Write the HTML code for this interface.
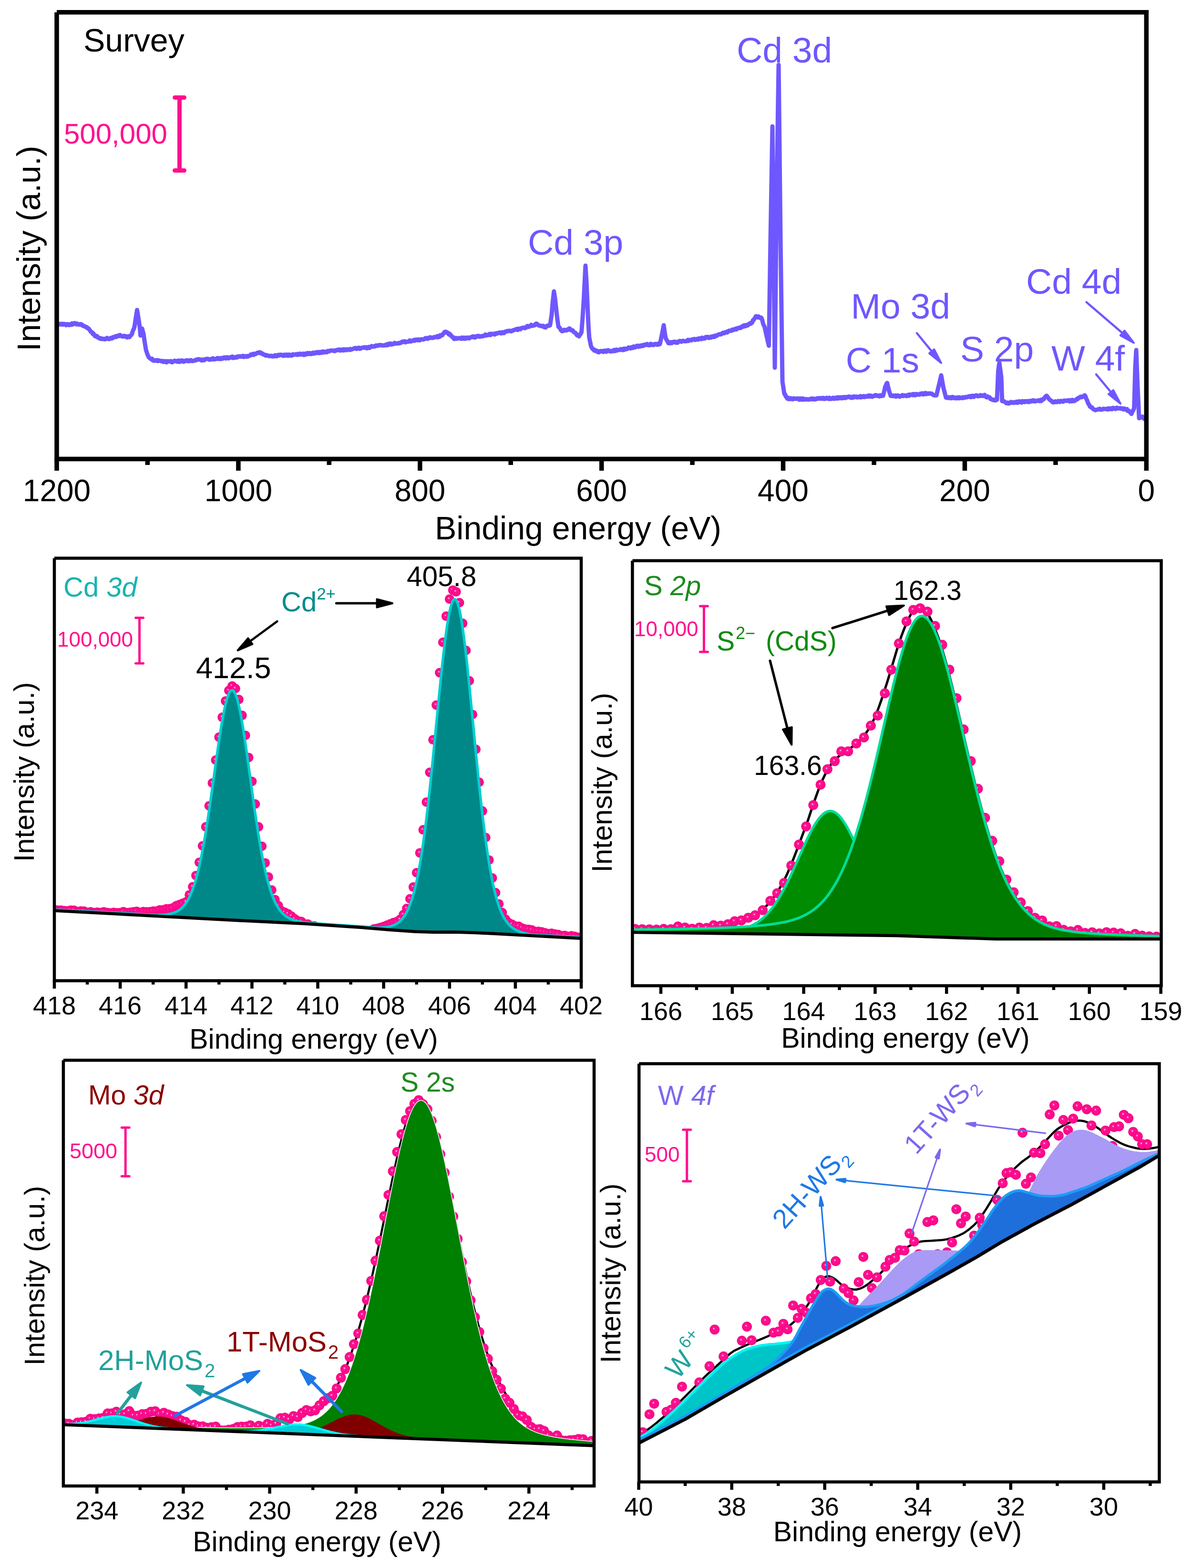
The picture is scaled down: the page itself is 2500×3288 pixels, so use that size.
<!DOCTYPE html>
<html lang="en"><head><meta charset="utf-8"><title>XPS spectra</title>
<style>
html,body{margin:0;padding:0;background:#fff;}
body{width:2500px;height:3288px;overflow:hidden;}
svg{display:block;font-family:'Liberation Sans', Arial, sans-serif;}
</style></head>
<body>
<svg width="2500" height="3288" viewBox="0 0 2500 3288">
<rect x="0" y="0" width="2500" height="3288" fill="#fff"/>
<defs>
<radialGradient id="ball" cx="0.5" cy="0.5" r="0.5" fx="0.40" fy="0.39">
<stop offset="0" stop-color="#fff0f8"/>
<stop offset="0.07" stop-color="#ffc6e3"/>
<stop offset="0.17" stop-color="#ff3aa2"/>
<stop offset="0.28" stop-color="#ff1090"/>
<stop offset="0.85" stop-color="#fb0889"/>
<stop offset="1" stop-color="#ee0580"/>
</radialGradient>
<circle id="b10" r="10" fill="url(#ball)"/>
<circle id="b10_5" r="10.5" fill="url(#ball)"/>
</defs>
<path d="M119.6 679.4 L119.6 680 L121.1 679 L122.6 680.6 L124.1 678.9 L125.6 680.4 L127.1 679.9 L128.6 679 L130.1 680.5 L131.6 679.1 L133.1 680.4 L134.6 679.4 L136.1 679.5 L137.6 680.6 L139.1 682 L140 681 L140.6 679.7 L142.1 679.8 L143.6 680.9 L145.1 681.7 L146.6 680.3 L148.1 679.5 L149.6 681.2 L151.1 678 L152.6 680.4 L154.1 678.3 L155.6 677.7 L157 678.6 L157.1 677.4 L158.6 678.3 L160.1 680.2 L161.6 678.4 L163.1 680 L164.6 680.4 L166.1 679.9 L167.6 680.7 L169.1 679.4 L170 681 L170.6 679.9 L172.1 681 L173.6 683.2 L175.1 683.1 L176.6 683.5 L178.1 685 L179.6 685.3 L181.1 685.5 L182.6 687.8 L184 687.5 L184.1 688.2 L185.6 688.4 L187.1 691 L188.6 692.5 L190.1 695.2 L191.6 696.3 L192 696 L193.1 696.6 L194.6 700.5 L196.1 699.4 L197.6 702 L199.1 704.8 L200 705 L200.6 704.1 L202.1 705.8 L203.6 705 L205.1 707.6 L206.6 708.5 L208.1 708.5 L209.6 710.1 L211.1 708.9 L212.6 710.8 L214 710.7 L214.1 711 L215.6 710.8 L217.1 710.3 L218.6 711.4 L220.1 711.6 L221.6 710 L223.1 710.5 L224.6 708.5 L226.1 710.4 L227.6 710.1 L229.1 711.1 L230.6 710.4 L232.1 708.6 L233.6 708.8 L235.1 709.6 L235.7 709 L236.6 707.1 L238.1 708 L239.6 706.5 L241.1 705.7 L242.6 705 L244.1 706.7 L245.6 704.1 L247.1 703.9 L248.6 703.8 L250 703.6 L250.1 704.8 L251.6 702.4 L253.1 703.8 L254.6 704.3 L256.1 705.5 L257.6 705.5 L259.1 705.8 L260.6 704.1 L262 705 L262.1 704.8 L263.6 704.9 L265.1 706.9 L266.6 707.4 L268.1 705.2 L269.6 705.6 L271.1 706.1 L271.4 707 L272.6 704.6 L274.1 703.6 L275.6 702 L277 700 L277.1 699 L278.6 693.8 L280.1 690.9 L281.6 686.8 L282 685.7 L283.1 678.1 L284.6 667.8 L285 665 L286.1 658.4 L287.5 650 L287.6 650.6 L289.1 659.6 L290 665 L290.6 669.1 L292.1 679.5 L293 685.7 L293.6 692.4 L294.6 703.6 L295.1 701.5 L296.6 695 L298 689 L298.1 689.4 L299.6 694.9 L301 700 L301.1 700.7 L302.6 711.1 L303.6 718 L304.1 721.1 L305.6 730.5 L306 733 L307.1 736.7 L308.6 741.2 L309 743 L310.1 745 L311.6 748.6 L313.1 750.2 L314 751 L314.6 751.4 L316.1 752.5 L317.6 753.5 L319.1 752.3 L320.6 755.8 L321.4 755 L322.1 756 L323.6 756.6 L325.1 756.6 L326.6 755.6 L328.1 755.9 L329.6 755.2 L331.1 757.2 L332.6 755.7 L334.1 756 L335.6 756.7 L337.1 756.8 L338.6 757.7 L340.1 757 L341.6 757.1 L343 759 L343.1 757.9 L344.6 757.6 L346.1 758.4 L347.6 757.3 L349.1 759.9 L350.6 759 L352.1 757.4 L353.6 757.7 L355.1 757.9 L356.6 757.9 L358.1 757.1 L359.6 759.3 L361.1 759.7 L362.6 758 L364.1 758 L365.6 756.6 L367.1 756.6 L368.6 757.3 L370.1 757 L371.6 758.7 L373.1 756.5 L374.6 756 L376.1 758.9 L377.6 757.5 L379.1 756.2 L380.6 757.4 L382.1 755.7 L383.6 757.2 L385.1 758.6 L385.7 757 L386.6 758.1 L388.1 757.5 L389.6 756 L391.1 756.2 L392.6 755.4 L394.1 757.3 L395.6 756.4 L397.1 757.1 L398.6 755.5 L400.1 755.1 L401.6 756.8 L403.1 757.3 L404.6 756.8 L406.1 756.5 L407.6 756.4 L409.1 756.1 L410.6 754.3 L412.1 755.1 L413.6 754.5 L415.1 753.3 L416.6 753.2 L418.1 753.9 L419.6 753.8 L421.1 755 L422.6 755.8 L424.1 754 L425.6 755.5 L427.1 755.5 L428.6 755.3 L430.1 753.3 L431.6 752.8 L433.1 752.7 L434.6 752.5 L436.1 752.4 L437.6 753.6 L439.1 754.4 L440.6 754.1 L442.1 752.8 L443.6 753.3 L445.1 753.6 L446.6 751.2 L448.1 753 L449.6 753.7 L451.1 753.1 L452.6 752.9 L454.1 751.9 L455.6 750.9 L457 751.8 L457.1 752.7 L458.6 751.1 L460.1 752.5 L461.6 752.9 L463.1 751 L464.6 750.8 L466.1 752.5 L467.6 751.6 L469.1 749.7 L470.6 749.5 L472.1 749.4 L473.6 751.7 L475.1 751.3 L476.6 749 L478.1 751.1 L479.6 751.4 L481.1 750.3 L482.6 749.2 L484.1 749.7 L485.6 748.2 L487.1 747.7 L488.6 750.7 L490.1 749.5 L491.6 749 L493.1 750.2 L494.6 748.4 L496.1 749.7 L497.6 749.4 L499.1 747.3 L500.6 747.3 L502.1 747.4 L503.6 747.1 L505.1 748 L506.6 746.9 L508.1 747.3 L509.6 746.2 L511.1 748.6 L512.6 746.7 L514.1 746.9 L515.6 747.2 L517.1 748.1 L518.6 746.4 L520.1 747.8 L521.4 746.4 L521.6 746.3 L523.1 746 L524.6 745.5 L526.1 743.5 L527.6 744.4 L529.1 743.1 L530.6 742.1 L532.1 744.2 L533 743 L533.6 741.7 L535.1 742.1 L536.6 742.3 L538.1 741.1 L539.6 739.8 L541.1 739.8 L542.6 739.3 L543 739 L544.1 740.3 L545.6 738.8 L547.1 740.8 L548.6 740.4 L550.1 741.1 L551.6 743.3 L553 743 L553.1 743.1 L554.6 743.7 L556.1 744.8 L557.6 745.7 L559.1 744.7 L560.6 745.7 L562.1 745.8 L563.6 746.3 L564 746.4 L565.1 747 L566.6 746.1 L568.1 746.3 L569.6 746.1 L571.1 747.5 L572.6 746.6 L574.1 747.1 L575.6 747.3 L577.1 745 L578.6 745.9 L580.1 747.1 L581.6 746.7 L583.1 744.3 L584.6 744.2 L586.1 745.2 L587.6 743.9 L589.1 744.4 L590.6 743.8 L592.1 745.6 L593.6 745.9 L595.1 746.2 L596.6 743.7 L598.1 745.5 L599.6 745.2 L601.1 743.5 L602.6 745.8 L604.1 746 L605.6 743.5 L607.1 745.8 L608.6 744 L610.1 744.2 L611.6 745.7 L613.1 745.1 L614.6 742.9 L616.1 743.7 L617.6 743.9 L619.1 743.3 L620.6 742.7 L622.1 743.1 L623.6 744.3 L625.1 742 L626.6 743.6 L628.1 743.2 L629.6 741.7 L631.1 742.7 L632.6 743.5 L634.1 743.1 L635.6 741.6 L635.7 743 L637.1 744.4 L638.6 743.6 L640.1 744 L641.6 741.1 L643.1 741.4 L644.6 740.5 L646.1 742.7 L647.6 740.9 L649.1 740.3 L650.6 741.1 L652.1 742.5 L653.6 742 L655.1 740 L656.6 739.5 L658.1 741.8 L659.6 740.5 L661.1 740.8 L662.6 738.6 L664.1 738.4 L665.6 740.2 L667.1 739.2 L668.6 737.9 L670.1 740.5 L671.6 739.4 L673.1 739.7 L674.6 737.3 L676.1 739.6 L677.6 736.9 L679.1 739.2 L680.6 737.8 L682.1 737.2 L683.6 737.7 L685.1 738.8 L686.6 736.5 L688.1 735.9 L689.6 737 L691.1 735.9 L692.6 735.3 L694.1 735.3 L695.6 734.8 L697.1 735.1 L698.6 735.3 L700 735.7 L700.1 735.1 L701.6 736.4 L703.1 734.7 L704.6 735.2 L706.1 734.1 L707.6 734.5 L709.1 733.2 L710.6 733.8 L712.1 732.9 L713.6 735.1 L715.1 734.4 L716.6 733 L718.1 733.8 L719.6 735.1 L721.1 732.3 L722.6 734.5 L724.1 733.1 L725.6 733.1 L727.1 734.1 L728.6 732.5 L730.1 732.7 L731.6 733.1 L733.1 733.9 L734.6 731.7 L736.1 733.2 L737.6 732.6 L739.1 732.2 L740.6 731.3 L742.1 731 L743.6 729.9 L745.1 730 L746.6 729.7 L748.1 731.7 L749.6 730 L751.1 729.5 L752.6 729.1 L754.1 731.4 L755.6 731.3 L757.1 730.5 L758.6 729.1 L760.1 728.9 L761.6 728.9 L763.1 729.3 L764.6 728.1 L766.1 728.9 L767.6 728.2 L769.1 730.3 L770.6 730.2 L771 728.6 L772.1 728.6 L773.6 727.4 L775.1 729.5 L776.6 727.2 L778.1 727.1 L779.6 725.7 L781.1 726.7 L782.6 726.8 L784.1 726.7 L785.6 725.5 L787.1 726.2 L788.6 724.4 L790.1 725 L791.6 724.2 L793.1 725 L794.6 723.6 L796.1 723.3 L797.6 724 L799.1 723.6 L800.6 724.5 L802.1 724.1 L803.6 724.6 L805.1 724 L806.6 724 L808.1 724.3 L809.6 722.5 L811.1 722.1 L812.6 724 L814.1 721.1 L815.6 722.7 L817.1 722.2 L818.6 720.1 L820.1 722.4 L821.6 722.3 L823.1 721.3 L824.6 721.4 L826.1 721.4 L827.6 719 L829.1 720 L830.6 719.8 L832.1 720.6 L833.6 720.3 L835.1 720.1 L836.6 719.1 L838.1 719.9 L839.6 719 L841.1 718.8 L842.6 717.1 L843 717.9 L844.1 716.2 L845.6 716.3 L847.1 716.8 L848.6 715.8 L850.1 717.9 L851.6 716.8 L853.1 716.8 L854.6 716.5 L856.1 716.5 L857.6 715.6 L859.1 713.8 L860.6 716.2 L862.1 715.8 L863.6 714.7 L865.1 714.6 L866.6 714.8 L868.1 712.7 L869.6 714.6 L871.1 712.8 L872.6 712 L874.1 712.4 L875.6 713.6 L877.1 711.7 L878.6 713.2 L880.1 713.7 L881.6 712 L883.1 711.4 L884.6 711.4 L886.1 711.9 L887.6 711.9 L889.1 711.2 L890.6 711 L892.1 709 L893.6 709 L895.1 709.1 L896.6 710.4 L898.1 708.8 L899.6 709.4 L901.1 707.4 L902.6 707.3 L904.1 707.8 L905.6 708.8 L907.1 708.7 L908.6 708.4 L910.1 706.9 L911.6 707.4 L913.1 707 L914 707 L914.6 706.7 L916.1 705.2 L917.6 707.3 L919.1 704.6 L920.6 706.7 L922.1 706.2 L923.6 702.8 L925 704 L925.1 703.8 L926.6 703.5 L928.1 702.6 L929.6 699.6 L931.1 697.6 L932.6 696.1 L934 695.7 L934.1 697.2 L935.6 695.7 L937.1 697.7 L938.6 697.2 L940.1 699.3 L941.6 701.5 L943.1 699.8 L944.6 702.8 L944.6 701.8 L946.1 703.3 L947.6 706 L949.1 706.9 L950.6 706.9 L952.1 710.5 L953.6 710.7 L953.6 710.7 L955.1 709 L956.6 708.8 L958.1 710.3 L959.6 710 L961.1 709.4 L962.6 708.8 L964.1 709.3 L965.6 709.1 L967.1 710.6 L968.6 707.8 L970.1 710.1 L971.6 710.2 L973.1 707.8 L974.6 710.2 L976.1 709.4 L977.6 709.9 L979.1 707.8 L980.6 707.9 L982.1 707.9 L983.6 709.7 L985.1 708.2 L985.7 707.9 L986.6 707.3 L988.1 707.3 L989.6 706.6 L991.1 705.6 L992.6 705.6 L994.1 707.7 L995.6 705.7 L997.1 707.6 L998.6 705.1 L1000.1 704.9 L1001.6 705.5 L1003.1 704.2 L1004.6 704.6 L1006.1 706.2 L1007.6 705.8 L1009.1 705.3 L1010.6 704.5 L1012.1 705.2 L1013.6 705 L1015.1 703.6 L1016.6 703.9 L1018.1 701.5 L1019.6 703.5 L1021.1 702.3 L1022.6 703.1 L1024.1 702.5 L1025.6 701.1 L1027.1 700.1 L1028.6 702.7 L1030.1 699.9 L1031.6 700.8 L1033.1 700.2 L1034.6 699.8 L1036.1 701 L1037.6 701.5 L1039.1 699 L1040.6 700 L1042.1 698.6 L1043.6 699.2 L1045.1 698.5 L1046.6 697.5 L1048.1 697.3 L1049.6 697.2 L1051.1 699.2 L1052.6 697.7 L1054.1 696.5 L1055.6 698.5 L1057 697 L1057.1 698.6 L1058.6 696.5 L1060.1 695.2 L1061.6 695 L1063.1 694.3 L1064.6 694.8 L1066.1 693.7 L1067.6 693.8 L1069.1 693.5 L1070.6 694.2 L1072.1 694.9 L1073.6 694.1 L1075.1 692.7 L1076.6 692.4 L1078.1 692.4 L1079.6 691.6 L1081.1 691.1 L1082.6 689.9 L1084.1 690.3 L1085.6 692.1 L1087.1 689.1 L1088.6 690 L1090.1 690.1 L1091.6 690.5 L1093 689 L1093.1 688.1 L1094.6 687.8 L1096.1 687.3 L1097.6 687.3 L1099.1 687 L1100.6 688.2 L1102.1 687.4 L1103.6 687.1 L1105.1 683.9 L1106.6 683.5 L1108.1 685.2 L1109.6 685.4 L1111.1 683.6 L1112.6 683.5 L1114.1 681.2 L1115.6 682 L1117.1 683.3 L1118.6 682.5 L1120.1 682.2 L1121.6 682.1 L1123.1 679.4 L1124.6 678.5 L1125 679.6 L1126.1 678.9 L1127.6 680.6 L1129.1 681.6 L1130.6 682.9 L1132.1 682.7 L1133.6 683 L1135.1 683.9 L1136.6 683.4 L1138.1 684.2 L1139.6 683.1 L1141.1 686 L1142.6 684.7 L1143 685.7 L1144.1 686.7 L1145.6 685.3 L1147.1 683.6 L1148.6 682.6 L1150.1 682.4 L1151.6 683.1 L1153.1 682.2 L1153.6 682 L1154.6 675.5 L1156.1 665.8 L1157 660 L1157.6 652.7 L1159 635.7 L1159.1 634.8 L1160.6 621.6 L1161.8 611 L1162.1 612.9 L1163.6 622.5 L1164 625 L1165.1 634.9 L1166 643 L1166.6 648.4 L1168.1 661.9 L1169 670 L1169.6 673.9 L1171.1 684.4 L1171.4 685.7 L1172.6 685.9 L1174.1 687.7 L1175.6 691 L1177.1 693 L1178.6 694.2 L1178.6 694.6 L1180.1 693.2 L1181.6 693.9 L1183.1 691.5 L1184.6 692 L1186.1 692 L1187.6 693.1 L1189.1 691.6 L1190.6 691.9 L1192.1 690 L1193.6 688.8 L1194.6 689.3 L1195.1 688.9 L1196.6 692.3 L1198.1 692.5 L1199.6 692.4 L1201.1 692.6 L1202.6 695.2 L1204.1 696.9 L1205 697 L1205.6 697.3 L1207.1 698.1 L1208.6 700.8 L1210.1 703 L1211.6 702.1 L1213.1 702.8 L1214.3 705.4 L1214.6 704.4 L1216.1 702.1 L1217.6 700.4 L1219.1 697.2 L1219.6 696.4 L1220.6 683.3 L1222 665 L1222.1 663.4 L1223.6 639.7 L1224.3 628.6 L1225.1 612.7 L1226.6 582.9 L1227.9 557 L1228.1 560.1 L1229.6 583.7 L1230 590 L1231.1 615.1 L1232 635.7 L1232.6 649 L1234 680 L1234.1 681.6 L1235.6 705.4 L1235.7 707 L1237.1 714.2 L1238.6 721 L1239 724 L1240.1 727.2 L1241.6 730 L1243 732 L1243.1 732.1 L1244.6 731.9 L1246.1 735.1 L1247.6 733.8 L1249.1 736.2 L1250.6 735.1 L1252.1 735.8 L1253.6 738.3 L1253.6 737.5 L1255.1 736.7 L1256.6 738.7 L1258.1 737.1 L1259.6 736 L1261.1 736 L1262.6 736.6 L1264.1 737.2 L1265.6 738 L1267.1 735.4 L1268.6 736 L1270.1 735.3 L1271.6 737.7 L1273.1 734.9 L1274.6 734.5 L1276.1 734.4 L1277.6 735.3 L1279.1 736.9 L1280.6 736.7 L1282.1 736.1 L1283.6 736.8 L1285.1 736.5 L1286.6 734.5 L1288.1 733.9 L1289.6 736.2 L1291.1 735.5 L1292.6 733.1 L1294.1 735 L1295.6 733.9 L1297.1 733.8 L1298.6 733.6 L1300 734 L1300.1 732.9 L1301.6 732.1 L1303.1 732.7 L1304.6 732.6 L1306.1 734.2 L1307.6 731.2 L1309.1 733.6 L1310.6 730.9 L1312.1 731.1 L1313.6 732.2 L1315.1 731.9 L1316.6 730.4 L1318.1 728.8 L1319.6 729.9 L1321.1 729.3 L1322.6 730.7 L1324.1 728.1 L1325.6 728.3 L1327.1 729.7 L1328.6 726.6 L1330.1 727.5 L1331.6 728.5 L1333.1 728.1 L1334.6 725.4 L1336.1 725.1 L1337.6 724.9 L1339.1 727.3 L1340.6 724.9 L1342.1 726.2 L1343.6 726.3 L1345.1 724.2 L1346.6 723.7 L1348.1 725.6 L1349.6 724.2 L1351.1 722.8 L1352.6 723.9 L1353.6 723 L1354.1 722.4 L1355.6 722.2 L1357.1 721.2 L1358.6 723.6 L1360.1 724 L1361.6 723 L1363.1 723.9 L1364.6 720.9 L1366.1 721.5 L1367.6 722.2 L1369.1 723.6 L1370.6 723.6 L1372.1 721.7 L1373.6 721.2 L1375.1 721.6 L1376.6 721.8 L1378.1 723.1 L1379.6 720.6 L1381.1 722.5 L1382.6 722.2 L1384 721.4 L1384.1 720.9 L1385.6 714 L1387.1 707 L1388.6 700 L1388.6 700 L1390.1 692.1 L1391.6 684.1 L1392 682 L1393.1 689.4 L1394.6 699.6 L1395.7 707 L1396.1 708.9 L1397.6 711.8 L1399.1 714.4 L1400.6 716.6 L1401.8 719.6 L1402.1 719 L1403.6 718.9 L1405.1 720.1 L1406.6 717.6 L1408.1 717.8 L1409.6 719.3 L1411.1 717.5 L1412.6 716.7 L1414.1 716.4 L1415.6 717.9 L1417.1 717 L1418.6 718.9 L1420.1 718.3 L1421.6 718.5 L1423.1 716 L1424.6 715.2 L1426.1 715 L1427.6 716.1 L1429.1 716.6 L1430.6 715.5 L1432.1 714.6 L1433.6 715 L1435.1 715.5 L1436.6 715.4 L1438.1 715.5 L1439.6 715.6 L1441.1 714.8 L1442.6 712.8 L1443 714 L1444.1 714.9 L1445.6 712.9 L1447.1 713.6 L1448.6 712.7 L1450.1 713.6 L1451.6 711.7 L1453.1 711.6 L1454.6 711.4 L1456.1 710.8 L1457.6 712.9 L1459.1 711.7 L1460.6 710.7 L1462.1 710.7 L1463.6 712.3 L1465.1 710.5 L1466.6 709.4 L1468.1 711 L1469.6 710.3 L1471.1 711.1 L1472.6 708.1 L1474.1 709 L1475.6 709.9 L1477.1 709.7 L1478.6 709.7 L1480.1 706.7 L1481.6 707.2 L1483.1 706.4 L1484.6 706.4 L1486.1 708.7 L1487.6 707.2 L1489.1 708.1 L1490.6 706.1 L1492.1 707.4 L1493.6 705.8 L1495.1 705 L1496.6 706.4 L1498.1 706.7 L1499.6 703.8 L1500 705 L1501.1 704.9 L1502.6 704.5 L1504.1 702.7 L1505.6 702.6 L1507.1 701.4 L1508.6 701 L1510.1 700.7 L1511.6 701.3 L1513.1 700.9 L1514.6 698.9 L1516.1 697.8 L1517.6 698.3 L1519.1 698.9 L1520.6 696.8 L1522.1 696.7 L1523.6 695.8 L1525.1 697.2 L1526.6 695.8 L1528.1 693.8 L1529.6 693.4 L1531.1 693.8 L1532.6 693.8 L1534.1 693.5 L1535.6 691.2 L1537.1 690.9 L1538.6 692.1 L1540.1 690.7 L1541.6 689.7 L1543.1 689.3 L1544.6 690.8 L1546.1 688.3 L1547.6 688.6 L1549.1 687.4 L1550 687.5 L1550.6 687 L1552.1 687.9 L1553.6 687.8 L1555.1 685.2 L1556.6 684.2 L1558.1 685.3 L1559.6 683.1 L1561.1 682 L1562.6 684.3 L1564.1 682.2 L1565.6 683 L1567.1 681.1 L1568.6 682.1 L1570.1 680.2 L1571.6 678.7 L1573.1 677.7 L1574.6 678.9 L1575 678.6 L1576.1 677.5 L1577.6 676.3 L1579.1 671.5 L1580.6 671.1 L1582.1 668.2 L1583.6 666.6 L1585.1 663.3 L1585.7 663.6 L1586.6 663.1 L1588.1 664.2 L1589.6 665.8 L1591.1 663.6 L1592.6 665.1 L1594.1 666.5 L1595.6 667.3 L1596.4 666 L1597.1 666.9 L1598.6 670.8 L1600.1 677.5 L1601.6 681.7 L1603.1 684.3 L1603.6 685.7 L1604.6 690.2 L1606.1 696.9 L1607.6 703.7 L1609 710 L1609.1 710.4 L1610.6 716.9 L1612.1 723.3 L1612.5 725 L1613.6 654.3 L1615.1 557.9 L1616 500 L1616.6 464.8 L1618.1 376.6 L1619.6 288.5 L1620 265 L1621.1 368.4 L1622.5 500 L1622.6 510.8 L1624.1 673.4 L1625 771 L1625.6 715.4 L1627.1 576.2 L1628.6 437.1 L1629 400 L1630.1 327.4 L1631.6 228.4 L1633 136 L1633.1 145.1 L1634.6 281.6 L1636.1 418.1 L1637 500 L1637.6 545 L1639.1 657.5 L1640.6 770 L1641 800 L1642.1 807.1 L1643.6 816.9 L1645 826 L1645.1 826.1 L1646.6 826.8 L1648.1 831.7 L1649.6 832 L1651.1 835.7 L1652 835.7 L1652.6 836.1 L1654.1 836.8 L1655.6 834.8 L1657.1 836.8 L1658.6 835.1 L1660.1 835.7 L1661.6 837.2 L1663.1 837.2 L1664.6 835.2 L1666.1 835.4 L1667.6 836.1 L1669.1 836.5 L1670.6 836.1 L1672.1 835.4 L1673.6 835.8 L1675.1 837.4 L1676.6 838.1 L1678.1 835.4 L1679.6 837.1 L1681.1 837.8 L1682.6 835.6 L1684.1 838.2 L1685.6 836 L1687.1 837.6 L1688.6 837.5 L1690.1 837.8 L1691.6 836.8 L1693 837.5 L1693.1 837.2 L1694.6 837.7 L1696.1 837.1 L1697.6 837.8 L1699.1 837 L1700.6 836.9 L1702.1 835.5 L1703.6 837.4 L1705.1 836.9 L1706.6 836 L1708.1 837.6 L1709.6 837.6 L1711.1 836.5 L1712.6 835.5 L1714.1 836.4 L1715.6 835.1 L1717.1 835.1 L1718.6 836 L1720.1 834.9 L1721.6 835.9 L1723.1 836 L1724.6 834.5 L1726.1 836.3 L1727.6 834.5 L1729.1 836.5 L1730.6 836.5 L1732.1 835.6 L1733.6 834.1 L1735.1 835.4 L1736.6 835 L1738.1 836.7 L1739.6 834 L1741.1 836.3 L1742.6 836.6 L1744.1 835.7 L1745.6 835.9 L1747.1 833.9 L1748.6 836.3 L1750.1 834.7 L1751.6 836.1 L1753.1 835.9 L1754.6 833.4 L1756.1 835.3 L1757.6 835.7 L1759.1 832.9 L1760.6 833.7 L1762.1 834.9 L1763.6 832.9 L1764 834 L1765.1 835.2 L1766.6 833.1 L1768.1 834.8 L1769.6 832.5 L1771.1 833.6 L1772.6 834.9 L1774.1 832.5 L1775.6 832.6 L1777.1 833.3 L1778.6 832.6 L1780.1 831.6 L1781.6 832 L1783.1 831.9 L1784.6 834.3 L1786.1 833.3 L1787.6 834 L1789.1 831.5 L1790.6 833.4 L1792.1 831.2 L1793.6 832.5 L1795.1 832.7 L1796.6 831.7 L1798.1 833.3 L1799.6 832.2 L1801.1 832.2 L1802.6 833.1 L1804.1 830.5 L1805.6 833.3 L1807.1 832 L1808.6 831.2 L1810.1 832.4 L1811.6 830.6 L1813.1 832.8 L1814.6 831.4 L1816.1 830.7 L1817.6 831.9 L1819.1 830.8 L1820.6 829.8 L1822.1 831.6 L1823.6 829.2 L1825.1 831.6 L1826.6 829.7 L1828.1 830.9 L1829.6 831.9 L1831.1 830.5 L1832.6 830.7 L1834.1 829.5 L1835.6 828.4 L1836 830 L1837.1 828.5 L1838.6 828.9 L1840.1 830.4 L1841.6 829.8 L1843.1 830 L1844.6 831.3 L1846.1 828.8 L1847.6 829.1 L1849.1 830.5 L1850.6 828.5 L1852 830 L1852.1 829.6 L1853.6 823.8 L1855.1 818 L1856.6 810.7 L1857 810.7 L1858.1 807.9 L1859.6 804 L1860.7 803 L1861.1 804.7 L1862.6 811 L1864.1 817.2 L1865 821 L1865.6 822.8 L1867.1 826.8 L1868 830 L1868.6 829.1 L1870.1 830.4 L1871.6 830.4 L1873.1 829.3 L1874.6 830.7 L1876.1 830.2 L1877.6 829.2 L1879.1 831.8 L1880.6 829.7 L1882.1 829.4 L1883.6 829.3 L1885.1 831.1 L1885.7 830.7 L1886.6 831.8 L1888.1 831.4 L1889.6 830 L1891.1 829.4 L1892.6 828.5 L1894.1 830.4 L1895.6 830 L1897.1 829.1 L1898.6 829.9 L1900.1 829.2 L1901.6 830.6 L1903.1 829.8 L1904.6 828.1 L1906.1 830.1 L1907.6 827.2 L1909.1 828.6 L1910.6 828 L1912.1 827.4 L1913.6 826.6 L1915.1 828.8 L1916.6 826.2 L1918.1 827.8 L1919.6 828.9 L1921.1 826.2 L1922.6 826.3 L1924.1 827.4 L1925.6 827 L1927.1 827.2 L1928.6 827.6 L1930.1 825.5 L1931.6 825.8 L1933.1 825.6 L1934.6 824.6 L1936.1 827.2 L1937.6 826.7 L1939.1 826.3 L1940.6 823.9 L1942.1 826.5 L1943.6 826 L1945.1 825 L1946 825 L1946.6 825.9 L1948.1 825.3 L1949.6 824.9 L1951.1 824.9 L1952.6 825.6 L1954.1 825.3 L1955.6 826.6 L1957.1 828.3 L1958.6 828.4 L1960.1 829.2 L1961.6 829.1 L1963.1 828.1 L1964 829 L1964.6 826.5 L1966.1 820.3 L1967.6 814 L1969.1 807.8 L1969.6 805.7 L1970.6 801.5 L1972.1 795.1 L1973.6 788.7 L1974 787 L1975.1 793.2 L1976.6 801.7 L1978.1 810.2 L1978.6 813 L1979.6 816.8 L1981.1 822.5 L1982.6 828.3 L1984 833.6 L1984.1 833.8 L1985.6 833.4 L1987.1 834.6 L1988.6 833.7 L1990.1 832.9 L1991.6 834.2 L1993.1 835.2 L1994.6 832.9 L1996.1 835 L1997.6 832.3 L1999.1 833.1 L2000.6 833 L2002.1 834.7 L2003.6 835.3 L2005.1 834.7 L2006.6 833.4 L2008.1 835.2 L2009.6 833.4 L2010.7 834 L2011.1 833.1 L2012.6 835.1 L2014.1 834.1 L2015.6 834.2 L2017.1 833.9 L2018.6 834.8 L2020.1 833 L2021.6 834.1 L2023.1 833.5 L2024.6 833.8 L2026.1 832.4 L2027.6 833.1 L2029.1 832.5 L2030.6 831.5 L2032.1 831.1 L2033.6 832.2 L2035.1 830.4 L2036.6 832.9 L2038.1 830.3 L2039.6 829.8 L2041.1 829.9 L2042.6 832.4 L2044.1 830.4 L2045.6 829.6 L2047.1 829.1 L2048.6 829 L2050.1 830.9 L2051.6 830.6 L2053.1 830.7 L2054.6 830.6 L2056.1 828.4 L2057.6 829.9 L2059.1 829 L2060.6 830.3 L2062.1 830.2 L2063.6 830.3 L2064 829 L2065.1 828.1 L2066.6 831.4 L2068.1 832.3 L2069.6 833.2 L2071.1 831.2 L2072.6 832.3 L2074.1 832.7 L2075.6 833.2 L2077.1 836.5 L2078.6 837.1 L2080.1 837.3 L2081.6 838.6 L2083.1 838.8 L2084.6 838.4 L2085.7 839.6 L2086.1 838.2 L2087.6 837.7 L2089.1 839.4 L2090.6 838.1 L2091 838 L2092.1 812.2 L2093.6 777 L2093.6 777 L2095.1 766.1 L2096 761 L2096.6 765.5 L2098.1 776.7 L2099.6 788 L2100 791 L2101.1 821.6 L2101.8 841 L2102.6 840.8 L2104.1 841.8 L2105.6 841.2 L2107.1 842.6 L2108.6 843.4 L2110.1 845.4 L2110.7 845 L2111.6 844.5 L2113.1 844.3 L2114.6 846.2 L2116.1 844.6 L2117.6 845.6 L2119.1 844.8 L2120.6 842.8 L2122.1 843.9 L2123.6 843.9 L2125.1 844.8 L2126.6 843.4 L2128.1 844.4 L2129.6 843.8 L2131.1 842.6 L2132.6 844.6 L2134.1 842 L2135.6 844.2 L2137.1 842 L2138.6 841.4 L2140.1 841.9 L2141.6 843.6 L2143.1 844.2 L2144.6 841 L2146.1 842.4 L2147.6 842.3 L2149.1 843.2 L2150.6 841.1 L2152.1 842 L2153.6 841.4 L2155.1 842.9 L2156.6 840.9 L2158.1 843 L2159.6 840.8 L2161.1 840.5 L2162.6 841.9 L2164.1 841.1 L2165.6 839.8 L2167.1 841.4 L2168.6 839.5 L2170.1 841.6 L2171.6 841.2 L2173.1 841.4 L2174.6 840.8 L2176.1 839.8 L2177.6 839.9 L2179.1 839.7 L2180.6 841.2 L2182.1 838.5 L2183.6 841 L2185.1 838.1 L2185.7 839.6 L2186.6 837.7 L2188.1 836.3 L2189.6 836.7 L2191.1 833.8 L2192.6 831.8 L2194.1 831.8 L2194.6 830 L2195.6 830.2 L2197.1 832.5 L2198.6 834.3 L2200.1 836.6 L2201.6 838.1 L2203.1 839.4 L2204.6 840 L2206.1 841.5 L2207 843 L2207.6 841.9 L2209.1 843.9 L2210.6 843.3 L2212.1 843.4 L2213.6 841.5 L2215.1 842.2 L2216.6 843.2 L2218.1 842.4 L2219.6 840.9 L2221.1 841.8 L2222.6 843.1 L2224.1 840.9 L2225.6 840.7 L2227.1 840.9 L2228.6 842.1 L2230.1 842.4 L2231.6 840.1 L2233.1 840 L2234.6 840.2 L2236.1 840.3 L2237.6 840.8 L2239.1 839.6 L2240.6 840 L2242.1 839.4 L2243.6 841.9 L2245.1 841 L2246.6 838.8 L2248.1 841.5 L2249.6 838.6 L2251.1 839.4 L2252.6 841.2 L2253.6 839.6 L2254.1 840.3 L2255.6 839.4 L2257.1 837.7 L2258.6 836.2 L2260.1 836.8 L2261.6 834.4 L2263.1 834 L2264.6 833.8 L2266.1 831.9 L2267.6 832.3 L2269.1 832.9 L2270.6 831.8 L2272.1 830.4 L2273.6 830.1 L2275 829 L2275.1 829.1 L2276.6 831.3 L2278.1 836 L2279.6 838.6 L2281.1 842.9 L2282.6 846.6 L2284.1 848.3 L2285.6 852 L2285.7 852 L2287.1 853.7 L2288.6 853.6 L2290.1 854 L2291.6 856.6 L2293.1 858.1 L2294.6 858.7 L2296.1 859.4 L2296.4 859 L2297.6 860.1 L2299.1 859.4 L2300.6 859.2 L2302.1 858.5 L2303.6 858 L2305.1 858.9 L2306.6 857.1 L2308.1 858 L2309.6 859.1 L2311.1 858.8 L2312.6 858.4 L2314.1 857.1 L2315.6 857.6 L2317.1 857.6 L2318.6 858 L2320.1 857.3 L2321.6 858 L2323.1 858.7 L2324.6 856.2 L2326.1 857.7 L2327.6 858 L2329.1 856.6 L2330.6 856.9 L2332.1 858.3 L2333.6 855.2 L2335.1 856.8 L2336.6 855.4 L2338.1 857.3 L2339.6 857.8 L2341.1 856.3 L2342.6 854.9 L2344.1 856.3 L2345.6 856.1 L2347.1 856.6 L2348.6 855.8 L2350 855.7 L2350.1 856.2 L2351.6 857.1 L2353.1 856.5 L2354.6 856.5 L2356.1 858.6 L2357.6 856.6 L2359.1 858.4 L2360.6 857.9 L2362.1 859.4 L2363.6 857.7 L2364 859 L2365.1 861.7 L2366.6 861.1 L2368.1 861.7 L2369.6 863.9 L2371.1 865.8 L2372.6 866 L2373 868 L2374.1 865.3 L2375.6 862 L2377.1 859.6 L2378.6 855.7 L2378.6 855.7 L2380.1 802.1 L2381 770 L2381.6 759.2 L2383 734 L2383.1 736.7 L2384.6 776.5 L2385.7 805.7 L2386.1 814.3 L2387.6 846.8 L2389 877 L2389.1 876.5 L2390.6 875.5 L2392.1 874.6 L2393.6 875.5 L2395.1 875.4 L2396 873.6 L2396.6 874.3 L2398.1 874.8 L2399.6 878.2 L2401.1 878.4 L2402.6 879.4 L2403 880.7" stroke="#6E57FF" stroke-width="9" fill="none" stroke-linejoin="round" stroke-linecap="round"/>
<path d="M119 967.1 L119 25.7 M119 25.7 L2409.1 25.7 M2404.3 25.7 L2404.3 967.1 M114.2 962.4 L2409.1 962.4" stroke="#000" stroke-width="9.5" fill="none" stroke-linecap="butt"/>
<path d="M119 962.4 L119 987M499.9 962.4 L499.9 987M880.8 962.4 L880.8 987M1261.7 962.4 L1261.7 987M1642.5 962.4 L1642.5 987M2023.4 962.4 L2023.4 987M2404.3 962.4 L2404.3 987" stroke="#000" stroke-width="9.5" fill="none"/>
<path d="M309.4 962.4 L309.4 975M690.3 962.4 L690.3 975M1071.2 962.4 L1071.2 975M1452.1 962.4 L1452.1 975M1833 962.4 L1833 975M2213.9 962.4 L2213.9 975" stroke="#000" stroke-width="9.5" fill="none"/>
<text x="119" y="1051" font-size="64" fill="#000" text-anchor="middle">1200</text>
<text x="499.9" y="1051" font-size="64" fill="#000" text-anchor="middle">1000</text>
<text x="880.8" y="1051" font-size="64" fill="#000" text-anchor="middle">800</text>
<text x="1261.7" y="1051" font-size="64" fill="#000" text-anchor="middle">600</text>
<text x="1642.5" y="1051" font-size="64" fill="#000" text-anchor="middle">400</text>
<text x="2023.4" y="1051" font-size="64" fill="#000" text-anchor="middle">200</text>
<text x="2404.3" y="1051" font-size="64" fill="#000" text-anchor="middle">0</text>
<text x="1212.5" y="1131" font-size="68" fill="#000" text-anchor="middle">Binding energy (eV)</text>
<text x="84" y="521" font-size="68" fill="#000" text-anchor="middle" transform="rotate(-90 84 521)">Intensity (a.u.)</text>
<text x="175" y="108" font-size="68" fill="#000" text-anchor="start">Survey</text>
<path d="M376.5 204.5 L376.5 357.5 M366.5 204.5 L386.5 204.5 M366.5 357.5 L386.5 357.5" stroke="#FF0F8E" stroke-width="9" fill="none" stroke-linecap="round"/>
<text x="134" y="301" font-size="60" fill="#FF0F8E" text-anchor="start">500,000</text>
<text x="1107" y="534" font-size="75" fill="#6E57FF" text-anchor="start">Cd 3p</text>
<text x="1545" y="131.4" font-size="75" fill="#6E57FF" text-anchor="start">Cd 3d</text>
<text x="1993" y="668" font-size="75" fill="#6E57FF" text-anchor="end">Mo 3d</text>
<text x="1928" y="780.7" font-size="75" fill="#6E57FF" text-anchor="end">C 1s</text>
<text x="2014" y="757.5" font-size="75" fill="#6E57FF" text-anchor="start">S 2p</text>
<text x="2205" y="777" font-size="75" fill="#6E57FF" text-anchor="start">W 4f</text>
<text x="2152" y="615.7" font-size="75" fill="#6E57FF" text-anchor="start">Cd 4d</text>
<line x1="1923" y1="698.6" x2="1957.6" y2="741" stroke="#6E57FF" stroke-width="4.5" stroke-linecap="round"/><path d="M1974 761.2 L1948.9 740.9 L1959.2 732.5Z" fill="#6E57FF" stroke="#6E57FF" stroke-width="4" stroke-linejoin="round"/>
<line x1="2278.6" y1="633.6" x2="2358.3" y2="702" stroke="#6E57FF" stroke-width="4.5" stroke-linecap="round"/><path d="M2378.1 718.9 L2349.8 703.4 L2358.4 693.3Z" fill="#6E57FF" stroke="#6E57FF" stroke-width="4" stroke-linejoin="round"/>
<line x1="2299" y1="785" x2="2333.6" y2="826.6" stroke="#6E57FF" stroke-width="4.5" stroke-linecap="round"/><path d="M2350.2 846.6 L2324.9 826.5 L2335.1 818.1Z" fill="#6E57FF" stroke="#6E57FF" stroke-width="4" stroke-linejoin="round"/>
<clipPath id="c2"><path d="M114 1170.4 L114 1906.5 L114 1906.5 L487 1926.5 L640 1934 L760 1942 L820 1947 L870 1950.5 L910 1951.8 L954 1951.5 L1000 1953 L1050 1955.5 L1219 1964.7 L1219 1170.4Z"/></clipPath>
<g clip-path="url(#c2)"><use href="#b10" x="114" y="1907.2"/><use href="#b10" x="120.9" y="1908.5"/><use href="#b10" x="127.8" y="1908.4"/><use href="#b10" x="134.7" y="1909.4"/><use href="#b10" x="141.6" y="1909.9"/><use href="#b10" x="148.5" y="1908.5"/><use href="#b10" x="155.4" y="1908.8"/><use href="#b10" x="162.3" y="1911.6"/><use href="#b10" x="169.3" y="1910.2"/><use href="#b10" x="176.2" y="1910.5"/><use href="#b10" x="183.1" y="1913.2"/><use href="#b10" x="190" y="1912"/><use href="#b10" x="196.9" y="1913.5"/><use href="#b10" x="203.8" y="1912.7"/><use href="#b10" x="210.7" y="1913.4"/><use href="#b10" x="217.6" y="1912"/><use href="#b10" x="224.5" y="1913.6"/><use href="#b10" x="231.4" y="1914.3"/><use href="#b10" x="238.3" y="1913.3"/><use href="#b10" x="245.2" y="1913.9"/><use href="#b10" x="252.1" y="1913.7"/><use href="#b10" x="259" y="1911.8"/><use href="#b10" x="265.9" y="1913.8"/><use href="#b10" x="272.8" y="1913.1"/><use href="#b10" x="279.8" y="1912.1"/><use href="#b10" x="286.7" y="1911"/><use href="#b10" x="293.6" y="1913.2"/><use href="#b10" x="300.5" y="1911.6"/><use href="#b10" x="307.4" y="1911.9"/><use href="#b10" x="314.3" y="1911.8"/><use href="#b10" x="321.2" y="1910.6"/><use href="#b10" x="328.1" y="1910.4"/><use href="#b10" x="335" y="1907.9"/><use href="#b10" x="341.9" y="1908"/><use href="#b10" x="348.8" y="1905.7"/><use href="#b10" x="355.7" y="1905.6"/><use href="#b10" x="362.6" y="1903.7"/><use href="#b10" x="369.5" y="1899.2"/><use href="#b10" x="376.4" y="1896.8"/><use href="#b10" x="383.3" y="1894.1"/><use href="#b10" x="390.3" y="1891.1"/><use href="#b10" x="397.2" y="1876.4"/><use href="#b10" x="404.1" y="1859.5"/><use href="#b10" x="411" y="1835.9"/><use href="#b10" x="417.9" y="1808.2"/><use href="#b10" x="424.8" y="1773.7"/><use href="#b10" x="431.7" y="1733.8"/><use href="#b10" x="438.6" y="1689.8"/><use href="#b10" x="445.5" y="1641.9"/><use href="#b10" x="452.4" y="1593.8"/><use href="#b10" x="459.3" y="1545.8"/><use href="#b10" x="466.2" y="1504.1"/><use href="#b10" x="473.1" y="1469.9"/><use href="#b10" x="480" y="1447.9"/><use href="#b10" x="486.9" y="1438.6"/><use href="#b10" x="493.8" y="1443.7"/><use href="#b10" x="500.8" y="1466.7"/><use href="#b10" x="507.7" y="1500.1"/><use href="#b10" x="514.6" y="1541.9"/><use href="#b10" x="521.5" y="1588.4"/><use href="#b10" x="528.4" y="1638.5"/><use href="#b10" x="535.3" y="1686"/><use href="#b10" x="542.2" y="1733.8"/><use href="#b10" x="549.1" y="1774.5"/><use href="#b10" x="556" y="1809.4"/><use href="#b10" x="562.9" y="1839"/><use href="#b10" x="569.8" y="1866.3"/><use href="#b10" x="576.7" y="1886.4"/><use href="#b10" x="583.6" y="1898.9"/><use href="#b10" x="590.5" y="1910"/><use href="#b10" x="597.4" y="1913.1"/><use href="#b10" x="604.3" y="1916.3"/><use href="#b10" x="611.3" y="1921.2"/><use href="#b10" x="618.2" y="1926.8"/><use href="#b10" x="625.1" y="1931.1"/><use href="#b10" x="632" y="1932.3"/><use href="#b10" x="638.9" y="1937.5"/><use href="#b10" x="645.8" y="1937.8"/><use href="#b10" x="652.7" y="1941.5"/><use href="#b10" x="659.6" y="1941.8"/><use href="#b10" x="666.5" y="1944.8"/><use href="#b10" x="673.4" y="1946.2"/><use href="#b10" x="680.3" y="1945.7"/><use href="#b10" x="687.2" y="1948.1"/><use href="#b10" x="694.1" y="1946.8"/><use href="#b10" x="701" y="1946.8"/><use href="#b10" x="707.9" y="1949"/><use href="#b10" x="714.8" y="1947.8"/><use href="#b10" x="721.8" y="1948.8"/><use href="#b10" x="728.7" y="1949.9"/><use href="#b10" x="735.6" y="1950.8"/><use href="#b10" x="742.5" y="1949.7"/><use href="#b10" x="749.4" y="1949.6"/><use href="#b10" x="756.3" y="1952.2"/><use href="#b10" x="763.2" y="1950.6"/><use href="#b10" x="770.1" y="1952.5"/><use href="#b10" x="777" y="1951"/><use href="#b10" x="783.9" y="1948"/><use href="#b10" x="790.8" y="1946.7"/><use href="#b10" x="797.7" y="1944.7"/><use href="#b10" x="804.6" y="1942.8"/><use href="#b10" x="811.5" y="1940.1"/><use href="#b10" x="818.4" y="1937.3"/><use href="#b10" x="825.3" y="1934.5"/><use href="#b10" x="832.3" y="1932.6"/><use href="#b10" x="839.2" y="1927.9"/><use href="#b10" x="846.1" y="1917.8"/><use href="#b10" x="853" y="1904.9"/><use href="#b10" x="859.9" y="1884.7"/><use href="#b10" x="866.8" y="1860.1"/><use href="#b10" x="873.7" y="1830"/><use href="#b10" x="880.6" y="1788.4"/><use href="#b10" x="887.5" y="1740.1"/><use href="#b10" x="894.4" y="1681.9"/><use href="#b10" x="901.3" y="1619.5"/><use href="#b10" x="908.2" y="1551.3"/><use href="#b10" x="915.1" y="1478.5"/><use href="#b10" x="922" y="1410.5"/><use href="#b10" x="928.9" y="1346.8"/><use href="#b10" x="935.8" y="1292.1"/><use href="#b10" x="942.8" y="1256.3"/><use href="#b10" x="949.7" y="1237.4"/><use href="#b10" x="956.6" y="1240.9"/><use href="#b10" x="963.5" y="1263.8"/><use href="#b10" x="970.4" y="1307.1"/><use href="#b10" x="977.3" y="1363.7"/><use href="#b10" x="984.2" y="1427.5"/><use href="#b10" x="991.1" y="1498.3"/><use href="#b10" x="998" y="1571.3"/><use href="#b10" x="1004.9" y="1640.3"/><use href="#b10" x="1011.8" y="1700.6"/><use href="#b10" x="1018.7" y="1756.3"/><use href="#b10" x="1025.6" y="1803.4"/><use href="#b10" x="1032.5" y="1841.1"/><use href="#b10" x="1039.4" y="1871.8"/><use href="#b10" x="1046.3" y="1895.4"/><use href="#b10" x="1053.3" y="1913.6"/><use href="#b10" x="1060.2" y="1927.5"/><use href="#b10" x="1067.1" y="1935.1"/><use href="#b10" x="1074" y="1938.3"/><use href="#b10" x="1080.9" y="1942.1"/><use href="#b10" x="1087.8" y="1942.2"/><use href="#b10" x="1094.7" y="1945.9"/><use href="#b10" x="1101.6" y="1948.3"/><use href="#b10" x="1108.5" y="1948.7"/><use href="#b10" x="1115.4" y="1950.1"/><use href="#b10" x="1122.3" y="1953.3"/><use href="#b10" x="1129.2" y="1952.9"/><use href="#b10" x="1136.1" y="1954"/><use href="#b10" x="1143" y="1955.9"/><use href="#b10" x="1149.9" y="1957.8"/><use href="#b10" x="1156.8" y="1957"/><use href="#b10" x="1163.8" y="1958.6"/><use href="#b10" x="1170.7" y="1959.6"/><use href="#b10" x="1177.6" y="1961.9"/><use href="#b10" x="1184.5" y="1961.6"/><use href="#b10" x="1191.4" y="1963.6"/><use href="#b10" x="1198.3" y="1962.3"/><use href="#b10" x="1205.2" y="1963.5"/><use href="#b10" x="1212.1" y="1965.2"/><use href="#b10" x="1219" y="1966.5"/></g>
<path d="M114 1909.5 L116 1909.6 L118 1909.7 L120 1909.8 L122 1909.9 L124 1910 L126 1910.1 L128 1910.3 L130 1910.4 L132 1910.5 L134 1910.6 L136 1910.7 L138 1910.8 L140 1910.9 L142 1911 L144 1911.1 L146 1911.2 L148 1911.3 L150 1911.4 L152 1911.5 L154 1911.6 L156 1911.8 L158 1911.9 L160 1912 L162 1912.1 L164 1912.2 L166 1912.3 L168 1912.4 L170 1912.5 L172 1912.6 L174 1912.7 L176 1912.8 L178 1912.9 L180 1913 L182 1913.1 L184 1913.3 L186 1913.4 L188 1913.5 L190 1913.6 L192 1913.7 L194 1913.8 L196 1913.9 L198 1914 L200 1914.1 L202 1914.2 L204 1914.3 L206 1914.4 L208 1914.5 L210 1914.6 L212 1914.8 L214 1914.9 L216 1915 L218 1915.1 L220 1915.2 L222 1915.3 L224 1915.4 L226 1915.5 L228 1915.6 L230 1915.7 L232 1915.8 L234 1915.9 L236 1916 L238 1916.1 L240 1916.3 L242 1916.4 L244 1916.5 L246 1916.6 L248 1916.7 L250 1916.8 L252 1916.9 L254 1917 L256 1917.1 L258 1917.2 L260 1917.3 L262 1917.4 L264 1917.5 L266 1917.7 L268 1917.8 L270 1917.9 L272 1918 L274 1918.1 L276 1918.2 L278 1918.3 L280 1918.4 L282 1918.5 L284 1918.6 L286 1918.7 L288 1918.8 L290 1918.9 L292 1919 L294 1919.2 L296 1919.3 L298 1919.4 L300 1919.5 L302 1919.6 L304 1919.7 L306 1919.8 L308 1919.9 L310 1920 L312 1920.1 L314 1920.2 L316 1920.3 L318 1920.4 L320 1920.5 L322 1920.7 L324 1920.8 L326 1920.9 L328 1920.9 L330 1920.9 L332 1920.8 L334 1920.7 L336 1920.6 L338 1920.5 L340 1920.4 L342 1920.2 L344 1920.1 L346 1919.9 L348 1919.7 L350 1919.4 L352 1919.1 L354 1918.8 L356 1918.4 L358 1918 L360 1917.5 L362 1916.9 L364 1916.3 L366 1915.6 L368 1914.8 L370 1913.9 L372 1912.9 L374 1911.7 L376 1910.4 L378 1908.9 L380 1907.3 L382 1905.5 L384 1903.5 L386 1901.2 L388 1898.7 L390 1896 L392 1892.9 L394 1889.6 L396 1885.9 L398 1881.9 L400 1877.5 L402 1872.7 L404 1867.5 L406 1861.9 L408 1855.9 L410 1849.3 L412 1842.3 L414 1834.8 L416 1826.8 L418 1818.2 L420 1809.2 L422 1799.6 L424 1789.5 L426 1778.9 L428 1767.8 L430 1756.2 L432 1744.2 L434 1731.7 L436 1718.8 L438 1705.6 L440 1692 L442 1678.1 L444 1664 L446 1649.8 L448 1635.4 L450 1621 L452 1606.6 L454 1592.4 L456 1578.3 L458 1564.6 L460 1551.2 L462 1538.2 L464 1525.8 L466 1514 L468 1503 L470 1492.7 L472 1483.4 L474 1475.1 L476 1467.8 L478 1461.7 L480 1456.7 L482 1453 L484 1450.6 L486 1449.6 L488 1449.8 L490 1451.3 L492 1454.2 L494 1458.4 L496 1463.7 L498 1470.3 L500 1478 L502 1486.8 L504 1496.5 L506 1507.1 L508 1518.5 L510 1530.6 L512 1543.3 L514 1556.6 L516 1570.3 L518 1584.3 L520 1598.6 L522 1613.1 L524 1627.7 L526 1642.3 L528 1656.9 L530 1671.3 L532 1685.5 L534 1699.6 L536 1713.3 L538 1726.7 L540 1739.7 L542 1752.3 L544 1764.5 L546 1776.1 L548 1787.4 L550 1798.1 L552 1808.2 L554 1817.9 L556 1827.1 L558 1835.7 L560 1843.8 L562 1851.5 L564 1858.6 L566 1865.2 L568 1871.4 L570 1877.2 L572 1882.5 L574 1887.4 L576 1891.9 L578 1896.1 L580 1899.9 L582 1903.3 L584 1906.5 L586 1909.4 L588 1912.1 L590 1914.5 L592 1916.7 L594 1918.7 L596 1920.5 L598 1922.1 L600 1923.6 L602 1924.9 L604 1926.1 L606 1927.2 L608 1928.2 L610 1929.1 L612 1929.9 L614 1930.7 L616 1931.3 L618 1932 L620 1932.5 L622 1933.1 L624 1933.5 L626 1934 L628 1934.4 L630 1934.8 L632 1935.2 L634 1935.5 L636 1935.9 L638 1936.2 L640 1936.5 L642 1936.8 L644 1937.1 L646 1937.4 L648 1937.5 L650 1937.7 L652 1937.8 L654 1937.9 L656 1938.1 L658 1938.2 L660 1938.3 L662 1938.5 L664 1938.6 L666 1938.7 L668 1938.9 L670 1939 L672 1939.1 L674 1939.3 L676 1939.4 L678 1939.5 L680 1939.7 L682 1939.8 L684 1939.9 L686 1940.1 L688 1940.2 L690 1940.3 L692 1940.5 L694 1940.6 L696 1940.7 L698 1940.9 L700 1941 L702 1941.1 L704 1941.3 L706 1941.4 L708 1941.5 L710 1941.7 L712 1941.8 L714 1941.9 L716 1942.1 L718 1942.2 L720 1942.3 L722 1942.5 L724 1942.6 L726 1942.7 L728 1942.9 L730 1943 L732 1943.1 L734 1943.3 L736 1943.4 L738 1943.5 L740 1943.7 L742 1943.8 L744 1943.9 L746 1944.1 L748 1944.2 L750 1944.3 L752 1944.5 L754 1944.6 L756 1944.7 L758 1944.9 L760 1945 L762 1945.2 L764 1945.3 L766 1945.5 L768 1945.7 L770 1945.8 L772 1946 L774 1946.2 L776 1946.3 L778 1946.5 L780 1946.7 L782 1946.8 L784 1947 L786 1947.2 L788 1947.3 L790 1947.5 L792 1947.7 L794 1947.8 L796 1948 L798 1948.2 L800 1948.3 L802 1948.5 L804 1948.7 L806 1948.8 L808 1949 L810 1949.2 L812 1949.3 L814 1949.5 L816 1949.7 L818 1949.8 L820 1950 L822 1950.1 L824 1950.3 L826 1950.4 L828 1950.6 L830 1950.7 L832 1950.8 L834 1951 L836 1951.1 L838 1951.3 L840 1951.4 L842 1951.5 L844 1951.7 L846 1951.8 L848 1952 L850 1952.1 L852 1952.2 L854 1952.4 L856 1952.5 L858 1952.7 L860 1952.8 L862 1952.9 L864 1953.1 L866 1953.2 L868 1953.4 L870 1953.5 L872 1953.6 L874 1953.6 L876 1953.7 L878 1953.8 L880 1953.8 L882 1953.9 L884 1954 L886 1954 L888 1954.1 L890 1954.2 L892 1954.2 L894 1954.3 L896 1954.3 L898 1954.4 L900 1954.5 L902 1954.5 L904 1954.6 L906 1954.7 L908 1954.7 L910 1954.8 L912 1954.8 L914 1954.8 L916 1954.8 L918 1954.7 L920 1954.7 L922 1954.7 L924 1954.7 L926 1954.7 L928 1954.7 L930 1954.7 L932 1954.7 L934 1954.6 L936 1954.6 L938 1954.6 L940 1954.6 L942 1954.6 L944 1954.6 L946 1954.6 L948 1954.5 L950 1954.5 L952 1954.5 L954 1954.5 L956 1954.6 L958 1954.6 L960 1954.7 L962 1954.8 L964 1954.8 L966 1954.9 L968 1955 L970 1955 L972 1955.1 L974 1955.2 L976 1955.2 L978 1955.3 L980 1955.3 L982 1955.4 L984 1955.5 L986 1955.5 L988 1955.6 L990 1955.7 L992 1955.7 L994 1955.8 L996 1955.9 L998 1955.9 L1000 1956 L1002 1956.1 L1004 1956.2 L1006 1956.3 L1008 1956.4 L1010 1956.5 L1012 1956.6 L1014 1956.7 L1016 1956.8 L1018 1956.9 L1020 1957 L1022 1957.1 L1024 1957.2 L1026 1957.3 L1028 1957.4 L1030 1957.5 L1032 1957.6 L1034 1957.7 L1036 1957.8 L1038 1957.9 L1040 1958 L1042 1958.1 L1044 1958.2 L1046 1958.3 L1048 1958.4 L1050 1958.5 L1052 1958.6 L1054 1958.7 L1056 1958.8 L1058 1958.9 L1060 1959 L1062 1959.2 L1064 1959.3 L1066 1959.4 L1068 1959.5 L1070 1959.6 L1072 1959.7 L1074 1959.8 L1076 1959.9 L1078 1960 L1080 1960.1 L1082 1960.2 L1084 1960.4 L1086 1960.5 L1088 1960.6 L1090 1960.7 L1092 1960.8 L1094 1960.9 L1096 1961 L1098 1961.1 L1100 1961.2 L1102 1961.3 L1104 1961.4 L1106 1961.5 L1108 1961.7 L1110 1961.8 L1112 1961.9 L1114 1962 L1116 1962.1 L1118 1962.2 L1120 1962.3 L1122 1962.4 L1124 1962.5 L1126 1962.6 L1128 1962.7 L1130 1962.9 L1132 1963 L1134 1963.1 L1136 1963.2 L1138 1963.3 L1140 1963.4 L1142 1963.5 L1144 1963.6 L1146 1963.7 L1148 1963.8 L1150 1963.9 L1152 1964.1 L1154 1964.2 L1156 1964.3 L1158 1964.4 L1160 1964.5 L1162 1964.6 L1164 1964.7 L1166 1964.8 L1168 1964.9 L1170 1965 L1172 1965.1 L1174 1965.3 L1176 1965.4 L1178 1965.5 L1180 1965.6 L1182 1965.7 L1184 1965.8 L1186 1965.9 L1188 1966 L1190 1966.1 L1192 1966.2 L1194 1966.3 L1196 1966.4 L1198 1966.6 L1200 1966.7 L1202 1966.8 L1204 1966.9 L1206 1967 L1208 1967.1 L1210 1967.2 L1212 1967.3 L1214 1967.4 L1216 1967.5 L1218 1967.6 L1219 1967.7 L1219 1967.7 L1218 1967.6 L1216 1967.5 L1214 1967.4 L1212 1967.3 L1210 1967.2 L1208 1967.1 L1206 1967 L1204 1966.9 L1202 1966.8 L1200 1966.7 L1198 1966.6 L1196 1966.4 L1194 1966.3 L1192 1966.2 L1190 1966.1 L1188 1966 L1186 1965.9 L1184 1965.8 L1182 1965.7 L1180 1965.6 L1178 1965.5 L1176 1965.4 L1174 1965.3 L1172 1965.1 L1170 1965 L1168 1964.9 L1166 1964.8 L1164 1964.7 L1162 1964.6 L1160 1964.5 L1158 1964.4 L1156 1964.3 L1154 1964.2 L1152 1964.1 L1150 1963.9 L1148 1963.8 L1146 1963.7 L1144 1963.6 L1142 1963.5 L1140 1963.4 L1138 1963.3 L1136 1963.2 L1134 1963.1 L1132 1963 L1130 1962.9 L1128 1962.7 L1126 1962.6 L1124 1962.5 L1122 1962.4 L1120 1962.3 L1118 1962.2 L1116 1962.1 L1114 1962 L1112 1961.9 L1110 1961.8 L1108 1961.7 L1106 1961.5 L1104 1961.4 L1102 1961.3 L1100 1961.2 L1098 1961.1 L1096 1961 L1094 1960.9 L1092 1960.8 L1090 1960.7 L1088 1960.6 L1086 1960.5 L1084 1960.4 L1082 1960.2 L1080 1960.1 L1078 1960 L1076 1959.9 L1074 1959.8 L1072 1959.7 L1070 1959.6 L1068 1959.5 L1066 1959.4 L1064 1959.3 L1062 1959.2 L1060 1959 L1058 1958.9 L1056 1958.8 L1054 1958.7 L1052 1958.6 L1050 1958.5 L1048 1958.4 L1046 1958.3 L1044 1958.2 L1042 1958.1 L1040 1958 L1038 1957.9 L1036 1957.8 L1034 1957.7 L1032 1957.6 L1030 1957.5 L1028 1957.4 L1026 1957.3 L1024 1957.2 L1022 1957.1 L1020 1957 L1018 1956.9 L1016 1956.8 L1014 1956.7 L1012 1956.6 L1010 1956.5 L1008 1956.4 L1006 1956.3 L1004 1956.2 L1002 1956.1 L1000 1956 L998 1955.9 L996 1955.9 L994 1955.8 L992 1955.7 L990 1955.7 L988 1955.6 L986 1955.5 L984 1955.5 L982 1955.4 L980 1955.3 L978 1955.3 L976 1955.2 L974 1955.2 L972 1955.1 L970 1955 L968 1955 L966 1954.9 L964 1954.8 L962 1954.8 L960 1954.7 L958 1954.6 L956 1954.6 L954 1954.5 L952 1954.5 L950 1954.5 L948 1954.5 L946 1954.6 L944 1954.6 L942 1954.6 L940 1954.6 L938 1954.6 L936 1954.6 L934 1954.6 L932 1954.7 L930 1954.7 L928 1954.7 L926 1954.7 L924 1954.7 L922 1954.7 L920 1954.7 L918 1954.7 L916 1954.8 L914 1954.8 L912 1954.8 L910 1954.8 L908 1954.7 L906 1954.7 L904 1954.6 L902 1954.5 L900 1954.5 L898 1954.4 L896 1954.3 L894 1954.3 L892 1954.2 L890 1954.2 L888 1954.1 L886 1954 L884 1954 L882 1953.9 L880 1953.8 L878 1953.8 L876 1953.7 L874 1953.6 L872 1953.6 L870 1953.5 L868 1953.4 L866 1953.2 L864 1953.1 L862 1952.9 L860 1952.8 L858 1952.7 L856 1952.5 L854 1952.4 L852 1952.2 L850 1952.1 L848 1952 L846 1951.8 L844 1951.7 L842 1951.5 L840 1951.4 L838 1951.3 L836 1951.1 L834 1951 L832 1950.8 L830 1950.7 L828 1950.6 L826 1950.4 L824 1950.3 L822 1950.1 L820 1950 L818 1949.8 L816 1949.7 L814 1949.5 L812 1949.3 L810 1949.2 L808 1949 L806 1948.8 L804 1948.7 L802 1948.5 L800 1948.3 L798 1948.2 L796 1948 L794 1947.8 L792 1947.7 L790 1947.5 L788 1947.3 L786 1947.2 L784 1947 L782 1946.8 L780 1946.7 L778 1946.5 L776 1946.3 L774 1946.2 L772 1946 L770 1945.8 L768 1945.7 L766 1945.5 L764 1945.3 L762 1945.2 L760 1945 L758 1944.9 L756 1944.7 L754 1944.6 L752 1944.5 L750 1944.3 L748 1944.2 L746 1944.1 L744 1943.9 L742 1943.8 L740 1943.7 L738 1943.5 L736 1943.4 L734 1943.3 L732 1943.1 L730 1943 L728 1942.9 L726 1942.7 L724 1942.6 L722 1942.5 L720 1942.3 L718 1942.2 L716 1942.1 L714 1941.9 L712 1941.8 L710 1941.7 L708 1941.5 L706 1941.4 L704 1941.3 L702 1941.1 L700 1941 L698 1940.9 L696 1940.7 L694 1940.6 L692 1940.5 L690 1940.3 L688 1940.2 L686 1940.1 L684 1939.9 L682 1939.8 L680 1939.7 L678 1939.5 L676 1939.4 L674 1939.3 L672 1939.1 L670 1939 L668 1938.9 L666 1938.7 L664 1938.6 L662 1938.5 L660 1938.3 L658 1938.2 L656 1938.1 L654 1937.9 L652 1937.8 L650 1937.7 L648 1937.5 L646 1937.4 L644 1937.3 L642 1937.1 L640 1937 L638 1936.9 L636 1936.8 L634 1936.7 L632 1936.6 L630 1936.5 L628 1936.4 L626 1936.3 L624 1936.2 L622 1936.1 L620 1936 L618 1935.9 L616 1935.8 L614 1935.7 L612 1935.6 L610 1935.5 L608 1935.4 L606 1935.3 L604 1935.2 L602 1935.1 L600 1935 L598 1934.9 L596 1934.8 L594 1934.7 L592 1934.6 L590 1934.5 L588 1934.5 L586 1934.4 L584 1934.3 L582 1934.2 L580 1934.1 L578 1934 L576 1933.9 L574 1933.8 L572 1933.7 L570 1933.6 L568 1933.5 L566 1933.4 L564 1933.3 L562 1933.2 L560 1933.1 L558 1933 L556 1932.9 L554 1932.8 L552 1932.7 L550 1932.6 L548 1932.5 L546 1932.4 L544 1932.3 L542 1932.2 L540 1932.1 L538 1932 L536 1931.9 L534 1931.8 L532 1931.7 L530 1931.6 L528 1931.5 L526 1931.4 L524 1931.3 L522 1931.2 L520 1931.1 L518 1931 L516 1930.9 L514 1930.8 L512 1930.7 L510 1930.6 L508 1930.5 L506 1930.4 L504 1930.3 L502 1930.2 L500 1930.1 L498 1930 L496 1929.9 L494 1929.8 L492 1929.7 L490 1929.6 L488 1929.5 L486 1929.4 L484 1929.3 L482 1929.2 L480 1929.1 L478 1929 L476 1928.9 L474 1928.8 L472 1928.7 L470 1928.6 L468 1928.5 L466 1928.4 L464 1928.3 L462 1928.2 L460 1928.1 L458 1927.9 L456 1927.8 L454 1927.7 L452 1927.6 L450 1927.5 L448 1927.4 L446 1927.3 L444 1927.2 L442 1927.1 L440 1927 L438 1926.9 L436 1926.8 L434 1926.7 L432 1926.6 L430 1926.4 L428 1926.3 L426 1926.2 L424 1926.1 L422 1926 L420 1925.9 L418 1925.8 L416 1925.7 L414 1925.6 L412 1925.5 L410 1925.4 L408 1925.3 L406 1925.2 L404 1925 L402 1924.9 L400 1924.8 L398 1924.7 L396 1924.6 L394 1924.5 L392 1924.4 L390 1924.3 L388 1924.2 L386 1924.1 L384 1924 L382 1923.9 L380 1923.8 L378 1923.7 L376 1923.5 L374 1923.4 L372 1923.3 L370 1923.2 L368 1923.1 L366 1923 L364 1922.9 L362 1922.8 L360 1922.7 L358 1922.6 L356 1922.5 L354 1922.4 L352 1922.3 L350 1922.2 L348 1922 L346 1921.9 L344 1921.8 L342 1921.7 L340 1921.6 L338 1921.5 L336 1921.4 L334 1921.3 L332 1921.2 L330 1921.1 L328 1921 L326 1920.9 L324 1920.8 L322 1920.7 L320 1920.5 L318 1920.4 L316 1920.3 L314 1920.2 L312 1920.1 L310 1920 L308 1919.9 L306 1919.8 L304 1919.7 L302 1919.6 L300 1919.5 L298 1919.4 L296 1919.3 L294 1919.2 L292 1919 L290 1918.9 L288 1918.8 L286 1918.7 L284 1918.6 L282 1918.5 L280 1918.4 L278 1918.3 L276 1918.2 L274 1918.1 L272 1918 L270 1917.9 L268 1917.8 L266 1917.7 L264 1917.5 L262 1917.4 L260 1917.3 L258 1917.2 L256 1917.1 L254 1917 L252 1916.9 L250 1916.8 L248 1916.7 L246 1916.6 L244 1916.5 L242 1916.4 L240 1916.3 L238 1916.1 L236 1916 L234 1915.9 L232 1915.8 L230 1915.7 L228 1915.6 L226 1915.5 L224 1915.4 L222 1915.3 L220 1915.2 L218 1915.1 L216 1915 L214 1914.9 L212 1914.8 L210 1914.6 L208 1914.5 L206 1914.4 L204 1914.3 L202 1914.2 L200 1914.1 L198 1914 L196 1913.9 L194 1913.8 L192 1913.7 L190 1913.6 L188 1913.5 L186 1913.4 L184 1913.3 L182 1913.1 L180 1913 L178 1912.9 L176 1912.8 L174 1912.7 L172 1912.6 L170 1912.5 L168 1912.4 L166 1912.3 L164 1912.2 L162 1912.1 L160 1912 L158 1911.9 L156 1911.8 L154 1911.6 L152 1911.5 L150 1911.4 L148 1911.3 L146 1911.2 L144 1911.1 L142 1911 L140 1910.9 L138 1910.8 L136 1910.7 L134 1910.6 L132 1910.5 L130 1910.4 L128 1910.3 L126 1910.1 L124 1910 L122 1909.9 L120 1909.8 L118 1909.7 L116 1909.6 L114 1909.5Z" fill="#008888"/>
<path d="M114 1909.5 L116 1909.6 L118 1909.7 L120 1909.8 L122 1909.9 L124 1910 L126 1910.1 L128 1910.3 L130 1910.4 L132 1910.5 L134 1910.6 L136 1910.7 L138 1910.8 L140 1910.9 L142 1911 L144 1911.1 L146 1911.2 L148 1911.3 L150 1911.4 L152 1911.5 L154 1911.6 L156 1911.8 L158 1911.9 L160 1912 L162 1912.1 L164 1912.2 L166 1912.3 L168 1912.4 L170 1912.5 L172 1912.6 L174 1912.7 L176 1912.8 L178 1912.9 L180 1913 L182 1913.1 L184 1913.3 L186 1913.4 L188 1913.5 L190 1913.6 L192 1913.7 L194 1913.8 L196 1913.9 L198 1914 L200 1914.1 L202 1914.2 L204 1914.3 L206 1914.4 L208 1914.5 L210 1914.6 L212 1914.8 L214 1914.9 L216 1915 L218 1915.1 L220 1915.2 L222 1915.3 L224 1915.4 L226 1915.5 L228 1915.6 L230 1915.7 L232 1915.8 L234 1915.9 L236 1916 L238 1916.1 L240 1916.3 L242 1916.4 L244 1916.5 L246 1916.6 L248 1916.7 L250 1916.8 L252 1916.9 L254 1917 L256 1917.1 L258 1917.2 L260 1917.3 L262 1917.4 L264 1917.5 L266 1917.7 L268 1917.8 L270 1917.9 L272 1918 L274 1918.1 L276 1918.2 L278 1918.3 L280 1918.4 L282 1918.5 L284 1918.6 L286 1918.7 L288 1918.8 L290 1918.9 L292 1919 L294 1919.2 L296 1919.3 L298 1919.4 L300 1919.5 L302 1919.6 L304 1919.7 L306 1919.8 L308 1919.9 L310 1920 L312 1920.1 L314 1920.2 L316 1920.3 L318 1920.4 L320 1920.5 L322 1920.7 L324 1920.8 L326 1920.9 L328 1921 L330 1921.1 L332 1921.2 L334 1921.3 L336 1921.4 L338 1921.5 L340 1921.6 L342 1921.7 L344 1921.8 L346 1921.9 L348 1922 L350 1922.2 L352 1922.3 L354 1922.4 L356 1922.5 L358 1922.6 L360 1922.7 L362 1922.8 L364 1922.9 L366 1923 L368 1923.1 L370 1923.2 L372 1923.3 L374 1923.4 L376 1923.5 L378 1923.7 L380 1923.8 L382 1923.9 L384 1924 L386 1924.1 L388 1924.2 L390 1924.3 L392 1924.4 L394 1924.5 L396 1924.6 L398 1924.7 L400 1924.8 L402 1924.9 L404 1925 L406 1925.2 L408 1925.3 L410 1925.4 L412 1925.5 L414 1925.6 L416 1925.7 L418 1925.8 L420 1925.9 L422 1926 L424 1926.1 L426 1926.2 L428 1926.3 L430 1926.4 L432 1926.6 L434 1926.7 L436 1926.8 L438 1926.9 L440 1927 L442 1927.1 L444 1927.2 L446 1927.3 L448 1927.4 L450 1927.5 L452 1927.6 L454 1927.7 L456 1927.8 L458 1927.9 L460 1928.1 L462 1928.2 L464 1928.3 L466 1928.4 L468 1928.5 L470 1928.6 L472 1928.7 L474 1928.8 L476 1928.9 L478 1929 L480 1929.1 L482 1929.2 L484 1929.3 L486 1929.4 L488 1929.5 L490 1929.6 L492 1929.7 L494 1929.8 L496 1929.9 L498 1930 L500 1930.1 L502 1930.2 L504 1930.3 L506 1930.4 L508 1930.5 L510 1930.6 L512 1930.7 L514 1930.8 L516 1930.9 L518 1931 L520 1931.1 L522 1931.2 L524 1931.3 L526 1931.4 L528 1931.5 L530 1931.6 L532 1931.7 L534 1931.8 L536 1931.9 L538 1932 L540 1932.1 L542 1932.2 L544 1932.3 L546 1932.4 L548 1932.5 L550 1932.6 L552 1932.7 L554 1932.8 L556 1932.9 L558 1933 L560 1933.1 L562 1933.2 L564 1933.3 L566 1933.4 L568 1933.5 L570 1933.6 L572 1933.7 L574 1933.8 L576 1933.9 L578 1934 L580 1934.1 L582 1934.2 L584 1934.3 L586 1934.4 L588 1934.5 L590 1934.5 L592 1934.6 L594 1934.7 L596 1934.8 L598 1934.9 L600 1935 L602 1935.1 L604 1935.2 L606 1935.3 L608 1935.4 L610 1935.5 L612 1935.6 L614 1935.7 L616 1935.8 L618 1935.9 L620 1936 L622 1936.1 L624 1936.2 L626 1936.3 L628 1936.4 L630 1936.5 L632 1936.6 L634 1936.7 L636 1936.8 L638 1936.9 L640 1937 L642 1937.1 L644 1937.3 L646 1937.4 L648 1937.5 L650 1937.7 L652 1937.8 L654 1937.9 L656 1938.1 L658 1938.2 L660 1938.3 L662 1938.5 L664 1938.6 L666 1938.7 L668 1938.9 L670 1939 L672 1939.1 L674 1939.3 L676 1939.4 L678 1939.5 L680 1939.7 L682 1939.8 L684 1939.9 L686 1940.1 L688 1940.2 L690 1940.3 L692 1940.5 L694 1940.6 L696 1940.7 L698 1940.9 L700 1941 L702 1941.1 L704 1941.3 L706 1941.4 L708 1941.5 L710 1941.7 L712 1941.8 L714 1941.9 L716 1942.1 L718 1942.2 L720 1942.3 L722 1942.5 L724 1942.6 L726 1942.7 L728 1942.9 L730 1943 L732 1943.1 L734 1943.3 L736 1943.4 L738 1943.5 L740 1943.7 L742 1943.8 L744 1943.9 L746 1944.1 L748 1944.2 L750 1944.3 L752 1944.5 L754 1944.6 L756 1944.7 L758 1944.9 L760 1945 L762 1945.2 L764 1945.3 L766 1945.5 L768 1945.7 L770 1945.8 L772 1946 L774 1946.2 L776 1946.3 L778 1946.5 L780 1946.7 L782 1946.8 L784 1947 L786 1947.2 L788 1947.3 L790 1947.5 L792 1947.5 L794 1947.5 L796 1947.4 L798 1947.3 L800 1947.2 L802 1947 L804 1946.8 L806 1946.6 L808 1946.4 L810 1946.2 L812 1945.9 L814 1945.5 L816 1945.1 L818 1944.7 L820 1944.1 L822 1943.5 L824 1942.8 L826 1942 L828 1941.1 L830 1940.1 L832 1939 L834 1937.7 L836 1936.3 L838 1934.7 L840 1932.9 L842 1930.9 L844 1928.6 L846 1926.1 L848 1923.3 L850 1920.2 L852 1916.8 L854 1913 L856 1908.9 L858 1904.3 L860 1899.3 L862 1893.8 L864 1887.8 L866 1881.3 L868 1874.3 L870 1866.6 L872 1858.3 L874 1849.3 L876 1839.7 L878 1829.4 L880 1818.4 L882 1806.7 L884 1794.3 L886 1781.1 L888 1767.3 L890 1752.7 L892 1737.4 L894 1721.4 L896 1704.8 L898 1687.5 L900 1669.6 L902 1651.2 L904 1632.3 L906 1612.9 L908 1593.1 L910 1573 L912 1552.6 L914 1532 L916 1511.4 L918 1490.9 L920 1470.5 L922 1450.3 L924 1430.5 L926 1411.3 L928 1392.6 L930 1374.6 L932 1357.5 L934 1341.4 L936 1326.5 L938 1312.7 L940 1300.3 L942 1289.3 L944 1279.9 L946 1272.1 L948 1266 L950 1261.7 L952 1259.2 L954 1258.5 L956 1259.8 L958 1262.9 L960 1267.8 L962 1274.4 L964 1282.8 L966 1292.7 L968 1304.2 L970 1317.1 L972 1331.3 L974 1346.7 L976 1363.1 L978 1380.5 L980 1398.8 L982 1417.7 L984 1437.2 L986 1457.2 L988 1477.4 L990 1498 L992 1518.6 L994 1539.2 L996 1559.8 L998 1580.2 L1000 1600.3 L1002 1620.2 L1004 1639.6 L1006 1658.6 L1008 1677 L1010 1694.9 L1012 1712.1 L1014 1728.7 L1016 1744.7 L1018 1759.9 L1020 1774.4 L1022 1788.3 L1024 1801.3 L1026 1813.7 L1028 1825.4 L1030 1836.3 L1032 1846.6 L1034 1856.2 L1036 1865.1 L1038 1873.4 L1040 1881.1 L1042 1888.3 L1044 1894.8 L1046 1900.9 L1048 1906.5 L1050 1911.6 L1052 1916.3 L1054 1920.6 L1056 1924.5 L1058 1928.1 L1060 1931.3 L1062 1934.3 L1064 1936.9 L1066 1939.4 L1068 1941.6 L1070 1943.5 L1072 1945.4 L1074 1947 L1076 1948.5 L1078 1949.8 L1080 1951 L1082 1952.1 L1084 1953.2 L1086 1954.1 L1088 1954.9 L1090 1955.7 L1092 1956.4 L1094 1957.1 L1096 1957.7 L1098 1958.2 L1100 1958.8 L1102 1959.3 L1104 1959.7 L1106 1960.2 L1108 1960.6 L1110 1961 L1112 1961.3 L1114 1961.7 L1116 1962 L1118 1962.2 L1120 1962.3 L1122 1962.4 L1124 1962.5 L1126 1962.6 L1128 1962.7 L1130 1962.9 L1132 1963 L1134 1963.1 L1136 1963.2 L1138 1963.3 L1140 1963.4 L1142 1963.5 L1144 1963.6 L1146 1963.7 L1148 1963.8 L1150 1963.9 L1152 1964.1 L1154 1964.2 L1156 1964.3 L1158 1964.4 L1160 1964.5 L1162 1964.6 L1164 1964.7 L1166 1964.8 L1168 1964.9 L1170 1965 L1172 1965.1 L1174 1965.3 L1176 1965.4 L1178 1965.5 L1180 1965.6 L1182 1965.7 L1184 1965.8 L1186 1965.9 L1188 1966 L1190 1966.1 L1192 1966.2 L1194 1966.3 L1196 1966.4 L1198 1966.6 L1200 1966.7 L1202 1966.8 L1204 1966.9 L1206 1967 L1208 1967.1 L1210 1967.2 L1212 1967.3 L1214 1967.4 L1216 1967.5 L1218 1967.6 L1219 1967.7 L1219 1967.7 L1218 1967.6 L1216 1967.5 L1214 1967.4 L1212 1967.3 L1210 1967.2 L1208 1967.1 L1206 1967 L1204 1966.9 L1202 1966.8 L1200 1966.7 L1198 1966.6 L1196 1966.4 L1194 1966.3 L1192 1966.2 L1190 1966.1 L1188 1966 L1186 1965.9 L1184 1965.8 L1182 1965.7 L1180 1965.6 L1178 1965.5 L1176 1965.4 L1174 1965.3 L1172 1965.1 L1170 1965 L1168 1964.9 L1166 1964.8 L1164 1964.7 L1162 1964.6 L1160 1964.5 L1158 1964.4 L1156 1964.3 L1154 1964.2 L1152 1964.1 L1150 1963.9 L1148 1963.8 L1146 1963.7 L1144 1963.6 L1142 1963.5 L1140 1963.4 L1138 1963.3 L1136 1963.2 L1134 1963.1 L1132 1963 L1130 1962.9 L1128 1962.7 L1126 1962.6 L1124 1962.5 L1122 1962.4 L1120 1962.3 L1118 1962.2 L1116 1962.1 L1114 1962 L1112 1961.9 L1110 1961.8 L1108 1961.7 L1106 1961.5 L1104 1961.4 L1102 1961.3 L1100 1961.2 L1098 1961.1 L1096 1961 L1094 1960.9 L1092 1960.8 L1090 1960.7 L1088 1960.6 L1086 1960.5 L1084 1960.4 L1082 1960.2 L1080 1960.1 L1078 1960 L1076 1959.9 L1074 1959.8 L1072 1959.7 L1070 1959.6 L1068 1959.5 L1066 1959.4 L1064 1959.3 L1062 1959.2 L1060 1959 L1058 1958.9 L1056 1958.8 L1054 1958.7 L1052 1958.6 L1050 1958.5 L1048 1958.4 L1046 1958.3 L1044 1958.2 L1042 1958.1 L1040 1958 L1038 1957.9 L1036 1957.8 L1034 1957.7 L1032 1957.6 L1030 1957.5 L1028 1957.4 L1026 1957.3 L1024 1957.2 L1022 1957.1 L1020 1957 L1018 1956.9 L1016 1956.8 L1014 1956.7 L1012 1956.6 L1010 1956.5 L1008 1956.4 L1006 1956.3 L1004 1956.2 L1002 1956.1 L1000 1956 L998 1955.9 L996 1955.9 L994 1955.8 L992 1955.7 L990 1955.7 L988 1955.6 L986 1955.5 L984 1955.5 L982 1955.4 L980 1955.3 L978 1955.3 L976 1955.2 L974 1955.2 L972 1955.1 L970 1955 L968 1955 L966 1954.9 L964 1954.8 L962 1954.8 L960 1954.7 L958 1954.6 L956 1954.6 L954 1954.5 L952 1954.5 L950 1954.5 L948 1954.5 L946 1954.6 L944 1954.6 L942 1954.6 L940 1954.6 L938 1954.6 L936 1954.6 L934 1954.6 L932 1954.7 L930 1954.7 L928 1954.7 L926 1954.7 L924 1954.7 L922 1954.7 L920 1954.7 L918 1954.7 L916 1954.8 L914 1954.8 L912 1954.8 L910 1954.8 L908 1954.7 L906 1954.7 L904 1954.6 L902 1954.5 L900 1954.5 L898 1954.4 L896 1954.3 L894 1954.3 L892 1954.2 L890 1954.2 L888 1954.1 L886 1954 L884 1954 L882 1953.9 L880 1953.8 L878 1953.8 L876 1953.7 L874 1953.6 L872 1953.6 L870 1953.5 L868 1953.4 L866 1953.2 L864 1953.1 L862 1952.9 L860 1952.8 L858 1952.7 L856 1952.5 L854 1952.4 L852 1952.2 L850 1952.1 L848 1952 L846 1951.8 L844 1951.7 L842 1951.5 L840 1951.4 L838 1951.3 L836 1951.1 L834 1951 L832 1950.8 L830 1950.7 L828 1950.6 L826 1950.4 L824 1950.3 L822 1950.1 L820 1950 L818 1949.8 L816 1949.7 L814 1949.5 L812 1949.3 L810 1949.2 L808 1949 L806 1948.8 L804 1948.7 L802 1948.5 L800 1948.3 L798 1948.2 L796 1948 L794 1947.8 L792 1947.7 L790 1947.5 L788 1947.3 L786 1947.2 L784 1947 L782 1946.8 L780 1946.7 L778 1946.5 L776 1946.3 L774 1946.2 L772 1946 L770 1945.8 L768 1945.7 L766 1945.5 L764 1945.3 L762 1945.2 L760 1945 L758 1944.9 L756 1944.7 L754 1944.6 L752 1944.5 L750 1944.3 L748 1944.2 L746 1944.1 L744 1943.9 L742 1943.8 L740 1943.7 L738 1943.5 L736 1943.4 L734 1943.3 L732 1943.1 L730 1943 L728 1942.9 L726 1942.7 L724 1942.6 L722 1942.5 L720 1942.3 L718 1942.2 L716 1942.1 L714 1941.9 L712 1941.8 L710 1941.7 L708 1941.5 L706 1941.4 L704 1941.3 L702 1941.1 L700 1941 L698 1940.9 L696 1940.7 L694 1940.6 L692 1940.5 L690 1940.3 L688 1940.2 L686 1940.1 L684 1939.9 L682 1939.8 L680 1939.7 L678 1939.5 L676 1939.4 L674 1939.3 L672 1939.1 L670 1939 L668 1938.9 L666 1938.7 L664 1938.6 L662 1938.5 L660 1938.3 L658 1938.2 L656 1938.1 L654 1937.9 L652 1937.8 L650 1937.7 L648 1937.5 L646 1937.4 L644 1937.3 L642 1937.1 L640 1937 L638 1936.9 L636 1936.8 L634 1936.7 L632 1936.6 L630 1936.5 L628 1936.4 L626 1936.3 L624 1936.2 L622 1936.1 L620 1936 L618 1935.9 L616 1935.8 L614 1935.7 L612 1935.6 L610 1935.5 L608 1935.4 L606 1935.3 L604 1935.2 L602 1935.1 L600 1935 L598 1934.9 L596 1934.8 L594 1934.7 L592 1934.6 L590 1934.5 L588 1934.5 L586 1934.4 L584 1934.3 L582 1934.2 L580 1934.1 L578 1934 L576 1933.9 L574 1933.8 L572 1933.7 L570 1933.6 L568 1933.5 L566 1933.4 L564 1933.3 L562 1933.2 L560 1933.1 L558 1933 L556 1932.9 L554 1932.8 L552 1932.7 L550 1932.6 L548 1932.5 L546 1932.4 L544 1932.3 L542 1932.2 L540 1932.1 L538 1932 L536 1931.9 L534 1931.8 L532 1931.7 L530 1931.6 L528 1931.5 L526 1931.4 L524 1931.3 L522 1931.2 L520 1931.1 L518 1931 L516 1930.9 L514 1930.8 L512 1930.7 L510 1930.6 L508 1930.5 L506 1930.4 L504 1930.3 L502 1930.2 L500 1930.1 L498 1930 L496 1929.9 L494 1929.8 L492 1929.7 L490 1929.6 L488 1929.5 L486 1929.4 L484 1929.3 L482 1929.2 L480 1929.1 L478 1929 L476 1928.9 L474 1928.8 L472 1928.7 L470 1928.6 L468 1928.5 L466 1928.4 L464 1928.3 L462 1928.2 L460 1928.1 L458 1927.9 L456 1927.8 L454 1927.7 L452 1927.6 L450 1927.5 L448 1927.4 L446 1927.3 L444 1927.2 L442 1927.1 L440 1927 L438 1926.9 L436 1926.8 L434 1926.7 L432 1926.6 L430 1926.4 L428 1926.3 L426 1926.2 L424 1926.1 L422 1926 L420 1925.9 L418 1925.8 L416 1925.7 L414 1925.6 L412 1925.5 L410 1925.4 L408 1925.3 L406 1925.2 L404 1925 L402 1924.9 L400 1924.8 L398 1924.7 L396 1924.6 L394 1924.5 L392 1924.4 L390 1924.3 L388 1924.2 L386 1924.1 L384 1924 L382 1923.9 L380 1923.8 L378 1923.7 L376 1923.5 L374 1923.4 L372 1923.3 L370 1923.2 L368 1923.1 L366 1923 L364 1922.9 L362 1922.8 L360 1922.7 L358 1922.6 L356 1922.5 L354 1922.4 L352 1922.3 L350 1922.2 L348 1922 L346 1921.9 L344 1921.8 L342 1921.7 L340 1921.6 L338 1921.5 L336 1921.4 L334 1921.3 L332 1921.2 L330 1921.1 L328 1921 L326 1920.9 L324 1920.8 L322 1920.7 L320 1920.5 L318 1920.4 L316 1920.3 L314 1920.2 L312 1920.1 L310 1920 L308 1919.9 L306 1919.8 L304 1919.7 L302 1919.6 L300 1919.5 L298 1919.4 L296 1919.3 L294 1919.2 L292 1919 L290 1918.9 L288 1918.8 L286 1918.7 L284 1918.6 L282 1918.5 L280 1918.4 L278 1918.3 L276 1918.2 L274 1918.1 L272 1918 L270 1917.9 L268 1917.8 L266 1917.7 L264 1917.5 L262 1917.4 L260 1917.3 L258 1917.2 L256 1917.1 L254 1917 L252 1916.9 L250 1916.8 L248 1916.7 L246 1916.6 L244 1916.5 L242 1916.4 L240 1916.3 L238 1916.1 L236 1916 L234 1915.9 L232 1915.8 L230 1915.7 L228 1915.6 L226 1915.5 L224 1915.4 L222 1915.3 L220 1915.2 L218 1915.1 L216 1915 L214 1914.9 L212 1914.8 L210 1914.6 L208 1914.5 L206 1914.4 L204 1914.3 L202 1914.2 L200 1914.1 L198 1914 L196 1913.9 L194 1913.8 L192 1913.7 L190 1913.6 L188 1913.5 L186 1913.4 L184 1913.3 L182 1913.1 L180 1913 L178 1912.9 L176 1912.8 L174 1912.7 L172 1912.6 L170 1912.5 L168 1912.4 L166 1912.3 L164 1912.2 L162 1912.1 L160 1912 L158 1911.9 L156 1911.8 L154 1911.6 L152 1911.5 L150 1911.4 L148 1911.3 L146 1911.2 L144 1911.1 L142 1911 L140 1910.9 L138 1910.8 L136 1910.7 L134 1910.6 L132 1910.5 L130 1910.4 L128 1910.3 L126 1910.1 L124 1910 L122 1909.9 L120 1909.8 L118 1909.7 L116 1909.6 L114 1909.5Z" fill="#008888"/>
<path d="M114 1907.5 L116 1907.6 L118 1907.7 L120 1907.8 L122 1907.9 L124 1908 L126 1908.1 L128 1908.3 L130 1908.4 L132 1908.5 L134 1908.6 L136 1908.7 L138 1908.8 L140 1908.9 L142 1909 L144 1909.1 L146 1909.2 L148 1909.3 L150 1909.4 L152 1909.5 L154 1909.6 L156 1909.8 L158 1909.9 L160 1910 L162 1910.1 L164 1910.2 L166 1910.3 L168 1910.4 L170 1910.5 L172 1910.6 L174 1910.7 L176 1910.8 L178 1910.9 L180 1911 L182 1911.1 L184 1911.3 L186 1911.4 L188 1911.5 L190 1911.6 L192 1911.7 L194 1911.8 L196 1911.9 L198 1912 L200 1912.1 L202 1912.2 L204 1912.3 L206 1912.4 L208 1912.5 L210 1912.6 L212 1912.8 L214 1912.9 L216 1913 L218 1913.1 L220 1913.2 L222 1913.3 L224 1913.4 L226 1913.5 L228 1913.6 L230 1913.7 L232 1913.8 L234 1913.9 L236 1914 L238 1914.1 L240 1914.3 L242 1914.4 L244 1914.5 L246 1914.6 L248 1914.7 L250 1914.8 L252 1914.9 L254 1915 L256 1915.1 L258 1915.2 L260 1915.3 L262 1915.4 L264 1915.5 L266 1915.7 L268 1915.8 L270 1915.9 L272 1916 L274 1916.1 L276 1916.2 L278 1916.3 L280 1916.4 L282 1916.5 L284 1916.6 L286 1916.7 L288 1916.8 L290 1916.9 L292 1917 L294 1917.2 L296 1917.3 L298 1917.4 L300 1917.5 L302 1917.6 L304 1917.7 L306 1917.8 L308 1917.9 L310 1918 L312 1918.1 L314 1918.2 L316 1918.3 L318 1918.4 L320 1918.5 L322 1918.7 L324 1918.8 L326 1918.9 L328 1918.9 L330 1918.9 L332 1918.8 L334 1918.7 L336 1918.6 L338 1918.5 L340 1918.4 L342 1918.2 L344 1918.1 L346 1917.9 L348 1917.7 L350 1917.4 L352 1917.1 L354 1916.8 L356 1916.4 L358 1916 L360 1915.5 L362 1914.9 L364 1914.3 L366 1913.6 L368 1912.8 L370 1911.9 L372 1910.9 L374 1909.7 L376 1908.4 L378 1906.9 L380 1905.3 L382 1903.5 L384 1901.5 L386 1899.2 L388 1896.7 L390 1894 L392 1890.9 L394 1887.6 L396 1883.9 L398 1879.9 L400 1875.5 L402 1870.7 L404 1865.5 L406 1859.9 L408 1853.9 L410 1847.3 L412 1840.3 L414 1832.8 L416 1824.8 L418 1816.2 L420 1807.2 L422 1797.6 L424 1787.5 L426 1776.9 L428 1765.8 L430 1754.2 L432 1742.2 L434 1729.7 L436 1716.8 L438 1703.6 L440 1690 L442 1676.1 L444 1662 L446 1647.8 L448 1633.4 L450 1619 L452 1604.6 L454 1590.4 L456 1576.3 L458 1562.6 L460 1549.2 L462 1536.2 L464 1523.8 L466 1512 L468 1501 L470 1490.7 L472 1481.4 L474 1473.1 L476 1465.8 L478 1459.7 L480 1454.7 L482 1451 L484 1448.6 L486 1447.6 L488 1447.8 L490 1449.3 L492 1452.2 L494 1456.4 L496 1461.7 L498 1468.3 L500 1476 L502 1484.8 L504 1494.5 L506 1505.1 L508 1516.5 L510 1528.6 L512 1541.3 L514 1554.6 L516 1568.3 L518 1582.3 L520 1596.6 L522 1611.1 L524 1625.7 L526 1640.3 L528 1654.9 L530 1669.3 L532 1683.5 L534 1697.6 L536 1711.3 L538 1724.7 L540 1737.7 L542 1750.3 L544 1762.5 L546 1774.1 L548 1785.4 L550 1796.1 L552 1806.2 L554 1815.9 L556 1825.1 L558 1833.7 L560 1841.8 L562 1849.5 L564 1856.6 L566 1863.2 L568 1869.4 L570 1875.2 L572 1880.5 L574 1885.4 L576 1889.9 L578 1894.1 L580 1897.9 L582 1901.3 L584 1904.5 L586 1907.4 L588 1910.1 L590 1912.5 L592 1914.7 L594 1916.7 L596 1918.5 L598 1920.1 L600 1921.6 L602 1922.9 L604 1924.1 L606 1925.2 L608 1926.2 L610 1927.1 L612 1927.9 L614 1928.7 L616 1929.3 L618 1930 L620 1930.5 L622 1931.1 L624 1931.5 L626 1932 L628 1932.4 L630 1932.8 L632 1933.2 L634 1933.5 L636 1933.9 L638 1934.2 L640 1934.5 L642 1934.8 L644 1935.1 L646 1935.4 L648 1935.5 L650 1935.7 L652 1935.8 L654 1935.9 L656 1936.1 L658 1936.2 L660 1936.3 L662 1936.5 L664 1936.6 L666 1936.7 L668 1936.9 L670 1937 L672 1937.1 L674 1937.3 L676 1937.4 L678 1937.5 L680 1937.7 L682 1937.8 L684 1937.9 L686 1938.1 L688 1938.2 L690 1938.3 L692 1938.5 L694 1938.6 L696 1938.7 L698 1938.9 L700 1939 L702 1939.1 L704 1939.3 L706 1939.4 L708 1939.5 L710 1939.7 L712 1939.8 L714 1939.9 L716 1940.1 L718 1940.2 L720 1940.3 L722 1940.5 L724 1940.6 L726 1940.7 L728 1940.9 L730 1941 L732 1941.1 L734 1941.3 L736 1941.4 L738 1941.5 L740 1941.7 L742 1941.8 L744 1941.9 L746 1942.1 L748 1942.2 L750 1942.3 L752 1942.5 L754 1942.6 L756 1942.7 L758 1942.9 L760 1943 L762 1943.2 L764 1943.3 L766 1943.5 L768 1943.7 L770 1943.8 L772 1944 L774 1944.2 L776 1944.3 L778 1944.5 L780 1944.7 L782 1944.8 L784 1945 L786 1945.2 L788 1945.3 L790 1945.5 L792 1945.5 L794 1945.5 L796 1945.4 L798 1945.3 L800 1945.2 L802 1945 L804 1944.8 L806 1944.6 L808 1944.4 L810 1944.2 L812 1943.9 L814 1943.5 L816 1943.1 L818 1942.7 L820 1942.1 L822 1941.5 L824 1940.8 L826 1940 L828 1939.1 L830 1938.1 L832 1937 L834 1935.7 L836 1934.3 L838 1932.7 L840 1930.9 L842 1928.9 L844 1926.6 L846 1924.1 L848 1921.3 L850 1918.2 L852 1914.8 L854 1911 L856 1906.9 L858 1902.3 L860 1897.3 L862 1891.8 L864 1885.8 L866 1879.3 L868 1872.3 L870 1864.6 L872 1856.3 L874 1847.3 L876 1837.7 L878 1827.4 L880 1816.4 L882 1804.7 L884 1792.3 L886 1779.1 L888 1765.3 L890 1750.7 L892 1735.4 L894 1719.4 L896 1702.8 L898 1685.5 L900 1667.6 L902 1649.2 L904 1630.3 L906 1610.9 L908 1591.1 L910 1571 L912 1550.6 L914 1530 L916 1509.4 L918 1488.9 L920 1468.5 L922 1448.3 L924 1428.5 L926 1409.3 L928 1390.6 L930 1372.6 L932 1355.5 L934 1339.4 L936 1324.5 L938 1310.7 L940 1298.3 L942 1287.3 L944 1277.9 L946 1270.1 L948 1264 L950 1259.7 L952 1257.2 L954 1256.5 L956 1257.8 L958 1260.9 L960 1265.8 L962 1272.4 L964 1280.8 L966 1290.7 L968 1302.2 L970 1315.1 L972 1329.3 L974 1344.7 L976 1361.1 L978 1378.5 L980 1396.8 L982 1415.7 L984 1435.2 L986 1455.2 L988 1475.4 L990 1496 L992 1516.6 L994 1537.2 L996 1557.8 L998 1578.2 L1000 1598.3 L1002 1618.2 L1004 1637.6 L1006 1656.6 L1008 1675 L1010 1692.9 L1012 1710.1 L1014 1726.7 L1016 1742.7 L1018 1757.9 L1020 1772.4 L1022 1786.3 L1024 1799.3 L1026 1811.7 L1028 1823.4 L1030 1834.3 L1032 1844.6 L1034 1854.2 L1036 1863.1 L1038 1871.4 L1040 1879.1 L1042 1886.3 L1044 1892.8 L1046 1898.9 L1048 1904.5 L1050 1909.6 L1052 1914.3 L1054 1918.6 L1056 1922.5 L1058 1926.1 L1060 1929.3 L1062 1932.3 L1064 1934.9 L1066 1937.4 L1068 1939.6 L1070 1941.5 L1072 1943.4 L1074 1945 L1076 1946.5 L1078 1947.8 L1080 1949 L1082 1950.1 L1084 1951.2 L1086 1952.1 L1088 1952.9 L1090 1953.7 L1092 1954.4 L1094 1955.1 L1096 1955.7 L1098 1956.2 L1100 1956.8 L1102 1957.3 L1104 1957.7 L1106 1958.2 L1108 1958.6 L1110 1959 L1112 1959.3 L1114 1959.7 L1116 1960 L1118 1960.2 L1120 1960.3 L1122 1960.4 L1124 1960.5 L1126 1960.6 L1128 1960.7 L1130 1960.9 L1132 1961 L1134 1961.1 L1136 1961.2 L1138 1961.3 L1140 1961.4 L1142 1961.5 L1144 1961.6 L1146 1961.7 L1148 1961.8 L1150 1961.9 L1152 1962.1 L1154 1962.2 L1156 1962.3 L1158 1962.4 L1160 1962.5 L1162 1962.6 L1164 1962.7 L1166 1962.8 L1168 1962.9 L1170 1963 L1172 1963.1 L1174 1963.3 L1176 1963.4 L1178 1963.5 L1180 1963.6 L1182 1963.7 L1184 1963.8 L1186 1963.9 L1188 1964 L1190 1964.1 L1192 1964.2 L1194 1964.3 L1196 1964.4 L1198 1964.6 L1200 1964.7 L1202 1964.8 L1204 1964.9 L1206 1965 L1208 1965.1 L1210 1965.2 L1212 1965.3 L1214 1965.4 L1216 1965.5 L1218 1965.6 L1219 1965.7" fill="none" stroke="#00CED1" stroke-width="5.5" stroke-linejoin="round"/>
<path d="M114 1909.5 L487 1929.5 L640 1937 L760 1945 L820 1950 L870 1953.5 L910 1954.8 L954 1954.5 L1000 1956 L1050 1958.5 L1219 1967.7" fill="none" stroke="#000" stroke-width="6.5" stroke-linejoin="round"/>
<path d="M114 2059.7 L114 1170.4 M114 1170.4 L1222.2 1170.4 M1219 1170.4 L1219 2059.7 M110.8 2056.4 L1222.2 2056.4" stroke="#000" stroke-width="6.5" fill="none" stroke-linecap="butt"/>
<path d="M114 2056.4 L114 2073M252.1 2056.4 L252.1 2073M390.2 2056.4 L390.2 2073M528.4 2056.4 L528.4 2073M666.5 2056.4 L666.5 2073M804.6 2056.4 L804.6 2073M942.8 2056.4 L942.8 2073M1080.9 2056.4 L1080.9 2073M1219 2056.4 L1219 2073" stroke="#000" stroke-width="6.5" fill="none"/>
<path d="M183.1 2056.4 L183.1 2064.5M321.2 2056.4 L321.2 2064.5M459.3 2056.4 L459.3 2064.5M597.4 2056.4 L597.4 2064.5M735.6 2056.4 L735.6 2064.5M873.7 2056.4 L873.7 2064.5M1011.8 2056.4 L1011.8 2064.5M1149.9 2056.4 L1149.9 2064.5" stroke="#000" stroke-width="6.5" fill="none"/>
<text x="114" y="2126.8" font-size="54" fill="#000" text-anchor="middle">418</text>
<text x="252.1" y="2126.8" font-size="54" fill="#000" text-anchor="middle">416</text>
<text x="390.2" y="2126.8" font-size="54" fill="#000" text-anchor="middle">414</text>
<text x="528.4" y="2126.8" font-size="54" fill="#000" text-anchor="middle">412</text>
<text x="666.5" y="2126.8" font-size="54" fill="#000" text-anchor="middle">410</text>
<text x="804.6" y="2126.8" font-size="54" fill="#000" text-anchor="middle">408</text>
<text x="942.8" y="2126.8" font-size="54" fill="#000" text-anchor="middle">406</text>
<text x="1080.9" y="2126.8" font-size="54" fill="#000" text-anchor="middle">404</text>
<text x="1219" y="2126.8" font-size="54" fill="#000" text-anchor="middle">402</text>
<text x="658" y="2199.3" font-size="59" fill="#000" text-anchor="middle">Binding energy (eV)</text>
<text x="70.7" y="1618.7" font-size="59.5" fill="#000" text-anchor="middle" transform="rotate(-90 70.7 1618.7)">Intensity (a.u.)</text>
<text x="133" y="1250.7" font-size="58" fill="#19B3B0" text-anchor="start">Cd <tspan font-style="italic">3d</tspan></text>
<path d="M292.5 1295.5 L292.5 1391 M284.5 1295.5 L300.5 1295.5 M284.5 1391 L300.5 1391" stroke="#FF0F8E" stroke-width="5" fill="none" stroke-linecap="round"/>
<text x="120" y="1356.4" font-size="44" fill="#FF0F8E" text-anchor="start">100,000</text>
<text x="411" y="1422" font-size="63" fill="#000" text-anchor="start">412.5</text>
<text x="853" y="1229.3" font-size="58.5" fill="#000" text-anchor="start">405.8</text>
<text x="590" y="1282" font-size="58" fill="#008B8B" text-anchor="start">Cd<tspan font-size="35" dy="-25">2+</tspan></text>
<line x1="581.4" y1="1302.9" x2="520.1" y2="1347.9" stroke="#000" stroke-width="4.5" stroke-linecap="round"/><path d="M498.5 1363.8 L520.3 1338.4 L529.3 1350.6Z" fill="#000" stroke="#000" stroke-width="4" stroke-linejoin="round"/>
<line x1="705.4" y1="1265" x2="796.3" y2="1265" stroke="#000" stroke-width="5" stroke-linecap="round"/><path d="M823.1 1265 L790.5 1273.6 L790.5 1256.4Z" fill="#000" stroke="#000" stroke-width="4" stroke-linejoin="round"/>
<clipPath id="c3"><path d="M1326.4 1175.7 L1326.4 1952 L1326.4 1952 L1880 1959 L2090 1966 L2435.5 1966 L2435.5 1175.7Z"/></clipPath>
<path d="M1326.4 1947.3 L1328.4 1947.3 L1330.4 1947.3 L1332.4 1947.3 L1334.4 1947.2 L1336.4 1947.2 L1338.4 1947.2 L1340.4 1947.2 L1342.4 1947.1 L1344.4 1947.1 L1346.4 1947.1 L1348.4 1947.1 L1350.4 1947 L1352.4 1947 L1354.4 1947 L1356.4 1947 L1358.4 1946.9 L1360.4 1946.9 L1362.4 1946.9 L1364.4 1946.8 L1366.4 1946.8 L1368.4 1946.8 L1370.4 1946.8 L1372.4 1946.7 L1374.4 1946.7 L1376.4 1946.7 L1378.4 1946.6 L1380.4 1946.6 L1382.4 1946.5 L1384.4 1946.5 L1386.4 1946.5 L1388.4 1946.4 L1390.4 1946.4 L1392.4 1946.4 L1394.4 1946.3 L1396.4 1946.3 L1398.4 1946.2 L1400.4 1946.2 L1402.4 1946.1 L1404.4 1946.1 L1406.4 1946.1 L1408.4 1946 L1410.4 1946 L1412.4 1945.9 L1414.4 1945.9 L1416.4 1945.8 L1418.4 1945.8 L1420.4 1945.7 L1422.4 1945.7 L1424.4 1945.6 L1426.4 1945.5 L1428.4 1945.5 L1430.4 1945.4 L1432.4 1945.4 L1434.4 1945.3 L1436.4 1945.3 L1438.4 1945.2 L1440.4 1945.1 L1442.4 1945.1 L1444.4 1945 L1446.4 1944.9 L1448.4 1944.9 L1450.4 1944.8 L1452.4 1944.7 L1454.4 1944.6 L1456.4 1944.6 L1458.4 1944.5 L1460.4 1944.4 L1462.4 1944.3 L1464.4 1944.2 L1466.4 1944.2 L1468.4 1944.1 L1470.4 1944 L1472.4 1943.9 L1474.4 1943.8 L1476.4 1943.7 L1478.4 1943.6 L1480.4 1943.5 L1482.4 1943.4 L1484.4 1943.3 L1486.4 1943.1 L1488.4 1943 L1490.4 1942.9 L1492.4 1942.8 L1494.4 1942.6 L1496.4 1942.5 L1498.4 1942.3 L1500.4 1942.2 L1502.4 1942 L1504.4 1941.9 L1506.4 1941.7 L1508.4 1941.5 L1510.4 1941.3 L1512.4 1941.1 L1514.4 1940.9 L1516.4 1940.7 L1518.4 1940.5 L1520.4 1940.2 L1522.4 1940 L1524.4 1939.7 L1526.4 1939.4 L1528.4 1939.2 L1530.4 1934.9 L1532.4 1934.7 L1534.4 1934.4 L1536.4 1934.2 L1538.4 1933.9 L1540.4 1933.6 L1542.4 1933.3 L1544.4 1932.9 L1546.4 1932.6 L1548.4 1932.2 L1550.4 1931.8 L1552.4 1931.3 L1554.4 1930.8 L1556.4 1930.3 L1558.4 1929.7 L1560.4 1929.1 L1562.4 1928.5 L1564.4 1927.8 L1566.4 1927.1 L1568.4 1926.3 L1570.4 1925.5 L1572.4 1924.6 L1574.4 1923.7 L1576.4 1922.7 L1578.4 1921.7 L1580.4 1920.6 L1582.4 1919.4 L1584.4 1918.2 L1586.4 1916.9 L1588.4 1915.6 L1590.4 1914.1 L1592.4 1912.6 L1594.4 1911 L1596.4 1909.4 L1598.4 1907.6 L1600.4 1905.8 L1602.4 1904.1 L1604.4 1902.4 L1606.4 1900.5 L1608.4 1898.5 L1610.4 1896.5 L1612.4 1894.3 L1614.4 1892.1 L1616.4 1889.8 L1618.4 1887.3 L1620.4 1884.8 L1622.4 1882.1 L1624.4 1879.3 L1626.4 1876.5 L1628.4 1873.5 L1630.4 1870.4 L1632.4 1867.2 L1634.4 1863.9 L1636.4 1860.5 L1638.4 1857 L1640.4 1853.4 L1642.4 1849.7 L1644.4 1845.9 L1646.4 1842 L1648.4 1838 L1650.4 1833.8 L1652.4 1829.2 L1654.4 1824.6 L1656.4 1819.9 L1658.4 1815.1 L1660.4 1810.2 L1662.4 1805.2 L1664.4 1800.2 L1666.4 1795.1 L1668.4 1789.9 L1670.4 1784.7 L1672.4 1779.5 L1674.4 1774.2 L1676.4 1768.8 L1678.4 1763.5 L1680.4 1758.1 L1682.4 1752.7 L1684.4 1747.3 L1686.4 1741.9 L1688.4 1736.5 L1690.4 1731.1 L1692.4 1725.7 L1694.4 1720.4 L1696.4 1714.5 L1698.4 1708.4 L1700.4 1702.4 L1702.4 1696.4 L1704.4 1690.5 L1706.4 1684.6 L1708.4 1678.9 L1710.4 1673.2 L1712.4 1667.6 L1714.4 1662.1 L1716.4 1656.7 L1718.4 1651.5 L1720.4 1646.3 L1722.4 1641.4 L1724.4 1636.9 L1726.4 1632.6 L1728.4 1628.4 L1730.4 1624.4 L1732.4 1620.5 L1734.4 1616.7 L1736.4 1613.1 L1738.4 1609.6 L1740.4 1606.4 L1742.4 1603.7 L1744.4 1601.1 L1746.4 1598.7 L1748.4 1596.4 L1750.4 1594.2 L1752.4 1592.2 L1754.4 1590.2 L1756.4 1588.4 L1758.4 1586.6 L1760.4 1584.9 L1762.4 1583.4 L1764.4 1581.9 L1766.4 1580.4 L1768.4 1579 L1770.4 1577.7 L1772.4 1576.3 L1774.4 1575 L1776.4 1573.6 L1778.4 1572.3 L1780.4 1571 L1782.4 1569.7 L1784.4 1568.3 L1786.4 1566.9 L1788.4 1565.5 L1790.4 1564 L1792.4 1562.4 L1794.4 1560.8 L1796.4 1559.1 L1798.4 1557.3 L1800.4 1555.5 L1802.4 1553.6 L1804.4 1551.6 L1806.4 1549.5 L1808.4 1547.2 L1810.4 1544.9 L1812.4 1542.4 L1814.4 1539.8 L1816.4 1537 L1818.4 1534.1 L1820.4 1531 L1822.4 1527.8 L1824.4 1524.5 L1826.4 1521 L1828.4 1517.3 L1830.4 1513.5 L1832.4 1509.5 L1834.4 1505.4 L1836.4 1500.7 L1838.4 1495.6 L1840.4 1490.4 L1842.4 1485 L1844.4 1479.5 L1846.4 1473.8 L1848.4 1468.1 L1850.4 1462.2 L1852.4 1456.2 L1854.4 1450.2 L1856.4 1444 L1858.4 1437.8 L1860.4 1431.4 L1862.4 1425 L1864.4 1418.6 L1866.4 1412 L1868.4 1405.2 L1870.4 1398.4 L1872.4 1391.7 L1874.4 1384.9 L1876.4 1378.2 L1878.4 1371.5 L1880.4 1364.8 L1882.4 1358.2 L1884.4 1351.8 L1886.4 1345.8 L1888.4 1340 L1890.4 1334.4 L1892.4 1329 L1894.4 1323.6 L1896.4 1318.5 L1898.4 1313.5 L1900.4 1308.7 L1902.4 1304.2 L1904.4 1299.8 L1906.4 1295.7 L1908.4 1291.9 L1910.4 1288.3 L1912.4 1285 L1914.4 1281.9 L1916.4 1279.6 L1918.4 1277.7 L1920.4 1276.1 L1922.4 1274.9 L1924.4 1274 L1926.4 1273.5 L1928.4 1273.3 L1930.4 1273.4 L1932.4 1273.9 L1934.4 1274.8 L1936.4 1276.2 L1938.4 1277.9 L1940.4 1280 L1942.4 1282.4 L1944.4 1285.1 L1946.4 1288.1 L1948.4 1291.5 L1950.4 1295.2 L1952.4 1299.1 L1954.4 1303.4 L1956.4 1308 L1958.4 1312.8 L1960.4 1317.8 L1962.4 1322.6 L1964.4 1327.6 L1966.4 1332.9 L1968.4 1338.4 L1970.4 1344.2 L1972.4 1350.2 L1974.4 1356.5 L1976.4 1362.9 L1978.4 1369.6 L1980.4 1376.4 L1982.4 1383.5 L1984.4 1390.7 L1986.4 1398.1 L1988.4 1405.6 L1990.4 1413.3 L1992.4 1421.1 L1994.4 1429 L1996.4 1437 L1998.4 1445.2 L2000.4 1453.4 L2002.4 1461.7 L2004.4 1470.1 L2006.4 1478.6 L2008.4 1487.1 L2010.4 1495.7 L2012.4 1504.3 L2014.4 1512.9 L2016.4 1521.5 L2018.4 1530.2 L2020.4 1538.9 L2022.4 1547.5 L2024.4 1556.2 L2026.4 1564.8 L2028.4 1573.4 L2030.4 1582 L2032.4 1590.5 L2034.4 1599 L2036.4 1607.4 L2038.4 1615.8 L2040.4 1624.1 L2042.4 1632.3 L2044.4 1640.5 L2046.4 1648.6 L2048.4 1656.6 L2050.4 1664.5 L2052.4 1672.3 L2054.4 1680 L2056.4 1687.6 L2058.4 1695.2 L2060.4 1702.6 L2062.4 1709.8 L2064.4 1717 L2066.4 1724.1 L2068.4 1731 L2070.4 1737.8 L2072.4 1744.5 L2074.4 1751.1 L2076.4 1757.5 L2078.4 1763.9 L2080.4 1770 L2082.4 1776.1 L2084.4 1782 L2086.4 1787.8 L2088.4 1793.5 L2090.4 1799 L2092.4 1804.4 L2094.4 1809.6 L2096.4 1814.6 L2098.4 1819.6 L2100.4 1824.4 L2102.4 1829.1 L2104.4 1833.7 L2106.4 1838.1 L2108.4 1842.4 L2110.4 1846.6 L2112.4 1850.7 L2114.4 1854.7 L2116.4 1858.5 L2118.4 1862.2 L2120.4 1865.8 L2122.4 1869.3 L2124.4 1872.7 L2126.4 1876 L2128.4 1879.1 L2130.4 1882.2 L2132.4 1885.1 L2134.4 1888 L2136.4 1890.8 L2138.4 1893.4 L2140.4 1896 L2142.4 1898.5 L2144.4 1900.9 L2146.4 1903.2 L2148.4 1905.4 L2150.4 1907.5 L2152.4 1909.6 L2154.4 1911.5 L2156.4 1913.5 L2158.4 1915.3 L2160.4 1917 L2162.4 1918.7 L2164.4 1920.4 L2166.4 1921.9 L2168.4 1923.4 L2170.4 1924.9 L2172.4 1926.2 L2174.4 1927.6 L2176.4 1928.8 L2178.4 1930.1 L2180.4 1931.2 L2182.4 1932.3 L2184.4 1933.4 L2186.4 1934.4 L2188.4 1935.4 L2190.4 1936.4 L2192.4 1937.3 L2194.4 1938.1 L2196.4 1939 L2198.4 1939.8 L2200.4 1940.5 L2202.4 1941.3 L2204.4 1942 L2206.4 1942.6 L2208.4 1943.3 L2210.4 1943.9 L2212.4 1944.5 L2214.4 1945 L2216.4 1945.6 L2218.4 1946.1 L2220.4 1946.6 L2222.4 1947.1 L2224.4 1947.5 L2226.4 1947.9 L2228.4 1948.4 L2230.4 1948.8 L2232.4 1949.1 L2234.4 1949.5 L2236.4 1949.9 L2238.4 1950.2 L2240.4 1950.5 L2242.4 1950.9 L2244.4 1951.2 L2246.4 1951.5 L2248.4 1951.7 L2250.4 1952 L2252.4 1952.3 L2254.4 1952.5 L2256.4 1952.8 L2258.4 1953 L2260.4 1953.2 L2262.4 1953.5 L2264.4 1953.7 L2266.4 1953.9 L2268.4 1954.1 L2270.4 1954.3 L2272.4 1954.4 L2274.4 1954.6 L2276.4 1954.8 L2278.4 1955 L2280.4 1955.1 L2282.4 1955.3 L2284.4 1955.5 L2286.4 1955.6 L2288.4 1955.8 L2290.4 1955.9 L2292.4 1956 L2294.4 1956.2 L2296.4 1956.3 L2298.4 1956.5 L2300.4 1956.6 L2302.4 1956.7 L2304.4 1956.8 L2306.4 1957 L2308.4 1957.1 L2310.4 1957.2 L2312.4 1957.3 L2314.4 1957.4 L2316.4 1957.5 L2318.4 1957.6 L2320.4 1957.7 L2322.4 1957.8 L2324.4 1957.9 L2326.4 1958 L2328.4 1958.1 L2330.4 1958.2 L2332.4 1958.3 L2334.4 1958.4 L2336.4 1958.5 L2338.4 1958.6 L2340.4 1958.7 L2342.4 1958.8 L2344.4 1958.8 L2346.4 1958.9 L2348.4 1959 L2350.4 1959.1 L2352.4 1959.2 L2354.4 1959.2 L2356.4 1959.3 L2358.4 1959.4 L2360.4 1959.5 L2362.4 1959.6 L2364.4 1959.6 L2366.4 1959.7 L2368.4 1959.8 L2370.4 1959.8 L2372.4 1959.9 L2374.4 1960 L2376.4 1960 L2378.4 1960.1 L2380.4 1960.2 L2382.4 1960.2 L2384.4 1960.3 L2386.4 1960.4 L2388.4 1960.4 L2390.4 1960.5 L2392.4 1960.6 L2394.4 1960.6 L2396.4 1960.7 L2398.4 1960.7 L2400.4 1960.8 L2402.4 1960.9 L2404.4 1960.9 L2406.4 1961 L2408.4 1961 L2410.4 1961.1 L2412.4 1961.1 L2414.4 1961.2 L2416.4 1961.2 L2418.4 1961.3 L2420.4 1961.3 L2422.4 1961.4 L2424.4 1961.4 L2426.4 1961.5 L2428.4 1961.5 L2430.4 1961.6 L2432.4 1961.6 L2434.4 1961.7 L2435.5 1961.7" fill="none" stroke="#000" stroke-width="5" stroke-linejoin="round"/>
<g clip-path="url(#c3)"><use href="#b10_5" x="1332" y="1948"/><use href="#b10_5" x="1346.9" y="1948.5"/><use href="#b10_5" x="1361.9" y="1948.7"/><use href="#b10_5" x="1376.9" y="1949.3"/><use href="#b10_5" x="1391.9" y="1947.8"/><use href="#b10_5" x="1406.9" y="1948.6"/><use href="#b10_5" x="1421.8" y="1942.8"/><use href="#b10_5" x="1436.8" y="1945"/><use href="#b10_5" x="1451.8" y="1947.4"/><use href="#b10_5" x="1466.8" y="1945"/><use href="#b10_5" x="1481.8" y="1945.8"/><use href="#b10_5" x="1496.7" y="1940.1"/><use href="#b10_5" x="1511.7" y="1941"/><use href="#b10_5" x="1526.7" y="1937.9"/><use href="#b10_5" x="1540.7" y="1931.8"/><use href="#b10_5" x="1555" y="1930"/><use href="#b10_5" x="1569.3" y="1924.6"/><use href="#b10_5" x="1583.6" y="1919.3"/><use href="#b10_5" x="1599.6" y="1908.6"/><use href="#b10_5" x="1615.7" y="1889"/><use href="#b10_5" x="1630" y="1872.9"/><use href="#b10_5" x="1644.3" y="1851.4"/><use href="#b10_5" x="1659.6" y="1815"/><use href="#b10_5" x="1675.7" y="1771"/><use href="#b10_5" x="1690.7" y="1732.9"/><use href="#b10_5" x="1705.7" y="1688.2"/><use href="#b10_5" x="1721" y="1645.4"/><use href="#b10_5" x="1735.4" y="1612.9"/><use href="#b10_5" x="1750.7" y="1596"/><use href="#b10_5" x="1764.5" y="1575.5"/><use href="#b10_5" x="1778.8" y="1575.5"/><use href="#b10_5" x="1796" y="1559"/><use href="#b10_5" x="1812" y="1546.4"/><use href="#b10_5" x="1826.4" y="1521.6"/><use href="#b10_5" x="1840.8" y="1500.6"/><use href="#b10_5" x="1855.8" y="1453.8"/><use href="#b10_5" x="1869.4" y="1404.2"/><use href="#b10_5" x="1885.2" y="1349.3"/><use href="#b10_5" x="1901.2" y="1302.9"/><use href="#b10_5" x="1915.5" y="1279"/><use href="#b10_5" x="1929.8" y="1275.5"/><use href="#b10_5" x="1945.2" y="1282.6"/><use href="#b10_5" x="1961.1" y="1312.5"/><use href="#b10_5" x="1976.1" y="1352"/><use href="#b10_5" x="1991.1" y="1404.2"/><use href="#b10_5" x="2006.1" y="1464"/><use href="#b10_5" x="2021" y="1529.6"/><use href="#b10_5" x="2036" y="1595.9"/><use href="#b10_5" x="2051" y="1654"/><use href="#b10_5" x="2066" y="1714.8"/><use href="#b10_5" x="2081" y="1763.1"/><use href="#b10_5" x="2095.9" y="1805.9"/><use href="#b10_5" x="2110.9" y="1844.4"/><use href="#b10_5" x="2125.9" y="1870.9"/><use href="#b10_5" x="2140.9" y="1892.3"/><use href="#b10_5" x="2155.9" y="1910.4"/><use href="#b10_5" x="2170.8" y="1924.6"/><use href="#b10_5" x="2185.8" y="1930.2"/><use href="#b10_5" x="2200.8" y="1942.6"/><use href="#b10_5" x="2215.8" y="1941.9"/><use href="#b10_5" x="2230.8" y="1949.8"/><use href="#b10_5" x="2245.7" y="1953.1"/><use href="#b10_5" x="2260.7" y="1950.1"/><use href="#b10_5" x="2275.7" y="1956.2"/><use href="#b10_5" x="2290.7" y="1954.9"/><use href="#b10_5" x="2305.7" y="1957.2"/><use href="#b10_5" x="2320.6" y="1954.7"/><use href="#b10_5" x="2335.6" y="1955.6"/><use href="#b10_5" x="2350.6" y="1957.1"/><use href="#b10_5" x="2365.6" y="1962.3"/><use href="#b10_5" x="2380.6" y="1958.3"/><use href="#b10_5" x="2395.5" y="1962.1"/><use href="#b10_5" x="2410.5" y="1963.6"/><use href="#b10_5" x="2425.5" y="1964.1"/></g>
<path d="M1326.4 1954.1 L1328.4 1954.1 L1330.4 1954.1 L1332.4 1954.1 L1334.4 1954.1 L1336.4 1954.2 L1338.4 1954.2 L1340.4 1954.2 L1342.4 1954.2 L1344.4 1954.2 L1346.4 1954.2 L1348.4 1954.2 L1350.4 1954.3 L1352.4 1954.3 L1354.4 1954.3 L1356.4 1954.3 L1358.4 1954.3 L1360.4 1954.3 L1362.4 1954.3 L1364.4 1954.4 L1366.4 1954.4 L1368.4 1954.4 L1370.4 1954.4 L1372.4 1954.4 L1374.4 1954.4 L1376.4 1954.4 L1378.4 1954.5 L1380.4 1954.5 L1382.4 1954.5 L1384.4 1954.5 L1386.4 1954.5 L1388.4 1954.5 L1390.4 1954.5 L1392.4 1954.5 L1394.4 1954.5 L1396.4 1954.6 L1398.4 1954.6 L1400.4 1954.6 L1402.4 1954.6 L1404.4 1954.6 L1406.4 1954.6 L1408.4 1954.6 L1410.4 1954.6 L1412.4 1954.6 L1414.4 1954.6 L1416.4 1954.7 L1418.4 1954.7 L1420.4 1954.7 L1422.4 1954.7 L1424.4 1954.7 L1426.4 1954.7 L1428.4 1954.7 L1430.4 1954.7 L1432.4 1954.7 L1434.4 1954.7 L1436.4 1954.7 L1438.4 1954.7 L1440.4 1954.7 L1442.4 1954.7 L1444.4 1954.7 L1446.4 1954.7 L1448.4 1954.7 L1450.4 1954.7 L1452.4 1954.7 L1454.4 1954.7 L1456.4 1954.7 L1458.4 1954.7 L1460.4 1954.7 L1462.4 1954.7 L1464.4 1954.7 L1466.4 1954.7 L1468.4 1954.7 L1470.4 1954.7 L1472.4 1954.6 L1474.4 1954.6 L1476.4 1954.6 L1478.4 1954.6 L1480.4 1954.6 L1482.4 1954.5 L1484.4 1954.5 L1486.4 1954.5 L1488.4 1954.5 L1490.4 1954.4 L1492.4 1954.4 L1494.4 1954.3 L1496.4 1954.3 L1498.4 1954.2 L1500.4 1954.2 L1502.4 1954.1 L1504.4 1954.1 L1506.4 1954 L1508.4 1953.9 L1510.4 1953.8 L1512.4 1953.7 L1514.4 1953.6 L1516.4 1953.5 L1518.4 1953.4 L1520.4 1953.3 L1522.4 1953.1 L1524.4 1953 L1526.4 1952.8 L1528.4 1952.6 L1530.4 1952.4 L1532.4 1952.2 L1534.4 1952 L1536.4 1951.8 L1538.4 1951.5 L1540.4 1951.2 L1542.4 1950.9 L1544.4 1950.6 L1546.4 1950.2 L1548.4 1949.9 L1550.4 1949.5 L1552.4 1949 L1554.4 1948.6 L1556.4 1948.1 L1558.4 1947.6 L1560.4 1947 L1562.4 1946.4 L1564.4 1945.8 L1566.4 1945.1 L1568.4 1944.4 L1570.4 1943.6 L1572.4 1942.8 L1574.4 1941.9 L1576.4 1941 L1578.4 1940 L1580.4 1939 L1582.4 1937.9 L1584.4 1936.7 L1586.4 1935.5 L1588.4 1934.2 L1590.4 1932.9 L1592.4 1931.5 L1594.4 1930 L1596.4 1928.4 L1598.4 1926.8 L1600.4 1925 L1602.4 1923.2 L1604.4 1921.3 L1606.4 1919.4 L1608.4 1917.3 L1610.4 1915.1 L1612.4 1912.9 L1614.4 1910.6 L1616.4 1908.1 L1618.4 1905.6 L1620.4 1903 L1622.4 1900.3 L1624.4 1897.5 L1626.4 1894.6 L1628.4 1891.6 L1630.4 1888.5 L1632.4 1885.3 L1634.4 1882 L1636.4 1878.6 L1638.4 1875.2 L1640.4 1871.6 L1642.4 1868 L1644.4 1864.2 L1646.4 1860.4 L1648.4 1856.5 L1650.4 1852.5 L1652.4 1848.5 L1654.4 1844.4 L1656.4 1840.2 L1658.4 1835.9 L1660.4 1831.7 L1662.4 1827.3 L1664.4 1822.9 L1666.4 1818.5 L1668.4 1814 L1670.4 1809.5 L1672.4 1805 L1674.4 1800.5 L1676.4 1796 L1678.4 1791.5 L1680.4 1787 L1682.4 1782.5 L1684.4 1778 L1686.4 1773.6 L1688.4 1769.3 L1690.4 1764.9 L1692.4 1760.7 L1694.4 1756.5 L1696.4 1752.4 L1698.4 1748.4 L1700.4 1744.5 L1702.4 1740.7 L1704.4 1737 L1706.4 1733.5 L1708.4 1730.1 L1710.4 1726.8 L1712.4 1723.7 L1714.4 1720.8 L1716.4 1718 L1718.4 1715.4 L1720.4 1713 L1722.4 1710.8 L1724.4 1708.9 L1726.4 1707.1 L1728.4 1705.5 L1730.4 1704.1 L1732.4 1703 L1734.4 1702.1 L1736.4 1701.4 L1738.4 1701 L1740.4 1700.8 L1742.4 1700.8 L1744.4 1701 L1746.4 1701.5 L1748.4 1702.3 L1750.4 1703.2 L1752.4 1704.4 L1754.4 1705.8 L1756.4 1707.4 L1758.4 1709.3 L1760.4 1711.3 L1762.4 1713.6 L1764.4 1716 L1766.4 1718.7 L1768.4 1721.5 L1770.4 1724.5 L1772.4 1727.6 L1774.4 1730.9 L1776.4 1734.4 L1778.4 1738 L1780.4 1741.7 L1782.4 1745.5 L1784.4 1749.5 L1786.4 1753.5 L1788.4 1757.7 L1790.4 1761.9 L1792.4 1766.2 L1794.4 1770.6 L1796.4 1775 L1798.4 1779.5 L1800.4 1784 L1802.4 1788.5 L1804.4 1793.1 L1806.4 1797.6 L1808.4 1802.2 L1810.4 1806.8 L1812.4 1811.3 L1814.4 1815.9 L1816.4 1820.4 L1818.4 1824.9 L1820.4 1829.3 L1822.4 1833.7 L1824.4 1838 L1826.4 1842.3 L1828.4 1846.6 L1830.4 1850.7 L1832.4 1854.8 L1834.4 1858.9 L1836.4 1862.8 L1838.4 1866.7 L1840.4 1870.5 L1842.4 1874.2 L1844.4 1877.8 L1846.4 1881.3 L1848.4 1884.7 L1850.4 1888 L1852.4 1891.3 L1854.4 1894.4 L1856.4 1897.5 L1858.4 1900.4 L1860.4 1903.3 L1862.4 1906.1 L1864.4 1908.7 L1866.4 1911.3 L1868.4 1913.8 L1870.4 1916.2 L1872.4 1918.4 L1874.4 1920.7 L1876.4 1922.8 L1878.4 1924.8 L1880.4 1926.7 L1882.4 1928.6 L1884.4 1930.5 L1886.4 1932.2 L1888.4 1933.9 L1890.4 1935.4 L1892.4 1937 L1894.4 1938.4 L1896.4 1939.8 L1898.4 1941.1 L1900.4 1942.3 L1902.4 1943.5 L1904.4 1944.6 L1906.4 1945.7 L1908.4 1946.7 L1910.4 1947.7 L1912.4 1948.6 L1914.4 1949.4 L1916.4 1950.3 L1918.4 1951 L1920.4 1951.8 L1922.4 1952.5 L1924.4 1953.1 L1926.4 1953.7 L1928.4 1954.3 L1930.4 1954.9 L1932.4 1955.4 L1934.4 1955.9 L1936.4 1956.3 L1938.4 1956.8 L1940.4 1957.2 L1942.4 1957.6 L1944.4 1958 L1946.4 1958.3 L1948.4 1958.7 L1950.4 1959 L1952.4 1959.3 L1954.4 1959.6 L1956.4 1959.8 L1958.4 1960.1 L1960.4 1960.3 L1962.4 1960.6 L1964.4 1960.8 L1966.4 1961 L1968.4 1961.2 L1970.4 1961.4 L1972.4 1961.6 L1974.4 1961.8 L1976.4 1961.9 L1978.4 1962.1 L1980.4 1962.3 L1982.4 1962.4 L1984.4 1962.6 L1986.4 1962.7 L1988.4 1962.8 L1990.4 1963 L1992.4 1963.1 L1994.4 1963.2 L1996.4 1963.4 L1998.4 1963.5 L2000.4 1963.6 L2002.4 1963.7 L2004.4 1963.8 L2006.4 1963.9 L2008.4 1964 L2010.4 1964.1 L2012.4 1964.3 L2014.4 1964.4 L2016.4 1964.5 L2018.4 1964.6 L2020.4 1964.7 L2022.4 1964.8 L2024.4 1964.9 L2026.4 1964.9 L2028.4 1965 L2030.4 1965.1 L2032.4 1965.2 L2034.4 1965.3 L2036.4 1965.4 L2038.4 1965.5 L2040.4 1965.6 L2042.4 1965.7 L2044.4 1965.8 L2046.4 1965.9 L2048.4 1966 L2050.4 1966 L2052.4 1966.1 L2054.4 1966.2 L2056.4 1966.3 L2058.4 1966.4 L2060.4 1966.5 L2062.4 1966.6 L2064.4 1966.6 L2066.4 1966.7 L2068.4 1966.8 L2070.4 1966.9 L2072.4 1967 L2074.4 1967.1 L2076.4 1967.1 L2078.4 1967.2 L2080.4 1967.3 L2082.4 1967.4 L2084.4 1967.5 L2086.4 1967.6 L2088.4 1967.6 L2090.4 1967.7 L2092.4 1967.7 L2094.4 1967.7 L2096.4 1967.7 L2098.4 1967.8 L2100.4 1967.8 L2102.4 1967.8 L2104.4 1967.8 L2106.4 1967.8 L2108.4 1967.8 L2110.4 1967.8 L2112.4 1967.8 L2114.4 1967.9 L2116.4 1967.9 L2118.4 1967.9 L2120.4 1967.9 L2122.4 1967.9 L2124.4 1967.9 L2126.4 1967.9 L2128.4 1967.9 L2130.4 1967.9 L2132.4 1968 L2134.4 1968 L2136.4 1968 L2138.4 1968 L2140.4 1968 L2142.4 1968 L2144.4 1968 L2146.4 1968 L2148.4 1968 L2150.4 1968 L2152.4 1968.1 L2154.4 1968.1 L2156.4 1968.1 L2158.4 1968.1 L2160.4 1968.1 L2162.4 1968.1 L2164.4 1968.1 L2166.4 1968.1 L2168.4 1968.1 L2170.4 1968.1 L2172.4 1968.1 L2174.4 1968.1 L2176.4 1968.2 L2178.4 1968.2 L2180.4 1968.2 L2182.4 1968.2 L2184.4 1968.2 L2186.4 1968.2 L2188.4 1968.2 L2190.4 1968.2 L2192.4 1968.2 L2194.4 1968.2 L2196.4 1968.2 L2198.4 1968.2 L2200.4 1968.2 L2202.4 1968.2 L2204.4 1968.2 L2206.4 1968.3 L2208.4 1968.3 L2210.4 1968.3 L2212.4 1968.3 L2214.4 1968.3 L2216.4 1968.3 L2218.4 1968.3 L2220.4 1968.3 L2222.4 1968.3 L2224.4 1968.3 L2226.4 1968.3 L2228.4 1968.3 L2230.4 1968.3 L2232.4 1968.3 L2234.4 1968.3 L2236.4 1968.3 L2238.4 1968.3 L2240.4 1968.3 L2242.4 1968.4 L2244.4 1968.4 L2246.4 1968.4 L2248.4 1968.4 L2250.4 1968.4 L2252.4 1968.4 L2254.4 1968.4 L2256.4 1968.4 L2258.4 1968.4 L2260.4 1968.4 L2262.4 1968.4 L2264.4 1968.4 L2266.4 1968.4 L2268.4 1968.4 L2270.4 1968.4 L2272.4 1968.4 L2274.4 1968.4 L2276.4 1968.4 L2278.4 1968.4 L2280.4 1968.4 L2282.4 1968.4 L2284.4 1968.4 L2286.4 1968.5 L2288.4 1968.5 L2290.4 1968.5 L2292.4 1968.5 L2294.4 1968.5 L2296.4 1968.5 L2298.4 1968.5 L2300.4 1968.5 L2302.4 1968.5 L2304.4 1968.5 L2306.4 1968.5 L2308.4 1968.5 L2310.4 1968.5 L2312.4 1968.5 L2314.4 1968.5 L2316.4 1968.5 L2318.4 1968.5 L2320.4 1968.5 L2322.4 1968.5 L2324.4 1968.5 L2326.4 1968.5 L2328.4 1968.5 L2330.4 1968.5 L2332.4 1968.5 L2334.4 1968.5 L2336.4 1968.5 L2338.4 1968.5 L2340.4 1968.5 L2342.4 1968.5 L2344.4 1968.6 L2346.4 1968.6 L2348.4 1968.6 L2350.4 1968.6 L2352.4 1968.6 L2354.4 1968.6 L2356.4 1968.6 L2358.4 1968.6 L2360.4 1968.6 L2362.4 1968.6 L2364.4 1968.6 L2366.4 1968.6 L2368.4 1968.6 L2370.4 1968.6 L2372.4 1968.6 L2374.4 1968.6 L2376.4 1968.6 L2378.4 1968.6 L2380.4 1968.6 L2382.4 1968.6 L2384.4 1968.6 L2386.4 1968.6 L2388.4 1968.6 L2390.4 1968.6 L2392.4 1968.6 L2394.4 1968.6 L2396.4 1968.6 L2398.4 1968.6 L2400.4 1968.6 L2402.4 1968.6 L2404.4 1968.6 L2406.4 1968.6 L2408.4 1968.6 L2410.4 1968.6 L2412.4 1968.6 L2414.4 1968.6 L2416.4 1968.6 L2418.4 1968.6 L2420.4 1968.6 L2422.4 1968.6 L2424.4 1968.6 L2426.4 1968.7 L2428.4 1968.7 L2430.4 1968.7 L2432.4 1968.7 L2434.4 1968.7 L2435.5 1968.7 L2435.5 1969 L2434.4 1969 L2432.4 1969 L2430.4 1969 L2428.4 1969 L2426.4 1969 L2424.4 1969 L2422.4 1969 L2420.4 1969 L2418.4 1969 L2416.4 1969 L2414.4 1969 L2412.4 1969 L2410.4 1969 L2408.4 1969 L2406.4 1969 L2404.4 1969 L2402.4 1969 L2400.4 1969 L2398.4 1969 L2396.4 1969 L2394.4 1969 L2392.4 1969 L2390.4 1969 L2388.4 1969 L2386.4 1969 L2384.4 1969 L2382.4 1969 L2380.4 1969 L2378.4 1969 L2376.4 1969 L2374.4 1969 L2372.4 1969 L2370.4 1969 L2368.4 1969 L2366.4 1969 L2364.4 1969 L2362.4 1969 L2360.4 1969 L2358.4 1969 L2356.4 1969 L2354.4 1969 L2352.4 1969 L2350.4 1969 L2348.4 1969 L2346.4 1969 L2344.4 1969 L2342.4 1969 L2340.4 1969 L2338.4 1969 L2336.4 1969 L2334.4 1969 L2332.4 1969 L2330.4 1969 L2328.4 1969 L2326.4 1969 L2324.4 1969 L2322.4 1969 L2320.4 1969 L2318.4 1969 L2316.4 1969 L2314.4 1969 L2312.4 1969 L2310.4 1969 L2308.4 1969 L2306.4 1969 L2304.4 1969 L2302.4 1969 L2300.4 1969 L2298.4 1969 L2296.4 1969 L2294.4 1969 L2292.4 1969 L2290.4 1969 L2288.4 1969 L2286.4 1969 L2284.4 1969 L2282.4 1969 L2280.4 1969 L2278.4 1969 L2276.4 1969 L2274.4 1969 L2272.4 1969 L2270.4 1969 L2268.4 1969 L2266.4 1969 L2264.4 1969 L2262.4 1969 L2260.4 1969 L2258.4 1969 L2256.4 1969 L2254.4 1969 L2252.4 1969 L2250.4 1969 L2248.4 1969 L2246.4 1969 L2244.4 1969 L2242.4 1969 L2240.4 1969 L2238.4 1969 L2236.4 1969 L2234.4 1969 L2232.4 1969 L2230.4 1969 L2228.4 1969 L2226.4 1969 L2224.4 1969 L2222.4 1969 L2220.4 1969 L2218.4 1969 L2216.4 1969 L2214.4 1969 L2212.4 1969 L2210.4 1969 L2208.4 1969 L2206.4 1969 L2204.4 1969 L2202.4 1969 L2200.4 1969 L2198.4 1969 L2196.4 1969 L2194.4 1969 L2192.4 1969 L2190.4 1969 L2188.4 1969 L2186.4 1969 L2184.4 1969 L2182.4 1969 L2180.4 1969 L2178.4 1969 L2176.4 1969 L2174.4 1969 L2172.4 1969 L2170.4 1969 L2168.4 1969 L2166.4 1969 L2164.4 1969 L2162.4 1969 L2160.4 1969 L2158.4 1969 L2156.4 1969 L2154.4 1969 L2152.4 1969 L2150.4 1969 L2148.4 1969 L2146.4 1969 L2144.4 1969 L2142.4 1969 L2140.4 1969 L2138.4 1969 L2136.4 1969 L2134.4 1969 L2132.4 1969 L2130.4 1969 L2128.4 1969 L2126.4 1969 L2124.4 1969 L2122.4 1969 L2120.4 1969 L2118.4 1969 L2116.4 1969 L2114.4 1969 L2112.4 1969 L2110.4 1969 L2108.4 1969 L2106.4 1969 L2104.4 1969 L2102.4 1969 L2100.4 1969 L2098.4 1969 L2096.4 1969 L2094.4 1969 L2092.4 1969 L2090.4 1969 L2088.4 1968.9 L2086.4 1968.9 L2084.4 1968.8 L2082.4 1968.7 L2080.4 1968.7 L2078.4 1968.6 L2076.4 1968.5 L2074.4 1968.5 L2072.4 1968.4 L2070.4 1968.3 L2068.4 1968.3 L2066.4 1968.2 L2064.4 1968.1 L2062.4 1968.1 L2060.4 1968 L2058.4 1967.9 L2056.4 1967.9 L2054.4 1967.8 L2052.4 1967.7 L2050.4 1967.7 L2048.4 1967.6 L2046.4 1967.5 L2044.4 1967.5 L2042.4 1967.4 L2040.4 1967.3 L2038.4 1967.3 L2036.4 1967.2 L2034.4 1967.1 L2032.4 1967.1 L2030.4 1967 L2028.4 1966.9 L2026.4 1966.9 L2024.4 1966.8 L2022.4 1966.7 L2020.4 1966.7 L2018.4 1966.6 L2016.4 1966.5 L2014.4 1966.5 L2012.4 1966.4 L2010.4 1966.3 L2008.4 1966.3 L2006.4 1966.2 L2004.4 1966.1 L2002.4 1966.1 L2000.4 1966 L1998.4 1965.9 L1996.4 1965.9 L1994.4 1965.8 L1992.4 1965.7 L1990.4 1965.7 L1988.4 1965.6 L1986.4 1965.5 L1984.4 1965.5 L1982.4 1965.4 L1980.4 1965.3 L1978.4 1965.3 L1976.4 1965.2 L1974.4 1965.1 L1972.4 1965.1 L1970.4 1965 L1968.4 1964.9 L1966.4 1964.9 L1964.4 1964.8 L1962.4 1964.7 L1960.4 1964.7 L1958.4 1964.6 L1956.4 1964.5 L1954.4 1964.5 L1952.4 1964.4 L1950.4 1964.3 L1948.4 1964.3 L1946.4 1964.2 L1944.4 1964.1 L1942.4 1964.1 L1940.4 1964 L1938.4 1963.9 L1936.4 1963.9 L1934.4 1963.8 L1932.4 1963.7 L1930.4 1963.7 L1928.4 1963.6 L1926.4 1963.5 L1924.4 1963.5 L1922.4 1963.4 L1920.4 1963.3 L1918.4 1963.3 L1916.4 1963.2 L1914.4 1963.1 L1912.4 1963.1 L1910.4 1963 L1908.4 1962.9 L1906.4 1962.9 L1904.4 1962.8 L1902.4 1962.7 L1900.4 1962.7 L1898.4 1962.6 L1896.4 1962.5 L1894.4 1962.5 L1892.4 1962.4 L1890.4 1962.3 L1888.4 1962.3 L1886.4 1962.2 L1884.4 1962.1 L1882.4 1962.1 L1880.4 1962 L1878.4 1962 L1876.4 1962 L1874.4 1961.9 L1872.4 1961.9 L1870.4 1961.9 L1868.4 1961.9 L1866.4 1961.8 L1864.4 1961.8 L1862.4 1961.8 L1860.4 1961.8 L1858.4 1961.7 L1856.4 1961.7 L1854.4 1961.7 L1852.4 1961.7 L1850.4 1961.6 L1848.4 1961.6 L1846.4 1961.6 L1844.4 1961.5 L1842.4 1961.5 L1840.4 1961.5 L1838.4 1961.5 L1836.4 1961.4 L1834.4 1961.4 L1832.4 1961.4 L1830.4 1961.4 L1828.4 1961.3 L1826.4 1961.3 L1824.4 1961.3 L1822.4 1961.3 L1820.4 1961.2 L1818.4 1961.2 L1816.4 1961.2 L1814.4 1961.2 L1812.4 1961.1 L1810.4 1961.1 L1808.4 1961.1 L1806.4 1961.1 L1804.4 1961 L1802.4 1961 L1800.4 1961 L1798.4 1961 L1796.4 1960.9 L1794.4 1960.9 L1792.4 1960.9 L1790.4 1960.9 L1788.4 1960.8 L1786.4 1960.8 L1784.4 1960.8 L1782.4 1960.8 L1780.4 1960.7 L1778.4 1960.7 L1776.4 1960.7 L1774.4 1960.7 L1772.4 1960.6 L1770.4 1960.6 L1768.4 1960.6 L1766.4 1960.6 L1764.4 1960.5 L1762.4 1960.5 L1760.4 1960.5 L1758.4 1960.5 L1756.4 1960.4 L1754.4 1960.4 L1752.4 1960.4 L1750.4 1960.4 L1748.4 1960.3 L1746.4 1960.3 L1744.4 1960.3 L1742.4 1960.3 L1740.4 1960.2 L1738.4 1960.2 L1736.4 1960.2 L1734.4 1960.2 L1732.4 1960.1 L1730.4 1960.1 L1728.4 1960.1 L1726.4 1960.1 L1724.4 1960 L1722.4 1960 L1720.4 1960 L1718.4 1960 L1716.4 1959.9 L1714.4 1959.9 L1712.4 1959.9 L1710.4 1959.9 L1708.4 1959.8 L1706.4 1959.8 L1704.4 1959.8 L1702.4 1959.8 L1700.4 1959.7 L1698.4 1959.7 L1696.4 1959.7 L1694.4 1959.7 L1692.4 1959.6 L1690.4 1959.6 L1688.4 1959.6 L1686.4 1959.6 L1684.4 1959.5 L1682.4 1959.5 L1680.4 1959.5 L1678.4 1959.5 L1676.4 1959.4 L1674.4 1959.4 L1672.4 1959.4 L1670.4 1959.3 L1668.4 1959.3 L1666.4 1959.3 L1664.4 1959.3 L1662.4 1959.2 L1660.4 1959.2 L1658.4 1959.2 L1656.4 1959.2 L1654.4 1959.1 L1652.4 1959.1 L1650.4 1959.1 L1648.4 1959.1 L1646.4 1959 L1644.4 1959 L1642.4 1959 L1640.4 1959 L1638.4 1958.9 L1636.4 1958.9 L1634.4 1958.9 L1632.4 1958.9 L1630.4 1958.8 L1628.4 1958.8 L1626.4 1958.8 L1624.4 1958.8 L1622.4 1958.7 L1620.4 1958.7 L1618.4 1958.7 L1616.4 1958.7 L1614.4 1958.6 L1612.4 1958.6 L1610.4 1958.6 L1608.4 1958.6 L1606.4 1958.5 L1604.4 1958.5 L1602.4 1958.5 L1600.4 1958.5 L1598.4 1958.4 L1596.4 1958.4 L1594.4 1958.4 L1592.4 1958.4 L1590.4 1958.3 L1588.4 1958.3 L1586.4 1958.3 L1584.4 1958.3 L1582.4 1958.2 L1580.4 1958.2 L1578.4 1958.2 L1576.4 1958.2 L1574.4 1958.1 L1572.4 1958.1 L1570.4 1958.1 L1568.4 1958.1 L1566.4 1958 L1564.4 1958 L1562.4 1958 L1560.4 1958 L1558.4 1957.9 L1556.4 1957.9 L1554.4 1957.9 L1552.4 1957.9 L1550.4 1957.8 L1548.4 1957.8 L1546.4 1957.8 L1544.4 1957.8 L1542.4 1957.7 L1540.4 1957.7 L1538.4 1957.7 L1536.4 1957.7 L1534.4 1957.6 L1532.4 1957.6 L1530.4 1957.6 L1528.4 1957.6 L1526.4 1957.5 L1524.4 1957.5 L1522.4 1957.5 L1520.4 1957.5 L1518.4 1957.4 L1516.4 1957.4 L1514.4 1957.4 L1512.4 1957.4 L1510.4 1957.3 L1508.4 1957.3 L1506.4 1957.3 L1504.4 1957.3 L1502.4 1957.2 L1500.4 1957.2 L1498.4 1957.2 L1496.4 1957.1 L1494.4 1957.1 L1492.4 1957.1 L1490.4 1957.1 L1488.4 1957 L1486.4 1957 L1484.4 1957 L1482.4 1957 L1480.4 1956.9 L1478.4 1956.9 L1476.4 1956.9 L1474.4 1956.9 L1472.4 1956.8 L1470.4 1956.8 L1468.4 1956.8 L1466.4 1956.8 L1464.4 1956.7 L1462.4 1956.7 L1460.4 1956.7 L1458.4 1956.7 L1456.4 1956.6 L1454.4 1956.6 L1452.4 1956.6 L1450.4 1956.6 L1448.4 1956.5 L1446.4 1956.5 L1444.4 1956.5 L1442.4 1956.5 L1440.4 1956.4 L1438.4 1956.4 L1436.4 1956.4 L1434.4 1956.4 L1432.4 1956.3 L1430.4 1956.3 L1428.4 1956.3 L1426.4 1956.3 L1424.4 1956.2 L1422.4 1956.2 L1420.4 1956.2 L1418.4 1956.2 L1416.4 1956.1 L1414.4 1956.1 L1412.4 1956.1 L1410.4 1956.1 L1408.4 1956 L1406.4 1956 L1404.4 1956 L1402.4 1956 L1400.4 1955.9 L1398.4 1955.9 L1396.4 1955.9 L1394.4 1955.9 L1392.4 1955.8 L1390.4 1955.8 L1388.4 1955.8 L1386.4 1955.8 L1384.4 1955.7 L1382.4 1955.7 L1380.4 1955.7 L1378.4 1955.7 L1376.4 1955.6 L1374.4 1955.6 L1372.4 1955.6 L1370.4 1955.6 L1368.4 1955.5 L1366.4 1955.5 L1364.4 1955.5 L1362.4 1955.5 L1360.4 1955.4 L1358.4 1955.4 L1356.4 1955.4 L1354.4 1955.4 L1352.4 1955.3 L1350.4 1955.3 L1348.4 1955.3 L1346.4 1955.3 L1344.4 1955.2 L1342.4 1955.2 L1340.4 1955.2 L1338.4 1955.2 L1336.4 1955.1 L1334.4 1955.1 L1332.4 1955.1 L1330.4 1955.1 L1328.4 1955 L1326.4 1955Z" fill="#008C00"/>
<path d="M1326.4 1954.1 L1328.4 1954.1 L1330.4 1954.1 L1332.4 1954.1 L1334.4 1954.1 L1336.4 1954.2 L1338.4 1954.2 L1340.4 1954.2 L1342.4 1954.2 L1344.4 1954.2 L1346.4 1954.2 L1348.4 1954.2 L1350.4 1954.3 L1352.4 1954.3 L1354.4 1954.3 L1356.4 1954.3 L1358.4 1954.3 L1360.4 1954.3 L1362.4 1954.3 L1364.4 1954.4 L1366.4 1954.4 L1368.4 1954.4 L1370.4 1954.4 L1372.4 1954.4 L1374.4 1954.4 L1376.4 1954.4 L1378.4 1954.5 L1380.4 1954.5 L1382.4 1954.5 L1384.4 1954.5 L1386.4 1954.5 L1388.4 1954.5 L1390.4 1954.5 L1392.4 1954.5 L1394.4 1954.5 L1396.4 1954.6 L1398.4 1954.6 L1400.4 1954.6 L1402.4 1954.6 L1404.4 1954.6 L1406.4 1954.6 L1408.4 1954.6 L1410.4 1954.6 L1412.4 1954.6 L1414.4 1954.6 L1416.4 1954.7 L1418.4 1954.7 L1420.4 1954.7 L1422.4 1954.7 L1424.4 1954.7 L1426.4 1954.7 L1428.4 1954.7 L1430.4 1954.7 L1432.4 1954.7 L1434.4 1954.7 L1436.4 1954.7 L1438.4 1954.7 L1440.4 1954.7 L1442.4 1954.7 L1444.4 1954.7 L1446.4 1954.7 L1448.4 1954.7 L1450.4 1954.7 L1452.4 1954.7 L1454.4 1954.7 L1456.4 1954.7 L1458.4 1954.7 L1460.4 1954.7 L1462.4 1954.7 L1464.4 1954.7 L1466.4 1954.7 L1468.4 1954.7 L1470.4 1954.7 L1472.4 1954.6 L1474.4 1954.6 L1476.4 1954.6 L1478.4 1954.6 L1480.4 1954.6 L1482.4 1954.5 L1484.4 1954.5 L1486.4 1954.5 L1488.4 1954.5 L1490.4 1954.4 L1492.4 1954.4 L1494.4 1954.3 L1496.4 1954.3 L1498.4 1954.2 L1500.4 1954.2 L1502.4 1954.1 L1504.4 1954.1 L1506.4 1954 L1508.4 1953.9 L1510.4 1953.8 L1512.4 1953.7 L1514.4 1953.6 L1516.4 1953.5 L1518.4 1953.4 L1520.4 1953.3 L1522.4 1953.1 L1524.4 1953 L1526.4 1952.8 L1528.4 1952.6 L1530.4 1952.4 L1532.4 1952.2 L1534.4 1952 L1536.4 1951.8 L1538.4 1951.5 L1540.4 1951.2 L1542.4 1950.9 L1544.4 1950.6 L1546.4 1950.2 L1548.4 1949.9 L1550.4 1949.5 L1552.4 1949 L1554.4 1948.6 L1556.4 1948.1 L1558.4 1947.6 L1560.4 1947 L1562.4 1946.4 L1564.4 1945.8 L1566.4 1945.1 L1568.4 1944.4 L1570.4 1943.6 L1572.4 1942.8 L1574.4 1941.9 L1576.4 1941 L1578.4 1940 L1580.4 1939 L1582.4 1937.9 L1584.4 1936.7 L1586.4 1935.5 L1588.4 1934.2 L1590.4 1932.9 L1592.4 1931.5 L1594.4 1930 L1596.4 1928.4 L1598.4 1926.8 L1600.4 1925 L1602.4 1923.2 L1604.4 1921.3 L1606.4 1919.4 L1608.4 1917.3 L1610.4 1915.1 L1612.4 1912.9 L1614.4 1910.6 L1616.4 1908.1 L1618.4 1905.6 L1620.4 1903 L1622.4 1900.3 L1624.4 1897.5 L1626.4 1894.6 L1628.4 1891.6 L1630.4 1888.5 L1632.4 1885.3 L1634.4 1882 L1636.4 1878.6 L1638.4 1875.2 L1640.4 1871.6 L1642.4 1868 L1644.4 1864.2 L1646.4 1860.4 L1648.4 1856.5 L1650.4 1852.5 L1652.4 1848.5 L1654.4 1844.4 L1656.4 1840.2 L1658.4 1835.9 L1660.4 1831.7 L1662.4 1827.3 L1664.4 1822.9 L1666.4 1818.5 L1668.4 1814 L1670.4 1809.5 L1672.4 1805 L1674.4 1800.5 L1676.4 1796 L1678.4 1791.5 L1680.4 1787 L1682.4 1782.5 L1684.4 1778 L1686.4 1773.6 L1688.4 1769.3 L1690.4 1764.9 L1692.4 1760.7 L1694.4 1756.5 L1696.4 1752.4 L1698.4 1748.4 L1700.4 1744.5 L1702.4 1740.7 L1704.4 1737 L1706.4 1733.5 L1708.4 1730.1 L1710.4 1726.8 L1712.4 1723.7 L1714.4 1720.8 L1716.4 1718 L1718.4 1715.4 L1720.4 1713 L1722.4 1710.8 L1724.4 1708.9 L1726.4 1707.1 L1728.4 1705.5 L1730.4 1704.1 L1732.4 1703 L1734.4 1702.1 L1736.4 1701.4 L1738.4 1701 L1740.4 1700.8 L1742.4 1700.8 L1744.4 1701 L1746.4 1701.5 L1748.4 1702.3 L1750.4 1703.2 L1752.4 1704.4 L1754.4 1705.8 L1756.4 1707.4 L1758.4 1709.3 L1760.4 1711.3 L1762.4 1713.6 L1764.4 1716 L1766.4 1718.7 L1768.4 1721.5 L1770.4 1724.5 L1772.4 1727.6 L1774.4 1730.9 L1776.4 1734.4 L1778.4 1738 L1780.4 1741.7 L1782.4 1745.5 L1784.4 1749.5 L1786.4 1753.5 L1788.4 1757.7 L1790.4 1761.9 L1792.4 1766.2 L1794.4 1770.6 L1796.4 1775 L1798.4 1779.5 L1800.4 1784 L1802.4 1788.5 L1804.4 1793.1 L1806.4 1797.6 L1808.4 1802.2 L1810.4 1806.8 L1812.4 1811.3 L1814.4 1815.9 L1816.4 1820.4 L1818.4 1824.9 L1820.4 1829.3 L1822.4 1833.7 L1824.4 1838 L1826.4 1842.3 L1828.4 1846.6 L1830.4 1850.7 L1832.4 1854.8 L1834.4 1858.9 L1836.4 1862.8 L1838.4 1866.7 L1840.4 1870.5 L1842.4 1874.2 L1844.4 1877.8 L1846.4 1881.3 L1848.4 1884.7 L1850.4 1888 L1852.4 1891.3 L1854.4 1894.4 L1856.4 1897.5 L1858.4 1900.4 L1860.4 1903.3 L1862.4 1906.1 L1864.4 1908.7 L1866.4 1911.3 L1868.4 1913.8 L1870.4 1916.2 L1872.4 1918.4 L1874.4 1920.7 L1876.4 1922.8 L1878.4 1924.8 L1880.4 1926.7 L1882.4 1928.6 L1884.4 1930.5 L1886.4 1932.2 L1888.4 1933.9 L1890.4 1935.4 L1892.4 1937 L1894.4 1938.4 L1896.4 1939.8 L1898.4 1941.1 L1900.4 1942.3 L1902.4 1943.5 L1904.4 1944.6 L1906.4 1945.7 L1908.4 1946.7 L1910.4 1947.7 L1912.4 1948.6 L1914.4 1949.4 L1916.4 1950.3 L1918.4 1951 L1920.4 1951.8 L1922.4 1952.5 L1924.4 1953.1 L1926.4 1953.7 L1928.4 1954.3 L1930.4 1954.9 L1932.4 1955.4 L1934.4 1955.9 L1936.4 1956.3 L1938.4 1956.8 L1940.4 1957.2 L1942.4 1957.6 L1944.4 1958 L1946.4 1958.3 L1948.4 1958.7 L1950.4 1959 L1952.4 1959.3 L1954.4 1959.6 L1956.4 1959.8 L1958.4 1960.1 L1960.4 1960.3 L1962.4 1960.6 L1964.4 1960.8 L1966.4 1961 L1968.4 1961.2 L1970.4 1961.4 L1972.4 1961.6 L1974.4 1961.8 L1976.4 1961.9 L1978.4 1962.1 L1980.4 1962.3 L1982.4 1962.4 L1984.4 1962.6 L1986.4 1962.7 L1988.4 1962.8 L1990.4 1963 L1992.4 1963.1 L1994.4 1963.2 L1996.4 1963.4 L1998.4 1963.5 L2000.4 1963.6 L2002.4 1963.7 L2004.4 1963.8 L2006.4 1963.9 L2008.4 1964 L2010.4 1964.1 L2012.4 1964.3 L2014.4 1964.4 L2016.4 1964.5 L2018.4 1964.6 L2020.4 1964.7 L2022.4 1964.8 L2024.4 1964.9 L2026.4 1964.9 L2028.4 1965 L2030.4 1965.1 L2032.4 1965.2 L2034.4 1965.3 L2036.4 1965.4 L2038.4 1965.5 L2040.4 1965.6 L2042.4 1965.7 L2044.4 1965.8 L2046.4 1965.9 L2048.4 1966 L2050.4 1966 L2052.4 1966.1 L2054.4 1966.2 L2056.4 1966.3 L2058.4 1966.4 L2060.4 1966.5 L2062.4 1966.6 L2064.4 1966.6 L2066.4 1966.7 L2068.4 1966.8 L2070.4 1966.9 L2072.4 1967 L2074.4 1967.1 L2076.4 1967.1 L2078.4 1967.2 L2080.4 1967.3 L2082.4 1967.4 L2084.4 1967.5 L2086.4 1967.6 L2088.4 1967.6 L2090.4 1967.7 L2092.4 1967.7 L2094.4 1967.7 L2096.4 1967.7 L2098.4 1967.8 L2100.4 1967.8 L2102.4 1967.8 L2104.4 1967.8 L2106.4 1967.8 L2108.4 1967.8 L2110.4 1967.8 L2112.4 1967.8 L2114.4 1967.9 L2116.4 1967.9 L2118.4 1967.9 L2120.4 1967.9 L2122.4 1967.9 L2124.4 1967.9 L2126.4 1967.9 L2128.4 1967.9 L2130.4 1967.9 L2132.4 1968 L2134.4 1968 L2136.4 1968 L2138.4 1968 L2140.4 1968 L2142.4 1968 L2144.4 1968 L2146.4 1968 L2148.4 1968 L2150.4 1968 L2152.4 1968.1 L2154.4 1968.1 L2156.4 1968.1 L2158.4 1968.1 L2160.4 1968.1 L2162.4 1968.1 L2164.4 1968.1 L2166.4 1968.1 L2168.4 1968.1 L2170.4 1968.1 L2172.4 1968.1 L2174.4 1968.1 L2176.4 1968.2 L2178.4 1968.2 L2180.4 1968.2 L2182.4 1968.2 L2184.4 1968.2 L2186.4 1968.2 L2188.4 1968.2 L2190.4 1968.2 L2192.4 1968.2 L2194.4 1968.2 L2196.4 1968.2 L2198.4 1968.2 L2200.4 1968.2 L2202.4 1968.2 L2204.4 1968.2 L2206.4 1968.3 L2208.4 1968.3 L2210.4 1968.3 L2212.4 1968.3 L2214.4 1968.3 L2216.4 1968.3 L2218.4 1968.3 L2220.4 1968.3 L2222.4 1968.3 L2224.4 1968.3 L2226.4 1968.3 L2228.4 1968.3 L2230.4 1968.3 L2232.4 1968.3 L2234.4 1968.3 L2236.4 1968.3 L2238.4 1968.3 L2240.4 1968.3 L2242.4 1968.4 L2244.4 1968.4 L2246.4 1968.4 L2248.4 1968.4 L2250.4 1968.4 L2252.4 1968.4 L2254.4 1968.4 L2256.4 1968.4 L2258.4 1968.4 L2260.4 1968.4 L2262.4 1968.4 L2264.4 1968.4 L2266.4 1968.4 L2268.4 1968.4 L2270.4 1968.4 L2272.4 1968.4 L2274.4 1968.4 L2276.4 1968.4 L2278.4 1968.4 L2280.4 1968.4 L2282.4 1968.4 L2284.4 1968.4 L2286.4 1968.5 L2288.4 1968.5 L2290.4 1968.5 L2292.4 1968.5 L2294.4 1968.5 L2296.4 1968.5 L2298.4 1968.5 L2300.4 1968.5 L2302.4 1968.5 L2304.4 1968.5 L2306.4 1968.5 L2308.4 1968.5 L2310.4 1968.5 L2312.4 1968.5 L2314.4 1968.5 L2316.4 1968.5 L2318.4 1968.5 L2320.4 1968.5 L2322.4 1968.5 L2324.4 1968.5 L2326.4 1968.5 L2328.4 1968.5 L2330.4 1968.5 L2332.4 1968.5 L2334.4 1968.5 L2336.4 1968.5 L2338.4 1968.5 L2340.4 1968.5 L2342.4 1968.5 L2344.4 1968.6 L2346.4 1968.6 L2348.4 1968.6 L2350.4 1968.6 L2352.4 1968.6 L2354.4 1968.6 L2356.4 1968.6 L2358.4 1968.6 L2360.4 1968.6 L2362.4 1968.6 L2364.4 1968.6 L2366.4 1968.6 L2368.4 1968.6 L2370.4 1968.6 L2372.4 1968.6 L2374.4 1968.6 L2376.4 1968.6 L2378.4 1968.6 L2380.4 1968.6 L2382.4 1968.6 L2384.4 1968.6 L2386.4 1968.6 L2388.4 1968.6 L2390.4 1968.6 L2392.4 1968.6 L2394.4 1968.6 L2396.4 1968.6 L2398.4 1968.6 L2400.4 1968.6 L2402.4 1968.6 L2404.4 1968.6 L2406.4 1968.6 L2408.4 1968.6 L2410.4 1968.6 L2412.4 1968.6 L2414.4 1968.6 L2416.4 1968.6 L2418.4 1968.6 L2420.4 1968.6 L2422.4 1968.6 L2424.4 1968.6 L2426.4 1968.7 L2428.4 1968.7 L2430.4 1968.7 L2432.4 1968.7 L2434.4 1968.7 L2435.5 1968.7" fill="none" stroke="#00DC96" stroke-width="5.5" stroke-linejoin="round"/>
<path d="M1326.4 1949.3 L1328.4 1949.2 L1330.4 1949.2 L1332.4 1949.2 L1334.4 1949.2 L1336.4 1949.2 L1338.4 1949.2 L1340.4 1949.2 L1342.4 1949.1 L1344.4 1949.1 L1346.4 1949.1 L1348.4 1949.1 L1350.4 1949.1 L1352.4 1949.1 L1354.4 1949.1 L1356.4 1949 L1358.4 1949 L1360.4 1949 L1362.4 1949 L1364.4 1949 L1366.4 1948.9 L1368.4 1948.9 L1370.4 1948.9 L1372.4 1948.9 L1374.4 1948.9 L1376.4 1948.8 L1378.4 1948.8 L1380.4 1948.8 L1382.4 1948.8 L1384.4 1948.8 L1386.4 1948.7 L1388.4 1948.7 L1390.4 1948.7 L1392.4 1948.7 L1394.4 1948.6 L1396.4 1948.6 L1398.4 1948.6 L1400.4 1948.5 L1402.4 1948.5 L1404.4 1948.5 L1406.4 1948.5 L1408.4 1948.4 L1410.4 1948.4 L1412.4 1948.4 L1414.4 1948.3 L1416.4 1948.3 L1418.4 1948.3 L1420.4 1948.2 L1422.4 1948.2 L1424.4 1948.2 L1426.4 1948.1 L1428.4 1948.1 L1430.4 1948.1 L1432.4 1948 L1434.4 1948 L1436.4 1947.9 L1438.4 1947.9 L1440.4 1947.9 L1442.4 1947.8 L1444.4 1947.8 L1446.4 1947.7 L1448.4 1947.7 L1450.4 1947.6 L1452.4 1947.6 L1454.4 1947.5 L1456.4 1947.5 L1458.4 1947.5 L1460.4 1947.4 L1462.4 1947.4 L1464.4 1947.3 L1466.4 1947.2 L1468.4 1947.2 L1470.4 1947.1 L1472.4 1947.1 L1474.4 1947 L1476.4 1947 L1478.4 1946.9 L1480.4 1946.9 L1482.4 1946.8 L1484.4 1946.7 L1486.4 1946.7 L1488.4 1946.6 L1490.4 1946.5 L1492.4 1946.5 L1494.4 1946.4 L1496.4 1946.3 L1498.4 1946.3 L1500.4 1946.2 L1502.4 1946.1 L1504.4 1946.1 L1506.4 1946 L1508.4 1945.9 L1510.4 1945.8 L1512.4 1945.8 L1514.4 1945.7 L1516.4 1945.6 L1518.4 1945.5 L1520.4 1945.4 L1522.4 1945.3 L1524.4 1945.3 L1526.4 1945.2 L1528.4 1945.1 L1530.4 1945 L1532.4 1944.9 L1534.4 1944.8 L1536.4 1944.7 L1538.4 1944.6 L1540.4 1944.5 L1542.4 1944.4 L1544.4 1944.3 L1546.4 1944.2 L1548.4 1944.1 L1550.4 1944 L1552.4 1943.8 L1554.4 1943.7 L1556.4 1943.6 L1558.4 1943.5 L1560.4 1943.4 L1562.4 1943.2 L1564.4 1943.1 L1566.4 1943 L1568.4 1942.8 L1570.4 1942.7 L1572.4 1942.6 L1574.4 1942.4 L1576.4 1942.3 L1578.4 1942.1 L1580.4 1942 L1582.4 1941.8 L1584.4 1941.6 L1586.4 1941.5 L1588.4 1941.3 L1590.4 1941.1 L1592.4 1940.9 L1594.4 1940.8 L1596.4 1940.6 L1598.4 1940.4 L1600.4 1940.2 L1602.4 1940 L1604.4 1939.8 L1606.4 1939.5 L1608.4 1939.3 L1610.4 1939.1 L1612.4 1938.8 L1614.4 1938.6 L1616.4 1938.3 L1618.4 1938.1 L1620.4 1937.8 L1622.4 1937.5 L1624.4 1937.2 L1626.4 1936.9 L1628.4 1936.6 L1630.4 1936.3 L1632.4 1936 L1634.4 1935.6 L1636.4 1935.3 L1638.4 1934.9 L1640.4 1934.5 L1642.4 1934.1 L1644.4 1933.7 L1646.4 1933.3 L1648.4 1932.8 L1650.4 1932.4 L1652.4 1931.9 L1654.4 1931.4 L1656.4 1930.9 L1658.4 1930.3 L1660.4 1929.7 L1662.4 1929.1 L1664.4 1928.5 L1666.4 1927.9 L1668.4 1927.2 L1670.4 1926.5 L1672.4 1925.8 L1674.4 1925.1 L1676.4 1924.3 L1678.4 1923.5 L1680.4 1922.6 L1682.4 1921.7 L1684.4 1920.8 L1686.4 1919.8 L1688.4 1918.8 L1690.4 1917.8 L1692.4 1916.7 L1694.4 1915.5 L1696.4 1914.3 L1698.4 1913.1 L1700.4 1911.8 L1702.4 1910.5 L1704.4 1909.1 L1706.4 1907.6 L1708.4 1906.1 L1710.4 1904.5 L1712.4 1902.9 L1714.4 1901.1 L1716.4 1899.4 L1718.4 1897.5 L1720.4 1895.6 L1722.4 1893.6 L1724.4 1891.5 L1726.4 1889.3 L1728.4 1887.1 L1730.4 1884.8 L1732.4 1882.4 L1734.4 1879.9 L1736.4 1877.3 L1738.4 1874.6 L1740.4 1871.8 L1742.4 1868.9 L1744.4 1865.9 L1746.4 1862.8 L1748.4 1859.6 L1750.4 1856.3 L1752.4 1852.9 L1754.4 1849.4 L1756.4 1845.7 L1758.4 1842 L1760.4 1838.1 L1762.4 1834.1 L1764.4 1829.9 L1766.4 1825.7 L1768.4 1821.3 L1770.4 1816.8 L1772.4 1812.2 L1774.4 1807.4 L1776.4 1802.5 L1778.4 1797.5 L1780.4 1792.4 L1782.4 1787.1 L1784.4 1781.6 L1786.4 1776.1 L1788.4 1770.4 L1790.4 1764.6 L1792.4 1758.6 L1794.4 1752.5 L1796.4 1746.3 L1798.4 1739.9 L1800.4 1733.4 L1802.4 1726.8 L1804.4 1720 L1806.4 1713.2 L1808.4 1706.2 L1810.4 1699 L1812.4 1691.8 L1814.4 1684.4 L1816.4 1676.9 L1818.4 1669.4 L1820.4 1661.7 L1822.4 1653.8 L1824.4 1645.9 L1826.4 1637.9 L1828.4 1629.8 L1830.4 1621.7 L1832.4 1613.4 L1834.4 1605.1 L1836.4 1596.7 L1838.4 1588.2 L1840.4 1579.7 L1842.4 1571.1 L1844.4 1562.5 L1846.4 1553.8 L1848.4 1545.1 L1850.4 1536.4 L1852.4 1527.7 L1854.4 1518.9 L1856.4 1510.2 L1858.4 1501.5 L1860.4 1492.8 L1862.4 1484.2 L1864.4 1475.5 L1866.4 1467 L1868.4 1458.5 L1870.4 1450.1 L1872.4 1441.7 L1874.4 1433.5 L1876.4 1425.3 L1878.4 1417.3 L1880.4 1409.5 L1882.4 1401.8 L1884.4 1394.2 L1886.4 1386.9 L1888.4 1379.7 L1890.4 1372.7 L1892.4 1365.9 L1894.4 1359.3 L1896.4 1353 L1898.4 1346.9 L1900.4 1341.1 L1902.4 1335.6 L1904.4 1330.3 L1906.4 1325.3 L1908.4 1320.7 L1910.4 1316.3 L1912.4 1312.3 L1914.4 1308.6 L1916.4 1305.3 L1918.4 1302.3 L1920.4 1299.6 L1922.4 1297.4 L1924.4 1295.5 L1926.4 1294 L1928.4 1292.9 L1930.4 1292.1 L1932.4 1291.8 L1934.4 1291.8 L1936.4 1292.2 L1938.4 1293 L1940.4 1294.1 L1942.4 1295.5 L1944.4 1297.3 L1946.4 1299.4 L1948.4 1301.8 L1950.4 1304.6 L1952.4 1307.7 L1954.4 1311.1 L1956.4 1314.8 L1958.4 1318.8 L1960.4 1323.2 L1962.4 1327.8 L1964.4 1332.6 L1966.4 1337.8 L1968.4 1343.2 L1970.4 1348.8 L1972.4 1354.7 L1974.4 1360.9 L1976.4 1367.2 L1978.4 1373.8 L1980.4 1380.5 L1982.4 1387.5 L1984.4 1394.6 L1986.4 1401.9 L1988.4 1409.4 L1990.4 1417 L1992.4 1424.7 L1994.4 1432.6 L1996.4 1440.6 L1998.4 1448.6 L2000.4 1456.8 L2002.4 1465.1 L2004.4 1473.5 L2006.4 1481.9 L2008.4 1490.3 L2010.4 1498.9 L2012.4 1507.4 L2014.4 1516 L2016.4 1524.6 L2018.4 1533.3 L2020.4 1541.9 L2022.4 1550.5 L2024.4 1559.1 L2026.4 1567.7 L2028.4 1576.3 L2030.4 1584.9 L2032.4 1593.4 L2034.4 1601.8 L2036.4 1610.2 L2038.4 1618.6 L2040.4 1626.9 L2042.4 1635.1 L2044.4 1643.2 L2046.4 1651.3 L2048.4 1659.2 L2050.4 1667.1 L2052.4 1674.9 L2054.4 1682.6 L2056.4 1690.2 L2058.4 1697.7 L2060.4 1705.1 L2062.4 1712.4 L2064.4 1719.5 L2066.4 1726.6 L2068.4 1733.5 L2070.4 1740.3 L2072.4 1747 L2074.4 1753.5 L2076.4 1759.9 L2078.4 1766.2 L2080.4 1772.4 L2082.4 1778.5 L2084.4 1784.4 L2086.4 1790.1 L2088.4 1795.8 L2090.4 1801.3 L2092.4 1806.6 L2094.4 1811.8 L2096.4 1816.9 L2098.4 1821.8 L2100.4 1826.6 L2102.4 1831.3 L2104.4 1835.9 L2106.4 1840.3 L2108.4 1844.6 L2110.4 1848.8 L2112.4 1852.9 L2114.4 1856.8 L2116.4 1860.6 L2118.4 1864.3 L2120.4 1867.9 L2122.4 1871.4 L2124.4 1874.8 L2126.4 1878 L2128.4 1881.2 L2130.4 1884.2 L2132.4 1887.2 L2134.4 1890 L2136.4 1892.8 L2138.4 1895.4 L2140.4 1898 L2142.4 1900.5 L2144.4 1902.8 L2146.4 1905.1 L2148.4 1907.3 L2150.4 1909.5 L2152.4 1911.5 L2154.4 1913.5 L2156.4 1915.4 L2158.4 1917.2 L2160.4 1919 L2162.4 1920.6 L2164.4 1922.3 L2166.4 1923.8 L2168.4 1925.3 L2170.4 1926.7 L2172.4 1928.1 L2174.4 1929.4 L2176.4 1930.7 L2178.4 1931.9 L2180.4 1933.1 L2182.4 1934.2 L2184.4 1935.2 L2186.4 1936.3 L2188.4 1937.2 L2190.4 1938.2 L2192.4 1939.1 L2194.4 1939.9 L2196.4 1940.7 L2198.4 1941.5 L2200.4 1942.3 L2202.4 1943 L2204.4 1943.7 L2206.4 1944.4 L2208.4 1945 L2210.4 1945.6 L2212.4 1946.2 L2214.4 1946.7 L2216.4 1947.3 L2218.4 1947.8 L2220.4 1948.3 L2222.4 1948.8 L2224.4 1949.2 L2226.4 1949.6 L2228.4 1950 L2230.4 1950.4 L2232.4 1950.8 L2234.4 1951.2 L2236.4 1951.5 L2238.4 1951.9 L2240.4 1952.2 L2242.4 1952.5 L2244.4 1952.8 L2246.4 1953.1 L2248.4 1953.4 L2250.4 1953.6 L2252.4 1953.9 L2254.4 1954.1 L2256.4 1954.4 L2258.4 1954.6 L2260.4 1954.8 L2262.4 1955.1 L2264.4 1955.3 L2266.4 1955.5 L2268.4 1955.7 L2270.4 1955.8 L2272.4 1956 L2274.4 1956.2 L2276.4 1956.4 L2278.4 1956.5 L2280.4 1956.7 L2282.4 1956.9 L2284.4 1957 L2286.4 1957.2 L2288.4 1957.3 L2290.4 1957.4 L2292.4 1957.6 L2294.4 1957.7 L2296.4 1957.9 L2298.4 1958 L2300.4 1958.1 L2302.4 1958.2 L2304.4 1958.3 L2306.4 1958.5 L2308.4 1958.6 L2310.4 1958.7 L2312.4 1958.8 L2314.4 1958.9 L2316.4 1959 L2318.4 1959.1 L2320.4 1959.2 L2322.4 1959.3 L2324.4 1959.4 L2326.4 1959.5 L2328.4 1959.6 L2330.4 1959.7 L2332.4 1959.8 L2334.4 1959.9 L2336.4 1960 L2338.4 1960 L2340.4 1960.1 L2342.4 1960.2 L2344.4 1960.3 L2346.4 1960.4 L2348.4 1960.5 L2350.4 1960.5 L2352.4 1960.6 L2354.4 1960.7 L2356.4 1960.8 L2358.4 1960.8 L2360.4 1960.9 L2362.4 1961 L2364.4 1961 L2366.4 1961.1 L2368.4 1961.2 L2370.4 1961.3 L2372.4 1961.3 L2374.4 1961.4 L2376.4 1961.5 L2378.4 1961.5 L2380.4 1961.6 L2382.4 1961.6 L2384.4 1961.7 L2386.4 1961.8 L2388.4 1961.8 L2390.4 1961.9 L2392.4 1961.9 L2394.4 1962 L2396.4 1962.1 L2398.4 1962.1 L2400.4 1962.2 L2402.4 1962.2 L2404.4 1962.3 L2406.4 1962.3 L2408.4 1962.4 L2410.4 1962.4 L2412.4 1962.5 L2414.4 1962.5 L2416.4 1962.6 L2418.4 1962.6 L2420.4 1962.7 L2422.4 1962.7 L2424.4 1962.8 L2426.4 1962.8 L2428.4 1962.9 L2430.4 1962.9 L2432.4 1963 L2434.4 1963 L2435.5 1963.1 L2435.5 1969 L2434.4 1969 L2432.4 1969 L2430.4 1969 L2428.4 1969 L2426.4 1969 L2424.4 1969 L2422.4 1969 L2420.4 1969 L2418.4 1969 L2416.4 1969 L2414.4 1969 L2412.4 1969 L2410.4 1969 L2408.4 1969 L2406.4 1969 L2404.4 1969 L2402.4 1969 L2400.4 1969 L2398.4 1969 L2396.4 1969 L2394.4 1969 L2392.4 1969 L2390.4 1969 L2388.4 1969 L2386.4 1969 L2384.4 1969 L2382.4 1969 L2380.4 1969 L2378.4 1969 L2376.4 1969 L2374.4 1969 L2372.4 1969 L2370.4 1969 L2368.4 1969 L2366.4 1969 L2364.4 1969 L2362.4 1969 L2360.4 1969 L2358.4 1969 L2356.4 1969 L2354.4 1969 L2352.4 1969 L2350.4 1969 L2348.4 1969 L2346.4 1969 L2344.4 1969 L2342.4 1969 L2340.4 1969 L2338.4 1969 L2336.4 1969 L2334.4 1969 L2332.4 1969 L2330.4 1969 L2328.4 1969 L2326.4 1969 L2324.4 1969 L2322.4 1969 L2320.4 1969 L2318.4 1969 L2316.4 1969 L2314.4 1969 L2312.4 1969 L2310.4 1969 L2308.4 1969 L2306.4 1969 L2304.4 1969 L2302.4 1969 L2300.4 1969 L2298.4 1969 L2296.4 1969 L2294.4 1969 L2292.4 1969 L2290.4 1969 L2288.4 1969 L2286.4 1969 L2284.4 1969 L2282.4 1969 L2280.4 1969 L2278.4 1969 L2276.4 1969 L2274.4 1969 L2272.4 1969 L2270.4 1969 L2268.4 1969 L2266.4 1969 L2264.4 1969 L2262.4 1969 L2260.4 1969 L2258.4 1969 L2256.4 1969 L2254.4 1969 L2252.4 1969 L2250.4 1969 L2248.4 1969 L2246.4 1969 L2244.4 1969 L2242.4 1969 L2240.4 1969 L2238.4 1969 L2236.4 1969 L2234.4 1969 L2232.4 1969 L2230.4 1969 L2228.4 1969 L2226.4 1969 L2224.4 1969 L2222.4 1969 L2220.4 1969 L2218.4 1969 L2216.4 1969 L2214.4 1969 L2212.4 1969 L2210.4 1969 L2208.4 1969 L2206.4 1969 L2204.4 1969 L2202.4 1969 L2200.4 1969 L2198.4 1969 L2196.4 1969 L2194.4 1969 L2192.4 1969 L2190.4 1969 L2188.4 1969 L2186.4 1969 L2184.4 1969 L2182.4 1969 L2180.4 1969 L2178.4 1969 L2176.4 1969 L2174.4 1969 L2172.4 1969 L2170.4 1969 L2168.4 1969 L2166.4 1969 L2164.4 1969 L2162.4 1969 L2160.4 1969 L2158.4 1969 L2156.4 1969 L2154.4 1969 L2152.4 1969 L2150.4 1969 L2148.4 1969 L2146.4 1969 L2144.4 1969 L2142.4 1969 L2140.4 1969 L2138.4 1969 L2136.4 1969 L2134.4 1969 L2132.4 1969 L2130.4 1969 L2128.4 1969 L2126.4 1969 L2124.4 1969 L2122.4 1969 L2120.4 1969 L2118.4 1969 L2116.4 1969 L2114.4 1969 L2112.4 1969 L2110.4 1969 L2108.4 1969 L2106.4 1969 L2104.4 1969 L2102.4 1969 L2100.4 1969 L2098.4 1969 L2096.4 1969 L2094.4 1969 L2092.4 1969 L2090.4 1969 L2088.4 1968.9 L2086.4 1968.9 L2084.4 1968.8 L2082.4 1968.7 L2080.4 1968.7 L2078.4 1968.6 L2076.4 1968.5 L2074.4 1968.5 L2072.4 1968.4 L2070.4 1968.3 L2068.4 1968.3 L2066.4 1968.2 L2064.4 1968.1 L2062.4 1968.1 L2060.4 1968 L2058.4 1967.9 L2056.4 1967.9 L2054.4 1967.8 L2052.4 1967.7 L2050.4 1967.7 L2048.4 1967.6 L2046.4 1967.5 L2044.4 1967.5 L2042.4 1967.4 L2040.4 1967.3 L2038.4 1967.3 L2036.4 1967.2 L2034.4 1967.1 L2032.4 1967.1 L2030.4 1967 L2028.4 1966.9 L2026.4 1966.9 L2024.4 1966.8 L2022.4 1966.7 L2020.4 1966.7 L2018.4 1966.6 L2016.4 1966.5 L2014.4 1966.5 L2012.4 1966.4 L2010.4 1966.3 L2008.4 1966.3 L2006.4 1966.2 L2004.4 1966.1 L2002.4 1966.1 L2000.4 1966 L1998.4 1965.9 L1996.4 1965.9 L1994.4 1965.8 L1992.4 1965.7 L1990.4 1965.7 L1988.4 1965.6 L1986.4 1965.5 L1984.4 1965.5 L1982.4 1965.4 L1980.4 1965.3 L1978.4 1965.3 L1976.4 1965.2 L1974.4 1965.1 L1972.4 1965.1 L1970.4 1965 L1968.4 1964.9 L1966.4 1964.9 L1964.4 1964.8 L1962.4 1964.7 L1960.4 1964.7 L1958.4 1964.6 L1956.4 1964.5 L1954.4 1964.5 L1952.4 1964.4 L1950.4 1964.3 L1948.4 1964.3 L1946.4 1964.2 L1944.4 1964.1 L1942.4 1964.1 L1940.4 1964 L1938.4 1963.9 L1936.4 1963.9 L1934.4 1963.8 L1932.4 1963.7 L1930.4 1963.7 L1928.4 1963.6 L1926.4 1963.5 L1924.4 1963.5 L1922.4 1963.4 L1920.4 1963.3 L1918.4 1963.3 L1916.4 1963.2 L1914.4 1963.1 L1912.4 1963.1 L1910.4 1963 L1908.4 1962.9 L1906.4 1962.9 L1904.4 1962.8 L1902.4 1962.7 L1900.4 1962.7 L1898.4 1962.6 L1896.4 1962.5 L1894.4 1962.5 L1892.4 1962.4 L1890.4 1962.3 L1888.4 1962.3 L1886.4 1962.2 L1884.4 1962.1 L1882.4 1962.1 L1880.4 1962 L1878.4 1962 L1876.4 1962 L1874.4 1961.9 L1872.4 1961.9 L1870.4 1961.9 L1868.4 1961.9 L1866.4 1961.8 L1864.4 1961.8 L1862.4 1961.8 L1860.4 1961.8 L1858.4 1961.7 L1856.4 1961.7 L1854.4 1961.7 L1852.4 1961.7 L1850.4 1961.6 L1848.4 1961.6 L1846.4 1961.6 L1844.4 1961.5 L1842.4 1961.5 L1840.4 1961.5 L1838.4 1961.5 L1836.4 1961.4 L1834.4 1961.4 L1832.4 1961.4 L1830.4 1961.4 L1828.4 1961.3 L1826.4 1961.3 L1824.4 1961.3 L1822.4 1961.3 L1820.4 1961.2 L1818.4 1961.2 L1816.4 1961.2 L1814.4 1961.2 L1812.4 1961.1 L1810.4 1961.1 L1808.4 1961.1 L1806.4 1961.1 L1804.4 1961 L1802.4 1961 L1800.4 1961 L1798.4 1961 L1796.4 1960.9 L1794.4 1960.9 L1792.4 1960.9 L1790.4 1960.9 L1788.4 1960.8 L1786.4 1960.8 L1784.4 1960.8 L1782.4 1960.8 L1780.4 1960.7 L1778.4 1960.7 L1776.4 1960.7 L1774.4 1960.7 L1772.4 1960.6 L1770.4 1960.6 L1768.4 1960.6 L1766.4 1960.6 L1764.4 1960.5 L1762.4 1960.5 L1760.4 1960.5 L1758.4 1960.5 L1756.4 1960.4 L1754.4 1960.4 L1752.4 1960.4 L1750.4 1960.4 L1748.4 1960.3 L1746.4 1960.3 L1744.4 1960.3 L1742.4 1960.3 L1740.4 1960.2 L1738.4 1960.2 L1736.4 1960.2 L1734.4 1960.2 L1732.4 1960.1 L1730.4 1960.1 L1728.4 1960.1 L1726.4 1960.1 L1724.4 1960 L1722.4 1960 L1720.4 1960 L1718.4 1960 L1716.4 1959.9 L1714.4 1959.9 L1712.4 1959.9 L1710.4 1959.9 L1708.4 1959.8 L1706.4 1959.8 L1704.4 1959.8 L1702.4 1959.8 L1700.4 1959.7 L1698.4 1959.7 L1696.4 1959.7 L1694.4 1959.7 L1692.4 1959.6 L1690.4 1959.6 L1688.4 1959.6 L1686.4 1959.6 L1684.4 1959.5 L1682.4 1959.5 L1680.4 1959.5 L1678.4 1959.5 L1676.4 1959.4 L1674.4 1959.4 L1672.4 1959.4 L1670.4 1959.3 L1668.4 1959.3 L1666.4 1959.3 L1664.4 1959.3 L1662.4 1959.2 L1660.4 1959.2 L1658.4 1959.2 L1656.4 1959.2 L1654.4 1959.1 L1652.4 1959.1 L1650.4 1959.1 L1648.4 1959.1 L1646.4 1959 L1644.4 1959 L1642.4 1959 L1640.4 1959 L1638.4 1958.9 L1636.4 1958.9 L1634.4 1958.9 L1632.4 1958.9 L1630.4 1958.8 L1628.4 1958.8 L1626.4 1958.8 L1624.4 1958.8 L1622.4 1958.7 L1620.4 1958.7 L1618.4 1958.7 L1616.4 1958.7 L1614.4 1958.6 L1612.4 1958.6 L1610.4 1958.6 L1608.4 1958.6 L1606.4 1958.5 L1604.4 1958.5 L1602.4 1958.5 L1600.4 1958.5 L1598.4 1958.4 L1596.4 1958.4 L1594.4 1958.4 L1592.4 1958.4 L1590.4 1958.3 L1588.4 1958.3 L1586.4 1958.3 L1584.4 1958.3 L1582.4 1958.2 L1580.4 1958.2 L1578.4 1958.2 L1576.4 1958.2 L1574.4 1958.1 L1572.4 1958.1 L1570.4 1958.1 L1568.4 1958.1 L1566.4 1958 L1564.4 1958 L1562.4 1958 L1560.4 1958 L1558.4 1957.9 L1556.4 1957.9 L1554.4 1957.9 L1552.4 1957.9 L1550.4 1957.8 L1548.4 1957.8 L1546.4 1957.8 L1544.4 1957.8 L1542.4 1957.7 L1540.4 1957.7 L1538.4 1957.7 L1536.4 1957.7 L1534.4 1957.6 L1532.4 1957.6 L1530.4 1957.6 L1528.4 1957.6 L1526.4 1957.5 L1524.4 1957.5 L1522.4 1957.5 L1520.4 1957.5 L1518.4 1957.4 L1516.4 1957.4 L1514.4 1957.4 L1512.4 1957.4 L1510.4 1957.3 L1508.4 1957.3 L1506.4 1957.3 L1504.4 1957.3 L1502.4 1957.2 L1500.4 1957.2 L1498.4 1957.2 L1496.4 1957.1 L1494.4 1957.1 L1492.4 1957.1 L1490.4 1957.1 L1488.4 1957 L1486.4 1957 L1484.4 1957 L1482.4 1957 L1480.4 1956.9 L1478.4 1956.9 L1476.4 1956.9 L1474.4 1956.9 L1472.4 1956.8 L1470.4 1956.8 L1468.4 1956.8 L1466.4 1956.8 L1464.4 1956.7 L1462.4 1956.7 L1460.4 1956.7 L1458.4 1956.7 L1456.4 1956.6 L1454.4 1956.6 L1452.4 1956.6 L1450.4 1956.6 L1448.4 1956.5 L1446.4 1956.5 L1444.4 1956.5 L1442.4 1956.5 L1440.4 1956.4 L1438.4 1956.4 L1436.4 1956.4 L1434.4 1956.4 L1432.4 1956.3 L1430.4 1956.3 L1428.4 1956.3 L1426.4 1956.3 L1424.4 1956.2 L1422.4 1956.2 L1420.4 1956.2 L1418.4 1956.2 L1416.4 1956.1 L1414.4 1956.1 L1412.4 1956.1 L1410.4 1956.1 L1408.4 1956 L1406.4 1956 L1404.4 1956 L1402.4 1956 L1400.4 1955.9 L1398.4 1955.9 L1396.4 1955.9 L1394.4 1955.9 L1392.4 1955.8 L1390.4 1955.8 L1388.4 1955.8 L1386.4 1955.8 L1384.4 1955.7 L1382.4 1955.7 L1380.4 1955.7 L1378.4 1955.7 L1376.4 1955.6 L1374.4 1955.6 L1372.4 1955.6 L1370.4 1955.6 L1368.4 1955.5 L1366.4 1955.5 L1364.4 1955.5 L1362.4 1955.5 L1360.4 1955.4 L1358.4 1955.4 L1356.4 1955.4 L1354.4 1955.4 L1352.4 1955.3 L1350.4 1955.3 L1348.4 1955.3 L1346.4 1955.3 L1344.4 1955.2 L1342.4 1955.2 L1340.4 1955.2 L1338.4 1955.2 L1336.4 1955.1 L1334.4 1955.1 L1332.4 1955.1 L1330.4 1955.1 L1328.4 1955 L1326.4 1955Z" fill="#007B00"/>
<path d="M1326.4 1949.3 L1328.4 1949.2 L1330.4 1949.2 L1332.4 1949.2 L1334.4 1949.2 L1336.4 1949.2 L1338.4 1949.2 L1340.4 1949.2 L1342.4 1949.1 L1344.4 1949.1 L1346.4 1949.1 L1348.4 1949.1 L1350.4 1949.1 L1352.4 1949.1 L1354.4 1949.1 L1356.4 1949 L1358.4 1949 L1360.4 1949 L1362.4 1949 L1364.4 1949 L1366.4 1948.9 L1368.4 1948.9 L1370.4 1948.9 L1372.4 1948.9 L1374.4 1948.9 L1376.4 1948.8 L1378.4 1948.8 L1380.4 1948.8 L1382.4 1948.8 L1384.4 1948.8 L1386.4 1948.7 L1388.4 1948.7 L1390.4 1948.7 L1392.4 1948.7 L1394.4 1948.6 L1396.4 1948.6 L1398.4 1948.6 L1400.4 1948.5 L1402.4 1948.5 L1404.4 1948.5 L1406.4 1948.5 L1408.4 1948.4 L1410.4 1948.4 L1412.4 1948.4 L1414.4 1948.3 L1416.4 1948.3 L1418.4 1948.3 L1420.4 1948.2 L1422.4 1948.2 L1424.4 1948.2 L1426.4 1948.1 L1428.4 1948.1 L1430.4 1948.1 L1432.4 1948 L1434.4 1948 L1436.4 1947.9 L1438.4 1947.9 L1440.4 1947.9 L1442.4 1947.8 L1444.4 1947.8 L1446.4 1947.7 L1448.4 1947.7 L1450.4 1947.6 L1452.4 1947.6 L1454.4 1947.5 L1456.4 1947.5 L1458.4 1947.5 L1460.4 1947.4 L1462.4 1947.4 L1464.4 1947.3 L1466.4 1947.2 L1468.4 1947.2 L1470.4 1947.1 L1472.4 1947.1 L1474.4 1947 L1476.4 1947 L1478.4 1946.9 L1480.4 1946.9 L1482.4 1946.8 L1484.4 1946.7 L1486.4 1946.7 L1488.4 1946.6 L1490.4 1946.5 L1492.4 1946.5 L1494.4 1946.4 L1496.4 1946.3 L1498.4 1946.3 L1500.4 1946.2 L1502.4 1946.1 L1504.4 1946.1 L1506.4 1946 L1508.4 1945.9 L1510.4 1945.8 L1512.4 1945.8 L1514.4 1945.7 L1516.4 1945.6 L1518.4 1945.5 L1520.4 1945.4 L1522.4 1945.3 L1524.4 1945.3 L1526.4 1945.2 L1528.4 1945.1 L1530.4 1945 L1532.4 1944.9 L1534.4 1944.8 L1536.4 1944.7 L1538.4 1944.6 L1540.4 1944.5 L1542.4 1944.4 L1544.4 1944.3 L1546.4 1944.2 L1548.4 1944.1 L1550.4 1944 L1552.4 1943.8 L1554.4 1943.7 L1556.4 1943.6 L1558.4 1943.5 L1560.4 1943.4 L1562.4 1943.2 L1564.4 1943.1 L1566.4 1943 L1568.4 1942.8 L1570.4 1942.7 L1572.4 1942.6 L1574.4 1942.4 L1576.4 1942.3 L1578.4 1942.1 L1580.4 1942 L1582.4 1941.8 L1584.4 1941.6 L1586.4 1941.5 L1588.4 1941.3 L1590.4 1941.1 L1592.4 1940.9 L1594.4 1940.8 L1596.4 1940.6 L1598.4 1940.4 L1600.4 1940.2 L1602.4 1940 L1604.4 1939.8 L1606.4 1939.5 L1608.4 1939.3 L1610.4 1939.1 L1612.4 1938.8 L1614.4 1938.6 L1616.4 1938.3 L1618.4 1938.1 L1620.4 1937.8 L1622.4 1937.5 L1624.4 1937.2 L1626.4 1936.9 L1628.4 1936.6 L1630.4 1936.3 L1632.4 1936 L1634.4 1935.6 L1636.4 1935.3 L1638.4 1934.9 L1640.4 1934.5 L1642.4 1934.1 L1644.4 1933.7 L1646.4 1933.3 L1648.4 1932.8 L1650.4 1932.4 L1652.4 1931.9 L1654.4 1931.4 L1656.4 1930.9 L1658.4 1930.3 L1660.4 1929.7 L1662.4 1929.1 L1664.4 1928.5 L1666.4 1927.9 L1668.4 1927.2 L1670.4 1926.5 L1672.4 1925.8 L1674.4 1925.1 L1676.4 1924.3 L1678.4 1923.5 L1680.4 1922.6 L1682.4 1921.7 L1684.4 1920.8 L1686.4 1919.8 L1688.4 1918.8 L1690.4 1917.8 L1692.4 1916.7 L1694.4 1915.5 L1696.4 1914.3 L1698.4 1913.1 L1700.4 1911.8 L1702.4 1910.5 L1704.4 1909.1 L1706.4 1907.6 L1708.4 1906.1 L1710.4 1904.5 L1712.4 1902.9 L1714.4 1901.1 L1716.4 1899.4 L1718.4 1897.5 L1720.4 1895.6 L1722.4 1893.6 L1724.4 1891.5 L1726.4 1889.3 L1728.4 1887.1 L1730.4 1884.8 L1732.4 1882.4 L1734.4 1879.9 L1736.4 1877.3 L1738.4 1874.6 L1740.4 1871.8 L1742.4 1868.9 L1744.4 1865.9 L1746.4 1862.8 L1748.4 1859.6 L1750.4 1856.3 L1752.4 1852.9 L1754.4 1849.4 L1756.4 1845.7 L1758.4 1842 L1760.4 1838.1 L1762.4 1834.1 L1764.4 1829.9 L1766.4 1825.7 L1768.4 1821.3 L1770.4 1816.8 L1772.4 1812.2 L1774.4 1807.4 L1776.4 1802.5 L1778.4 1797.5 L1780.4 1792.4 L1782.4 1787.1 L1784.4 1781.6 L1786.4 1776.1 L1788.4 1770.4 L1790.4 1764.6 L1792.4 1758.6 L1794.4 1752.5 L1796.4 1746.3 L1798.4 1739.9 L1800.4 1733.4 L1802.4 1726.8 L1804.4 1720 L1806.4 1713.2 L1808.4 1706.2 L1810.4 1699 L1812.4 1691.8 L1814.4 1684.4 L1816.4 1676.9 L1818.4 1669.4 L1820.4 1661.7 L1822.4 1653.8 L1824.4 1645.9 L1826.4 1637.9 L1828.4 1629.8 L1830.4 1621.7 L1832.4 1613.4 L1834.4 1605.1 L1836.4 1596.7 L1838.4 1588.2 L1840.4 1579.7 L1842.4 1571.1 L1844.4 1562.5 L1846.4 1553.8 L1848.4 1545.1 L1850.4 1536.4 L1852.4 1527.7 L1854.4 1518.9 L1856.4 1510.2 L1858.4 1501.5 L1860.4 1492.8 L1862.4 1484.2 L1864.4 1475.5 L1866.4 1467 L1868.4 1458.5 L1870.4 1450.1 L1872.4 1441.7 L1874.4 1433.5 L1876.4 1425.3 L1878.4 1417.3 L1880.4 1409.5 L1882.4 1401.8 L1884.4 1394.2 L1886.4 1386.9 L1888.4 1379.7 L1890.4 1372.7 L1892.4 1365.9 L1894.4 1359.3 L1896.4 1353 L1898.4 1346.9 L1900.4 1341.1 L1902.4 1335.6 L1904.4 1330.3 L1906.4 1325.3 L1908.4 1320.7 L1910.4 1316.3 L1912.4 1312.3 L1914.4 1308.6 L1916.4 1305.3 L1918.4 1302.3 L1920.4 1299.6 L1922.4 1297.4 L1924.4 1295.5 L1926.4 1294 L1928.4 1292.9 L1930.4 1292.1 L1932.4 1291.8 L1934.4 1291.8 L1936.4 1292.2 L1938.4 1293 L1940.4 1294.1 L1942.4 1295.5 L1944.4 1297.3 L1946.4 1299.4 L1948.4 1301.8 L1950.4 1304.6 L1952.4 1307.7 L1954.4 1311.1 L1956.4 1314.8 L1958.4 1318.8 L1960.4 1323.2 L1962.4 1327.8 L1964.4 1332.6 L1966.4 1337.8 L1968.4 1343.2 L1970.4 1348.8 L1972.4 1354.7 L1974.4 1360.9 L1976.4 1367.2 L1978.4 1373.8 L1980.4 1380.5 L1982.4 1387.5 L1984.4 1394.6 L1986.4 1401.9 L1988.4 1409.4 L1990.4 1417 L1992.4 1424.7 L1994.4 1432.6 L1996.4 1440.6 L1998.4 1448.6 L2000.4 1456.8 L2002.4 1465.1 L2004.4 1473.5 L2006.4 1481.9 L2008.4 1490.3 L2010.4 1498.9 L2012.4 1507.4 L2014.4 1516 L2016.4 1524.6 L2018.4 1533.3 L2020.4 1541.9 L2022.4 1550.5 L2024.4 1559.1 L2026.4 1567.7 L2028.4 1576.3 L2030.4 1584.9 L2032.4 1593.4 L2034.4 1601.8 L2036.4 1610.2 L2038.4 1618.6 L2040.4 1626.9 L2042.4 1635.1 L2044.4 1643.2 L2046.4 1651.3 L2048.4 1659.2 L2050.4 1667.1 L2052.4 1674.9 L2054.4 1682.6 L2056.4 1690.2 L2058.4 1697.7 L2060.4 1705.1 L2062.4 1712.4 L2064.4 1719.5 L2066.4 1726.6 L2068.4 1733.5 L2070.4 1740.3 L2072.4 1747 L2074.4 1753.5 L2076.4 1759.9 L2078.4 1766.2 L2080.4 1772.4 L2082.4 1778.5 L2084.4 1784.4 L2086.4 1790.1 L2088.4 1795.8 L2090.4 1801.3 L2092.4 1806.6 L2094.4 1811.8 L2096.4 1816.9 L2098.4 1821.8 L2100.4 1826.6 L2102.4 1831.3 L2104.4 1835.9 L2106.4 1840.3 L2108.4 1844.6 L2110.4 1848.8 L2112.4 1852.9 L2114.4 1856.8 L2116.4 1860.6 L2118.4 1864.3 L2120.4 1867.9 L2122.4 1871.4 L2124.4 1874.8 L2126.4 1878 L2128.4 1881.2 L2130.4 1884.2 L2132.4 1887.2 L2134.4 1890 L2136.4 1892.8 L2138.4 1895.4 L2140.4 1898 L2142.4 1900.5 L2144.4 1902.8 L2146.4 1905.1 L2148.4 1907.3 L2150.4 1909.5 L2152.4 1911.5 L2154.4 1913.5 L2156.4 1915.4 L2158.4 1917.2 L2160.4 1919 L2162.4 1920.6 L2164.4 1922.3 L2166.4 1923.8 L2168.4 1925.3 L2170.4 1926.7 L2172.4 1928.1 L2174.4 1929.4 L2176.4 1930.7 L2178.4 1931.9 L2180.4 1933.1 L2182.4 1934.2 L2184.4 1935.2 L2186.4 1936.3 L2188.4 1937.2 L2190.4 1938.2 L2192.4 1939.1 L2194.4 1939.9 L2196.4 1940.7 L2198.4 1941.5 L2200.4 1942.3 L2202.4 1943 L2204.4 1943.7 L2206.4 1944.4 L2208.4 1945 L2210.4 1945.6 L2212.4 1946.2 L2214.4 1946.7 L2216.4 1947.3 L2218.4 1947.8 L2220.4 1948.3 L2222.4 1948.8 L2224.4 1949.2 L2226.4 1949.6 L2228.4 1950 L2230.4 1950.4 L2232.4 1950.8 L2234.4 1951.2 L2236.4 1951.5 L2238.4 1951.9 L2240.4 1952.2 L2242.4 1952.5 L2244.4 1952.8 L2246.4 1953.1 L2248.4 1953.4 L2250.4 1953.6 L2252.4 1953.9 L2254.4 1954.1 L2256.4 1954.4 L2258.4 1954.6 L2260.4 1954.8 L2262.4 1955.1 L2264.4 1955.3 L2266.4 1955.5 L2268.4 1955.7 L2270.4 1955.8 L2272.4 1956 L2274.4 1956.2 L2276.4 1956.4 L2278.4 1956.5 L2280.4 1956.7 L2282.4 1956.9 L2284.4 1957 L2286.4 1957.2 L2288.4 1957.3 L2290.4 1957.4 L2292.4 1957.6 L2294.4 1957.7 L2296.4 1957.9 L2298.4 1958 L2300.4 1958.1 L2302.4 1958.2 L2304.4 1958.3 L2306.4 1958.5 L2308.4 1958.6 L2310.4 1958.7 L2312.4 1958.8 L2314.4 1958.9 L2316.4 1959 L2318.4 1959.1 L2320.4 1959.2 L2322.4 1959.3 L2324.4 1959.4 L2326.4 1959.5 L2328.4 1959.6 L2330.4 1959.7 L2332.4 1959.8 L2334.4 1959.9 L2336.4 1960 L2338.4 1960 L2340.4 1960.1 L2342.4 1960.2 L2344.4 1960.3 L2346.4 1960.4 L2348.4 1960.5 L2350.4 1960.5 L2352.4 1960.6 L2354.4 1960.7 L2356.4 1960.8 L2358.4 1960.8 L2360.4 1960.9 L2362.4 1961 L2364.4 1961 L2366.4 1961.1 L2368.4 1961.2 L2370.4 1961.3 L2372.4 1961.3 L2374.4 1961.4 L2376.4 1961.5 L2378.4 1961.5 L2380.4 1961.6 L2382.4 1961.6 L2384.4 1961.7 L2386.4 1961.8 L2388.4 1961.8 L2390.4 1961.9 L2392.4 1961.9 L2394.4 1962 L2396.4 1962.1 L2398.4 1962.1 L2400.4 1962.2 L2402.4 1962.2 L2404.4 1962.3 L2406.4 1962.3 L2408.4 1962.4 L2410.4 1962.4 L2412.4 1962.5 L2414.4 1962.5 L2416.4 1962.6 L2418.4 1962.6 L2420.4 1962.7 L2422.4 1962.7 L2424.4 1962.8 L2426.4 1962.8 L2428.4 1962.9 L2430.4 1962.9 L2432.4 1963 L2434.4 1963 L2435.5 1963.1" fill="none" stroke="#00DC96" stroke-width="5.5" stroke-linejoin="round"/>
<path d="M1326.4 1955 L1880 1962 L2090 1969 L2435.5 1969" fill="none" stroke="#000" stroke-width="6.5" stroke-linejoin="round"/>
<path d="M1326.4 2070.2 L1326.4 1175.7 M1326.4 1175.7 L2438.8 1175.7 M2435.5 1175.7 L2435.5 2070.2 M1323.2 2067 L2438.8 2067" stroke="#000" stroke-width="6.5" fill="none" stroke-linecap="butt"/>
<path d="M1386 2067 L1386 2084M1535.8 2067 L1535.8 2084M1685.6 2067 L1685.6 2084M1835.4 2067 L1835.4 2084M1985.2 2067 L1985.2 2084M2135 2067 L2135 2084M2284.8 2067 L2284.8 2084M2434.6 2067 L2434.6 2084" stroke="#000" stroke-width="6.5" fill="none"/>
<path d="M1460.9 2067 L1460.9 2076M1610.7 2067 L1610.7 2076M1760.5 2067 L1760.5 2076M1910.3 2067 L1910.3 2076M2060.1 2067 L2060.1 2076M2209.9 2067 L2209.9 2076M2359.7 2067 L2359.7 2076" stroke="#000" stroke-width="6.5" fill="none"/>
<text x="1386" y="2138.6" font-size="54" fill="#000" text-anchor="middle">166</text>
<text x="1535.8" y="2138.6" font-size="54" fill="#000" text-anchor="middle">165</text>
<text x="1685.6" y="2138.6" font-size="54" fill="#000" text-anchor="middle">164</text>
<text x="1835.4" y="2138.6" font-size="54" fill="#000" text-anchor="middle">163</text>
<text x="1985.2" y="2138.6" font-size="54" fill="#000" text-anchor="middle">162</text>
<text x="2135" y="2138.6" font-size="54" fill="#000" text-anchor="middle">161</text>
<text x="2284.8" y="2138.6" font-size="54" fill="#000" text-anchor="middle">160</text>
<text x="2434.6" y="2138.6" font-size="54" fill="#000" text-anchor="middle">159</text>
<text x="1899" y="2197" font-size="59" fill="#000" text-anchor="middle">Binding energy (eV)</text>
<text x="1283" y="1641" font-size="59.5" fill="#000" text-anchor="middle" transform="rotate(-90 1283 1641)">Intensity (a.u.)</text>
<text x="1351" y="1248" font-size="58" fill="#1E8B1E" text-anchor="start">S <tspan font-style="italic">2p</tspan></text>
<path d="M1476.4 1271 L1476.4 1367 M1468.4 1271 L1484.4 1271 M1468.4 1367 L1484.4 1367" stroke="#FF0F8E" stroke-width="5" fill="none" stroke-linecap="round"/>
<text x="1330" y="1334" font-size="44" fill="#FF0F8E" text-anchor="start">10,000</text>
<text x="1503" y="1364.3" font-size="57" fill="#0F8A0F" text-anchor="start">S<tspan font-size="36" dy="-24" dx="2">2−</tspan><tspan dy="24" dx="6"> (CdS)</tspan></text>
<text x="1874" y="1257.9" font-size="57" fill="#000" text-anchor="start">162.3</text>
<text x="1581" y="1624.6" font-size="57" fill="#000" text-anchor="start">163.6</text>
<line x1="1746" y1="1317" x2="1868" y2="1278.6" stroke="#000" stroke-width="5.2" stroke-linecap="round"/><path d="M1895.8 1269.8 L1864.7 1289.7 L1859 1271.4Z" fill="#000" stroke="#000" stroke-width="4" stroke-linejoin="round"/>
<line x1="1615" y1="1385.7" x2="1653" y2="1533.5" stroke="#000" stroke-width="5.2" stroke-linecap="round"/><path d="M1660.3 1561.7 L1642.1 1529.7 L1660.7 1524.9Z" fill="#000" stroke="#000" stroke-width="4" stroke-linejoin="round"/>
<clipPath id="c4"><path d="M132.9 2223.2 L132.9 2984.4 L1246 3028.6 L1246 2223.2Z"/></clipPath>
<g clip-path="url(#c4)">
<path d="M132.9 2983.2 L134.9 2983.2 L136.9 2983.1 L138.9 2983.1 L140.9 2983 L142.9 2982.9 L144.9 2982.9 L146.9 2982.8 L148.9 2982.6 L150.9 2982.5 L152.9 2982.4 L154.9 2982.2 L156.9 2982 L158.9 2981.8 L160.9 2981.6 L162.9 2981.4 L164.9 2981.1 L166.9 2980.8 L168.9 2980.5 L170.9 2980.2 L172.9 2979.9 L174.9 2979.5 L176.9 2979.1 L178.9 2978.7 L180.9 2978.3 L182.9 2977.8 L184.9 2977.3 L186.9 2976.8 L188.9 2976.3 L190.9 2975.8 L192.9 2975.3 L194.9 2974.7 L196.9 2974.1 L198.9 2973.5 L200.9 2973 L202.9 2972.4 L204.9 2971.8 L206.9 2971.1 L208.9 2970.5 L210.9 2969.9 L212.9 2969.3 L214.9 2968.7 L216.9 2968.2 L218.9 2967.6 L220.9 2967 L222.9 2966.5 L224.9 2966 L226.9 2965.5 L228.9 2965 L230.9 2964.6 L232.9 2964.2 L234.9 2963.8 L236.9 2963.4 L238.9 2963.1 L240.9 2962.8 L242.9 2962.5 L244.9 2962.3 L246.9 2962.1 L248.9 2961.9 L250.9 2961.8 L252.9 2961.7 L254.9 2961.6 L256.9 2961.5 L258.9 2961.5 L260.9 2961.5 L262.9 2961.5 L264.9 2961.5 L266.9 2961.5 L268.9 2961.5 L270.9 2961.5 L272.9 2961.6 L274.9 2961.6 L276.9 2961.6 L278.9 2961.7 L280.9 2961.7 L282.9 2961.7 L284.9 2961.7 L286.9 2961.8 L288.9 2961.8 L290.9 2961.8 L292.9 2961.8 L294.9 2961.7 L296.9 2961.7 L298.9 2961.7 L300.9 2961.7 L302.9 2961.7 L304.9 2961.6 L306.9 2961.6 L308.9 2961.6 L310.9 2961.6 L312.9 2961.6 L314.9 2961.6 L316.9 2961.7 L318.9 2961.7 L320.9 2961.8 L322.9 2961.9 L324.9 2962 L326.9 2962.2 L328.9 2962.4 L330.9 2962.6 L332.9 2962.8 L334.9 2963.1 L336.9 2963.4 L338.9 2963.8 L340.9 2964.2 L342.9 2964.6 L344.9 2965.1 L346.9 2965.6 L348.9 2966.1 L350.9 2966.7 L352.9 2967.3 L354.9 2967.9 L356.9 2968.5 L358.9 2969.2 L360.9 2969.9 L362.9 2970.6 L364.9 2971.3 L366.9 2972 L368.9 2972.7 L370.9 2973.5 L372.9 2974.2 L374.9 2975 L376.9 2975.7 L378.9 2976.4 L380.9 2977.2 L382.9 2977.9 L384.9 2978.6 L386.9 2979.3 L388.9 2980 L390.9 2980.7 L392.9 2981.3 L394.9 2982 L396.9 2982.6 L398.9 2983.2 L400.9 2983.8 L402.9 2984.3 L404.9 2984.9 L406.9 2985.4 L408.9 2985.9 L410.9 2986.3 L412.9 2986.8 L414.9 2987.2 L416.9 2987.6 L418.9 2988 L420.9 2988.4 L422.9 2988.7 L424.9 2989 L426.9 2989.3 L428.9 2989.6 L430.9 2989.9 L432.9 2990.1 L434.9 2990.3 L436.9 2990.6 L438.9 2990.7 L440.9 2990.9 L442.9 2991.1 L444.9 2991.3 L446.9 2991.4 L448.9 2991.5 L450.9 2991.7 L452.9 2991.8 L454.9 2991.9 L456.9 2992 L458.9 2992.1 L460.9 2992.1 L462.9 2992.2 L464.9 2992.3 L466.9 2992.3 L468.9 2992.4 L470.9 2992.4 L472.9 2992.4 L474.9 2992.5 L476.9 2992.5 L478.9 2992.5 L480.9 2992.5 L482.9 2992.5 L484.9 2992.5 L486.9 2992.5 L488.9 2992.5 L490.9 2992.5 L492.9 2992.5 L494.9 2992.5 L496.9 2992.4 L498.9 2992.4 L500.9 2992.3 L502.9 2992.3 L504.9 2992.2 L506.9 2992.1 L508.9 2992.1 L510.9 2992 L512.9 2991.9 L514.9 2991.7 L516.9 2991.6 L518.9 2991.5 L520.9 2991.3 L522.9 2991.2 L524.9 2991 L526.9 2990.8 L528.9 2990.6 L530.9 2990.4 L532.9 2990.1 L534.9 2989.9 L536.9 2989.6 L538.9 2989.3 L540.9 2989 L542.9 2988.7 L544.9 2988.3 L546.9 2988 L548.9 2987.6 L550.9 2987.2 L552.9 2986.8 L554.9 2986.4 L556.9 2985.9 L558.9 2985.4 L560.9 2984.9 L562.9 2984.4 L564.9 2983.9 L566.9 2983.4 L568.9 2982.8 L570.9 2982.2 L572.9 2981.6 L574.9 2981 L576.9 2980.4 L578.9 2979.8 L580.9 2979.1 L582.9 2978.5 L584.9 2977.8 L586.9 2977.2 L588.9 2976.5 L590.9 2975.8 L592.9 2975.2 L594.9 2974.5 L596.9 2973.8 L598.9 2973.1 L600.9 2972.5 L602.9 2971.8 L604.9 2971.1 L606.9 2970.5 L608.9 2969.8 L610.9 2969.1 L612.9 2968.5 L614.9 2967.8 L616.9 2967.2 L618.9 2966.6 L620.9 2965.9 L622.9 2965.3 L624.9 2964.7 L626.9 2964 L628.9 2963.4 L630.9 2962.7 L632.9 2962.1 L634.9 2961.4 L636.9 2960.7 L638.9 2960 L640.9 2959.4 L642.9 2958.9 L644.9 2958.3 L646.9 2957.8 L648.9 2957.2 L650.9 2956.5 L652.9 2955.9 L654.9 2955.1 L656.9 2954.3 L658.9 2953.4 L660.9 2952.5 L662.9 2951.5 L664.9 2950.4 L666.9 2949.2 L668.9 2948 L670.9 2946.7 L672.9 2945.3 L674.9 2943.8 L676.9 2942.2 L678.9 2940.5 L680.9 2938.7 L682.9 2936.8 L684.9 2934.8 L686.9 2932.6 L688.9 2930.4 L690.9 2928.1 L692.9 2925.7 L694.9 2923.1 L696.9 2920.5 L698.9 2917.7 L700.9 2914.8 L702.9 2911.8 L704.9 2908.7 L706.9 2905.5 L708.9 2902.1 L710.9 2898.7 L712.9 2895.1 L714.9 2891.3 L716.9 2887.5 L718.9 2883.5 L720.9 2879.2 L722.9 2874.5 L724.9 2869.6 L726.9 2864.6 L728.9 2859.4 L730.9 2854.1 L732.9 2848.6 L734.9 2843 L736.9 2837.3 L738.9 2831.4 L740.9 2825.4 L742.9 2819.2 L744.9 2812.8 L746.9 2806.4 L748.9 2799.7 L750.9 2792.9 L752.9 2786 L754.9 2778.9 L756.9 2771.7 L758.9 2764.4 L760.9 2756.9 L762.9 2749.2 L764.9 2741.4 L766.9 2733.5 L768.9 2725.4 L770.9 2717.2 L772.9 2708.8 L774.9 2700.3 L776.9 2691.7 L778.9 2683 L780.9 2674.1 L782.9 2665.1 L784.9 2656 L786.9 2646.9 L788.9 2637.6 L790.9 2628.2 L792.9 2618.7 L794.9 2609.2 L796.9 2599.5 L798.9 2589.9 L800.9 2580.1 L802.9 2570.4 L804.9 2560.5 L806.9 2550.7 L808.9 2540.9 L810.9 2531.1 L812.9 2521.3 L814.9 2511.5 L816.9 2501.7 L818.9 2492.1 L820.9 2482.4 L822.9 2472.9 L824.9 2463.5 L826.9 2454.2 L828.9 2445 L830.9 2436 L832.9 2427.1 L834.9 2418.5 L836.9 2410 L838.9 2401.7 L840.9 2393.7 L842.9 2385.9 L844.9 2378.4 L846.9 2371.2 L848.9 2364.3 L850.9 2357.7 L852.9 2351.4 L854.9 2345.5 L856.9 2339.9 L858.9 2334.7 L860.9 2329.9 L862.9 2325.6 L864.9 2321.6 L866.9 2318.1 L868.9 2315 L870.9 2312.3 L872.9 2310.1 L874.9 2308.4 L876.9 2307.1 L878.9 2306.4 L880.9 2306.1 L882.9 2306.2 L884.9 2306.9 L886.9 2308 L888.9 2309.6 L890.9 2311.7 L892.9 2314.2 L894.9 2317.2 L896.9 2320.7 L898.9 2324.6 L900.9 2328.9 L902.9 2333.7 L904.9 2338.9 L906.9 2344.4 L908.9 2350.4 L910.9 2356.7 L912.9 2363.4 L914.9 2370.4 L916.9 2377.8 L918.9 2385.4 L920.9 2393.4 L922.9 2401.6 L924.9 2410.1 L926.9 2418.9 L928.9 2427.8 L930.9 2437 L932.9 2446.3 L934.9 2455.8 L936.9 2465.5 L938.9 2475.3 L940.9 2485.3 L942.9 2495.3 L944.9 2505.4 L946.9 2515.6 L948.9 2525.9 L950.9 2536.2 L952.9 2546.5 L954.9 2556.8 L956.9 2567.1 L958.9 2577.4 L960.9 2587.7 L962.9 2597.9 L964.9 2608 L966.9 2618.1 L968.9 2628.1 L970.9 2638 L972.9 2647.8 L974.9 2657.5 L976.9 2667 L978.9 2676.4 L980.9 2685.7 L982.9 2694.8 L984.9 2703.8 L986.9 2712.6 L988.9 2721.3 L990.9 2729.7 L992.9 2738 L994.9 2746.1 L996.9 2754.1 L998.9 2761.8 L1000.9 2769.4 L1002.9 2776.8 L1004.9 2784 L1006.9 2791 L1008.9 2797.8 L1010.9 2804.4 L1012.9 2810.9 L1014.9 2817.2 L1016.9 2823.3 L1018.9 2829.3 L1020.9 2835.1 L1022.9 2840.7 L1024.9 2846.2 L1026.9 2851.5 L1028.9 2856.7 L1030.9 2861.7 L1032.9 2866.6 L1034.9 2871.4 L1036.9 2876.1 L1038.9 2880.6 L1040.9 2885 L1042.9 2889.3 L1044.9 2893.5 L1046.9 2897.7 L1048.9 2901.7 L1050.9 2905.6 L1052.9 2909.4 L1054.9 2913.1 L1056.9 2916.7 L1058.9 2920.1 L1060.9 2923.5 L1062.9 2926.8 L1064.9 2929.9 L1066.9 2933 L1068.9 2936 L1070.9 2938.9 L1072.9 2941.7 L1074.9 2944.4 L1076.9 2947.1 L1078.9 2949.6 L1080.9 2952.1 L1082.9 2954.5 L1084.9 2956.9 L1086.9 2959.1 L1088.9 2961.3 L1090.9 2963.5 L1092.9 2965.5 L1094.9 2967.6 L1096.9 2969.5 L1098.9 2971.4 L1100.9 2973.3 L1102.9 2975 L1104.9 2976.8 L1106.9 2978.5 L1108.9 2980.1 L1110.9 2981.7 L1112.9 2983.2 L1114.9 2984.7 L1116.9 2986.1 L1118.9 2987.5 L1120.9 2988.9 L1122.9 2990.2 L1124.9 2991.4 L1126.9 2992.7 L1128.9 2993.8 L1130.9 2995 L1132.9 2996.1 L1134.9 2997.2 L1136.9 2998.2 L1138.9 2999.2 L1140.9 3000.2 L1142.9 3001.1 L1144.9 3002 L1146.9 3002.9 L1148.9 3003.7 L1150.9 3004.5 L1152.9 3005.3 L1154.9 3006 L1156.9 3006.7 L1158.9 3007.4 L1160.9 3008.1 L1162.9 3008.7 L1164.9 3009.4 L1166.9 3010 L1168.9 3010.5 L1170.9 3011.1 L1172.9 3011.6 L1174.9 3012.1 L1176.9 3012.6 L1178.9 3013.1 L1180.9 3013.5 L1182.9 3014 L1184.9 3014.4 L1186.9 3014.8 L1188.9 3015.2 L1190.9 3015.6 L1192.9 3015.9 L1194.9 3016.3 L1196.9 3016.6 L1198.9 3017 L1200.9 3017.3 L1202.9 3017.6 L1204.9 3017.9 L1206.9 3018.2 L1208.9 3018.4 L1210.9 3018.7 L1212.9 3019 L1214.9 3019.2 L1216.9 3019.5 L1218.9 3019.7 L1220.9 3020 L1222.9 3020.2 L1224.9 3020.4 L1226.9 3020.6 L1228.9 3020.8 L1230.9 3021 L1232.9 3021.2 L1234.9 3021.4 L1236.9 3021.6 L1238.9 3021.8 L1240.9 3022 L1242.9 3022.2 L1244.9 3022.4 L1246 3022.5" fill="none" stroke="#000" stroke-width="4.5" stroke-linejoin="round"/>
<use href="#b10_5" x="135.2" y="2984.7"/><use href="#b10_5" x="144.3" y="2985.5"/><use href="#b10_5" x="153.4" y="2988.6"/><use href="#b10_5" x="162.4" y="2983.1"/><use href="#b10_5" x="171.5" y="2982.2"/><use href="#b10_5" x="180.5" y="2981.2"/><use href="#b10_5" x="189.6" y="2975"/><use href="#b10_5" x="198.7" y="2975.7"/><use href="#b10_5" x="207.7" y="2974.2"/><use href="#b10_5" x="216.8" y="2973.1"/><use href="#b10_5" x="225.9" y="2963.7"/><use href="#b10_5" x="234.9" y="2963.8"/><use href="#b10_5" x="244" y="2960.3"/><use href="#b10_5" x="253" y="2966.8"/><use href="#b10_5" x="262.1" y="2965.4"/><use href="#b10_5" x="271.2" y="2959"/><use href="#b10_5" x="280.2" y="2968.5"/><use href="#b10_5" x="289.3" y="2968.4"/><use href="#b10_5" x="298.3" y="2965.3"/><use href="#b10_5" x="307.4" y="2964.8"/><use href="#b10_5" x="316.5" y="2960.2"/><use href="#b10_5" x="325.5" y="2959.2"/><use href="#b10_5" x="334.6" y="2965.4"/><use href="#b10_5" x="343.6" y="2962.4"/><use href="#b10_5" x="352.7" y="2966.1"/><use href="#b10_5" x="361.8" y="2969.6"/><use href="#b10_5" x="370.8" y="2970.7"/><use href="#b10_5" x="379.9" y="2978.4"/><use href="#b10_5" x="389" y="2981.4"/><use href="#b10_5" x="398" y="2988.3"/><use href="#b10_5" x="407.1" y="2987.6"/><use href="#b10_5" x="416.1" y="2990.9"/><use href="#b10_5" x="425.2" y="2991.1"/><use href="#b10_5" x="434.3" y="2993.9"/><use href="#b10_5" x="443.3" y="2992.7"/><use href="#b10_5" x="452.4" y="2991.5"/><use href="#b10_5" x="461.4" y="2999.1"/><use href="#b10_5" x="470.5" y="2999.4"/><use href="#b10_5" x="479.6" y="2997.9"/><use href="#b10_5" x="488.6" y="2996.6"/><use href="#b10_5" x="497.7" y="2992.6"/><use href="#b10_5" x="506.7" y="2991.4"/><use href="#b10_5" x="515.8" y="2991.6"/><use href="#b10_5" x="524.9" y="2988.7"/><use href="#b10_5" x="533.9" y="2994.7"/><use href="#b10_5" x="543" y="2989.7"/><use href="#b10_5" x="552" y="2992.4"/><use href="#b10_5" x="561.1" y="2985.7"/><use href="#b10_5" x="570.2" y="2989"/><use href="#b10_5" x="579.2" y="2985.2"/><use href="#b10_5" x="588.3" y="2973.7"/><use href="#b10_5" x="597.4" y="2972.8"/><use href="#b10_5" x="606.4" y="2976.7"/><use href="#b10_5" x="615.5" y="2969.4"/><use href="#b10_5" x="624.5" y="2971.6"/><use href="#b10_5" x="633.6" y="2962.8"/><use href="#b10_5" x="642.7" y="2956.7"/><use href="#b10_5" x="651.7" y="2959.6"/><use href="#b10_5" x="660.8" y="2957.3"/><use href="#b10_5" x="669.8" y="2947.1"/><use href="#b10_5" x="678.9" y="2938.3"/><use href="#b10_5" x="688" y="2931.8"/><use href="#b10_5" x="697" y="2927"/><use href="#b10_5" x="706.1" y="2911.4"/><use href="#b10_5" x="715.1" y="2889"/><use href="#b10_5" x="724.2" y="2870.8"/><use href="#b10_5" x="733.3" y="2845.6"/><use href="#b10_5" x="742.3" y="2818.6"/><use href="#b10_5" x="751.4" y="2796.2"/><use href="#b10_5" x="760.5" y="2757.3"/><use href="#b10_5" x="769.5" y="2725.5"/><use href="#b10_5" x="778.6" y="2685.9"/><use href="#b10_5" x="787.6" y="2643.6"/><use href="#b10_5" x="796.7" y="2601.5"/><use href="#b10_5" x="805.8" y="2550.3"/><use href="#b10_5" x="814.8" y="2505.7"/><use href="#b10_5" x="823.9" y="2456.1"/><use href="#b10_5" x="832.9" y="2415.6"/><use href="#b10_5" x="842" y="2378.3"/><use href="#b10_5" x="851.1" y="2348.5"/><use href="#b10_5" x="860.1" y="2329.9"/><use href="#b10_5" x="869.2" y="2314.7"/><use href="#b10_5" x="878.2" y="2306.9"/><use href="#b10_5" x="887.3" y="2315.3"/><use href="#b10_5" x="896.4" y="2325.8"/><use href="#b10_5" x="905.4" y="2350.3"/><use href="#b10_5" x="914.5" y="2384.1"/><use href="#b10_5" x="923.5" y="2420.2"/><use href="#b10_5" x="932.6" y="2458.9"/><use href="#b10_5" x="941.7" y="2509.2"/><use href="#b10_5" x="950.7" y="2551"/><use href="#b10_5" x="959.8" y="2597.9"/><use href="#b10_5" x="968.9" y="2646.3"/><use href="#b10_5" x="977.9" y="2686.8"/><use href="#b10_5" x="987" y="2726.6"/><use href="#b10_5" x="996" y="2761.8"/><use href="#b10_5" x="1005.1" y="2793"/><use href="#b10_5" x="1014.2" y="2826.9"/><use href="#b10_5" x="1023.2" y="2849.1"/><use href="#b10_5" x="1032.3" y="2875.3"/><use href="#b10_5" x="1041.3" y="2893.1"/><use href="#b10_5" x="1050.4" y="2911.9"/><use href="#b10_5" x="1059.5" y="2932.7"/><use href="#b10_5" x="1068.5" y="2941.6"/><use href="#b10_5" x="1077.6" y="2954.5"/><use href="#b10_5" x="1086.6" y="2967.8"/><use href="#b10_5" x="1095.7" y="2970.1"/><use href="#b10_5" x="1104.8" y="2977.7"/><use href="#b10_5" x="1113.8" y="2992.2"/><use href="#b10_5" x="1122.9" y="2997.2"/><use href="#b10_5" x="1132" y="2996.7"/><use href="#b10_5" x="1141" y="3000.5"/><use href="#b10_5" x="1150.1" y="3009.7"/><use href="#b10_5" x="1159.1" y="3014.9"/><use href="#b10_5" x="1168.2" y="3010.1"/><use href="#b10_5" x="1177.3" y="3019.9"/><use href="#b10_5" x="1186.3" y="3021.1"/><use href="#b10_5" x="1195.4" y="3019.9"/><use href="#b10_5" x="1204.4" y="3019.5"/><use href="#b10_5" x="1213.5" y="3017.5"/><use href="#b10_5" x="1222.6" y="3017.9"/><use href="#b10_5" x="1231.6" y="3028"/><use href="#b10_5" x="1240.7" y="3021.6"/>
</g>
<path d="M132.9 2985.4 L134.9 2985.5 L136.9 2985.6 L138.9 2985.7 L140.9 2985.7 L142.9 2985.8 L144.9 2985.9 L146.9 2985.9 L148.9 2986 L150.9 2986.1 L152.9 2986.1 L154.9 2986.2 L156.9 2986.3 L158.9 2986.3 L160.9 2986.4 L162.9 2986.5 L164.9 2986.5 L166.9 2986.6 L168.9 2986.7 L170.9 2986.7 L172.9 2986.8 L174.9 2986.9 L176.9 2986.9 L178.9 2987 L180.9 2987.1 L182.9 2987.1 L184.9 2987.2 L186.9 2987.3 L188.9 2987.3 L190.9 2987.4 L192.9 2987.5 L194.9 2987.5 L196.9 2987.6 L198.9 2987.7 L200.9 2987.7 L202.9 2987.8 L204.9 2987.9 L206.9 2987.9 L208.9 2988 L210.9 2988.1 L212.9 2988.1 L214.9 2988.2 L216.9 2988.3 L218.9 2988.3 L220.9 2988.4 L222.9 2988.5 L224.9 2988.5 L226.9 2988.6 L228.9 2988.7 L230.9 2988.7 L232.9 2988.8 L234.9 2988.8 L236.9 2988.9 L238.9 2989 L240.9 2989 L242.9 2989.1 L244.9 2989.2 L246.9 2989.2 L248.9 2989.3 L250.9 2989.4 L252.9 2989.4 L254.9 2989.5 L256.9 2989.5 L258.9 2989.6 L260.9 2989.7 L262.9 2989.7 L264.9 2989.8 L266.9 2989.8 L268.9 2989.9 L270.9 2990 L272.9 2990 L274.9 2990.1 L276.9 2990.1 L278.9 2990.2 L280.9 2990.3 L282.9 2990.3 L284.9 2990.4 L286.9 2990.4 L288.9 2990.5 L290.9 2990.6 L292.9 2990.6 L294.9 2990.7 L296.9 2990.7 L298.9 2990.8 L300.9 2990.9 L302.9 2990.9 L304.9 2991 L306.9 2991 L308.9 2991.1 L310.9 2991.1 L312.9 2991.2 L314.9 2991.3 L316.9 2991.3 L318.9 2991.4 L320.9 2991.4 L322.9 2991.5 L324.9 2991.5 L326.9 2991.6 L328.9 2991.6 L330.9 2991.7 L332.9 2991.8 L334.9 2991.8 L336.9 2991.9 L338.9 2991.9 L340.9 2992 L342.9 2992 L344.9 2992.1 L346.9 2992.1 L348.9 2992.2 L350.9 2992.2 L352.9 2992.3 L354.9 2992.3 L356.9 2992.4 L358.9 2992.4 L360.9 2992.5 L362.9 2992.5 L364.9 2992.6 L366.9 2992.6 L368.9 2992.7 L370.9 2992.7 L372.9 2992.8 L374.9 2992.8 L376.9 2992.9 L378.9 2992.9 L380.9 2993 L382.9 2993 L384.9 2993.1 L386.9 2993.1 L388.9 2993.1 L390.9 2993.2 L392.9 2993.2 L394.9 2993.3 L396.9 2993.3 L398.9 2993.4 L400.9 2993.4 L402.9 2993.5 L404.9 2993.5 L406.9 2993.5 L408.9 2993.6 L410.9 2993.6 L412.9 2993.7 L414.9 2993.7 L416.9 2993.7 L418.9 2993.8 L420.9 2993.8 L422.9 2993.9 L424.9 2993.9 L426.9 2993.9 L428.9 2994 L430.9 2994 L432.9 2994 L434.9 2994.1 L436.9 2994.1 L438.9 2994.1 L440.9 2994.2 L442.9 2994.2 L444.9 2994.2 L446.9 2994.3 L448.9 2994.3 L450.9 2994.3 L452.9 2994.3 L454.9 2994.4 L456.9 2994.4 L458.9 2994.4 L460.9 2994.5 L462.9 2994.5 L464.9 2994.5 L466.9 2994.5 L468.9 2994.5 L470.9 2994.6 L472.9 2994.6 L474.9 2994.6 L476.9 2994.6 L478.9 2994.6 L480.9 2994.7 L482.9 2994.7 L484.9 2994.7 L486.9 2994.7 L488.9 2994.7 L490.9 2994.7 L492.9 2994.8 L494.9 2994.8 L496.9 2994.8 L498.9 2994.8 L500.9 2994.8 L502.9 2994.8 L504.9 2994.8 L506.9 2994.8 L508.9 2994.8 L510.9 2994.8 L512.9 2994.8 L514.9 2994.8 L516.9 2994.8 L518.9 2994.8 L520.9 2994.8 L522.9 2994.8 L524.9 2994.8 L526.9 2994.8 L528.9 2994.8 L530.9 2994.8 L532.9 2994.8 L534.9 2994.7 L536.9 2994.7 L538.9 2994.7 L540.9 2994.7 L542.9 2994.7 L544.9 2994.6 L546.9 2994.6 L548.9 2994.6 L550.9 2994.5 L552.9 2994.5 L554.9 2994.5 L556.9 2994.4 L558.9 2994.4 L560.9 2994.3 L562.9 2994.3 L564.9 2994.2 L566.9 2994.2 L568.9 2994.1 L570.9 2994 L572.9 2994 L574.9 2993.9 L576.9 2993.8 L578.9 2993.7 L580.9 2993.6 L582.9 2993.5 L584.9 2993.4 L586.9 2993.3 L588.9 2993.2 L590.9 2993.1 L592.9 2992.9 L594.9 2992.8 L596.9 2992.6 L598.9 2992.5 L600.9 2992.3 L602.9 2992.1 L604.9 2991.9 L606.9 2991.7 L608.9 2991.5 L610.9 2991.3 L612.9 2991 L614.9 2990.8 L616.9 2990.5 L618.9 2990.2 L620.9 2989.9 L622.9 2989.6 L624.9 2989.2 L626.9 2988.9 L628.9 2988.5 L630.9 2988 L632.9 2987.6 L634.9 2987.1 L636.9 2986.6 L638.9 2986.1 L640.9 2985.5 L642.9 2984.9 L644.9 2984.3 L646.9 2983.6 L648.9 2982.9 L650.9 2982.1 L652.9 2981.3 L654.9 2980.5 L656.9 2979.6 L658.9 2978.7 L660.9 2977.7 L662.9 2976.6 L664.9 2975.5 L666.9 2974.3 L668.9 2973.1 L670.9 2971.8 L672.9 2970.4 L674.9 2968.9 L676.9 2967.4 L678.9 2965.8 L680.9 2964.1 L682.9 2962.3 L684.9 2960.5 L686.9 2958.5 L688.9 2956.4 L690.9 2954.3 L692.9 2952 L694.9 2949.6 L696.9 2947.1 L698.9 2944.5 L700.9 2941.8 L702.9 2939 L704.9 2936 L706.9 2932.9 L708.9 2929.6 L710.9 2926.2 L712.9 2922.7 L714.9 2919 L716.9 2915.2 L718.9 2911.3 L720.9 2907.1 L722.9 2902.8 L724.9 2898.4 L726.9 2893.8 L728.9 2889 L730.9 2884 L732.9 2878.9 L734.9 2873.6 L736.9 2868.1 L738.9 2862.4 L740.9 2856.6 L742.9 2850.6 L744.9 2844.4 L746.9 2838 L748.9 2831.4 L750.9 2824.6 L752.9 2817.7 L754.9 2810.5 L756.9 2803.2 L758.9 2795.7 L760.9 2788 L762.9 2780.2 L764.9 2772.1 L766.9 2763.9 L768.9 2755.5 L770.9 2747 L772.9 2738.3 L774.9 2729.4 L776.9 2720.4 L778.9 2711.2 L780.9 2701.9 L782.9 2692.5 L784.9 2682.9 L786.9 2673.2 L788.9 2663.4 L790.9 2653.5 L792.9 2643.5 L794.9 2633.4 L796.9 2623.2 L798.9 2613 L800.9 2602.7 L802.9 2592.4 L804.9 2582 L806.9 2571.6 L808.9 2561.2 L810.9 2550.8 L812.9 2540.5 L814.9 2530.1 L816.9 2519.8 L818.9 2509.6 L820.9 2499.4 L822.9 2489.4 L824.9 2479.4 L826.9 2469.6 L828.9 2459.9 L830.9 2450.3 L832.9 2441 L834.9 2431.8 L836.9 2422.8 L838.9 2414 L840.9 2405.5 L842.9 2397.2 L844.9 2389.2 L846.9 2381.5 L848.9 2374.1 L850.9 2367 L852.9 2360.2 L854.9 2353.8 L856.9 2347.8 L858.9 2342.1 L860.9 2336.9 L862.9 2332 L864.9 2327.6 L866.9 2323.6 L868.9 2320 L870.9 2316.9 L872.9 2314.3 L874.9 2312.1 L876.9 2310.4 L878.9 2309.2 L880.9 2308.4 L882.9 2308.2 L884.9 2308.4 L886.9 2309.1 L888.9 2310.3 L890.9 2312 L892.9 2314.1 L894.9 2316.7 L896.9 2319.8 L898.9 2323.4 L900.9 2327.3 L902.9 2331.8 L904.9 2336.6 L906.9 2341.9 L908.9 2347.5 L910.9 2353.6 L912.9 2360 L914.9 2366.8 L916.9 2373.9 L918.9 2381.3 L920.9 2389.1 L922.9 2397.1 L924.9 2405.4 L926.9 2414 L928.9 2422.9 L930.9 2431.9 L932.9 2441.2 L934.9 2450.7 L936.9 2460.3 L938.9 2470.1 L940.9 2480 L942.9 2490.1 L944.9 2500.3 L946.9 2510.6 L948.9 2520.9 L950.9 2531.4 L952.9 2541.8 L954.9 2552.4 L956.9 2562.9 L958.9 2573.5 L960.9 2584 L962.9 2594.5 L964.9 2605.1 L966.9 2615.5 L968.9 2625.9 L970.9 2636.3 L972.9 2646.6 L974.9 2656.8 L976.9 2666.9 L978.9 2676.9 L980.9 2686.8 L982.9 2696.6 L984.9 2706.2 L986.9 2715.7 L988.9 2725.1 L990.9 2734.4 L992.9 2743.5 L994.9 2752.4 L996.9 2761.2 L998.9 2769.8 L1000.9 2778.2 L1002.9 2786.5 L1004.9 2794.6 L1006.9 2802.5 L1008.9 2810.2 L1010.9 2817.8 L1012.9 2825.1 L1014.9 2832.3 L1016.9 2839.3 L1018.9 2846.1 L1020.9 2852.7 L1022.9 2859.2 L1024.9 2865.5 L1026.9 2871.5 L1028.9 2877.4 L1030.9 2883.1 L1032.9 2888.7 L1034.9 2894 L1036.9 2899.2 L1038.9 2904.2 L1040.9 2909.1 L1042.9 2913.7 L1044.9 2918.3 L1046.9 2922.6 L1048.9 2926.8 L1050.9 2930.8 L1052.9 2934.7 L1054.9 2938.5 L1056.9 2942.1 L1058.9 2945.5 L1060.9 2948.8 L1062.9 2952 L1064.9 2955.1 L1066.9 2958 L1068.9 2960.8 L1070.9 2963.5 L1072.9 2966.1 L1074.9 2968.6 L1076.9 2970.9 L1078.9 2973.2 L1080.9 2975.4 L1082.9 2977.4 L1084.9 2979.4 L1086.9 2981.3 L1088.9 2983.1 L1090.9 2984.8 L1092.9 2986.5 L1094.9 2988 L1096.9 2989.5 L1098.9 2990.9 L1100.9 2992.3 L1102.9 2993.6 L1104.9 2994.8 L1106.9 2996 L1108.9 2997.1 L1110.9 2998.2 L1112.9 2999.2 L1114.9 3000.2 L1116.9 3001.1 L1118.9 3002 L1120.9 3002.9 L1122.9 3003.7 L1124.9 3004.4 L1126.9 3005.2 L1128.9 3005.9 L1130.9 3006.6 L1132.9 3007.2 L1134.9 3007.8 L1136.9 3008.4 L1138.9 3009 L1140.9 3009.5 L1142.9 3010 L1144.9 3010.5 L1146.9 3011 L1148.9 3011.5 L1150.9 3011.9 L1152.9 3012.3 L1154.9 3012.7 L1156.9 3013.1 L1158.9 3013.5 L1160.9 3013.9 L1162.9 3014.2 L1164.9 3014.6 L1166.9 3014.9 L1168.9 3015.2 L1170.9 3015.6 L1172.9 3015.9 L1174.9 3016.2 L1176.9 3016.4 L1178.9 3016.7 L1180.9 3017 L1182.9 3017.3 L1184.9 3017.5 L1186.9 3017.8 L1188.9 3018 L1190.9 3018.3 L1192.9 3018.5 L1194.9 3018.7 L1196.9 3019 L1198.9 3019.2 L1200.9 3019.4 L1202.9 3019.6 L1204.9 3019.8 L1206.9 3020 L1208.9 3020.2 L1210.9 3020.4 L1212.9 3020.6 L1214.9 3020.8 L1216.9 3021 L1218.9 3021.2 L1220.9 3021.4 L1222.9 3021.6 L1224.9 3021.8 L1226.9 3022 L1228.9 3022.1 L1230.9 3022.3 L1232.9 3022.5 L1234.9 3022.7 L1236.9 3022.8 L1238.9 3023 L1240.9 3023.2 L1242.9 3023.3 L1244.9 3023.5 L1246 3023.6" fill="none" stroke="#fff" stroke-width="3" stroke-linejoin="round"/>
<path d="M132.9 2985.4 L134.9 2985.5 L136.9 2985.6 L138.9 2985.7 L140.9 2985.7 L142.9 2985.8 L144.9 2985.9 L146.9 2985.9 L148.9 2986 L150.9 2986.1 L152.9 2986.1 L154.9 2986.2 L156.9 2986.3 L158.9 2986.3 L160.9 2986.4 L162.9 2986.5 L164.9 2986.5 L166.9 2986.6 L168.9 2986.7 L170.9 2986.7 L172.9 2986.8 L174.9 2986.9 L176.9 2986.9 L178.9 2987 L180.9 2987.1 L182.9 2987.1 L184.9 2987.2 L186.9 2987.3 L188.9 2987.3 L190.9 2987.4 L192.9 2987.5 L194.9 2987.5 L196.9 2987.6 L198.9 2987.7 L200.9 2987.7 L202.9 2987.8 L204.9 2987.9 L206.9 2987.9 L208.9 2988 L210.9 2988.1 L212.9 2988.1 L214.9 2988.2 L216.9 2988.3 L218.9 2988.3 L220.9 2988.4 L222.9 2988.5 L224.9 2988.5 L226.9 2988.6 L228.9 2988.7 L230.9 2988.7 L232.9 2988.8 L234.9 2988.8 L236.9 2988.9 L238.9 2989 L240.9 2989 L242.9 2989.1 L244.9 2989.2 L246.9 2989.2 L248.9 2989.3 L250.9 2989.4 L252.9 2989.4 L254.9 2989.5 L256.9 2989.5 L258.9 2989.6 L260.9 2989.7 L262.9 2989.7 L264.9 2989.8 L266.9 2989.8 L268.9 2989.9 L270.9 2990 L272.9 2990 L274.9 2990.1 L276.9 2990.1 L278.9 2990.2 L280.9 2990.3 L282.9 2990.3 L284.9 2990.4 L286.9 2990.4 L288.9 2990.5 L290.9 2990.6 L292.9 2990.6 L294.9 2990.7 L296.9 2990.7 L298.9 2990.8 L300.9 2990.9 L302.9 2990.9 L304.9 2991 L306.9 2991 L308.9 2991.1 L310.9 2991.1 L312.9 2991.2 L314.9 2991.3 L316.9 2991.3 L318.9 2991.4 L320.9 2991.4 L322.9 2991.5 L324.9 2991.5 L326.9 2991.6 L328.9 2991.6 L330.9 2991.7 L332.9 2991.8 L334.9 2991.8 L336.9 2991.9 L338.9 2991.9 L340.9 2992 L342.9 2992 L344.9 2992.1 L346.9 2992.1 L348.9 2992.2 L350.9 2992.2 L352.9 2992.3 L354.9 2992.3 L356.9 2992.4 L358.9 2992.4 L360.9 2992.5 L362.9 2992.5 L364.9 2992.6 L366.9 2992.6 L368.9 2992.7 L370.9 2992.7 L372.9 2992.8 L374.9 2992.8 L376.9 2992.9 L378.9 2992.9 L380.9 2993 L382.9 2993 L384.9 2993.1 L386.9 2993.1 L388.9 2993.1 L390.9 2993.2 L392.9 2993.2 L394.9 2993.3 L396.9 2993.3 L398.9 2993.4 L400.9 2993.4 L402.9 2993.5 L404.9 2993.5 L406.9 2993.5 L408.9 2993.6 L410.9 2993.6 L412.9 2993.7 L414.9 2993.7 L416.9 2993.7 L418.9 2993.8 L420.9 2993.8 L422.9 2993.9 L424.9 2993.9 L426.9 2993.9 L428.9 2994 L430.9 2994 L432.9 2994 L434.9 2994.1 L436.9 2994.1 L438.9 2994.1 L440.9 2994.2 L442.9 2994.2 L444.9 2994.2 L446.9 2994.3 L448.9 2994.3 L450.9 2994.3 L452.9 2994.3 L454.9 2994.4 L456.9 2994.4 L458.9 2994.4 L460.9 2994.5 L462.9 2994.5 L464.9 2994.5 L466.9 2994.5 L468.9 2994.5 L470.9 2994.6 L472.9 2994.6 L474.9 2994.6 L476.9 2994.6 L478.9 2994.6 L480.9 2994.7 L482.9 2994.7 L484.9 2994.7 L486.9 2994.7 L488.9 2994.7 L490.9 2994.7 L492.9 2994.8 L494.9 2994.8 L496.9 2994.8 L498.9 2994.8 L500.9 2994.8 L502.9 2994.8 L504.9 2994.8 L506.9 2994.8 L508.9 2994.8 L510.9 2994.8 L512.9 2994.8 L514.9 2994.8 L516.9 2994.8 L518.9 2994.8 L520.9 2994.8 L522.9 2994.8 L524.9 2994.8 L526.9 2994.8 L528.9 2994.8 L530.9 2994.8 L532.9 2994.8 L534.9 2994.7 L536.9 2994.7 L538.9 2994.7 L540.9 2994.7 L542.9 2994.7 L544.9 2994.6 L546.9 2994.6 L548.9 2994.6 L550.9 2994.5 L552.9 2994.5 L554.9 2994.5 L556.9 2994.4 L558.9 2994.4 L560.9 2994.3 L562.9 2994.3 L564.9 2994.2 L566.9 2994.2 L568.9 2994.1 L570.9 2994 L572.9 2994 L574.9 2993.9 L576.9 2993.8 L578.9 2993.7 L580.9 2993.6 L582.9 2993.5 L584.9 2993.4 L586.9 2993.3 L588.9 2993.2 L590.9 2993.1 L592.9 2992.9 L594.9 2992.8 L596.9 2992.6 L598.9 2992.5 L600.9 2992.3 L602.9 2992.1 L604.9 2991.9 L606.9 2991.7 L608.9 2991.5 L610.9 2991.3 L612.9 2991 L614.9 2990.8 L616.9 2990.5 L618.9 2990.2 L620.9 2989.9 L622.9 2989.6 L624.9 2989.2 L626.9 2988.9 L628.9 2988.5 L630.9 2988 L632.9 2987.6 L634.9 2987.1 L636.9 2986.6 L638.9 2986.1 L640.9 2985.5 L642.9 2984.9 L644.9 2984.3 L646.9 2983.6 L648.9 2982.9 L650.9 2982.1 L652.9 2981.3 L654.9 2980.5 L656.9 2979.6 L658.9 2978.7 L660.9 2977.7 L662.9 2976.6 L664.9 2975.5 L666.9 2974.3 L668.9 2973.1 L670.9 2971.8 L672.9 2970.4 L674.9 2968.9 L676.9 2967.4 L678.9 2965.8 L680.9 2964.1 L682.9 2962.3 L684.9 2960.5 L686.9 2958.5 L688.9 2956.4 L690.9 2954.3 L692.9 2952 L694.9 2949.6 L696.9 2947.1 L698.9 2944.5 L700.9 2941.8 L702.9 2939 L704.9 2936 L706.9 2932.9 L708.9 2929.6 L710.9 2926.2 L712.9 2922.7 L714.9 2919 L716.9 2915.2 L718.9 2911.3 L720.9 2907.1 L722.9 2902.8 L724.9 2898.4 L726.9 2893.8 L728.9 2889 L730.9 2884 L732.9 2878.9 L734.9 2873.6 L736.9 2868.1 L738.9 2862.4 L740.9 2856.6 L742.9 2850.6 L744.9 2844.4 L746.9 2838 L748.9 2831.4 L750.9 2824.6 L752.9 2817.7 L754.9 2810.5 L756.9 2803.2 L758.9 2795.7 L760.9 2788 L762.9 2780.2 L764.9 2772.1 L766.9 2763.9 L768.9 2755.5 L770.9 2747 L772.9 2738.3 L774.9 2729.4 L776.9 2720.4 L778.9 2711.2 L780.9 2701.9 L782.9 2692.5 L784.9 2682.9 L786.9 2673.2 L788.9 2663.4 L790.9 2653.5 L792.9 2643.5 L794.9 2633.4 L796.9 2623.2 L798.9 2613 L800.9 2602.7 L802.9 2592.4 L804.9 2582 L806.9 2571.6 L808.9 2561.2 L810.9 2550.8 L812.9 2540.5 L814.9 2530.1 L816.9 2519.8 L818.9 2509.6 L820.9 2499.4 L822.9 2489.4 L824.9 2479.4 L826.9 2469.6 L828.9 2459.9 L830.9 2450.3 L832.9 2441 L834.9 2431.8 L836.9 2422.8 L838.9 2414 L840.9 2405.5 L842.9 2397.2 L844.9 2389.2 L846.9 2381.5 L848.9 2374.1 L850.9 2367 L852.9 2360.2 L854.9 2353.8 L856.9 2347.8 L858.9 2342.1 L860.9 2336.9 L862.9 2332 L864.9 2327.6 L866.9 2323.6 L868.9 2320 L870.9 2316.9 L872.9 2314.3 L874.9 2312.1 L876.9 2310.4 L878.9 2309.2 L880.9 2308.4 L882.9 2308.2 L884.9 2308.4 L886.9 2309.1 L888.9 2310.3 L890.9 2312 L892.9 2314.1 L894.9 2316.7 L896.9 2319.8 L898.9 2323.4 L900.9 2327.3 L902.9 2331.8 L904.9 2336.6 L906.9 2341.9 L908.9 2347.5 L910.9 2353.6 L912.9 2360 L914.9 2366.8 L916.9 2373.9 L918.9 2381.3 L920.9 2389.1 L922.9 2397.1 L924.9 2405.4 L926.9 2414 L928.9 2422.9 L930.9 2431.9 L932.9 2441.2 L934.9 2450.7 L936.9 2460.3 L938.9 2470.1 L940.9 2480 L942.9 2490.1 L944.9 2500.3 L946.9 2510.6 L948.9 2520.9 L950.9 2531.4 L952.9 2541.8 L954.9 2552.4 L956.9 2562.9 L958.9 2573.5 L960.9 2584 L962.9 2594.5 L964.9 2605.1 L966.9 2615.5 L968.9 2625.9 L970.9 2636.3 L972.9 2646.6 L974.9 2656.8 L976.9 2666.9 L978.9 2676.9 L980.9 2686.8 L982.9 2696.6 L984.9 2706.2 L986.9 2715.7 L988.9 2725.1 L990.9 2734.4 L992.9 2743.5 L994.9 2752.4 L996.9 2761.2 L998.9 2769.8 L1000.9 2778.2 L1002.9 2786.5 L1004.9 2794.6 L1006.9 2802.5 L1008.9 2810.2 L1010.9 2817.8 L1012.9 2825.1 L1014.9 2832.3 L1016.9 2839.3 L1018.9 2846.1 L1020.9 2852.7 L1022.9 2859.2 L1024.9 2865.5 L1026.9 2871.5 L1028.9 2877.4 L1030.9 2883.1 L1032.9 2888.7 L1034.9 2894 L1036.9 2899.2 L1038.9 2904.2 L1040.9 2909.1 L1042.9 2913.7 L1044.9 2918.3 L1046.9 2922.6 L1048.9 2926.8 L1050.9 2930.8 L1052.9 2934.7 L1054.9 2938.5 L1056.9 2942.1 L1058.9 2945.5 L1060.9 2948.8 L1062.9 2952 L1064.9 2955.1 L1066.9 2958 L1068.9 2960.8 L1070.9 2963.5 L1072.9 2966.1 L1074.9 2968.6 L1076.9 2970.9 L1078.9 2973.2 L1080.9 2975.4 L1082.9 2977.4 L1084.9 2979.4 L1086.9 2981.3 L1088.9 2983.1 L1090.9 2984.8 L1092.9 2986.5 L1094.9 2988 L1096.9 2989.5 L1098.9 2990.9 L1100.9 2992.3 L1102.9 2993.6 L1104.9 2994.8 L1106.9 2996 L1108.9 2997.1 L1110.9 2998.2 L1112.9 2999.2 L1114.9 3000.2 L1116.9 3001.1 L1118.9 3002 L1120.9 3002.9 L1122.9 3003.7 L1124.9 3004.4 L1126.9 3005.2 L1128.9 3005.9 L1130.9 3006.6 L1132.9 3007.2 L1134.9 3007.8 L1136.9 3008.4 L1138.9 3009 L1140.9 3009.5 L1142.9 3010 L1144.9 3010.5 L1146.9 3011 L1148.9 3011.5 L1150.9 3011.9 L1152.9 3012.3 L1154.9 3012.7 L1156.9 3013.1 L1158.9 3013.5 L1160.9 3013.9 L1162.9 3014.2 L1164.9 3014.6 L1166.9 3014.9 L1168.9 3015.2 L1170.9 3015.6 L1172.9 3015.9 L1174.9 3016.2 L1176.9 3016.4 L1178.9 3016.7 L1180.9 3017 L1182.9 3017.3 L1184.9 3017.5 L1186.9 3017.8 L1188.9 3018 L1190.9 3018.3 L1192.9 3018.5 L1194.9 3018.7 L1196.9 3019 L1198.9 3019.2 L1200.9 3019.4 L1202.9 3019.6 L1204.9 3019.8 L1206.9 3020 L1208.9 3020.2 L1210.9 3020.4 L1212.9 3020.6 L1214.9 3020.8 L1216.9 3021 L1218.9 3021.2 L1220.9 3021.4 L1222.9 3021.6 L1224.9 3021.8 L1226.9 3022 L1228.9 3022.1 L1230.9 3022.3 L1232.9 3022.5 L1234.9 3022.7 L1236.9 3022.8 L1238.9 3023 L1240.9 3023.2 L1242.9 3023.3 L1244.9 3023.5 L1246 3023.6 L1246 3031.6 L1244.9 3031.5 L1242.9 3031.4 L1240.9 3031.4 L1238.9 3031.3 L1236.9 3031.2 L1234.9 3031.1 L1232.9 3031 L1230.9 3031 L1228.9 3030.9 L1226.9 3030.8 L1224.9 3030.7 L1222.9 3030.6 L1220.9 3030.6 L1218.9 3030.5 L1216.9 3030.4 L1214.9 3030.3 L1212.9 3030.2 L1210.9 3030.2 L1208.9 3030.1 L1206.9 3030 L1204.9 3029.9 L1202.9 3029.8 L1200.9 3029.8 L1198.9 3029.7 L1196.9 3029.6 L1194.9 3029.5 L1192.9 3029.5 L1190.9 3029.4 L1188.9 3029.3 L1186.9 3029.2 L1184.9 3029.1 L1182.9 3029.1 L1180.9 3029 L1178.9 3028.9 L1176.9 3028.8 L1174.9 3028.7 L1172.9 3028.7 L1170.9 3028.6 L1168.9 3028.5 L1166.9 3028.4 L1164.9 3028.3 L1162.9 3028.3 L1160.9 3028.2 L1158.9 3028.1 L1156.9 3028 L1154.9 3027.9 L1152.9 3027.9 L1150.9 3027.8 L1148.9 3027.7 L1146.9 3027.6 L1144.9 3027.5 L1142.9 3027.5 L1140.9 3027.4 L1138.9 3027.3 L1136.9 3027.2 L1134.9 3027.2 L1132.9 3027.1 L1130.9 3027 L1128.9 3026.9 L1126.9 3026.8 L1124.9 3026.8 L1122.9 3026.7 L1120.9 3026.6 L1118.9 3026.5 L1116.9 3026.4 L1114.9 3026.4 L1112.9 3026.3 L1110.9 3026.2 L1108.9 3026.1 L1106.9 3026 L1104.9 3026 L1102.9 3025.9 L1100.9 3025.8 L1098.9 3025.7 L1096.9 3025.6 L1094.9 3025.6 L1092.9 3025.5 L1090.9 3025.4 L1088.9 3025.3 L1086.9 3025.2 L1084.9 3025.2 L1082.9 3025.1 L1080.9 3025 L1078.9 3024.9 L1076.9 3024.9 L1074.9 3024.8 L1072.9 3024.7 L1070.9 3024.6 L1068.9 3024.5 L1066.9 3024.5 L1064.9 3024.4 L1062.9 3024.3 L1060.9 3024.2 L1058.9 3024.1 L1056.9 3024.1 L1054.9 3024 L1052.9 3023.9 L1050.9 3023.8 L1048.9 3023.7 L1046.9 3023.7 L1044.9 3023.6 L1042.9 3023.5 L1040.9 3023.4 L1038.9 3023.3 L1036.9 3023.3 L1034.9 3023.2 L1032.9 3023.1 L1030.9 3023 L1028.9 3022.9 L1026.9 3022.9 L1024.9 3022.8 L1022.9 3022.7 L1020.9 3022.6 L1018.9 3022.5 L1016.9 3022.5 L1014.9 3022.4 L1012.9 3022.3 L1010.9 3022.2 L1008.9 3022.2 L1006.9 3022.1 L1004.9 3022 L1002.9 3021.9 L1000.9 3021.8 L998.9 3021.8 L996.9 3021.7 L994.9 3021.6 L992.9 3021.5 L990.9 3021.4 L988.9 3021.4 L986.9 3021.3 L984.9 3021.2 L982.9 3021.1 L980.9 3021 L978.9 3021 L976.9 3020.9 L974.9 3020.8 L972.9 3020.7 L970.9 3020.6 L968.9 3020.6 L966.9 3020.5 L964.9 3020.4 L962.9 3020.3 L960.9 3020.2 L958.9 3020.2 L956.9 3020.1 L954.9 3020 L952.9 3019.9 L950.9 3019.9 L948.9 3019.8 L946.9 3019.7 L944.9 3019.6 L942.9 3019.5 L940.9 3019.5 L938.9 3019.4 L936.9 3019.3 L934.9 3019.2 L932.9 3019.1 L930.9 3019.1 L928.9 3019 L926.9 3018.9 L924.9 3018.8 L922.9 3018.7 L920.9 3018.7 L918.9 3018.6 L916.9 3018.5 L914.9 3018.4 L912.9 3018.3 L910.9 3018.3 L908.9 3018.2 L906.9 3018.1 L904.9 3018 L902.9 3017.9 L900.9 3017.9 L898.9 3017.8 L896.9 3017.7 L894.9 3017.6 L892.9 3017.6 L890.9 3017.5 L888.9 3017.4 L886.9 3017.3 L884.9 3017.2 L882.9 3017.2 L880.9 3017.1 L878.9 3017 L876.9 3016.9 L874.9 3016.8 L872.9 3016.8 L870.9 3016.7 L868.9 3016.6 L866.9 3016.5 L864.9 3016.4 L862.9 3016.4 L860.9 3016.3 L858.9 3016.2 L856.9 3016.1 L854.9 3016 L852.9 3016 L850.9 3015.9 L848.9 3015.8 L846.9 3015.7 L844.9 3015.6 L842.9 3015.6 L840.9 3015.5 L838.9 3015.4 L836.9 3015.3 L834.9 3015.2 L832.9 3015.2 L830.9 3015.1 L828.9 3015 L826.9 3014.9 L824.9 3014.9 L822.9 3014.8 L820.9 3014.7 L818.9 3014.6 L816.9 3014.5 L814.9 3014.5 L812.9 3014.4 L810.9 3014.3 L808.9 3014.2 L806.9 3014.1 L804.9 3014.1 L802.9 3014 L800.9 3013.9 L798.9 3013.8 L796.9 3013.7 L794.9 3013.7 L792.9 3013.6 L790.9 3013.5 L788.9 3013.4 L786.9 3013.3 L784.9 3013.3 L782.9 3013.2 L780.9 3013.1 L778.9 3013 L776.9 3012.9 L774.9 3012.9 L772.9 3012.8 L770.9 3012.7 L768.9 3012.6 L766.9 3012.6 L764.9 3012.5 L762.9 3012.4 L760.9 3012.3 L758.9 3012.2 L756.9 3012.2 L754.9 3012.1 L752.9 3012 L750.9 3011.9 L748.9 3011.8 L746.9 3011.8 L744.9 3011.7 L742.9 3011.6 L740.9 3011.5 L738.9 3011.4 L736.9 3011.4 L734.9 3011.3 L732.9 3011.2 L730.9 3011.1 L728.9 3011 L726.9 3011 L724.9 3010.9 L722.9 3010.8 L720.9 3010.7 L718.9 3010.6 L716.9 3010.6 L714.9 3010.5 L712.9 3010.4 L710.9 3010.3 L708.9 3010.3 L706.9 3010.2 L704.9 3010.1 L702.9 3010 L700.9 3009.9 L698.9 3009.9 L696.9 3009.8 L694.9 3009.7 L692.9 3009.6 L690.9 3009.5 L688.9 3009.5 L686.9 3009.4 L684.9 3009.3 L682.9 3009.2 L680.9 3009.1 L678.9 3009.1 L676.9 3009 L674.9 3008.9 L672.9 3008.8 L670.9 3008.7 L668.9 3008.7 L666.9 3008.6 L664.9 3008.5 L662.9 3008.4 L660.9 3008.3 L658.9 3008.3 L656.9 3008.2 L654.9 3008.1 L652.9 3008 L650.9 3008 L648.9 3007.9 L646.9 3007.8 L644.9 3007.7 L642.9 3007.6 L640.9 3007.6 L638.9 3007.5 L636.9 3007.4 L634.9 3007.3 L632.9 3007.2 L630.9 3007.2 L628.9 3007.1 L626.9 3007 L624.9 3006.9 L622.9 3006.8 L620.9 3006.8 L618.9 3006.7 L616.9 3006.6 L614.9 3006.5 L612.9 3006.4 L610.9 3006.4 L608.9 3006.3 L606.9 3006.2 L604.9 3006.1 L602.9 3006 L600.9 3006 L598.9 3005.9 L596.9 3005.8 L594.9 3005.7 L592.9 3005.6 L590.9 3005.6 L588.9 3005.5 L586.9 3005.4 L584.9 3005.3 L582.9 3005.3 L580.9 3005.2 L578.9 3005.1 L576.9 3005 L574.9 3004.9 L572.9 3004.9 L570.9 3004.8 L568.9 3004.7 L566.9 3004.6 L564.9 3004.5 L562.9 3004.5 L560.9 3004.4 L558.9 3004.3 L556.9 3004.2 L554.9 3004.1 L552.9 3004.1 L550.9 3004 L548.9 3003.9 L546.9 3003.8 L544.9 3003.7 L542.9 3003.7 L540.9 3003.6 L538.9 3003.5 L536.9 3003.4 L534.9 3003.3 L532.9 3003.3 L530.9 3003.2 L528.9 3003.1 L526.9 3003 L524.9 3003 L522.9 3002.9 L520.9 3002.8 L518.9 3002.7 L516.9 3002.6 L514.9 3002.6 L512.9 3002.5 L510.9 3002.4 L508.9 3002.3 L506.9 3002.2 L504.9 3002.2 L502.9 3002.1 L500.9 3002 L498.9 3001.9 L496.9 3001.8 L494.9 3001.8 L492.9 3001.7 L490.9 3001.6 L488.9 3001.5 L486.9 3001.4 L484.9 3001.4 L482.9 3001.3 L480.9 3001.2 L478.9 3001.1 L476.9 3001 L474.9 3001 L472.9 3000.9 L470.9 3000.8 L468.9 3000.7 L466.9 3000.7 L464.9 3000.6 L462.9 3000.5 L460.9 3000.4 L458.9 3000.3 L456.9 3000.3 L454.9 3000.2 L452.9 3000.1 L450.9 3000 L448.9 2999.9 L446.9 2999.9 L444.9 2999.8 L442.9 2999.7 L440.9 2999.6 L438.9 2999.5 L436.9 2999.5 L434.9 2999.4 L432.9 2999.3 L430.9 2999.2 L428.9 2999.1 L426.9 2999.1 L424.9 2999 L422.9 2998.9 L420.9 2998.8 L418.9 2998.7 L416.9 2998.7 L414.9 2998.6 L412.9 2998.5 L410.9 2998.4 L408.9 2998.4 L406.9 2998.3 L404.9 2998.2 L402.9 2998.1 L400.9 2998 L398.9 2998 L396.9 2997.9 L394.9 2997.8 L392.9 2997.7 L390.9 2997.6 L388.9 2997.6 L386.9 2997.5 L384.9 2997.4 L382.9 2997.3 L380.9 2997.2 L378.9 2997.2 L376.9 2997.1 L374.9 2997 L372.9 2996.9 L370.9 2996.8 L368.9 2996.8 L366.9 2996.7 L364.9 2996.6 L362.9 2996.5 L360.9 2996.4 L358.9 2996.4 L356.9 2996.3 L354.9 2996.2 L352.9 2996.1 L350.9 2996 L348.9 2996 L346.9 2995.9 L344.9 2995.8 L342.9 2995.7 L340.9 2995.7 L338.9 2995.6 L336.9 2995.5 L334.9 2995.4 L332.9 2995.3 L330.9 2995.3 L328.9 2995.2 L326.9 2995.1 L324.9 2995 L322.9 2994.9 L320.9 2994.9 L318.9 2994.8 L316.9 2994.7 L314.9 2994.6 L312.9 2994.5 L310.9 2994.5 L308.9 2994.4 L306.9 2994.3 L304.9 2994.2 L302.9 2994.1 L300.9 2994.1 L298.9 2994 L296.9 2993.9 L294.9 2993.8 L292.9 2993.7 L290.9 2993.7 L288.9 2993.6 L286.9 2993.5 L284.9 2993.4 L282.9 2993.4 L280.9 2993.3 L278.9 2993.2 L276.9 2993.1 L274.9 2993 L272.9 2993 L270.9 2992.9 L268.9 2992.8 L266.9 2992.7 L264.9 2992.6 L262.9 2992.6 L260.9 2992.5 L258.9 2992.4 L256.9 2992.3 L254.9 2992.2 L252.9 2992.2 L250.9 2992.1 L248.9 2992 L246.9 2991.9 L244.9 2991.8 L242.9 2991.8 L240.9 2991.7 L238.9 2991.6 L236.9 2991.5 L234.9 2991.4 L232.9 2991.4 L230.9 2991.3 L228.9 2991.2 L226.9 2991.1 L224.9 2991.1 L222.9 2991 L220.9 2990.9 L218.9 2990.8 L216.9 2990.7 L214.9 2990.7 L212.9 2990.6 L210.9 2990.5 L208.9 2990.4 L206.9 2990.3 L204.9 2990.3 L202.9 2990.2 L200.9 2990.1 L198.9 2990 L196.9 2989.9 L194.9 2989.9 L192.9 2989.8 L190.9 2989.7 L188.9 2989.6 L186.9 2989.5 L184.9 2989.5 L182.9 2989.4 L180.9 2989.3 L178.9 2989.2 L176.9 2989.1 L174.9 2989.1 L172.9 2989 L170.9 2988.9 L168.9 2988.8 L166.9 2988.7 L164.9 2988.7 L162.9 2988.6 L160.9 2988.5 L158.9 2988.4 L156.9 2988.4 L154.9 2988.3 L152.9 2988.2 L150.9 2988.1 L148.9 2988 L146.9 2988 L144.9 2987.9 L142.9 2987.8 L140.9 2987.7 L138.9 2987.6 L136.9 2987.6 L134.9 2987.5 L132.9 2987.4Z" fill="#008000"/>
<path d="M132.9 2987.2 L134.9 2987.3 L136.9 2987.4 L138.9 2987.5 L140.9 2987.5 L142.9 2987.6 L144.9 2987.7 L146.9 2987.8 L148.9 2987.8 L150.9 2987.9 L152.9 2988 L154.9 2988.1 L156.9 2988.1 L158.9 2988.2 L160.9 2988.3 L162.9 2988.4 L164.9 2988.4 L166.9 2988.5 L168.9 2988.6 L170.9 2988.6 L172.9 2988.7 L174.9 2988.8 L176.9 2988.8 L178.9 2988.9 L180.9 2989 L182.9 2989 L184.9 2989.1 L186.9 2989.2 L188.9 2989.2 L190.9 2989.3 L192.9 2989.3 L194.9 2989.4 L196.9 2989.4 L198.9 2989.5 L200.9 2989.5 L202.9 2989.5 L204.9 2989.6 L206.9 2989.6 L208.9 2989.6 L210.9 2989.6 L212.9 2989.6 L214.9 2989.6 L216.9 2989.6 L218.9 2989.6 L220.9 2989.5 L222.9 2989.5 L224.9 2989.4 L226.9 2989.4 L228.9 2989.3 L230.9 2989.2 L232.9 2989.1 L234.9 2989 L236.9 2988.8 L238.9 2988.7 L240.9 2988.5 L242.9 2988.3 L244.9 2988.1 L246.9 2987.9 L248.9 2987.6 L250.9 2987.3 L252.9 2987 L254.9 2986.7 L256.9 2986.4 L258.9 2986 L260.9 2985.7 L262.9 2985.3 L264.9 2984.8 L266.9 2984.4 L268.9 2984 L270.9 2983.5 L272.9 2983 L274.9 2982.5 L276.9 2981.9 L278.9 2981.4 L280.9 2980.8 L282.9 2980.3 L284.9 2979.7 L286.9 2979.1 L288.9 2978.5 L290.9 2977.9 L292.9 2977.4 L294.9 2976.8 L296.9 2976.2 L298.9 2975.6 L300.9 2975.1 L302.9 2974.5 L304.9 2974 L306.9 2973.5 L308.9 2973 L310.9 2972.6 L312.9 2972.2 L314.9 2971.8 L316.9 2971.5 L318.9 2971.2 L320.9 2970.9 L322.9 2970.7 L324.9 2970.5 L326.9 2970.4 L328.9 2970.3 L330.9 2970.3 L332.9 2970.3 L334.9 2970.4 L336.9 2970.6 L338.9 2970.8 L340.9 2971 L342.9 2971.3 L344.9 2971.6 L346.9 2972 L348.9 2972.5 L350.9 2972.9 L352.9 2973.4 L354.9 2974 L356.9 2974.6 L358.9 2975.2 L360.9 2975.8 L362.9 2976.5 L364.9 2977.2 L366.9 2977.9 L368.9 2978.6 L370.9 2979.3 L372.9 2980.1 L374.9 2980.8 L376.9 2981.6 L378.9 2982.3 L380.9 2983 L382.9 2983.8 L384.9 2984.5 L386.9 2985.2 L388.9 2985.9 L390.9 2986.6 L392.9 2987.3 L394.9 2988 L396.9 2988.6 L398.9 2989.3 L400.9 2989.9 L402.9 2990.5 L404.9 2991 L406.9 2991.6 L408.9 2992.1 L410.9 2992.6 L412.9 2993.1 L414.9 2993.6 L416.9 2994 L418.9 2994.4 L420.9 2994.9 L422.9 2995.2 L424.9 2995.6 L426.9 2995.9 L428.9 2996.3 L430.9 2996.6 L432.9 2996.9 L434.9 2997.1 L436.9 2997.4 L438.9 2997.7 L440.9 2997.9 L442.9 2998.1 L444.9 2998.3 L446.9 2998.5 L448.9 2998.7 L450.9 2998.9 L452.9 2999.1 L454.9 2999.2 L456.9 2999.4 L458.9 2999.5 L460.9 2999.7 L462.9 2999.8 L464.9 2999.9 L466.9 3000.1 L468.9 3000.2 L470.9 3000.3 L472.9 3000.4 L474.9 3000.5 L476.9 3000.6 L478.9 3000.7 L480.9 3000.8 L482.9 3000.9 L484.9 3001 L486.9 3001.1 L488.9 3001.2 L490.9 3001.3 L492.9 3001.4 L494.9 3001.5 L496.9 3001.6 L498.9 3001.7 L500.9 3001.8 L502.9 3001.8 L504.9 3001.9 L506.9 3002 L508.9 3002.1 L510.9 3002.2 L512.9 3002.3 L514.9 3002.4 L516.9 3002.4 L518.9 3002.5 L520.9 3002.6 L522.9 3002.7 L524.9 3002.8 L526.9 3002.9 L528.9 3002.9 L530.9 3003 L532.9 3003.1 L534.9 3003.2 L536.9 3003.3 L538.9 3003.4 L540.9 3003.4 L542.9 3003.5 L544.9 3003.6 L546.9 3003.7 L548.9 3003.8 L550.9 3003.8 L552.9 3003.9 L554.9 3004 L556.9 3004.1 L558.9 3004.2 L560.9 3004.3 L562.9 3004.3 L564.9 3004.4 L566.9 3004.5 L568.9 3004.6 L570.9 3004.7 L572.9 3004.7 L574.9 3004.8 L576.9 3004.9 L578.9 3005 L580.9 3005.1 L582.9 3005.1 L584.9 3005.2 L586.9 3005.3 L588.9 3005.4 L590.9 3005.5 L592.9 3005.6 L594.9 3005.6 L596.9 3005.7 L598.9 3005.8 L600.9 3005.9 L602.9 3006 L604.9 3006 L606.9 3006.1 L608.9 3006.2 L610.9 3006.3 L612.9 3006.4 L614.9 3006.4 L616.9 3006.5 L618.9 3006.6 L620.9 3006.7 L622.9 3006.8 L624.9 3006.8 L626.9 3006.9 L628.9 3007 L630.9 3007.1 L632.9 3007.2 L634.9 3007.2 L636.9 3007.3 L638.9 3007.4 L640.9 3007.5 L642.9 3007.6 L644.9 3007.6 L646.9 3007.7 L648.9 3007.8 L650.9 3007.9 L652.9 3008 L654.9 3008 L656.9 3008.1 L658.9 3008.2 L660.9 3008.3 L662.9 3008.4 L664.9 3008.4 L666.9 3008.5 L668.9 3008.6 L670.9 3008.7 L672.9 3008.8 L674.9 3008.8 L676.9 3008.9 L678.9 3009 L680.9 3009.1 L682.9 3009.2 L684.9 3009.2 L686.9 3009.3 L688.9 3009.4 L690.9 3009.5 L692.9 3009.6 L694.9 3009.6 L696.9 3009.7 L698.9 3009.8 L700.9 3009.9 L702.9 3010 L704.9 3010 L706.9 3010.1 L708.9 3010.2 L710.9 3010.3 L712.9 3010.4 L714.9 3010.4 L716.9 3010.5 L718.9 3010.6 L720.9 3010.7 L722.9 3010.8 L724.9 3010.8 L726.9 3010.9 L728.9 3011 L730.9 3011.1 L732.9 3011.2 L734.9 3011.2 L736.9 3011.3 L738.9 3011.4 L740.9 3011.5 L742.9 3011.6 L744.9 3011.6 L746.9 3011.7 L748.9 3011.8 L750.9 3011.9 L752.9 3012 L754.9 3012 L756.9 3012.1 L758.9 3012.2 L760.9 3012.3 L762.9 3012.4 L764.9 3012.4 L766.9 3012.5 L768.9 3012.6 L770.9 3012.7 L772.9 3012.8 L774.9 3012.8 L776.9 3012.9 L778.9 3013 L780.9 3013.1 L782.9 3013.2 L784.9 3013.2 L786.9 3013.3 L788.9 3013.4 L790.9 3013.5 L792.9 3013.6 L794.9 3013.6 L796.9 3013.7 L798.9 3013.8 L800.9 3013.9 L802.9 3013.9 L804.9 3014 L806.9 3014.1 L808.9 3014.2 L810.9 3014.3 L812.9 3014.3 L814.9 3014.4 L816.9 3014.5 L818.9 3014.6 L820.9 3014.7 L822.9 3014.7 L824.9 3014.8 L826.9 3014.9 L828.9 3015 L830.9 3015.1 L832.9 3015.1 L834.9 3015.2 L836.9 3015.3 L838.9 3015.4 L840.9 3015.5 L842.9 3015.5 L844.9 3015.6 L846.9 3015.7 L848.9 3015.8 L850.9 3015.9 L852.9 3015.9 L854.9 3016 L856.9 3016.1 L858.9 3016.2 L860.9 3016.3 L862.9 3016.3 L864.9 3016.4 L866.9 3016.5 L868.9 3016.6 L870.9 3016.7 L872.9 3016.7 L874.9 3016.8 L876.9 3016.9 L878.9 3017 L880.9 3017.1 L882.9 3017.1 L884.9 3017.2 L886.9 3017.3 L888.9 3017.4 L890.9 3017.4 L892.9 3017.5 L894.9 3017.6 L896.9 3017.7 L898.9 3017.8 L900.9 3017.8 L902.9 3017.9 L904.9 3018 L906.9 3018.1 L908.9 3018.2 L910.9 3018.2 L912.9 3018.3 L914.9 3018.4 L916.9 3018.5 L918.9 3018.6 L920.9 3018.6 L922.9 3018.7 L924.9 3018.8 L926.9 3018.9 L928.9 3019 L930.9 3019 L932.9 3019.1 L934.9 3019.2 L936.9 3019.3 L938.9 3019.4 L940.9 3019.4 L942.9 3019.5 L944.9 3019.6 L946.9 3019.7 L948.9 3019.8 L950.9 3019.8 L952.9 3019.9 L954.9 3020 L956.9 3020.1 L958.9 3020.2 L960.9 3020.2 L962.9 3020.3 L964.9 3020.4 L966.9 3020.5 L968.9 3020.5 L970.9 3020.6 L972.9 3020.7 L974.9 3020.8 L976.9 3020.9 L978.9 3020.9 L980.9 3021 L982.9 3021.1 L984.9 3021.2 L986.9 3021.3 L988.9 3021.3 L990.9 3021.4 L992.9 3021.5 L994.9 3021.6 L996.9 3021.7 L998.9 3021.7 L1000.9 3021.8 L1002.9 3021.9 L1004.9 3022 L1006.9 3022.1 L1008.9 3022.1 L1010.9 3022.2 L1012.9 3022.3 L1014.9 3022.4 L1016.9 3022.5 L1018.9 3022.5 L1020.9 3022.6 L1022.9 3022.7 L1024.9 3022.8 L1026.9 3022.9 L1028.9 3022.9 L1030.9 3023 L1032.9 3023.1 L1034.9 3023.2 L1036.9 3023.2 L1038.9 3023.3 L1040.9 3023.4 L1042.9 3023.5 L1044.9 3023.6 L1046.9 3023.6 L1048.9 3023.7 L1050.9 3023.8 L1052.9 3023.9 L1054.9 3024 L1056.9 3024 L1058.9 3024.1 L1060.9 3024.2 L1062.9 3024.3 L1064.9 3024.4 L1066.9 3024.4 L1068.9 3024.5 L1070.9 3024.6 L1072.9 3024.7 L1074.9 3024.8 L1076.9 3024.8 L1078.9 3024.9 L1080.9 3025 L1082.9 3025.1 L1084.9 3025.2 L1086.9 3025.2 L1088.9 3025.3 L1090.9 3025.4 L1092.9 3025.5 L1094.9 3025.6 L1096.9 3025.6 L1098.9 3025.7 L1100.9 3025.8 L1102.9 3025.9 L1104.9 3025.9 L1106.9 3026 L1108.9 3026.1 L1110.9 3026.2 L1112.9 3026.3 L1114.9 3026.3 L1116.9 3026.4 L1118.9 3026.5 L1120.9 3026.6 L1122.9 3026.7 L1124.9 3026.7 L1126.9 3026.8 L1128.9 3026.9 L1130.9 3027 L1132.9 3027.1 L1134.9 3027.1 L1136.9 3027.2 L1138.9 3027.3 L1140.9 3027.4 L1142.9 3027.5 L1144.9 3027.5 L1146.9 3027.6 L1148.9 3027.7 L1150.9 3027.8 L1152.9 3027.9 L1154.9 3027.9 L1156.9 3028 L1158.9 3028.1 L1160.9 3028.2 L1162.9 3028.3 L1164.9 3028.3 L1166.9 3028.4 L1168.9 3028.5 L1170.9 3028.6 L1172.9 3028.6 L1174.9 3028.7 L1176.9 3028.8 L1178.9 3028.9 L1180.9 3029 L1182.9 3029 L1184.9 3029.1 L1186.9 3029.2 L1188.9 3029.3 L1190.9 3029.4 L1192.9 3029.4 L1194.9 3029.5 L1196.9 3029.6 L1198.9 3029.7 L1200.9 3029.8 L1202.9 3029.8 L1204.9 3029.9 L1206.9 3030 L1208.9 3030.1 L1210.9 3030.2 L1212.9 3030.2 L1214.9 3030.3 L1216.9 3030.4 L1218.9 3030.5 L1220.9 3030.6 L1222.9 3030.6 L1224.9 3030.7 L1226.9 3030.8 L1228.9 3030.9 L1230.9 3031 L1232.9 3031 L1234.9 3031.1 L1236.9 3031.2 L1238.9 3031.3 L1240.9 3031.3 L1242.9 3031.4 L1244.9 3031.5 L1246 3031.6 L1246 3031.6 L1244.9 3031.5 L1242.9 3031.4 L1240.9 3031.4 L1238.9 3031.3 L1236.9 3031.2 L1234.9 3031.1 L1232.9 3031 L1230.9 3031 L1228.9 3030.9 L1226.9 3030.8 L1224.9 3030.7 L1222.9 3030.6 L1220.9 3030.6 L1218.9 3030.5 L1216.9 3030.4 L1214.9 3030.3 L1212.9 3030.2 L1210.9 3030.2 L1208.9 3030.1 L1206.9 3030 L1204.9 3029.9 L1202.9 3029.8 L1200.9 3029.8 L1198.9 3029.7 L1196.9 3029.6 L1194.9 3029.5 L1192.9 3029.5 L1190.9 3029.4 L1188.9 3029.3 L1186.9 3029.2 L1184.9 3029.1 L1182.9 3029.1 L1180.9 3029 L1178.9 3028.9 L1176.9 3028.8 L1174.9 3028.7 L1172.9 3028.7 L1170.9 3028.6 L1168.9 3028.5 L1166.9 3028.4 L1164.9 3028.3 L1162.9 3028.3 L1160.9 3028.2 L1158.9 3028.1 L1156.9 3028 L1154.9 3027.9 L1152.9 3027.9 L1150.9 3027.8 L1148.9 3027.7 L1146.9 3027.6 L1144.9 3027.5 L1142.9 3027.5 L1140.9 3027.4 L1138.9 3027.3 L1136.9 3027.2 L1134.9 3027.2 L1132.9 3027.1 L1130.9 3027 L1128.9 3026.9 L1126.9 3026.8 L1124.9 3026.8 L1122.9 3026.7 L1120.9 3026.6 L1118.9 3026.5 L1116.9 3026.4 L1114.9 3026.4 L1112.9 3026.3 L1110.9 3026.2 L1108.9 3026.1 L1106.9 3026 L1104.9 3026 L1102.9 3025.9 L1100.9 3025.8 L1098.9 3025.7 L1096.9 3025.6 L1094.9 3025.6 L1092.9 3025.5 L1090.9 3025.4 L1088.9 3025.3 L1086.9 3025.2 L1084.9 3025.2 L1082.9 3025.1 L1080.9 3025 L1078.9 3024.9 L1076.9 3024.9 L1074.9 3024.8 L1072.9 3024.7 L1070.9 3024.6 L1068.9 3024.5 L1066.9 3024.5 L1064.9 3024.4 L1062.9 3024.3 L1060.9 3024.2 L1058.9 3024.1 L1056.9 3024.1 L1054.9 3024 L1052.9 3023.9 L1050.9 3023.8 L1048.9 3023.7 L1046.9 3023.7 L1044.9 3023.6 L1042.9 3023.5 L1040.9 3023.4 L1038.9 3023.3 L1036.9 3023.3 L1034.9 3023.2 L1032.9 3023.1 L1030.9 3023 L1028.9 3022.9 L1026.9 3022.9 L1024.9 3022.8 L1022.9 3022.7 L1020.9 3022.6 L1018.9 3022.5 L1016.9 3022.5 L1014.9 3022.4 L1012.9 3022.3 L1010.9 3022.2 L1008.9 3022.2 L1006.9 3022.1 L1004.9 3022 L1002.9 3021.9 L1000.9 3021.8 L998.9 3021.8 L996.9 3021.7 L994.9 3021.6 L992.9 3021.5 L990.9 3021.4 L988.9 3021.4 L986.9 3021.3 L984.9 3021.2 L982.9 3021.1 L980.9 3021 L978.9 3021 L976.9 3020.9 L974.9 3020.8 L972.9 3020.7 L970.9 3020.6 L968.9 3020.6 L966.9 3020.5 L964.9 3020.4 L962.9 3020.3 L960.9 3020.2 L958.9 3020.2 L956.9 3020.1 L954.9 3020 L952.9 3019.9 L950.9 3019.9 L948.9 3019.8 L946.9 3019.7 L944.9 3019.6 L942.9 3019.5 L940.9 3019.5 L938.9 3019.4 L936.9 3019.3 L934.9 3019.2 L932.9 3019.1 L930.9 3019.1 L928.9 3019 L926.9 3018.9 L924.9 3018.8 L922.9 3018.7 L920.9 3018.7 L918.9 3018.6 L916.9 3018.5 L914.9 3018.4 L912.9 3018.3 L910.9 3018.3 L908.9 3018.2 L906.9 3018.1 L904.9 3018 L902.9 3017.9 L900.9 3017.9 L898.9 3017.8 L896.9 3017.7 L894.9 3017.6 L892.9 3017.6 L890.9 3017.5 L888.9 3017.4 L886.9 3017.3 L884.9 3017.2 L882.9 3017.2 L880.9 3017.1 L878.9 3017 L876.9 3016.9 L874.9 3016.8 L872.9 3016.8 L870.9 3016.7 L868.9 3016.6 L866.9 3016.5 L864.9 3016.4 L862.9 3016.4 L860.9 3016.3 L858.9 3016.2 L856.9 3016.1 L854.9 3016 L852.9 3016 L850.9 3015.9 L848.9 3015.8 L846.9 3015.7 L844.9 3015.6 L842.9 3015.6 L840.9 3015.5 L838.9 3015.4 L836.9 3015.3 L834.9 3015.2 L832.9 3015.2 L830.9 3015.1 L828.9 3015 L826.9 3014.9 L824.9 3014.9 L822.9 3014.8 L820.9 3014.7 L818.9 3014.6 L816.9 3014.5 L814.9 3014.5 L812.9 3014.4 L810.9 3014.3 L808.9 3014.2 L806.9 3014.1 L804.9 3014.1 L802.9 3014 L800.9 3013.9 L798.9 3013.8 L796.9 3013.7 L794.9 3013.7 L792.9 3013.6 L790.9 3013.5 L788.9 3013.4 L786.9 3013.3 L784.9 3013.3 L782.9 3013.2 L780.9 3013.1 L778.9 3013 L776.9 3012.9 L774.9 3012.9 L772.9 3012.8 L770.9 3012.7 L768.9 3012.6 L766.9 3012.6 L764.9 3012.5 L762.9 3012.4 L760.9 3012.3 L758.9 3012.2 L756.9 3012.2 L754.9 3012.1 L752.9 3012 L750.9 3011.9 L748.9 3011.8 L746.9 3011.8 L744.9 3011.7 L742.9 3011.6 L740.9 3011.5 L738.9 3011.4 L736.9 3011.4 L734.9 3011.3 L732.9 3011.2 L730.9 3011.1 L728.9 3011 L726.9 3011 L724.9 3010.9 L722.9 3010.8 L720.9 3010.7 L718.9 3010.6 L716.9 3010.6 L714.9 3010.5 L712.9 3010.4 L710.9 3010.3 L708.9 3010.3 L706.9 3010.2 L704.9 3010.1 L702.9 3010 L700.9 3009.9 L698.9 3009.9 L696.9 3009.8 L694.9 3009.7 L692.9 3009.6 L690.9 3009.5 L688.9 3009.5 L686.9 3009.4 L684.9 3009.3 L682.9 3009.2 L680.9 3009.1 L678.9 3009.1 L676.9 3009 L674.9 3008.9 L672.9 3008.8 L670.9 3008.7 L668.9 3008.7 L666.9 3008.6 L664.9 3008.5 L662.9 3008.4 L660.9 3008.3 L658.9 3008.3 L656.9 3008.2 L654.9 3008.1 L652.9 3008 L650.9 3008 L648.9 3007.9 L646.9 3007.8 L644.9 3007.7 L642.9 3007.6 L640.9 3007.6 L638.9 3007.5 L636.9 3007.4 L634.9 3007.3 L632.9 3007.2 L630.9 3007.2 L628.9 3007.1 L626.9 3007 L624.9 3006.9 L622.9 3006.8 L620.9 3006.8 L618.9 3006.7 L616.9 3006.6 L614.9 3006.5 L612.9 3006.4 L610.9 3006.4 L608.9 3006.3 L606.9 3006.2 L604.9 3006.1 L602.9 3006 L600.9 3006 L598.9 3005.9 L596.9 3005.8 L594.9 3005.7 L592.9 3005.6 L590.9 3005.6 L588.9 3005.5 L586.9 3005.4 L584.9 3005.3 L582.9 3005.3 L580.9 3005.2 L578.9 3005.1 L576.9 3005 L574.9 3004.9 L572.9 3004.9 L570.9 3004.8 L568.9 3004.7 L566.9 3004.6 L564.9 3004.5 L562.9 3004.5 L560.9 3004.4 L558.9 3004.3 L556.9 3004.2 L554.9 3004.1 L552.9 3004.1 L550.9 3004 L548.9 3003.9 L546.9 3003.8 L544.9 3003.7 L542.9 3003.7 L540.9 3003.6 L538.9 3003.5 L536.9 3003.4 L534.9 3003.3 L532.9 3003.3 L530.9 3003.2 L528.9 3003.1 L526.9 3003 L524.9 3003 L522.9 3002.9 L520.9 3002.8 L518.9 3002.7 L516.9 3002.6 L514.9 3002.6 L512.9 3002.5 L510.9 3002.4 L508.9 3002.3 L506.9 3002.2 L504.9 3002.2 L502.9 3002.1 L500.9 3002 L498.9 3001.9 L496.9 3001.8 L494.9 3001.8 L492.9 3001.7 L490.9 3001.6 L488.9 3001.5 L486.9 3001.4 L484.9 3001.4 L482.9 3001.3 L480.9 3001.2 L478.9 3001.1 L476.9 3001 L474.9 3001 L472.9 3000.9 L470.9 3000.8 L468.9 3000.7 L466.9 3000.7 L464.9 3000.6 L462.9 3000.5 L460.9 3000.4 L458.9 3000.3 L456.9 3000.3 L454.9 3000.2 L452.9 3000.1 L450.9 3000 L448.9 2999.9 L446.9 2999.9 L444.9 2999.8 L442.9 2999.7 L440.9 2999.6 L438.9 2999.5 L436.9 2999.5 L434.9 2999.4 L432.9 2999.3 L430.9 2999.2 L428.9 2999.1 L426.9 2999.1 L424.9 2999 L422.9 2998.9 L420.9 2998.8 L418.9 2998.7 L416.9 2998.7 L414.9 2998.6 L412.9 2998.5 L410.9 2998.4 L408.9 2998.4 L406.9 2998.3 L404.9 2998.2 L402.9 2998.1 L400.9 2998 L398.9 2998 L396.9 2997.9 L394.9 2997.8 L392.9 2997.7 L390.9 2997.6 L388.9 2997.6 L386.9 2997.5 L384.9 2997.4 L382.9 2997.3 L380.9 2997.2 L378.9 2997.2 L376.9 2997.1 L374.9 2997 L372.9 2996.9 L370.9 2996.8 L368.9 2996.8 L366.9 2996.7 L364.9 2996.6 L362.9 2996.5 L360.9 2996.4 L358.9 2996.4 L356.9 2996.3 L354.9 2996.2 L352.9 2996.1 L350.9 2996 L348.9 2996 L346.9 2995.9 L344.9 2995.8 L342.9 2995.7 L340.9 2995.7 L338.9 2995.6 L336.9 2995.5 L334.9 2995.4 L332.9 2995.3 L330.9 2995.3 L328.9 2995.2 L326.9 2995.1 L324.9 2995 L322.9 2994.9 L320.9 2994.9 L318.9 2994.8 L316.9 2994.7 L314.9 2994.6 L312.9 2994.5 L310.9 2994.5 L308.9 2994.4 L306.9 2994.3 L304.9 2994.2 L302.9 2994.1 L300.9 2994.1 L298.9 2994 L296.9 2993.9 L294.9 2993.8 L292.9 2993.7 L290.9 2993.7 L288.9 2993.6 L286.9 2993.5 L284.9 2993.4 L282.9 2993.4 L280.9 2993.3 L278.9 2993.2 L276.9 2993.1 L274.9 2993 L272.9 2993 L270.9 2992.9 L268.9 2992.8 L266.9 2992.7 L264.9 2992.6 L262.9 2992.6 L260.9 2992.5 L258.9 2992.4 L256.9 2992.3 L254.9 2992.2 L252.9 2992.2 L250.9 2992.1 L248.9 2992 L246.9 2991.9 L244.9 2991.8 L242.9 2991.8 L240.9 2991.7 L238.9 2991.6 L236.9 2991.5 L234.9 2991.4 L232.9 2991.4 L230.9 2991.3 L228.9 2991.2 L226.9 2991.1 L224.9 2991.1 L222.9 2991 L220.9 2990.9 L218.9 2990.8 L216.9 2990.7 L214.9 2990.7 L212.9 2990.6 L210.9 2990.5 L208.9 2990.4 L206.9 2990.3 L204.9 2990.3 L202.9 2990.2 L200.9 2990.1 L198.9 2990 L196.9 2989.9 L194.9 2989.9 L192.9 2989.8 L190.9 2989.7 L188.9 2989.6 L186.9 2989.5 L184.9 2989.5 L182.9 2989.4 L180.9 2989.3 L178.9 2989.2 L176.9 2989.1 L174.9 2989.1 L172.9 2989 L170.9 2988.9 L168.9 2988.8 L166.9 2988.7 L164.9 2988.7 L162.9 2988.6 L160.9 2988.5 L158.9 2988.4 L156.9 2988.4 L154.9 2988.3 L152.9 2988.2 L150.9 2988.1 L148.9 2988 L146.9 2988 L144.9 2987.9 L142.9 2987.8 L140.9 2987.7 L138.9 2987.6 L136.9 2987.6 L134.9 2987.5 L132.9 2987.4Z" fill="#800000"/>
<path d="M132.9 2987.4 L134.9 2987.4 L136.9 2987.5 L138.9 2987.6 L140.9 2987.7 L142.9 2987.8 L144.9 2987.8 L146.9 2987.9 L148.9 2988 L150.9 2988.1 L152.9 2988.1 L154.9 2988.2 L156.9 2988.3 L158.9 2988.4 L160.9 2988.5 L162.9 2988.5 L164.9 2988.6 L166.9 2988.7 L168.9 2988.8 L170.9 2988.9 L172.9 2988.9 L174.9 2989 L176.9 2989.1 L178.9 2989.2 L180.9 2989.3 L182.9 2989.3 L184.9 2989.4 L186.9 2989.5 L188.9 2989.6 L190.9 2989.7 L192.9 2989.7 L194.9 2989.8 L196.9 2989.9 L198.9 2990 L200.9 2990 L202.9 2990.1 L204.9 2990.2 L206.9 2990.3 L208.9 2990.4 L210.9 2990.4 L212.9 2990.5 L214.9 2990.6 L216.9 2990.7 L218.9 2990.8 L220.9 2990.8 L222.9 2990.9 L224.9 2991 L226.9 2991.1 L228.9 2991.2 L230.9 2991.2 L232.9 2991.3 L234.9 2991.4 L236.9 2991.5 L238.9 2991.5 L240.9 2991.6 L242.9 2991.7 L244.9 2991.8 L246.9 2991.9 L248.9 2991.9 L250.9 2992 L252.9 2992.1 L254.9 2992.2 L256.9 2992.3 L258.9 2992.3 L260.9 2992.4 L262.9 2992.5 L264.9 2992.6 L266.9 2992.6 L268.9 2992.7 L270.9 2992.8 L272.9 2992.9 L274.9 2993 L276.9 2993 L278.9 2993.1 L280.9 2993.2 L282.9 2993.3 L284.9 2993.4 L286.9 2993.4 L288.9 2993.5 L290.9 2993.6 L292.9 2993.7 L294.9 2993.8 L296.9 2993.8 L298.9 2993.9 L300.9 2994 L302.9 2994.1 L304.9 2994.1 L306.9 2994.2 L308.9 2994.3 L310.9 2994.4 L312.9 2994.5 L314.9 2994.5 L316.9 2994.6 L318.9 2994.7 L320.9 2994.8 L322.9 2994.9 L324.9 2994.9 L326.9 2995 L328.9 2995.1 L330.9 2995.2 L332.9 2995.2 L334.9 2995.3 L336.9 2995.4 L338.9 2995.5 L340.9 2995.6 L342.9 2995.6 L344.9 2995.7 L346.9 2995.8 L348.9 2995.9 L350.9 2995.9 L352.9 2996 L354.9 2996.1 L356.9 2996.2 L358.9 2996.3 L360.9 2996.3 L362.9 2996.4 L364.9 2996.5 L366.9 2996.6 L368.9 2996.7 L370.9 2996.7 L372.9 2996.8 L374.9 2996.9 L376.9 2997 L378.9 2997 L380.9 2997.1 L382.9 2997.2 L384.9 2997.3 L386.9 2997.4 L388.9 2997.4 L390.9 2997.5 L392.9 2997.6 L394.9 2997.7 L396.9 2997.7 L398.9 2997.8 L400.9 2997.9 L402.9 2998 L404.9 2998.1 L406.9 2998.1 L408.9 2998.2 L410.9 2998.3 L412.9 2998.4 L414.9 2998.4 L416.9 2998.5 L418.9 2998.6 L420.9 2998.7 L422.9 2998.8 L424.9 2998.8 L426.9 2998.9 L428.9 2999 L430.9 2999.1 L432.9 2999.1 L434.9 2999.2 L436.9 2999.3 L438.9 2999.4 L440.9 2999.5 L442.9 2999.5 L444.9 2999.6 L446.9 2999.7 L448.9 2999.8 L450.9 2999.8 L452.9 2999.9 L454.9 3000 L456.9 3000.1 L458.9 3000.1 L460.9 3000.2 L462.9 3000.3 L464.9 3000.4 L466.9 3000.5 L468.9 3000.5 L470.9 3000.6 L472.9 3000.7 L474.9 3000.8 L476.9 3000.8 L478.9 3000.9 L480.9 3001 L482.9 3001.1 L484.9 3001.1 L486.9 3001.2 L488.9 3001.3 L490.9 3001.4 L492.9 3001.4 L494.9 3001.5 L496.9 3001.6 L498.9 3001.7 L500.9 3001.7 L502.9 3001.8 L504.9 3001.9 L506.9 3002 L508.9 3002.1 L510.9 3002.1 L512.9 3002.2 L514.9 3002.3 L516.9 3002.3 L518.9 3002.4 L520.9 3002.5 L522.9 3002.6 L524.9 3002.6 L526.9 3002.7 L528.9 3002.8 L530.9 3002.9 L532.9 3002.9 L534.9 3003 L536.9 3003.1 L538.9 3003.2 L540.9 3003.2 L542.9 3003.3 L544.9 3003.4 L546.9 3003.4 L548.9 3003.5 L550.9 3003.6 L552.9 3003.6 L554.9 3003.7 L556.9 3003.8 L558.9 3003.8 L560.9 3003.9 L562.9 3004 L564.9 3004 L566.9 3004.1 L568.9 3004.2 L570.9 3004.2 L572.9 3004.3 L574.9 3004.3 L576.9 3004.4 L578.9 3004.4 L580.9 3004.5 L582.9 3004.5 L584.9 3004.6 L586.9 3004.6 L588.9 3004.6 L590.9 3004.6 L592.9 3004.7 L594.9 3004.7 L596.9 3004.7 L598.9 3004.7 L600.9 3004.7 L602.9 3004.7 L604.9 3004.7 L606.9 3004.6 L608.9 3004.6 L610.9 3004.5 L612.9 3004.5 L614.9 3004.4 L616.9 3004.3 L618.9 3004.2 L620.9 3004.1 L622.9 3003.9 L624.9 3003.8 L626.9 3003.6 L628.9 3003.4 L630.9 3003.2 L632.9 3003 L634.9 3002.7 L636.9 3002.5 L638.9 3002.2 L640.9 3001.8 L642.9 3001.5 L644.9 3001.1 L646.9 3000.7 L648.9 3000.3 L650.9 2999.8 L652.9 2999.3 L654.9 2998.8 L656.9 2998.3 L658.9 2997.7 L660.9 2997.1 L662.9 2996.4 L664.9 2995.7 L666.9 2995 L668.9 2994.3 L670.9 2993.5 L672.9 2992.7 L674.9 2991.9 L676.9 2991.1 L678.9 2990.2 L680.9 2989.3 L682.9 2988.4 L684.9 2987.4 L686.9 2986.5 L688.9 2985.5 L690.9 2984.5 L692.9 2983.5 L694.9 2982.5 L696.9 2981.5 L698.9 2980.5 L700.9 2979.5 L702.9 2978.5 L704.9 2977.5 L706.9 2976.6 L708.9 2975.6 L710.9 2974.7 L712.9 2973.8 L714.9 2972.9 L716.9 2972.1 L718.9 2971.3 L720.9 2970.5 L722.9 2969.8 L724.9 2969.2 L726.9 2968.6 L728.9 2968 L730.9 2967.5 L732.9 2967.1 L734.9 2966.8 L736.9 2966.5 L738.9 2966.3 L740.9 2966.1 L742.9 2966.1 L744.9 2966.1 L746.9 2966.2 L748.9 2966.3 L750.9 2966.6 L752.9 2966.9 L754.9 2967.3 L756.9 2967.7 L758.9 2968.3 L760.9 2968.8 L762.9 2969.5 L764.9 2970.2 L766.9 2971 L768.9 2971.8 L770.9 2972.7 L772.9 2973.6 L774.9 2974.6 L776.9 2975.6 L778.9 2976.6 L780.9 2977.7 L782.9 2978.8 L784.9 2979.9 L786.9 2981 L788.9 2982.2 L790.9 2983.3 L792.9 2984.5 L794.9 2985.6 L796.9 2986.8 L798.9 2987.9 L800.9 2989.1 L802.9 2990.2 L804.9 2991.4 L806.9 2992.5 L808.9 2993.6 L810.9 2994.6 L812.9 2995.7 L814.9 2996.7 L816.9 2997.7 L818.9 2998.7 L820.9 2999.6 L822.9 3000.6 L824.9 3001.5 L826.9 3002.3 L828.9 3003.1 L830.9 3003.9 L832.9 3004.7 L834.9 3005.4 L836.9 3006.2 L838.9 3006.8 L840.9 3007.5 L842.9 3008.1 L844.9 3008.7 L846.9 3009.2 L848.9 3009.8 L850.9 3010.3 L852.9 3010.7 L854.9 3011.2 L856.9 3011.6 L858.9 3012 L860.9 3012.4 L862.9 3012.8 L864.9 3013.1 L866.9 3013.4 L868.9 3013.7 L870.9 3014 L872.9 3014.3 L874.9 3014.6 L876.9 3014.8 L878.9 3015 L880.9 3015.3 L882.9 3015.5 L884.9 3015.7 L886.9 3015.9 L888.9 3016 L890.9 3016.2 L892.9 3016.4 L894.9 3016.5 L896.9 3016.7 L898.9 3016.8 L900.9 3017 L902.9 3017.1 L904.9 3017.2 L906.9 3017.3 L908.9 3017.5 L910.9 3017.6 L912.9 3017.7 L914.9 3017.8 L916.9 3017.9 L918.9 3018 L920.9 3018.1 L922.9 3018.2 L924.9 3018.3 L926.9 3018.4 L928.9 3018.5 L930.9 3018.6 L932.9 3018.7 L934.9 3018.8 L936.9 3018.9 L938.9 3019 L940.9 3019.1 L942.9 3019.1 L944.9 3019.2 L946.9 3019.3 L948.9 3019.4 L950.9 3019.5 L952.9 3019.6 L954.9 3019.7 L956.9 3019.8 L958.9 3019.8 L960.9 3019.9 L962.9 3020 L964.9 3020.1 L966.9 3020.2 L968.9 3020.3 L970.9 3020.4 L972.9 3020.4 L974.9 3020.5 L976.9 3020.6 L978.9 3020.7 L980.9 3020.8 L982.9 3020.9 L984.9 3020.9 L986.9 3021 L988.9 3021.1 L990.9 3021.2 L992.9 3021.3 L994.9 3021.4 L996.9 3021.4 L998.9 3021.5 L1000.9 3021.6 L1002.9 3021.7 L1004.9 3021.8 L1006.9 3021.9 L1008.9 3021.9 L1010.9 3022 L1012.9 3022.1 L1014.9 3022.2 L1016.9 3022.3 L1018.9 3022.3 L1020.9 3022.4 L1022.9 3022.5 L1024.9 3022.6 L1026.9 3022.7 L1028.9 3022.8 L1030.9 3022.8 L1032.9 3022.9 L1034.9 3023 L1036.9 3023.1 L1038.9 3023.2 L1040.9 3023.2 L1042.9 3023.3 L1044.9 3023.4 L1046.9 3023.5 L1048.9 3023.6 L1050.9 3023.7 L1052.9 3023.7 L1054.9 3023.8 L1056.9 3023.9 L1058.9 3024 L1060.9 3024.1 L1062.9 3024.1 L1064.9 3024.2 L1066.9 3024.3 L1068.9 3024.4 L1070.9 3024.5 L1072.9 3024.5 L1074.9 3024.6 L1076.9 3024.7 L1078.9 3024.8 L1080.9 3024.9 L1082.9 3025 L1084.9 3025 L1086.9 3025.1 L1088.9 3025.2 L1090.9 3025.3 L1092.9 3025.4 L1094.9 3025.4 L1096.9 3025.5 L1098.9 3025.6 L1100.9 3025.7 L1102.9 3025.8 L1104.9 3025.8 L1106.9 3025.9 L1108.9 3026 L1110.9 3026.1 L1112.9 3026.2 L1114.9 3026.2 L1116.9 3026.3 L1118.9 3026.4 L1120.9 3026.5 L1122.9 3026.6 L1124.9 3026.6 L1126.9 3026.7 L1128.9 3026.8 L1130.9 3026.9 L1132.9 3027 L1134.9 3027 L1136.9 3027.1 L1138.9 3027.2 L1140.9 3027.3 L1142.9 3027.4 L1144.9 3027.5 L1146.9 3027.5 L1148.9 3027.6 L1150.9 3027.7 L1152.9 3027.8 L1154.9 3027.9 L1156.9 3027.9 L1158.9 3028 L1160.9 3028.1 L1162.9 3028.2 L1164.9 3028.3 L1166.9 3028.3 L1168.9 3028.4 L1170.9 3028.5 L1172.9 3028.6 L1174.9 3028.7 L1176.9 3028.7 L1178.9 3028.8 L1180.9 3028.9 L1182.9 3029 L1184.9 3029.1 L1186.9 3029.1 L1188.9 3029.2 L1190.9 3029.3 L1192.9 3029.4 L1194.9 3029.5 L1196.9 3029.5 L1198.9 3029.6 L1200.9 3029.7 L1202.9 3029.8 L1204.9 3029.9 L1206.9 3029.9 L1208.9 3030 L1210.9 3030.1 L1212.9 3030.2 L1214.9 3030.3 L1216.9 3030.3 L1218.9 3030.4 L1220.9 3030.5 L1222.9 3030.6 L1224.9 3030.7 L1226.9 3030.7 L1228.9 3030.8 L1230.9 3030.9 L1232.9 3031 L1234.9 3031.1 L1236.9 3031.1 L1238.9 3031.2 L1240.9 3031.3 L1242.9 3031.4 L1244.9 3031.5 L1246 3031.5 L1246 3031.6 L1244.9 3031.5 L1242.9 3031.4 L1240.9 3031.4 L1238.9 3031.3 L1236.9 3031.2 L1234.9 3031.1 L1232.9 3031 L1230.9 3031 L1228.9 3030.9 L1226.9 3030.8 L1224.9 3030.7 L1222.9 3030.6 L1220.9 3030.6 L1218.9 3030.5 L1216.9 3030.4 L1214.9 3030.3 L1212.9 3030.2 L1210.9 3030.2 L1208.9 3030.1 L1206.9 3030 L1204.9 3029.9 L1202.9 3029.8 L1200.9 3029.8 L1198.9 3029.7 L1196.9 3029.6 L1194.9 3029.5 L1192.9 3029.5 L1190.9 3029.4 L1188.9 3029.3 L1186.9 3029.2 L1184.9 3029.1 L1182.9 3029.1 L1180.9 3029 L1178.9 3028.9 L1176.9 3028.8 L1174.9 3028.7 L1172.9 3028.7 L1170.9 3028.6 L1168.9 3028.5 L1166.9 3028.4 L1164.9 3028.3 L1162.9 3028.3 L1160.9 3028.2 L1158.9 3028.1 L1156.9 3028 L1154.9 3027.9 L1152.9 3027.9 L1150.9 3027.8 L1148.9 3027.7 L1146.9 3027.6 L1144.9 3027.5 L1142.9 3027.5 L1140.9 3027.4 L1138.9 3027.3 L1136.9 3027.2 L1134.9 3027.2 L1132.9 3027.1 L1130.9 3027 L1128.9 3026.9 L1126.9 3026.8 L1124.9 3026.8 L1122.9 3026.7 L1120.9 3026.6 L1118.9 3026.5 L1116.9 3026.4 L1114.9 3026.4 L1112.9 3026.3 L1110.9 3026.2 L1108.9 3026.1 L1106.9 3026 L1104.9 3026 L1102.9 3025.9 L1100.9 3025.8 L1098.9 3025.7 L1096.9 3025.6 L1094.9 3025.6 L1092.9 3025.5 L1090.9 3025.4 L1088.9 3025.3 L1086.9 3025.2 L1084.9 3025.2 L1082.9 3025.1 L1080.9 3025 L1078.9 3024.9 L1076.9 3024.9 L1074.9 3024.8 L1072.9 3024.7 L1070.9 3024.6 L1068.9 3024.5 L1066.9 3024.5 L1064.9 3024.4 L1062.9 3024.3 L1060.9 3024.2 L1058.9 3024.1 L1056.9 3024.1 L1054.9 3024 L1052.9 3023.9 L1050.9 3023.8 L1048.9 3023.7 L1046.9 3023.7 L1044.9 3023.6 L1042.9 3023.5 L1040.9 3023.4 L1038.9 3023.3 L1036.9 3023.3 L1034.9 3023.2 L1032.9 3023.1 L1030.9 3023 L1028.9 3022.9 L1026.9 3022.9 L1024.9 3022.8 L1022.9 3022.7 L1020.9 3022.6 L1018.9 3022.5 L1016.9 3022.5 L1014.9 3022.4 L1012.9 3022.3 L1010.9 3022.2 L1008.9 3022.2 L1006.9 3022.1 L1004.9 3022 L1002.9 3021.9 L1000.9 3021.8 L998.9 3021.8 L996.9 3021.7 L994.9 3021.6 L992.9 3021.5 L990.9 3021.4 L988.9 3021.4 L986.9 3021.3 L984.9 3021.2 L982.9 3021.1 L980.9 3021 L978.9 3021 L976.9 3020.9 L974.9 3020.8 L972.9 3020.7 L970.9 3020.6 L968.9 3020.6 L966.9 3020.5 L964.9 3020.4 L962.9 3020.3 L960.9 3020.2 L958.9 3020.2 L956.9 3020.1 L954.9 3020 L952.9 3019.9 L950.9 3019.9 L948.9 3019.8 L946.9 3019.7 L944.9 3019.6 L942.9 3019.5 L940.9 3019.5 L938.9 3019.4 L936.9 3019.3 L934.9 3019.2 L932.9 3019.1 L930.9 3019.1 L928.9 3019 L926.9 3018.9 L924.9 3018.8 L922.9 3018.7 L920.9 3018.7 L918.9 3018.6 L916.9 3018.5 L914.9 3018.4 L912.9 3018.3 L910.9 3018.3 L908.9 3018.2 L906.9 3018.1 L904.9 3018 L902.9 3017.9 L900.9 3017.9 L898.9 3017.8 L896.9 3017.7 L894.9 3017.6 L892.9 3017.6 L890.9 3017.5 L888.9 3017.4 L886.9 3017.3 L884.9 3017.2 L882.9 3017.2 L880.9 3017.1 L878.9 3017 L876.9 3016.9 L874.9 3016.8 L872.9 3016.8 L870.9 3016.7 L868.9 3016.6 L866.9 3016.5 L864.9 3016.4 L862.9 3016.4 L860.9 3016.3 L858.9 3016.2 L856.9 3016.1 L854.9 3016 L852.9 3016 L850.9 3015.9 L848.9 3015.8 L846.9 3015.7 L844.9 3015.6 L842.9 3015.6 L840.9 3015.5 L838.9 3015.4 L836.9 3015.3 L834.9 3015.2 L832.9 3015.2 L830.9 3015.1 L828.9 3015 L826.9 3014.9 L824.9 3014.9 L822.9 3014.8 L820.9 3014.7 L818.9 3014.6 L816.9 3014.5 L814.9 3014.5 L812.9 3014.4 L810.9 3014.3 L808.9 3014.2 L806.9 3014.1 L804.9 3014.1 L802.9 3014 L800.9 3013.9 L798.9 3013.8 L796.9 3013.7 L794.9 3013.7 L792.9 3013.6 L790.9 3013.5 L788.9 3013.4 L786.9 3013.3 L784.9 3013.3 L782.9 3013.2 L780.9 3013.1 L778.9 3013 L776.9 3012.9 L774.9 3012.9 L772.9 3012.8 L770.9 3012.7 L768.9 3012.6 L766.9 3012.6 L764.9 3012.5 L762.9 3012.4 L760.9 3012.3 L758.9 3012.2 L756.9 3012.2 L754.9 3012.1 L752.9 3012 L750.9 3011.9 L748.9 3011.8 L746.9 3011.8 L744.9 3011.7 L742.9 3011.6 L740.9 3011.5 L738.9 3011.4 L736.9 3011.4 L734.9 3011.3 L732.9 3011.2 L730.9 3011.1 L728.9 3011 L726.9 3011 L724.9 3010.9 L722.9 3010.8 L720.9 3010.7 L718.9 3010.6 L716.9 3010.6 L714.9 3010.5 L712.9 3010.4 L710.9 3010.3 L708.9 3010.3 L706.9 3010.2 L704.9 3010.1 L702.9 3010 L700.9 3009.9 L698.9 3009.9 L696.9 3009.8 L694.9 3009.7 L692.9 3009.6 L690.9 3009.5 L688.9 3009.5 L686.9 3009.4 L684.9 3009.3 L682.9 3009.2 L680.9 3009.1 L678.9 3009.1 L676.9 3009 L674.9 3008.9 L672.9 3008.8 L670.9 3008.7 L668.9 3008.7 L666.9 3008.6 L664.9 3008.5 L662.9 3008.4 L660.9 3008.3 L658.9 3008.3 L656.9 3008.2 L654.9 3008.1 L652.9 3008 L650.9 3008 L648.9 3007.9 L646.9 3007.8 L644.9 3007.7 L642.9 3007.6 L640.9 3007.6 L638.9 3007.5 L636.9 3007.4 L634.9 3007.3 L632.9 3007.2 L630.9 3007.2 L628.9 3007.1 L626.9 3007 L624.9 3006.9 L622.9 3006.8 L620.9 3006.8 L618.9 3006.7 L616.9 3006.6 L614.9 3006.5 L612.9 3006.4 L610.9 3006.4 L608.9 3006.3 L606.9 3006.2 L604.9 3006.1 L602.9 3006 L600.9 3006 L598.9 3005.9 L596.9 3005.8 L594.9 3005.7 L592.9 3005.6 L590.9 3005.6 L588.9 3005.5 L586.9 3005.4 L584.9 3005.3 L582.9 3005.3 L580.9 3005.2 L578.9 3005.1 L576.9 3005 L574.9 3004.9 L572.9 3004.9 L570.9 3004.8 L568.9 3004.7 L566.9 3004.6 L564.9 3004.5 L562.9 3004.5 L560.9 3004.4 L558.9 3004.3 L556.9 3004.2 L554.9 3004.1 L552.9 3004.1 L550.9 3004 L548.9 3003.9 L546.9 3003.8 L544.9 3003.7 L542.9 3003.7 L540.9 3003.6 L538.9 3003.5 L536.9 3003.4 L534.9 3003.3 L532.9 3003.3 L530.9 3003.2 L528.9 3003.1 L526.9 3003 L524.9 3003 L522.9 3002.9 L520.9 3002.8 L518.9 3002.7 L516.9 3002.6 L514.9 3002.6 L512.9 3002.5 L510.9 3002.4 L508.9 3002.3 L506.9 3002.2 L504.9 3002.2 L502.9 3002.1 L500.9 3002 L498.9 3001.9 L496.9 3001.8 L494.9 3001.8 L492.9 3001.7 L490.9 3001.6 L488.9 3001.5 L486.9 3001.4 L484.9 3001.4 L482.9 3001.3 L480.9 3001.2 L478.9 3001.1 L476.9 3001 L474.9 3001 L472.9 3000.9 L470.9 3000.8 L468.9 3000.7 L466.9 3000.7 L464.9 3000.6 L462.9 3000.5 L460.9 3000.4 L458.9 3000.3 L456.9 3000.3 L454.9 3000.2 L452.9 3000.1 L450.9 3000 L448.9 2999.9 L446.9 2999.9 L444.9 2999.8 L442.9 2999.7 L440.9 2999.6 L438.9 2999.5 L436.9 2999.5 L434.9 2999.4 L432.9 2999.3 L430.9 2999.2 L428.9 2999.1 L426.9 2999.1 L424.9 2999 L422.9 2998.9 L420.9 2998.8 L418.9 2998.7 L416.9 2998.7 L414.9 2998.6 L412.9 2998.5 L410.9 2998.4 L408.9 2998.4 L406.9 2998.3 L404.9 2998.2 L402.9 2998.1 L400.9 2998 L398.9 2998 L396.9 2997.9 L394.9 2997.8 L392.9 2997.7 L390.9 2997.6 L388.9 2997.6 L386.9 2997.5 L384.9 2997.4 L382.9 2997.3 L380.9 2997.2 L378.9 2997.2 L376.9 2997.1 L374.9 2997 L372.9 2996.9 L370.9 2996.8 L368.9 2996.8 L366.9 2996.7 L364.9 2996.6 L362.9 2996.5 L360.9 2996.4 L358.9 2996.4 L356.9 2996.3 L354.9 2996.2 L352.9 2996.1 L350.9 2996 L348.9 2996 L346.9 2995.9 L344.9 2995.8 L342.9 2995.7 L340.9 2995.7 L338.9 2995.6 L336.9 2995.5 L334.9 2995.4 L332.9 2995.3 L330.9 2995.3 L328.9 2995.2 L326.9 2995.1 L324.9 2995 L322.9 2994.9 L320.9 2994.9 L318.9 2994.8 L316.9 2994.7 L314.9 2994.6 L312.9 2994.5 L310.9 2994.5 L308.9 2994.4 L306.9 2994.3 L304.9 2994.2 L302.9 2994.1 L300.9 2994.1 L298.9 2994 L296.9 2993.9 L294.9 2993.8 L292.9 2993.7 L290.9 2993.7 L288.9 2993.6 L286.9 2993.5 L284.9 2993.4 L282.9 2993.4 L280.9 2993.3 L278.9 2993.2 L276.9 2993.1 L274.9 2993 L272.9 2993 L270.9 2992.9 L268.9 2992.8 L266.9 2992.7 L264.9 2992.6 L262.9 2992.6 L260.9 2992.5 L258.9 2992.4 L256.9 2992.3 L254.9 2992.2 L252.9 2992.2 L250.9 2992.1 L248.9 2992 L246.9 2991.9 L244.9 2991.8 L242.9 2991.8 L240.9 2991.7 L238.9 2991.6 L236.9 2991.5 L234.9 2991.4 L232.9 2991.4 L230.9 2991.3 L228.9 2991.2 L226.9 2991.1 L224.9 2991.1 L222.9 2991 L220.9 2990.9 L218.9 2990.8 L216.9 2990.7 L214.9 2990.7 L212.9 2990.6 L210.9 2990.5 L208.9 2990.4 L206.9 2990.3 L204.9 2990.3 L202.9 2990.2 L200.9 2990.1 L198.9 2990 L196.9 2989.9 L194.9 2989.9 L192.9 2989.8 L190.9 2989.7 L188.9 2989.6 L186.9 2989.5 L184.9 2989.5 L182.9 2989.4 L180.9 2989.3 L178.9 2989.2 L176.9 2989.1 L174.9 2989.1 L172.9 2989 L170.9 2988.9 L168.9 2988.8 L166.9 2988.7 L164.9 2988.7 L162.9 2988.6 L160.9 2988.5 L158.9 2988.4 L156.9 2988.4 L154.9 2988.3 L152.9 2988.2 L150.9 2988.1 L148.9 2988 L146.9 2988 L144.9 2987.9 L142.9 2987.8 L140.9 2987.7 L138.9 2987.6 L136.9 2987.6 L134.9 2987.5 L132.9 2987.4Z" fill="#800000"/>
<path d="M132.9 2986.4 L134.9 2986.4 L136.9 2986.3 L138.9 2986.3 L140.9 2986.3 L142.9 2986.2 L144.9 2986.1 L146.9 2986 L148.9 2985.9 L150.9 2985.8 L152.9 2985.7 L154.9 2985.6 L156.9 2985.4 L158.9 2985.2 L160.9 2985 L162.9 2984.8 L164.9 2984.5 L166.9 2984.3 L168.9 2984 L170.9 2983.7 L172.9 2983.4 L174.9 2983 L176.9 2982.7 L178.9 2982.3 L180.9 2981.9 L182.9 2981.5 L184.9 2981 L186.9 2980.6 L188.9 2980.1 L190.9 2979.6 L192.9 2979.1 L194.9 2978.6 L196.9 2978.1 L198.9 2977.5 L200.9 2977 L202.9 2976.5 L204.9 2975.9 L206.9 2975.4 L208.9 2974.9 L210.9 2974.4 L212.9 2973.8 L214.9 2973.4 L216.9 2972.9 L218.9 2972.4 L220.9 2972 L222.9 2971.6 L224.9 2971.2 L226.9 2970.9 L228.9 2970.6 L230.9 2970.3 L232.9 2970.1 L234.9 2970 L236.9 2969.8 L238.9 2969.8 L240.9 2969.7 L242.9 2969.8 L244.9 2969.8 L246.9 2970 L248.9 2970.2 L250.9 2970.4 L252.9 2970.7 L254.9 2971 L256.9 2971.4 L258.9 2971.8 L260.9 2972.2 L262.9 2972.7 L264.9 2973.2 L266.9 2973.8 L268.9 2974.4 L270.9 2975 L272.9 2975.6 L274.9 2976.2 L276.9 2976.9 L278.9 2977.6 L280.9 2978.3 L282.9 2979 L284.9 2979.7 L286.9 2980.4 L288.9 2981 L290.9 2981.7 L292.9 2982.4 L294.9 2983.1 L296.9 2983.8 L298.9 2984.4 L300.9 2985 L302.9 2985.7 L304.9 2986.3 L306.9 2986.8 L308.9 2987.4 L310.9 2987.9 L312.9 2988.5 L314.9 2989 L316.9 2989.5 L318.9 2989.9 L320.9 2990.4 L322.9 2990.8 L324.9 2991.2 L326.9 2991.6 L328.9 2991.9 L330.9 2992.3 L332.9 2992.6 L334.9 2992.9 L336.9 2993.2 L338.9 2993.5 L340.9 2993.7 L342.9 2994 L344.9 2994.2 L346.9 2994.4 L348.9 2994.6 L350.9 2994.8 L352.9 2995 L354.9 2995.2 L356.9 2995.3 L358.9 2995.5 L360.9 2995.7 L362.9 2995.8 L364.9 2995.9 L366.9 2996.1 L368.9 2996.2 L370.9 2996.3 L372.9 2996.4 L374.9 2996.5 L376.9 2996.7 L378.9 2996.8 L380.9 2996.9 L382.9 2997 L384.9 2997.1 L386.9 2997.2 L388.9 2997.3 L390.9 2997.4 L392.9 2997.5 L394.9 2997.5 L396.9 2997.6 L398.9 2997.7 L400.9 2997.8 L402.9 2997.9 L404.9 2998 L406.9 2998.1 L408.9 2998.2 L410.9 2998.2 L412.9 2998.3 L414.9 2998.4 L416.9 2998.5 L418.9 2998.6 L420.9 2998.7 L422.9 2998.7 L424.9 2998.8 L426.9 2998.9 L428.9 2999 L430.9 2999.1 L432.9 2999.2 L434.9 2999.2 L436.9 2999.3 L438.9 2999.4 L440.9 2999.5 L442.9 2999.6 L444.9 2999.6 L446.9 2999.7 L448.9 2999.8 L450.9 2999.9 L452.9 3000 L454.9 3000.1 L456.9 3000.1 L458.9 3000.2 L460.9 3000.3 L462.9 3000.4 L464.9 3000.5 L466.9 3000.5 L468.9 3000.6 L470.9 3000.7 L472.9 3000.8 L474.9 3000.9 L476.9 3001 L478.9 3001 L480.9 3001.1 L482.9 3001.2 L484.9 3001.3 L486.9 3001.4 L488.9 3001.4 L490.9 3001.5 L492.9 3001.6 L494.9 3001.7 L496.9 3001.8 L498.9 3001.8 L500.9 3001.9 L502.9 3002 L504.9 3002.1 L506.9 3002.2 L508.9 3002.2 L510.9 3002.3 L512.9 3002.4 L514.9 3002.5 L516.9 3002.6 L518.9 3002.6 L520.9 3002.7 L522.9 3002.8 L524.9 3002.9 L526.9 3003 L528.9 3003 L530.9 3003.1 L532.9 3003.2 L534.9 3003.3 L536.9 3003.4 L538.9 3003.4 L540.9 3003.5 L542.9 3003.6 L544.9 3003.7 L546.9 3003.8 L548.9 3003.8 L550.9 3003.9 L552.9 3004 L554.9 3004.1 L556.9 3004.2 L558.9 3004.2 L560.9 3004.3 L562.9 3004.4 L564.9 3004.5 L566.9 3004.6 L568.9 3004.6 L570.9 3004.7 L572.9 3004.8 L574.9 3004.9 L576.9 3005 L578.9 3005 L580.9 3005.1 L582.9 3005.2 L584.9 3005.3 L586.9 3005.4 L588.9 3005.4 L590.9 3005.5 L592.9 3005.6 L594.9 3005.7 L596.9 3005.8 L598.9 3005.8 L600.9 3005.9 L602.9 3006 L604.9 3006.1 L606.9 3006.2 L608.9 3006.2 L610.9 3006.3 L612.9 3006.4 L614.9 3006.5 L616.9 3006.6 L618.9 3006.6 L620.9 3006.7 L622.9 3006.8 L624.9 3006.9 L626.9 3007 L628.9 3007 L630.9 3007.1 L632.9 3007.2 L634.9 3007.3 L636.9 3007.4 L638.9 3007.4 L640.9 3007.5 L642.9 3007.6 L644.9 3007.7 L646.9 3007.8 L648.9 3007.8 L650.9 3007.9 L652.9 3008 L654.9 3008.1 L656.9 3008.2 L658.9 3008.2 L660.9 3008.3 L662.9 3008.4 L664.9 3008.5 L666.9 3008.6 L668.9 3008.6 L670.9 3008.7 L672.9 3008.8 L674.9 3008.9 L676.9 3009 L678.9 3009 L680.9 3009.1 L682.9 3009.2 L684.9 3009.3 L686.9 3009.4 L688.9 3009.4 L690.9 3009.5 L692.9 3009.6 L694.9 3009.7 L696.9 3009.7 L698.9 3009.8 L700.9 3009.9 L702.9 3010 L704.9 3010.1 L706.9 3010.1 L708.9 3010.2 L710.9 3010.3 L712.9 3010.4 L714.9 3010.5 L716.9 3010.5 L718.9 3010.6 L720.9 3010.7 L722.9 3010.8 L724.9 3010.9 L726.9 3010.9 L728.9 3011 L730.9 3011.1 L732.9 3011.2 L734.9 3011.3 L736.9 3011.3 L738.9 3011.4 L740.9 3011.5 L742.9 3011.6 L744.9 3011.7 L746.9 3011.7 L748.9 3011.8 L750.9 3011.9 L752.9 3012 L754.9 3012.1 L756.9 3012.1 L758.9 3012.2 L760.9 3012.3 L762.9 3012.4 L764.9 3012.5 L766.9 3012.5 L768.9 3012.6 L770.9 3012.7 L772.9 3012.8 L774.9 3012.9 L776.9 3012.9 L778.9 3013 L780.9 3013.1 L782.9 3013.2 L784.9 3013.2 L786.9 3013.3 L788.9 3013.4 L790.9 3013.5 L792.9 3013.6 L794.9 3013.6 L796.9 3013.7 L798.9 3013.8 L800.9 3013.9 L802.9 3014 L804.9 3014 L806.9 3014.1 L808.9 3014.2 L810.9 3014.3 L812.9 3014.4 L814.9 3014.4 L816.9 3014.5 L818.9 3014.6 L820.9 3014.7 L822.9 3014.8 L824.9 3014.8 L826.9 3014.9 L828.9 3015 L830.9 3015.1 L832.9 3015.2 L834.9 3015.2 L836.9 3015.3 L838.9 3015.4 L840.9 3015.5 L842.9 3015.6 L844.9 3015.6 L846.9 3015.7 L848.9 3015.8 L850.9 3015.9 L852.9 3015.9 L854.9 3016 L856.9 3016.1 L858.9 3016.2 L860.9 3016.3 L862.9 3016.3 L864.9 3016.4 L866.9 3016.5 L868.9 3016.6 L870.9 3016.7 L872.9 3016.7 L874.9 3016.8 L876.9 3016.9 L878.9 3017 L880.9 3017.1 L882.9 3017.1 L884.9 3017.2 L886.9 3017.3 L888.9 3017.4 L890.9 3017.5 L892.9 3017.5 L894.9 3017.6 L896.9 3017.7 L898.9 3017.8 L900.9 3017.9 L902.9 3017.9 L904.9 3018 L906.9 3018.1 L908.9 3018.2 L910.9 3018.3 L912.9 3018.3 L914.9 3018.4 L916.9 3018.5 L918.9 3018.6 L920.9 3018.6 L922.9 3018.7 L924.9 3018.8 L926.9 3018.9 L928.9 3019 L930.9 3019 L932.9 3019.1 L934.9 3019.2 L936.9 3019.3 L938.9 3019.4 L940.9 3019.4 L942.9 3019.5 L944.9 3019.6 L946.9 3019.7 L948.9 3019.8 L950.9 3019.8 L952.9 3019.9 L954.9 3020 L956.9 3020.1 L958.9 3020.2 L960.9 3020.2 L962.9 3020.3 L964.9 3020.4 L966.9 3020.5 L968.9 3020.6 L970.9 3020.6 L972.9 3020.7 L974.9 3020.8 L976.9 3020.9 L978.9 3021 L980.9 3021 L982.9 3021.1 L984.9 3021.2 L986.9 3021.3 L988.9 3021.3 L990.9 3021.4 L992.9 3021.5 L994.9 3021.6 L996.9 3021.7 L998.9 3021.7 L1000.9 3021.8 L1002.9 3021.9 L1004.9 3022 L1006.9 3022.1 L1008.9 3022.1 L1010.9 3022.2 L1012.9 3022.3 L1014.9 3022.4 L1016.9 3022.5 L1018.9 3022.5 L1020.9 3022.6 L1022.9 3022.7 L1024.9 3022.8 L1026.9 3022.9 L1028.9 3022.9 L1030.9 3023 L1032.9 3023.1 L1034.9 3023.2 L1036.9 3023.3 L1038.9 3023.3 L1040.9 3023.4 L1042.9 3023.5 L1044.9 3023.6 L1046.9 3023.7 L1048.9 3023.7 L1050.9 3023.8 L1052.9 3023.9 L1054.9 3024 L1056.9 3024 L1058.9 3024.1 L1060.9 3024.2 L1062.9 3024.3 L1064.9 3024.4 L1066.9 3024.4 L1068.9 3024.5 L1070.9 3024.6 L1072.9 3024.7 L1074.9 3024.8 L1076.9 3024.8 L1078.9 3024.9 L1080.9 3025 L1082.9 3025.1 L1084.9 3025.2 L1086.9 3025.2 L1088.9 3025.3 L1090.9 3025.4 L1092.9 3025.5 L1094.9 3025.6 L1096.9 3025.6 L1098.9 3025.7 L1100.9 3025.8 L1102.9 3025.9 L1104.9 3026 L1106.9 3026 L1108.9 3026.1 L1110.9 3026.2 L1112.9 3026.3 L1114.9 3026.4 L1116.9 3026.4 L1118.9 3026.5 L1120.9 3026.6 L1122.9 3026.7 L1124.9 3026.7 L1126.9 3026.8 L1128.9 3026.9 L1130.9 3027 L1132.9 3027.1 L1134.9 3027.1 L1136.9 3027.2 L1138.9 3027.3 L1140.9 3027.4 L1142.9 3027.5 L1144.9 3027.5 L1146.9 3027.6 L1148.9 3027.7 L1150.9 3027.8 L1152.9 3027.9 L1154.9 3027.9 L1156.9 3028 L1158.9 3028.1 L1160.9 3028.2 L1162.9 3028.3 L1164.9 3028.3 L1166.9 3028.4 L1168.9 3028.5 L1170.9 3028.6 L1172.9 3028.7 L1174.9 3028.7 L1176.9 3028.8 L1178.9 3028.9 L1180.9 3029 L1182.9 3029 L1184.9 3029.1 L1186.9 3029.2 L1188.9 3029.3 L1190.9 3029.4 L1192.9 3029.4 L1194.9 3029.5 L1196.9 3029.6 L1198.9 3029.7 L1200.9 3029.8 L1202.9 3029.8 L1204.9 3029.9 L1206.9 3030 L1208.9 3030.1 L1210.9 3030.2 L1212.9 3030.2 L1214.9 3030.3 L1216.9 3030.4 L1218.9 3030.5 L1220.9 3030.6 L1222.9 3030.6 L1224.9 3030.7 L1226.9 3030.8 L1228.9 3030.9 L1230.9 3031 L1232.9 3031 L1234.9 3031.1 L1236.9 3031.2 L1238.9 3031.3 L1240.9 3031.4 L1242.9 3031.4 L1244.9 3031.5 L1246 3031.6 L1246 3031.6 L1244.9 3031.5 L1242.9 3031.4 L1240.9 3031.4 L1238.9 3031.3 L1236.9 3031.2 L1234.9 3031.1 L1232.9 3031 L1230.9 3031 L1228.9 3030.9 L1226.9 3030.8 L1224.9 3030.7 L1222.9 3030.6 L1220.9 3030.6 L1218.9 3030.5 L1216.9 3030.4 L1214.9 3030.3 L1212.9 3030.2 L1210.9 3030.2 L1208.9 3030.1 L1206.9 3030 L1204.9 3029.9 L1202.9 3029.8 L1200.9 3029.8 L1198.9 3029.7 L1196.9 3029.6 L1194.9 3029.5 L1192.9 3029.5 L1190.9 3029.4 L1188.9 3029.3 L1186.9 3029.2 L1184.9 3029.1 L1182.9 3029.1 L1180.9 3029 L1178.9 3028.9 L1176.9 3028.8 L1174.9 3028.7 L1172.9 3028.7 L1170.9 3028.6 L1168.9 3028.5 L1166.9 3028.4 L1164.9 3028.3 L1162.9 3028.3 L1160.9 3028.2 L1158.9 3028.1 L1156.9 3028 L1154.9 3027.9 L1152.9 3027.9 L1150.9 3027.8 L1148.9 3027.7 L1146.9 3027.6 L1144.9 3027.5 L1142.9 3027.5 L1140.9 3027.4 L1138.9 3027.3 L1136.9 3027.2 L1134.9 3027.2 L1132.9 3027.1 L1130.9 3027 L1128.9 3026.9 L1126.9 3026.8 L1124.9 3026.8 L1122.9 3026.7 L1120.9 3026.6 L1118.9 3026.5 L1116.9 3026.4 L1114.9 3026.4 L1112.9 3026.3 L1110.9 3026.2 L1108.9 3026.1 L1106.9 3026 L1104.9 3026 L1102.9 3025.9 L1100.9 3025.8 L1098.9 3025.7 L1096.9 3025.6 L1094.9 3025.6 L1092.9 3025.5 L1090.9 3025.4 L1088.9 3025.3 L1086.9 3025.2 L1084.9 3025.2 L1082.9 3025.1 L1080.9 3025 L1078.9 3024.9 L1076.9 3024.9 L1074.9 3024.8 L1072.9 3024.7 L1070.9 3024.6 L1068.9 3024.5 L1066.9 3024.5 L1064.9 3024.4 L1062.9 3024.3 L1060.9 3024.2 L1058.9 3024.1 L1056.9 3024.1 L1054.9 3024 L1052.9 3023.9 L1050.9 3023.8 L1048.9 3023.7 L1046.9 3023.7 L1044.9 3023.6 L1042.9 3023.5 L1040.9 3023.4 L1038.9 3023.3 L1036.9 3023.3 L1034.9 3023.2 L1032.9 3023.1 L1030.9 3023 L1028.9 3022.9 L1026.9 3022.9 L1024.9 3022.8 L1022.9 3022.7 L1020.9 3022.6 L1018.9 3022.5 L1016.9 3022.5 L1014.9 3022.4 L1012.9 3022.3 L1010.9 3022.2 L1008.9 3022.2 L1006.9 3022.1 L1004.9 3022 L1002.9 3021.9 L1000.9 3021.8 L998.9 3021.8 L996.9 3021.7 L994.9 3021.6 L992.9 3021.5 L990.9 3021.4 L988.9 3021.4 L986.9 3021.3 L984.9 3021.2 L982.9 3021.1 L980.9 3021 L978.9 3021 L976.9 3020.9 L974.9 3020.8 L972.9 3020.7 L970.9 3020.6 L968.9 3020.6 L966.9 3020.5 L964.9 3020.4 L962.9 3020.3 L960.9 3020.2 L958.9 3020.2 L956.9 3020.1 L954.9 3020 L952.9 3019.9 L950.9 3019.9 L948.9 3019.8 L946.9 3019.7 L944.9 3019.6 L942.9 3019.5 L940.9 3019.5 L938.9 3019.4 L936.9 3019.3 L934.9 3019.2 L932.9 3019.1 L930.9 3019.1 L928.9 3019 L926.9 3018.9 L924.9 3018.8 L922.9 3018.7 L920.9 3018.7 L918.9 3018.6 L916.9 3018.5 L914.9 3018.4 L912.9 3018.3 L910.9 3018.3 L908.9 3018.2 L906.9 3018.1 L904.9 3018 L902.9 3017.9 L900.9 3017.9 L898.9 3017.8 L896.9 3017.7 L894.9 3017.6 L892.9 3017.6 L890.9 3017.5 L888.9 3017.4 L886.9 3017.3 L884.9 3017.2 L882.9 3017.2 L880.9 3017.1 L878.9 3017 L876.9 3016.9 L874.9 3016.8 L872.9 3016.8 L870.9 3016.7 L868.9 3016.6 L866.9 3016.5 L864.9 3016.4 L862.9 3016.4 L860.9 3016.3 L858.9 3016.2 L856.9 3016.1 L854.9 3016 L852.9 3016 L850.9 3015.9 L848.9 3015.8 L846.9 3015.7 L844.9 3015.6 L842.9 3015.6 L840.9 3015.5 L838.9 3015.4 L836.9 3015.3 L834.9 3015.2 L832.9 3015.2 L830.9 3015.1 L828.9 3015 L826.9 3014.9 L824.9 3014.9 L822.9 3014.8 L820.9 3014.7 L818.9 3014.6 L816.9 3014.5 L814.9 3014.5 L812.9 3014.4 L810.9 3014.3 L808.9 3014.2 L806.9 3014.1 L804.9 3014.1 L802.9 3014 L800.9 3013.9 L798.9 3013.8 L796.9 3013.7 L794.9 3013.7 L792.9 3013.6 L790.9 3013.5 L788.9 3013.4 L786.9 3013.3 L784.9 3013.3 L782.9 3013.2 L780.9 3013.1 L778.9 3013 L776.9 3012.9 L774.9 3012.9 L772.9 3012.8 L770.9 3012.7 L768.9 3012.6 L766.9 3012.6 L764.9 3012.5 L762.9 3012.4 L760.9 3012.3 L758.9 3012.2 L756.9 3012.2 L754.9 3012.1 L752.9 3012 L750.9 3011.9 L748.9 3011.8 L746.9 3011.8 L744.9 3011.7 L742.9 3011.6 L740.9 3011.5 L738.9 3011.4 L736.9 3011.4 L734.9 3011.3 L732.9 3011.2 L730.9 3011.1 L728.9 3011 L726.9 3011 L724.9 3010.9 L722.9 3010.8 L720.9 3010.7 L718.9 3010.6 L716.9 3010.6 L714.9 3010.5 L712.9 3010.4 L710.9 3010.3 L708.9 3010.3 L706.9 3010.2 L704.9 3010.1 L702.9 3010 L700.9 3009.9 L698.9 3009.9 L696.9 3009.8 L694.9 3009.7 L692.9 3009.6 L690.9 3009.5 L688.9 3009.5 L686.9 3009.4 L684.9 3009.3 L682.9 3009.2 L680.9 3009.1 L678.9 3009.1 L676.9 3009 L674.9 3008.9 L672.9 3008.8 L670.9 3008.7 L668.9 3008.7 L666.9 3008.6 L664.9 3008.5 L662.9 3008.4 L660.9 3008.3 L658.9 3008.3 L656.9 3008.2 L654.9 3008.1 L652.9 3008 L650.9 3008 L648.9 3007.9 L646.9 3007.8 L644.9 3007.7 L642.9 3007.6 L640.9 3007.6 L638.9 3007.5 L636.9 3007.4 L634.9 3007.3 L632.9 3007.2 L630.9 3007.2 L628.9 3007.1 L626.9 3007 L624.9 3006.9 L622.9 3006.8 L620.9 3006.8 L618.9 3006.7 L616.9 3006.6 L614.9 3006.5 L612.9 3006.4 L610.9 3006.4 L608.9 3006.3 L606.9 3006.2 L604.9 3006.1 L602.9 3006 L600.9 3006 L598.9 3005.9 L596.9 3005.8 L594.9 3005.7 L592.9 3005.6 L590.9 3005.6 L588.9 3005.5 L586.9 3005.4 L584.9 3005.3 L582.9 3005.3 L580.9 3005.2 L578.9 3005.1 L576.9 3005 L574.9 3004.9 L572.9 3004.9 L570.9 3004.8 L568.9 3004.7 L566.9 3004.6 L564.9 3004.5 L562.9 3004.5 L560.9 3004.4 L558.9 3004.3 L556.9 3004.2 L554.9 3004.1 L552.9 3004.1 L550.9 3004 L548.9 3003.9 L546.9 3003.8 L544.9 3003.7 L542.9 3003.7 L540.9 3003.6 L538.9 3003.5 L536.9 3003.4 L534.9 3003.3 L532.9 3003.3 L530.9 3003.2 L528.9 3003.1 L526.9 3003 L524.9 3003 L522.9 3002.9 L520.9 3002.8 L518.9 3002.7 L516.9 3002.6 L514.9 3002.6 L512.9 3002.5 L510.9 3002.4 L508.9 3002.3 L506.9 3002.2 L504.9 3002.2 L502.9 3002.1 L500.9 3002 L498.9 3001.9 L496.9 3001.8 L494.9 3001.8 L492.9 3001.7 L490.9 3001.6 L488.9 3001.5 L486.9 3001.4 L484.9 3001.4 L482.9 3001.3 L480.9 3001.2 L478.9 3001.1 L476.9 3001 L474.9 3001 L472.9 3000.9 L470.9 3000.8 L468.9 3000.7 L466.9 3000.7 L464.9 3000.6 L462.9 3000.5 L460.9 3000.4 L458.9 3000.3 L456.9 3000.3 L454.9 3000.2 L452.9 3000.1 L450.9 3000 L448.9 2999.9 L446.9 2999.9 L444.9 2999.8 L442.9 2999.7 L440.9 2999.6 L438.9 2999.5 L436.9 2999.5 L434.9 2999.4 L432.9 2999.3 L430.9 2999.2 L428.9 2999.1 L426.9 2999.1 L424.9 2999 L422.9 2998.9 L420.9 2998.8 L418.9 2998.7 L416.9 2998.7 L414.9 2998.6 L412.9 2998.5 L410.9 2998.4 L408.9 2998.4 L406.9 2998.3 L404.9 2998.2 L402.9 2998.1 L400.9 2998 L398.9 2998 L396.9 2997.9 L394.9 2997.8 L392.9 2997.7 L390.9 2997.6 L388.9 2997.6 L386.9 2997.5 L384.9 2997.4 L382.9 2997.3 L380.9 2997.2 L378.9 2997.2 L376.9 2997.1 L374.9 2997 L372.9 2996.9 L370.9 2996.8 L368.9 2996.8 L366.9 2996.7 L364.9 2996.6 L362.9 2996.5 L360.9 2996.4 L358.9 2996.4 L356.9 2996.3 L354.9 2996.2 L352.9 2996.1 L350.9 2996 L348.9 2996 L346.9 2995.9 L344.9 2995.8 L342.9 2995.7 L340.9 2995.7 L338.9 2995.6 L336.9 2995.5 L334.9 2995.4 L332.9 2995.3 L330.9 2995.3 L328.9 2995.2 L326.9 2995.1 L324.9 2995 L322.9 2994.9 L320.9 2994.9 L318.9 2994.8 L316.9 2994.7 L314.9 2994.6 L312.9 2994.5 L310.9 2994.5 L308.9 2994.4 L306.9 2994.3 L304.9 2994.2 L302.9 2994.1 L300.9 2994.1 L298.9 2994 L296.9 2993.9 L294.9 2993.8 L292.9 2993.7 L290.9 2993.7 L288.9 2993.6 L286.9 2993.5 L284.9 2993.4 L282.9 2993.4 L280.9 2993.3 L278.9 2993.2 L276.9 2993.1 L274.9 2993 L272.9 2993 L270.9 2992.9 L268.9 2992.8 L266.9 2992.7 L264.9 2992.6 L262.9 2992.6 L260.9 2992.5 L258.9 2992.4 L256.9 2992.3 L254.9 2992.2 L252.9 2992.2 L250.9 2992.1 L248.9 2992 L246.9 2991.9 L244.9 2991.8 L242.9 2991.8 L240.9 2991.7 L238.9 2991.6 L236.9 2991.5 L234.9 2991.4 L232.9 2991.4 L230.9 2991.3 L228.9 2991.2 L226.9 2991.1 L224.9 2991.1 L222.9 2991 L220.9 2990.9 L218.9 2990.8 L216.9 2990.7 L214.9 2990.7 L212.9 2990.6 L210.9 2990.5 L208.9 2990.4 L206.9 2990.3 L204.9 2990.3 L202.9 2990.2 L200.9 2990.1 L198.9 2990 L196.9 2989.9 L194.9 2989.9 L192.9 2989.8 L190.9 2989.7 L188.9 2989.6 L186.9 2989.5 L184.9 2989.5 L182.9 2989.4 L180.9 2989.3 L178.9 2989.2 L176.9 2989.1 L174.9 2989.1 L172.9 2989 L170.9 2988.9 L168.9 2988.8 L166.9 2988.7 L164.9 2988.7 L162.9 2988.6 L160.9 2988.5 L158.9 2988.4 L156.9 2988.4 L154.9 2988.3 L152.9 2988.2 L150.9 2988.1 L148.9 2988 L146.9 2988 L144.9 2987.9 L142.9 2987.8 L140.9 2987.7 L138.9 2987.6 L136.9 2987.6 L134.9 2987.5 L132.9 2987.4Z" fill="#00CDD7"/>
<path d="M132.9 2986.4 L134.9 2986.4 L136.9 2986.3 L138.9 2986.3 L140.9 2986.3 L142.9 2986.2 L144.9 2986.1 L146.9 2986 L148.9 2985.9 L150.9 2985.8 L152.9 2985.7 L154.9 2985.6 L156.9 2985.4 L158.9 2985.2 L160.9 2985 L162.9 2984.8 L164.9 2984.5 L166.9 2984.3 L168.9 2984 L170.9 2983.7 L172.9 2983.4 L174.9 2983 L176.9 2982.7 L178.9 2982.3 L180.9 2981.9 L182.9 2981.5 L184.9 2981 L186.9 2980.6 L188.9 2980.1 L190.9 2979.6 L192.9 2979.1 L194.9 2978.6 L196.9 2978.1 L198.9 2977.5 L200.9 2977 L202.9 2976.5 L204.9 2975.9 L206.9 2975.4 L208.9 2974.9 L210.9 2974.4 L212.9 2973.8 L214.9 2973.4 L216.9 2972.9 L218.9 2972.4 L220.9 2972 L222.9 2971.6 L224.9 2971.2 L226.9 2970.9 L228.9 2970.6 L230.9 2970.3 L232.9 2970.1 L234.9 2970 L236.9 2969.8 L238.9 2969.8 L240.9 2969.7 L242.9 2969.8 L244.9 2969.8 L246.9 2970 L248.9 2970.2 L250.9 2970.4 L252.9 2970.7 L254.9 2971 L256.9 2971.4 L258.9 2971.8 L260.9 2972.2 L262.9 2972.7 L264.9 2973.2 L266.9 2973.8 L268.9 2974.4 L270.9 2975 L272.9 2975.6 L274.9 2976.2 L276.9 2976.9 L278.9 2977.6 L280.9 2978.3 L282.9 2979 L284.9 2979.7 L286.9 2980.4 L288.9 2981 L290.9 2981.7 L292.9 2982.4 L294.9 2983.1 L296.9 2983.8 L298.9 2984.4 L300.9 2985 L302.9 2985.7 L304.9 2986.3 L306.9 2986.8 L308.9 2987.4 L310.9 2987.9 L312.9 2988.5 L314.9 2989 L316.9 2989.5 L318.9 2989.9 L320.9 2990.4 L322.9 2990.8 L324.9 2991.2 L326.9 2991.6 L328.9 2991.9 L330.9 2992.3 L332.9 2992.6 L334.9 2992.9 L336.9 2993.2 L338.9 2993.5 L340.9 2993.7 L342.9 2994 L344.9 2994.2 L346.9 2994.4 L348.9 2994.6 L350.9 2994.8 L352.9 2995 L354.9 2995.2 L356.9 2995.3 L358.9 2995.5 L360.9 2995.7 L362.9 2995.8 L364.9 2995.9 L366.9 2996.1 L368.9 2996.2 L370.9 2996.3 L372.9 2996.4 L374.9 2996.5 L376.9 2996.7 L378.9 2996.8 L380.9 2996.9 L382.9 2997 L384.9 2997.1 L386.9 2997.2 L388.9 2997.3 L390.9 2997.4 L392.9 2997.5 L394.9 2997.5 L396.9 2997.6 L398.9 2997.7 L400.9 2997.8 L402.9 2997.9 L404.9 2998 L406.9 2998.1 L408.9 2998.2 L410.9 2998.2 L412.9 2998.3 L414.9 2998.4 L416.9 2998.5 L418.9 2998.6 L420.9 2998.7 L422.9 2998.7 L424.9 2998.8 L426.9 2998.9 L428.9 2999 L430.9 2999.1 L432.9 2999.2 L434.9 2999.2 L436.9 2999.3 L438.9 2999.4 L440.9 2999.5 L442.9 2999.6 L444.9 2999.6 L446.9 2999.7 L448.9 2999.8 L450.9 2999.9 L452.9 3000 L454.9 3000.1 L456.9 3000.1 L458.9 3000.2 L460.9 3000.3 L462.9 3000.4 L464.9 3000.5 L466.9 3000.5 L468.9 3000.6 L470.9 3000.7 L472.9 3000.8 L474.9 3000.9 L476.9 3001 L478.9 3001 L480.9 3001.1 L482.9 3001.2 L484.9 3001.3 L486.9 3001.4 L488.9 3001.4 L490.9 3001.5 L492.9 3001.6 L494.9 3001.7 L496.9 3001.8 L498.9 3001.8 L500.9 3001.9 L502.9 3002 L504.9 3002.1 L506.9 3002.2 L508.9 3002.2 L510.9 3002.3 L512.9 3002.4 L514.9 3002.5 L516.9 3002.6 L518.9 3002.6 L520.9 3002.7 L522.9 3002.8 L524.9 3002.9 L526.9 3003 L528.9 3003 L530.9 3003.1 L532.9 3003.2 L534.9 3003.3 L536.9 3003.4 L538.9 3003.4 L540.9 3003.5 L542.9 3003.6 L544.9 3003.7 L546.9 3003.8 L548.9 3003.8 L550.9 3003.9 L552.9 3004 L554.9 3004.1 L556.9 3004.2 L558.9 3004.2 L560.9 3004.3 L562.9 3004.4 L564.9 3004.5 L566.9 3004.6 L568.9 3004.6 L570.9 3004.7 L572.9 3004.8 L574.9 3004.9 L576.9 3005 L578.9 3005 L580.9 3005.1 L582.9 3005.2 L584.9 3005.3 L586.9 3005.4 L588.9 3005.4 L590.9 3005.5 L592.9 3005.6 L594.9 3005.7 L596.9 3005.8 L598.9 3005.8 L600.9 3005.9 L602.9 3006 L604.9 3006.1 L606.9 3006.2 L608.9 3006.2 L610.9 3006.3 L612.9 3006.4 L614.9 3006.5 L616.9 3006.6 L618.9 3006.6 L620.9 3006.7 L622.9 3006.8 L624.9 3006.9 L626.9 3007 L628.9 3007 L630.9 3007.1 L632.9 3007.2 L634.9 3007.3 L636.9 3007.4 L638.9 3007.4 L640.9 3007.5 L642.9 3007.6 L644.9 3007.7 L646.9 3007.8 L648.9 3007.8 L650.9 3007.9 L652.9 3008 L654.9 3008.1 L656.9 3008.2 L658.9 3008.2 L660.9 3008.3 L662.9 3008.4 L664.9 3008.5 L666.9 3008.6 L668.9 3008.6 L670.9 3008.7 L672.9 3008.8 L674.9 3008.9 L676.9 3009 L678.9 3009 L680.9 3009.1 L682.9 3009.2 L684.9 3009.3 L686.9 3009.4 L688.9 3009.4 L690.9 3009.5 L692.9 3009.6 L694.9 3009.7 L696.9 3009.7 L698.9 3009.8 L700.9 3009.9 L702.9 3010 L704.9 3010.1 L706.9 3010.1 L708.9 3010.2 L710.9 3010.3 L712.9 3010.4 L714.9 3010.5 L716.9 3010.5 L718.9 3010.6 L720.9 3010.7 L722.9 3010.8 L724.9 3010.9 L726.9 3010.9 L728.9 3011 L730.9 3011.1 L732.9 3011.2 L734.9 3011.3 L736.9 3011.3 L738.9 3011.4 L740.9 3011.5 L742.9 3011.6 L744.9 3011.7 L746.9 3011.7 L748.9 3011.8 L750.9 3011.9 L752.9 3012 L754.9 3012.1 L756.9 3012.1 L758.9 3012.2 L760.9 3012.3 L762.9 3012.4 L764.9 3012.5 L766.9 3012.5 L768.9 3012.6 L770.9 3012.7 L772.9 3012.8 L774.9 3012.9 L776.9 3012.9 L778.9 3013 L780.9 3013.1 L782.9 3013.2 L784.9 3013.2 L786.9 3013.3 L788.9 3013.4 L790.9 3013.5 L792.9 3013.6 L794.9 3013.6 L796.9 3013.7 L798.9 3013.8 L800.9 3013.9 L802.9 3014 L804.9 3014 L806.9 3014.1 L808.9 3014.2 L810.9 3014.3 L812.9 3014.4 L814.9 3014.4 L816.9 3014.5 L818.9 3014.6 L820.9 3014.7 L822.9 3014.8 L824.9 3014.8 L826.9 3014.9 L828.9 3015 L830.9 3015.1 L832.9 3015.2 L834.9 3015.2 L836.9 3015.3 L838.9 3015.4 L840.9 3015.5 L842.9 3015.6 L844.9 3015.6 L846.9 3015.7 L848.9 3015.8 L850.9 3015.9 L852.9 3015.9 L854.9 3016 L856.9 3016.1 L858.9 3016.2 L860.9 3016.3 L862.9 3016.3 L864.9 3016.4 L866.9 3016.5 L868.9 3016.6 L870.9 3016.7 L872.9 3016.7 L874.9 3016.8 L876.9 3016.9 L878.9 3017 L880.9 3017.1 L882.9 3017.1 L884.9 3017.2 L886.9 3017.3 L888.9 3017.4 L890.9 3017.5 L892.9 3017.5 L894.9 3017.6 L896.9 3017.7 L898.9 3017.8 L900.9 3017.9 L902.9 3017.9 L904.9 3018 L906.9 3018.1 L908.9 3018.2 L910.9 3018.3 L912.9 3018.3 L914.9 3018.4 L916.9 3018.5 L918.9 3018.6 L920.9 3018.6 L922.9 3018.7 L924.9 3018.8 L926.9 3018.9 L928.9 3019 L930.9 3019 L932.9 3019.1 L934.9 3019.2 L936.9 3019.3 L938.9 3019.4 L940.9 3019.4 L942.9 3019.5 L944.9 3019.6 L946.9 3019.7 L948.9 3019.8 L950.9 3019.8 L952.9 3019.9 L954.9 3020 L956.9 3020.1 L958.9 3020.2 L960.9 3020.2 L962.9 3020.3 L964.9 3020.4 L966.9 3020.5 L968.9 3020.6 L970.9 3020.6 L972.9 3020.7 L974.9 3020.8 L976.9 3020.9 L978.9 3021 L980.9 3021 L982.9 3021.1 L984.9 3021.2 L986.9 3021.3 L988.9 3021.3 L990.9 3021.4 L992.9 3021.5 L994.9 3021.6 L996.9 3021.7 L998.9 3021.7 L1000.9 3021.8 L1002.9 3021.9 L1004.9 3022 L1006.9 3022.1 L1008.9 3022.1 L1010.9 3022.2 L1012.9 3022.3 L1014.9 3022.4 L1016.9 3022.5 L1018.9 3022.5 L1020.9 3022.6 L1022.9 3022.7 L1024.9 3022.8 L1026.9 3022.9 L1028.9 3022.9 L1030.9 3023 L1032.9 3023.1 L1034.9 3023.2 L1036.9 3023.3 L1038.9 3023.3 L1040.9 3023.4 L1042.9 3023.5 L1044.9 3023.6 L1046.9 3023.7 L1048.9 3023.7 L1050.9 3023.8 L1052.9 3023.9 L1054.9 3024 L1056.9 3024 L1058.9 3024.1 L1060.9 3024.2 L1062.9 3024.3 L1064.9 3024.4 L1066.9 3024.4 L1068.9 3024.5 L1070.9 3024.6 L1072.9 3024.7 L1074.9 3024.8 L1076.9 3024.8 L1078.9 3024.9 L1080.9 3025 L1082.9 3025.1 L1084.9 3025.2 L1086.9 3025.2 L1088.9 3025.3 L1090.9 3025.4 L1092.9 3025.5 L1094.9 3025.6 L1096.9 3025.6 L1098.9 3025.7 L1100.9 3025.8 L1102.9 3025.9 L1104.9 3026 L1106.9 3026 L1108.9 3026.1 L1110.9 3026.2 L1112.9 3026.3 L1114.9 3026.4 L1116.9 3026.4 L1118.9 3026.5 L1120.9 3026.6 L1122.9 3026.7 L1124.9 3026.7 L1126.9 3026.8 L1128.9 3026.9 L1130.9 3027 L1132.9 3027.1 L1134.9 3027.1 L1136.9 3027.2 L1138.9 3027.3 L1140.9 3027.4 L1142.9 3027.5 L1144.9 3027.5 L1146.9 3027.6 L1148.9 3027.7 L1150.9 3027.8 L1152.9 3027.9 L1154.9 3027.9 L1156.9 3028 L1158.9 3028.1 L1160.9 3028.2 L1162.9 3028.3 L1164.9 3028.3 L1166.9 3028.4 L1168.9 3028.5 L1170.9 3028.6 L1172.9 3028.7 L1174.9 3028.7 L1176.9 3028.8 L1178.9 3028.9 L1180.9 3029 L1182.9 3029 L1184.9 3029.1 L1186.9 3029.2 L1188.9 3029.3 L1190.9 3029.4 L1192.9 3029.4 L1194.9 3029.5 L1196.9 3029.6 L1198.9 3029.7 L1200.9 3029.8 L1202.9 3029.8 L1204.9 3029.9 L1206.9 3030 L1208.9 3030.1 L1210.9 3030.2 L1212.9 3030.2 L1214.9 3030.3 L1216.9 3030.4 L1218.9 3030.5 L1220.9 3030.6 L1222.9 3030.6 L1224.9 3030.7 L1226.9 3030.8 L1228.9 3030.9 L1230.9 3031 L1232.9 3031 L1234.9 3031.1 L1236.9 3031.2 L1238.9 3031.3 L1240.9 3031.4 L1242.9 3031.4 L1244.9 3031.5 L1246 3031.6" fill="none" stroke="#00FFFF" stroke-width="4.5" stroke-linejoin="round"/>
<path d="M132.9 2987.4 L134.9 2987.5 L136.9 2987.5 L138.9 2987.6 L140.9 2987.7 L142.9 2987.8 L144.9 2987.9 L146.9 2987.9 L148.9 2988 L150.9 2988.1 L152.9 2988.2 L154.9 2988.2 L156.9 2988.3 L158.9 2988.4 L160.9 2988.5 L162.9 2988.6 L164.9 2988.6 L166.9 2988.7 L168.9 2988.8 L170.9 2988.9 L172.9 2989 L174.9 2989 L176.9 2989.1 L178.9 2989.2 L180.9 2989.3 L182.9 2989.4 L184.9 2989.4 L186.9 2989.5 L188.9 2989.6 L190.9 2989.7 L192.9 2989.7 L194.9 2989.8 L196.9 2989.9 L198.9 2990 L200.9 2990.1 L202.9 2990.1 L204.9 2990.2 L206.9 2990.3 L208.9 2990.4 L210.9 2990.5 L212.9 2990.5 L214.9 2990.6 L216.9 2990.7 L218.9 2990.8 L220.9 2990.9 L222.9 2990.9 L224.9 2991 L226.9 2991.1 L228.9 2991.2 L230.9 2991.3 L232.9 2991.3 L234.9 2991.4 L236.9 2991.5 L238.9 2991.6 L240.9 2991.6 L242.9 2991.7 L244.9 2991.8 L246.9 2991.9 L248.9 2992 L250.9 2992 L252.9 2992.1 L254.9 2992.2 L256.9 2992.3 L258.9 2992.4 L260.9 2992.4 L262.9 2992.5 L264.9 2992.6 L266.9 2992.7 L268.9 2992.7 L270.9 2992.8 L272.9 2992.9 L274.9 2993 L276.9 2993.1 L278.9 2993.1 L280.9 2993.2 L282.9 2993.3 L284.9 2993.4 L286.9 2993.5 L288.9 2993.5 L290.9 2993.6 L292.9 2993.7 L294.9 2993.8 L296.9 2993.9 L298.9 2993.9 L300.9 2994 L302.9 2994.1 L304.9 2994.2 L306.9 2994.2 L308.9 2994.3 L310.9 2994.4 L312.9 2994.5 L314.9 2994.6 L316.9 2994.6 L318.9 2994.7 L320.9 2994.8 L322.9 2994.9 L324.9 2995 L326.9 2995 L328.9 2995.1 L330.9 2995.2 L332.9 2995.3 L334.9 2995.3 L336.9 2995.4 L338.9 2995.5 L340.9 2995.6 L342.9 2995.7 L344.9 2995.7 L346.9 2995.8 L348.9 2995.9 L350.9 2996 L352.9 2996.1 L354.9 2996.1 L356.9 2996.2 L358.9 2996.3 L360.9 2996.4 L362.9 2996.4 L364.9 2996.5 L366.9 2996.6 L368.9 2996.7 L370.9 2996.8 L372.9 2996.8 L374.9 2996.9 L376.9 2997 L378.9 2997.1 L380.9 2997.1 L382.9 2997.2 L384.9 2997.3 L386.9 2997.4 L388.9 2997.5 L390.9 2997.5 L392.9 2997.6 L394.9 2997.7 L396.9 2997.8 L398.9 2997.8 L400.9 2997.9 L402.9 2998 L404.9 2998.1 L406.9 2998.2 L408.9 2998.2 L410.9 2998.3 L412.9 2998.4 L414.9 2998.5 L416.9 2998.5 L418.9 2998.6 L420.9 2998.7 L422.9 2998.8 L424.9 2998.8 L426.9 2998.9 L428.9 2999 L430.9 2999.1 L432.9 2999.1 L434.9 2999.2 L436.9 2999.3 L438.9 2999.4 L440.9 2999.5 L442.9 2999.5 L444.9 2999.6 L446.9 2999.7 L448.9 2999.7 L450.9 2999.8 L452.9 2999.9 L454.9 3000 L456.9 3000 L458.9 3000.1 L460.9 3000.2 L462.9 3000.2 L464.9 3000.3 L466.9 3000.4 L468.9 3000.4 L470.9 3000.5 L472.9 3000.6 L474.9 3000.6 L476.9 3000.7 L478.9 3000.8 L480.9 3000.8 L482.9 3000.9 L484.9 3000.9 L486.9 3001 L488.9 3001 L490.9 3001 L492.9 3001.1 L494.9 3001.1 L496.9 3001.1 L498.9 3001.2 L500.9 3001.2 L502.9 3001.2 L504.9 3001.2 L506.9 3001.2 L508.9 3001.2 L510.9 3001.2 L512.9 3001.1 L514.9 3001.1 L516.9 3001.1 L518.9 3001 L520.9 3000.9 L522.9 3000.9 L524.9 3000.8 L526.9 3000.7 L528.9 3000.5 L530.9 3000.4 L532.9 3000.3 L534.9 3000.1 L536.9 3000 L538.9 2999.8 L540.9 2999.6 L542.9 2999.4 L544.9 2999.1 L546.9 2998.9 L548.9 2998.6 L550.9 2998.3 L552.9 2998 L554.9 2997.7 L556.9 2997.4 L558.9 2997.1 L560.9 2996.7 L562.9 2996.4 L564.9 2996 L566.9 2995.6 L568.9 2995.2 L570.9 2994.8 L572.9 2994.4 L574.9 2994 L576.9 2993.5 L578.9 2993.1 L580.9 2992.7 L582.9 2992.3 L584.9 2991.8 L586.9 2991.4 L588.9 2991 L590.9 2990.6 L592.9 2990.2 L594.9 2989.8 L596.9 2989.4 L598.9 2989.1 L600.9 2988.7 L602.9 2988.4 L604.9 2988.1 L606.9 2987.9 L608.9 2987.6 L610.9 2987.4 L612.9 2987.2 L614.9 2987.1 L616.9 2987 L618.9 2986.9 L620.9 2986.9 L622.9 2986.9 L624.9 2986.9 L626.9 2987 L628.9 2987.1 L630.9 2987.3 L632.9 2987.5 L634.9 2987.7 L636.9 2988 L638.9 2988.3 L640.9 2988.6 L642.9 2988.9 L644.9 2989.3 L646.9 2989.8 L648.9 2990.2 L650.9 2990.7 L652.9 2991.2 L654.9 2991.7 L656.9 2992.2 L658.9 2992.7 L660.9 2993.3 L662.9 2993.9 L664.9 2994.4 L666.9 2995 L668.9 2995.6 L670.9 2996.2 L672.9 2996.8 L674.9 2997.4 L676.9 2998 L678.9 2998.5 L680.9 2999.1 L682.9 2999.7 L684.9 3000.2 L686.9 3000.8 L688.9 3001.3 L690.9 3001.8 L692.9 3002.4 L694.9 3002.9 L696.9 3003.3 L698.9 3003.8 L700.9 3004.3 L702.9 3004.7 L704.9 3005.1 L706.9 3005.5 L708.9 3005.9 L710.9 3006.3 L712.9 3006.6 L714.9 3007 L716.9 3007.3 L718.9 3007.6 L720.9 3007.9 L722.9 3008.2 L724.9 3008.5 L726.9 3008.8 L728.9 3009 L730.9 3009.2 L732.9 3009.5 L734.9 3009.7 L736.9 3009.9 L738.9 3010.1 L740.9 3010.3 L742.9 3010.5 L744.9 3010.6 L746.9 3010.8 L748.9 3010.9 L750.9 3011.1 L752.9 3011.2 L754.9 3011.4 L756.9 3011.5 L758.9 3011.6 L760.9 3011.8 L762.9 3011.9 L764.9 3012 L766.9 3012.1 L768.9 3012.2 L770.9 3012.3 L772.9 3012.4 L774.9 3012.5 L776.9 3012.6 L778.9 3012.7 L780.9 3012.8 L782.9 3012.9 L784.9 3013 L786.9 3013.1 L788.9 3013.2 L790.9 3013.3 L792.9 3013.4 L794.9 3013.4 L796.9 3013.5 L798.9 3013.6 L800.9 3013.7 L802.9 3013.8 L804.9 3013.9 L806.9 3014 L808.9 3014 L810.9 3014.1 L812.9 3014.2 L814.9 3014.3 L816.9 3014.4 L818.9 3014.5 L820.9 3014.5 L822.9 3014.6 L824.9 3014.7 L826.9 3014.8 L828.9 3014.9 L830.9 3015 L832.9 3015 L834.9 3015.1 L836.9 3015.2 L838.9 3015.3 L840.9 3015.4 L842.9 3015.4 L844.9 3015.5 L846.9 3015.6 L848.9 3015.7 L850.9 3015.8 L852.9 3015.9 L854.9 3015.9 L856.9 3016 L858.9 3016.1 L860.9 3016.2 L862.9 3016.3 L864.9 3016.3 L866.9 3016.4 L868.9 3016.5 L870.9 3016.6 L872.9 3016.7 L874.9 3016.7 L876.9 3016.8 L878.9 3016.9 L880.9 3017 L882.9 3017.1 L884.9 3017.1 L886.9 3017.2 L888.9 3017.3 L890.9 3017.4 L892.9 3017.5 L894.9 3017.5 L896.9 3017.6 L898.9 3017.7 L900.9 3017.8 L902.9 3017.9 L904.9 3018 L906.9 3018 L908.9 3018.1 L910.9 3018.2 L912.9 3018.3 L914.9 3018.4 L916.9 3018.4 L918.9 3018.5 L920.9 3018.6 L922.9 3018.7 L924.9 3018.8 L926.9 3018.8 L928.9 3018.9 L930.9 3019 L932.9 3019.1 L934.9 3019.2 L936.9 3019.2 L938.9 3019.3 L940.9 3019.4 L942.9 3019.5 L944.9 3019.6 L946.9 3019.6 L948.9 3019.7 L950.9 3019.8 L952.9 3019.9 L954.9 3020 L956.9 3020 L958.9 3020.1 L960.9 3020.2 L962.9 3020.3 L964.9 3020.4 L966.9 3020.4 L968.9 3020.5 L970.9 3020.6 L972.9 3020.7 L974.9 3020.8 L976.9 3020.8 L978.9 3020.9 L980.9 3021 L982.9 3021.1 L984.9 3021.2 L986.9 3021.2 L988.9 3021.3 L990.9 3021.4 L992.9 3021.5 L994.9 3021.6 L996.9 3021.6 L998.9 3021.7 L1000.9 3021.8 L1002.9 3021.9 L1004.9 3022 L1006.9 3022 L1008.9 3022.1 L1010.9 3022.2 L1012.9 3022.3 L1014.9 3022.4 L1016.9 3022.4 L1018.9 3022.5 L1020.9 3022.6 L1022.9 3022.7 L1024.9 3022.8 L1026.9 3022.8 L1028.9 3022.9 L1030.9 3023 L1032.9 3023.1 L1034.9 3023.1 L1036.9 3023.2 L1038.9 3023.3 L1040.9 3023.4 L1042.9 3023.5 L1044.9 3023.5 L1046.9 3023.6 L1048.9 3023.7 L1050.9 3023.8 L1052.9 3023.9 L1054.9 3023.9 L1056.9 3024 L1058.9 3024.1 L1060.9 3024.2 L1062.9 3024.3 L1064.9 3024.3 L1066.9 3024.4 L1068.9 3024.5 L1070.9 3024.6 L1072.9 3024.7 L1074.9 3024.7 L1076.9 3024.8 L1078.9 3024.9 L1080.9 3025 L1082.9 3025.1 L1084.9 3025.1 L1086.9 3025.2 L1088.9 3025.3 L1090.9 3025.4 L1092.9 3025.5 L1094.9 3025.5 L1096.9 3025.6 L1098.9 3025.7 L1100.9 3025.8 L1102.9 3025.9 L1104.9 3025.9 L1106.9 3026 L1108.9 3026.1 L1110.9 3026.2 L1112.9 3026.3 L1114.9 3026.3 L1116.9 3026.4 L1118.9 3026.5 L1120.9 3026.6 L1122.9 3026.7 L1124.9 3026.7 L1126.9 3026.8 L1128.9 3026.9 L1130.9 3027 L1132.9 3027 L1134.9 3027.1 L1136.9 3027.2 L1138.9 3027.3 L1140.9 3027.4 L1142.9 3027.4 L1144.9 3027.5 L1146.9 3027.6 L1148.9 3027.7 L1150.9 3027.8 L1152.9 3027.8 L1154.9 3027.9 L1156.9 3028 L1158.9 3028.1 L1160.9 3028.2 L1162.9 3028.2 L1164.9 3028.3 L1166.9 3028.4 L1168.9 3028.5 L1170.9 3028.6 L1172.9 3028.6 L1174.9 3028.7 L1176.9 3028.8 L1178.9 3028.9 L1180.9 3029 L1182.9 3029 L1184.9 3029.1 L1186.9 3029.2 L1188.9 3029.3 L1190.9 3029.4 L1192.9 3029.4 L1194.9 3029.5 L1196.9 3029.6 L1198.9 3029.7 L1200.9 3029.8 L1202.9 3029.8 L1204.9 3029.9 L1206.9 3030 L1208.9 3030.1 L1210.9 3030.1 L1212.9 3030.2 L1214.9 3030.3 L1216.9 3030.4 L1218.9 3030.5 L1220.9 3030.5 L1222.9 3030.6 L1224.9 3030.7 L1226.9 3030.8 L1228.9 3030.9 L1230.9 3030.9 L1232.9 3031 L1234.9 3031.1 L1236.9 3031.2 L1238.9 3031.3 L1240.9 3031.3 L1242.9 3031.4 L1244.9 3031.5 L1246 3031.5 L1246 3031.6 L1244.9 3031.5 L1242.9 3031.4 L1240.9 3031.4 L1238.9 3031.3 L1236.9 3031.2 L1234.9 3031.1 L1232.9 3031 L1230.9 3031 L1228.9 3030.9 L1226.9 3030.8 L1224.9 3030.7 L1222.9 3030.6 L1220.9 3030.6 L1218.9 3030.5 L1216.9 3030.4 L1214.9 3030.3 L1212.9 3030.2 L1210.9 3030.2 L1208.9 3030.1 L1206.9 3030 L1204.9 3029.9 L1202.9 3029.8 L1200.9 3029.8 L1198.9 3029.7 L1196.9 3029.6 L1194.9 3029.5 L1192.9 3029.5 L1190.9 3029.4 L1188.9 3029.3 L1186.9 3029.2 L1184.9 3029.1 L1182.9 3029.1 L1180.9 3029 L1178.9 3028.9 L1176.9 3028.8 L1174.9 3028.7 L1172.9 3028.7 L1170.9 3028.6 L1168.9 3028.5 L1166.9 3028.4 L1164.9 3028.3 L1162.9 3028.3 L1160.9 3028.2 L1158.9 3028.1 L1156.9 3028 L1154.9 3027.9 L1152.9 3027.9 L1150.9 3027.8 L1148.9 3027.7 L1146.9 3027.6 L1144.9 3027.5 L1142.9 3027.5 L1140.9 3027.4 L1138.9 3027.3 L1136.9 3027.2 L1134.9 3027.2 L1132.9 3027.1 L1130.9 3027 L1128.9 3026.9 L1126.9 3026.8 L1124.9 3026.8 L1122.9 3026.7 L1120.9 3026.6 L1118.9 3026.5 L1116.9 3026.4 L1114.9 3026.4 L1112.9 3026.3 L1110.9 3026.2 L1108.9 3026.1 L1106.9 3026 L1104.9 3026 L1102.9 3025.9 L1100.9 3025.8 L1098.9 3025.7 L1096.9 3025.6 L1094.9 3025.6 L1092.9 3025.5 L1090.9 3025.4 L1088.9 3025.3 L1086.9 3025.2 L1084.9 3025.2 L1082.9 3025.1 L1080.9 3025 L1078.9 3024.9 L1076.9 3024.9 L1074.9 3024.8 L1072.9 3024.7 L1070.9 3024.6 L1068.9 3024.5 L1066.9 3024.5 L1064.9 3024.4 L1062.9 3024.3 L1060.9 3024.2 L1058.9 3024.1 L1056.9 3024.1 L1054.9 3024 L1052.9 3023.9 L1050.9 3023.8 L1048.9 3023.7 L1046.9 3023.7 L1044.9 3023.6 L1042.9 3023.5 L1040.9 3023.4 L1038.9 3023.3 L1036.9 3023.3 L1034.9 3023.2 L1032.9 3023.1 L1030.9 3023 L1028.9 3022.9 L1026.9 3022.9 L1024.9 3022.8 L1022.9 3022.7 L1020.9 3022.6 L1018.9 3022.5 L1016.9 3022.5 L1014.9 3022.4 L1012.9 3022.3 L1010.9 3022.2 L1008.9 3022.2 L1006.9 3022.1 L1004.9 3022 L1002.9 3021.9 L1000.9 3021.8 L998.9 3021.8 L996.9 3021.7 L994.9 3021.6 L992.9 3021.5 L990.9 3021.4 L988.9 3021.4 L986.9 3021.3 L984.9 3021.2 L982.9 3021.1 L980.9 3021 L978.9 3021 L976.9 3020.9 L974.9 3020.8 L972.9 3020.7 L970.9 3020.6 L968.9 3020.6 L966.9 3020.5 L964.9 3020.4 L962.9 3020.3 L960.9 3020.2 L958.9 3020.2 L956.9 3020.1 L954.9 3020 L952.9 3019.9 L950.9 3019.9 L948.9 3019.8 L946.9 3019.7 L944.9 3019.6 L942.9 3019.5 L940.9 3019.5 L938.9 3019.4 L936.9 3019.3 L934.9 3019.2 L932.9 3019.1 L930.9 3019.1 L928.9 3019 L926.9 3018.9 L924.9 3018.8 L922.9 3018.7 L920.9 3018.7 L918.9 3018.6 L916.9 3018.5 L914.9 3018.4 L912.9 3018.3 L910.9 3018.3 L908.9 3018.2 L906.9 3018.1 L904.9 3018 L902.9 3017.9 L900.9 3017.9 L898.9 3017.8 L896.9 3017.7 L894.9 3017.6 L892.9 3017.6 L890.9 3017.5 L888.9 3017.4 L886.9 3017.3 L884.9 3017.2 L882.9 3017.2 L880.9 3017.1 L878.9 3017 L876.9 3016.9 L874.9 3016.8 L872.9 3016.8 L870.9 3016.7 L868.9 3016.6 L866.9 3016.5 L864.9 3016.4 L862.9 3016.4 L860.9 3016.3 L858.9 3016.2 L856.9 3016.1 L854.9 3016 L852.9 3016 L850.9 3015.9 L848.9 3015.8 L846.9 3015.7 L844.9 3015.6 L842.9 3015.6 L840.9 3015.5 L838.9 3015.4 L836.9 3015.3 L834.9 3015.2 L832.9 3015.2 L830.9 3015.1 L828.9 3015 L826.9 3014.9 L824.9 3014.9 L822.9 3014.8 L820.9 3014.7 L818.9 3014.6 L816.9 3014.5 L814.9 3014.5 L812.9 3014.4 L810.9 3014.3 L808.9 3014.2 L806.9 3014.1 L804.9 3014.1 L802.9 3014 L800.9 3013.9 L798.9 3013.8 L796.9 3013.7 L794.9 3013.7 L792.9 3013.6 L790.9 3013.5 L788.9 3013.4 L786.9 3013.3 L784.9 3013.3 L782.9 3013.2 L780.9 3013.1 L778.9 3013 L776.9 3012.9 L774.9 3012.9 L772.9 3012.8 L770.9 3012.7 L768.9 3012.6 L766.9 3012.6 L764.9 3012.5 L762.9 3012.4 L760.9 3012.3 L758.9 3012.2 L756.9 3012.2 L754.9 3012.1 L752.9 3012 L750.9 3011.9 L748.9 3011.8 L746.9 3011.8 L744.9 3011.7 L742.9 3011.6 L740.9 3011.5 L738.9 3011.4 L736.9 3011.4 L734.9 3011.3 L732.9 3011.2 L730.9 3011.1 L728.9 3011 L726.9 3011 L724.9 3010.9 L722.9 3010.8 L720.9 3010.7 L718.9 3010.6 L716.9 3010.6 L714.9 3010.5 L712.9 3010.4 L710.9 3010.3 L708.9 3010.3 L706.9 3010.2 L704.9 3010.1 L702.9 3010 L700.9 3009.9 L698.9 3009.9 L696.9 3009.8 L694.9 3009.7 L692.9 3009.6 L690.9 3009.5 L688.9 3009.5 L686.9 3009.4 L684.9 3009.3 L682.9 3009.2 L680.9 3009.1 L678.9 3009.1 L676.9 3009 L674.9 3008.9 L672.9 3008.8 L670.9 3008.7 L668.9 3008.7 L666.9 3008.6 L664.9 3008.5 L662.9 3008.4 L660.9 3008.3 L658.9 3008.3 L656.9 3008.2 L654.9 3008.1 L652.9 3008 L650.9 3008 L648.9 3007.9 L646.9 3007.8 L644.9 3007.7 L642.9 3007.6 L640.9 3007.6 L638.9 3007.5 L636.9 3007.4 L634.9 3007.3 L632.9 3007.2 L630.9 3007.2 L628.9 3007.1 L626.9 3007 L624.9 3006.9 L622.9 3006.8 L620.9 3006.8 L618.9 3006.7 L616.9 3006.6 L614.9 3006.5 L612.9 3006.4 L610.9 3006.4 L608.9 3006.3 L606.9 3006.2 L604.9 3006.1 L602.9 3006 L600.9 3006 L598.9 3005.9 L596.9 3005.8 L594.9 3005.7 L592.9 3005.6 L590.9 3005.6 L588.9 3005.5 L586.9 3005.4 L584.9 3005.3 L582.9 3005.3 L580.9 3005.2 L578.9 3005.1 L576.9 3005 L574.9 3004.9 L572.9 3004.9 L570.9 3004.8 L568.9 3004.7 L566.9 3004.6 L564.9 3004.5 L562.9 3004.5 L560.9 3004.4 L558.9 3004.3 L556.9 3004.2 L554.9 3004.1 L552.9 3004.1 L550.9 3004 L548.9 3003.9 L546.9 3003.8 L544.9 3003.7 L542.9 3003.7 L540.9 3003.6 L538.9 3003.5 L536.9 3003.4 L534.9 3003.3 L532.9 3003.3 L530.9 3003.2 L528.9 3003.1 L526.9 3003 L524.9 3003 L522.9 3002.9 L520.9 3002.8 L518.9 3002.7 L516.9 3002.6 L514.9 3002.6 L512.9 3002.5 L510.9 3002.4 L508.9 3002.3 L506.9 3002.2 L504.9 3002.2 L502.9 3002.1 L500.9 3002 L498.9 3001.9 L496.9 3001.8 L494.9 3001.8 L492.9 3001.7 L490.9 3001.6 L488.9 3001.5 L486.9 3001.4 L484.9 3001.4 L482.9 3001.3 L480.9 3001.2 L478.9 3001.1 L476.9 3001 L474.9 3001 L472.9 3000.9 L470.9 3000.8 L468.9 3000.7 L466.9 3000.7 L464.9 3000.6 L462.9 3000.5 L460.9 3000.4 L458.9 3000.3 L456.9 3000.3 L454.9 3000.2 L452.9 3000.1 L450.9 3000 L448.9 2999.9 L446.9 2999.9 L444.9 2999.8 L442.9 2999.7 L440.9 2999.6 L438.9 2999.5 L436.9 2999.5 L434.9 2999.4 L432.9 2999.3 L430.9 2999.2 L428.9 2999.1 L426.9 2999.1 L424.9 2999 L422.9 2998.9 L420.9 2998.8 L418.9 2998.7 L416.9 2998.7 L414.9 2998.6 L412.9 2998.5 L410.9 2998.4 L408.9 2998.4 L406.9 2998.3 L404.9 2998.2 L402.9 2998.1 L400.9 2998 L398.9 2998 L396.9 2997.9 L394.9 2997.8 L392.9 2997.7 L390.9 2997.6 L388.9 2997.6 L386.9 2997.5 L384.9 2997.4 L382.9 2997.3 L380.9 2997.2 L378.9 2997.2 L376.9 2997.1 L374.9 2997 L372.9 2996.9 L370.9 2996.8 L368.9 2996.8 L366.9 2996.7 L364.9 2996.6 L362.9 2996.5 L360.9 2996.4 L358.9 2996.4 L356.9 2996.3 L354.9 2996.2 L352.9 2996.1 L350.9 2996 L348.9 2996 L346.9 2995.9 L344.9 2995.8 L342.9 2995.7 L340.9 2995.7 L338.9 2995.6 L336.9 2995.5 L334.9 2995.4 L332.9 2995.3 L330.9 2995.3 L328.9 2995.2 L326.9 2995.1 L324.9 2995 L322.9 2994.9 L320.9 2994.9 L318.9 2994.8 L316.9 2994.7 L314.9 2994.6 L312.9 2994.5 L310.9 2994.5 L308.9 2994.4 L306.9 2994.3 L304.9 2994.2 L302.9 2994.1 L300.9 2994.1 L298.9 2994 L296.9 2993.9 L294.9 2993.8 L292.9 2993.7 L290.9 2993.7 L288.9 2993.6 L286.9 2993.5 L284.9 2993.4 L282.9 2993.4 L280.9 2993.3 L278.9 2993.2 L276.9 2993.1 L274.9 2993 L272.9 2993 L270.9 2992.9 L268.9 2992.8 L266.9 2992.7 L264.9 2992.6 L262.9 2992.6 L260.9 2992.5 L258.9 2992.4 L256.9 2992.3 L254.9 2992.2 L252.9 2992.2 L250.9 2992.1 L248.9 2992 L246.9 2991.9 L244.9 2991.8 L242.9 2991.8 L240.9 2991.7 L238.9 2991.6 L236.9 2991.5 L234.9 2991.4 L232.9 2991.4 L230.9 2991.3 L228.9 2991.2 L226.9 2991.1 L224.9 2991.1 L222.9 2991 L220.9 2990.9 L218.9 2990.8 L216.9 2990.7 L214.9 2990.7 L212.9 2990.6 L210.9 2990.5 L208.9 2990.4 L206.9 2990.3 L204.9 2990.3 L202.9 2990.2 L200.9 2990.1 L198.9 2990 L196.9 2989.9 L194.9 2989.9 L192.9 2989.8 L190.9 2989.7 L188.9 2989.6 L186.9 2989.5 L184.9 2989.5 L182.9 2989.4 L180.9 2989.3 L178.9 2989.2 L176.9 2989.1 L174.9 2989.1 L172.9 2989 L170.9 2988.9 L168.9 2988.8 L166.9 2988.7 L164.9 2988.7 L162.9 2988.6 L160.9 2988.5 L158.9 2988.4 L156.9 2988.4 L154.9 2988.3 L152.9 2988.2 L150.9 2988.1 L148.9 2988 L146.9 2988 L144.9 2987.9 L142.9 2987.8 L140.9 2987.7 L138.9 2987.6 L136.9 2987.6 L134.9 2987.5 L132.9 2987.4Z" fill="#00CDD7"/>
<path d="M132.9 2987.4 L134.9 2987.5 L136.9 2987.5 L138.9 2987.6 L140.9 2987.7 L142.9 2987.8 L144.9 2987.9 L146.9 2987.9 L148.9 2988 L150.9 2988.1 L152.9 2988.2 L154.9 2988.2 L156.9 2988.3 L158.9 2988.4 L160.9 2988.5 L162.9 2988.6 L164.9 2988.6 L166.9 2988.7 L168.9 2988.8 L170.9 2988.9 L172.9 2989 L174.9 2989 L176.9 2989.1 L178.9 2989.2 L180.9 2989.3 L182.9 2989.4 L184.9 2989.4 L186.9 2989.5 L188.9 2989.6 L190.9 2989.7 L192.9 2989.7 L194.9 2989.8 L196.9 2989.9 L198.9 2990 L200.9 2990.1 L202.9 2990.1 L204.9 2990.2 L206.9 2990.3 L208.9 2990.4 L210.9 2990.5 L212.9 2990.5 L214.9 2990.6 L216.9 2990.7 L218.9 2990.8 L220.9 2990.9 L222.9 2990.9 L224.9 2991 L226.9 2991.1 L228.9 2991.2 L230.9 2991.3 L232.9 2991.3 L234.9 2991.4 L236.9 2991.5 L238.9 2991.6 L240.9 2991.6 L242.9 2991.7 L244.9 2991.8 L246.9 2991.9 L248.9 2992 L250.9 2992 L252.9 2992.1 L254.9 2992.2 L256.9 2992.3 L258.9 2992.4 L260.9 2992.4 L262.9 2992.5 L264.9 2992.6 L266.9 2992.7 L268.9 2992.7 L270.9 2992.8 L272.9 2992.9 L274.9 2993 L276.9 2993.1 L278.9 2993.1 L280.9 2993.2 L282.9 2993.3 L284.9 2993.4 L286.9 2993.5 L288.9 2993.5 L290.9 2993.6 L292.9 2993.7 L294.9 2993.8 L296.9 2993.9 L298.9 2993.9 L300.9 2994 L302.9 2994.1 L304.9 2994.2 L306.9 2994.2 L308.9 2994.3 L310.9 2994.4 L312.9 2994.5 L314.9 2994.6 L316.9 2994.6 L318.9 2994.7 L320.9 2994.8 L322.9 2994.9 L324.9 2995 L326.9 2995 L328.9 2995.1 L330.9 2995.2 L332.9 2995.3 L334.9 2995.3 L336.9 2995.4 L338.9 2995.5 L340.9 2995.6 L342.9 2995.7 L344.9 2995.7 L346.9 2995.8 L348.9 2995.9 L350.9 2996 L352.9 2996.1 L354.9 2996.1 L356.9 2996.2 L358.9 2996.3 L360.9 2996.4 L362.9 2996.4 L364.9 2996.5 L366.9 2996.6 L368.9 2996.7 L370.9 2996.8 L372.9 2996.8 L374.9 2996.9 L376.9 2997 L378.9 2997.1 L380.9 2997.1 L382.9 2997.2 L384.9 2997.3 L386.9 2997.4 L388.9 2997.5 L390.9 2997.5 L392.9 2997.6 L394.9 2997.7 L396.9 2997.8 L398.9 2997.8 L400.9 2997.9 L402.9 2998 L404.9 2998.1 L406.9 2998.2 L408.9 2998.2 L410.9 2998.3 L412.9 2998.4 L414.9 2998.5 L416.9 2998.5 L418.9 2998.6 L420.9 2998.7 L422.9 2998.8 L424.9 2998.8 L426.9 2998.9 L428.9 2999 L430.9 2999.1 L432.9 2999.1 L434.9 2999.2 L436.9 2999.3 L438.9 2999.4 L440.9 2999.5 L442.9 2999.5 L444.9 2999.6 L446.9 2999.7 L448.9 2999.7 L450.9 2999.8 L452.9 2999.9 L454.9 3000 L456.9 3000 L458.9 3000.1 L460.9 3000.2 L462.9 3000.2 L464.9 3000.3 L466.9 3000.4 L468.9 3000.4 L470.9 3000.5 L472.9 3000.6 L474.9 3000.6 L476.9 3000.7 L478.9 3000.8 L480.9 3000.8 L482.9 3000.9 L484.9 3000.9 L486.9 3001 L488.9 3001 L490.9 3001 L492.9 3001.1 L494.9 3001.1 L496.9 3001.1 L498.9 3001.2 L500.9 3001.2 L502.9 3001.2 L504.9 3001.2 L506.9 3001.2 L508.9 3001.2 L510.9 3001.2 L512.9 3001.1 L514.9 3001.1 L516.9 3001.1 L518.9 3001 L520.9 3000.9 L522.9 3000.9 L524.9 3000.8 L526.9 3000.7 L528.9 3000.5 L530.9 3000.4 L532.9 3000.3 L534.9 3000.1 L536.9 3000 L538.9 2999.8 L540.9 2999.6 L542.9 2999.4 L544.9 2999.1 L546.9 2998.9 L548.9 2998.6 L550.9 2998.3 L552.9 2998 L554.9 2997.7 L556.9 2997.4 L558.9 2997.1 L560.9 2996.7 L562.9 2996.4 L564.9 2996 L566.9 2995.6 L568.9 2995.2 L570.9 2994.8 L572.9 2994.4 L574.9 2994 L576.9 2993.5 L578.9 2993.1 L580.9 2992.7 L582.9 2992.3 L584.9 2991.8 L586.9 2991.4 L588.9 2991 L590.9 2990.6 L592.9 2990.2 L594.9 2989.8 L596.9 2989.4 L598.9 2989.1 L600.9 2988.7 L602.9 2988.4 L604.9 2988.1 L606.9 2987.9 L608.9 2987.6 L610.9 2987.4 L612.9 2987.2 L614.9 2987.1 L616.9 2987 L618.9 2986.9 L620.9 2986.9 L622.9 2986.9 L624.9 2986.9 L626.9 2987 L628.9 2987.1 L630.9 2987.3 L632.9 2987.5 L634.9 2987.7 L636.9 2988 L638.9 2988.3 L640.9 2988.6 L642.9 2988.9 L644.9 2989.3 L646.9 2989.8 L648.9 2990.2 L650.9 2990.7 L652.9 2991.2 L654.9 2991.7 L656.9 2992.2 L658.9 2992.7 L660.9 2993.3 L662.9 2993.9 L664.9 2994.4 L666.9 2995 L668.9 2995.6 L670.9 2996.2 L672.9 2996.8 L674.9 2997.4 L676.9 2998 L678.9 2998.5 L680.9 2999.1 L682.9 2999.7 L684.9 3000.2 L686.9 3000.8 L688.9 3001.3 L690.9 3001.8 L692.9 3002.4 L694.9 3002.9 L696.9 3003.3 L698.9 3003.8 L700.9 3004.3 L702.9 3004.7 L704.9 3005.1 L706.9 3005.5 L708.9 3005.9 L710.9 3006.3 L712.9 3006.6 L714.9 3007 L716.9 3007.3 L718.9 3007.6 L720.9 3007.9 L722.9 3008.2 L724.9 3008.5 L726.9 3008.8 L728.9 3009 L730.9 3009.2 L732.9 3009.5 L734.9 3009.7 L736.9 3009.9 L738.9 3010.1 L740.9 3010.3 L742.9 3010.5 L744.9 3010.6 L746.9 3010.8 L748.9 3010.9 L750.9 3011.1 L752.9 3011.2 L754.9 3011.4 L756.9 3011.5 L758.9 3011.6 L760.9 3011.8 L762.9 3011.9 L764.9 3012 L766.9 3012.1 L768.9 3012.2 L770.9 3012.3 L772.9 3012.4 L774.9 3012.5 L776.9 3012.6 L778.9 3012.7 L780.9 3012.8 L782.9 3012.9 L784.9 3013 L786.9 3013.1 L788.9 3013.2 L790.9 3013.3 L792.9 3013.4 L794.9 3013.4 L796.9 3013.5 L798.9 3013.6 L800.9 3013.7 L802.9 3013.8 L804.9 3013.9 L806.9 3014 L808.9 3014 L810.9 3014.1 L812.9 3014.2 L814.9 3014.3 L816.9 3014.4 L818.9 3014.5 L820.9 3014.5 L822.9 3014.6 L824.9 3014.7 L826.9 3014.8 L828.9 3014.9 L830.9 3015 L832.9 3015 L834.9 3015.1 L836.9 3015.2 L838.9 3015.3 L840.9 3015.4 L842.9 3015.4 L844.9 3015.5 L846.9 3015.6 L848.9 3015.7 L850.9 3015.8 L852.9 3015.9 L854.9 3015.9 L856.9 3016 L858.9 3016.1 L860.9 3016.2 L862.9 3016.3 L864.9 3016.3 L866.9 3016.4 L868.9 3016.5 L870.9 3016.6 L872.9 3016.7 L874.9 3016.7 L876.9 3016.8 L878.9 3016.9 L880.9 3017 L882.9 3017.1 L884.9 3017.1 L886.9 3017.2 L888.9 3017.3 L890.9 3017.4 L892.9 3017.5 L894.9 3017.5 L896.9 3017.6 L898.9 3017.7 L900.9 3017.8 L902.9 3017.9 L904.9 3018 L906.9 3018 L908.9 3018.1 L910.9 3018.2 L912.9 3018.3 L914.9 3018.4 L916.9 3018.4 L918.9 3018.5 L920.9 3018.6 L922.9 3018.7 L924.9 3018.8 L926.9 3018.8 L928.9 3018.9 L930.9 3019 L932.9 3019.1 L934.9 3019.2 L936.9 3019.2 L938.9 3019.3 L940.9 3019.4 L942.9 3019.5 L944.9 3019.6 L946.9 3019.6 L948.9 3019.7 L950.9 3019.8 L952.9 3019.9 L954.9 3020 L956.9 3020 L958.9 3020.1 L960.9 3020.2 L962.9 3020.3 L964.9 3020.4 L966.9 3020.4 L968.9 3020.5 L970.9 3020.6 L972.9 3020.7 L974.9 3020.8 L976.9 3020.8 L978.9 3020.9 L980.9 3021 L982.9 3021.1 L984.9 3021.2 L986.9 3021.2 L988.9 3021.3 L990.9 3021.4 L992.9 3021.5 L994.9 3021.6 L996.9 3021.6 L998.9 3021.7 L1000.9 3021.8 L1002.9 3021.9 L1004.9 3022 L1006.9 3022 L1008.9 3022.1 L1010.9 3022.2 L1012.9 3022.3 L1014.9 3022.4 L1016.9 3022.4 L1018.9 3022.5 L1020.9 3022.6 L1022.9 3022.7 L1024.9 3022.8 L1026.9 3022.8 L1028.9 3022.9 L1030.9 3023 L1032.9 3023.1 L1034.9 3023.1 L1036.9 3023.2 L1038.9 3023.3 L1040.9 3023.4 L1042.9 3023.5 L1044.9 3023.5 L1046.9 3023.6 L1048.9 3023.7 L1050.9 3023.8 L1052.9 3023.9 L1054.9 3023.9 L1056.9 3024 L1058.9 3024.1 L1060.9 3024.2 L1062.9 3024.3 L1064.9 3024.3 L1066.9 3024.4 L1068.9 3024.5 L1070.9 3024.6 L1072.9 3024.7 L1074.9 3024.7 L1076.9 3024.8 L1078.9 3024.9 L1080.9 3025 L1082.9 3025.1 L1084.9 3025.1 L1086.9 3025.2 L1088.9 3025.3 L1090.9 3025.4 L1092.9 3025.5 L1094.9 3025.5 L1096.9 3025.6 L1098.9 3025.7 L1100.9 3025.8 L1102.9 3025.9 L1104.9 3025.9 L1106.9 3026 L1108.9 3026.1 L1110.9 3026.2 L1112.9 3026.3 L1114.9 3026.3 L1116.9 3026.4 L1118.9 3026.5 L1120.9 3026.6 L1122.9 3026.7 L1124.9 3026.7 L1126.9 3026.8 L1128.9 3026.9 L1130.9 3027 L1132.9 3027 L1134.9 3027.1 L1136.9 3027.2 L1138.9 3027.3 L1140.9 3027.4 L1142.9 3027.4 L1144.9 3027.5 L1146.9 3027.6 L1148.9 3027.7 L1150.9 3027.8 L1152.9 3027.8 L1154.9 3027.9 L1156.9 3028 L1158.9 3028.1 L1160.9 3028.2 L1162.9 3028.2 L1164.9 3028.3 L1166.9 3028.4 L1168.9 3028.5 L1170.9 3028.6 L1172.9 3028.6 L1174.9 3028.7 L1176.9 3028.8 L1178.9 3028.9 L1180.9 3029 L1182.9 3029 L1184.9 3029.1 L1186.9 3029.2 L1188.9 3029.3 L1190.9 3029.4 L1192.9 3029.4 L1194.9 3029.5 L1196.9 3029.6 L1198.9 3029.7 L1200.9 3029.8 L1202.9 3029.8 L1204.9 3029.9 L1206.9 3030 L1208.9 3030.1 L1210.9 3030.1 L1212.9 3030.2 L1214.9 3030.3 L1216.9 3030.4 L1218.9 3030.5 L1220.9 3030.5 L1222.9 3030.6 L1224.9 3030.7 L1226.9 3030.8 L1228.9 3030.9 L1230.9 3030.9 L1232.9 3031 L1234.9 3031.1 L1236.9 3031.2 L1238.9 3031.3 L1240.9 3031.3 L1242.9 3031.4 L1244.9 3031.5 L1246 3031.5" fill="none" stroke="#00FFFF" stroke-width="4.5" stroke-linejoin="round"/>
<line x1="132.9" y1="2987.4" x2="1246" y2="3031.6" stroke="#000" stroke-width="6.5" stroke-linecap="butt"/>
<path d="M132.9 3119.2 L132.9 2223.2 M132.9 2223.2 L1249.2 2223.2 M1246 2223.2 L1246 3119.2 M129.7 3116 L1249.2 3116" stroke="#000" stroke-width="6.5" fill="none" stroke-linecap="butt"/>
<path d="M203.2 3116 L203.2 3132M384.4 3116 L384.4 3132M565.6 3116 L565.6 3132M746.9 3116 L746.9 3132M928.1 3116 L928.1 3132M1109.3 3116 L1109.3 3132" stroke="#000" stroke-width="6.5" fill="none"/>
<path d="M293.8 3116 L293.8 3124.5M475 3116 L475 3124.5M656.2 3116 L656.2 3124.5M837.5 3116 L837.5 3124.5M1018.7 3116 L1018.7 3124.5M1199.9 3116 L1199.9 3124.5" stroke="#000" stroke-width="6.5" fill="none"/>
<text x="203.2" y="3186.4" font-size="54" fill="#000" text-anchor="middle">234</text>
<text x="384.4" y="3186.4" font-size="54" fill="#000" text-anchor="middle">232</text>
<text x="565.6" y="3186.4" font-size="54" fill="#000" text-anchor="middle">230</text>
<text x="746.9" y="3186.4" font-size="54" fill="#000" text-anchor="middle">228</text>
<text x="928.1" y="3186.4" font-size="54" fill="#000" text-anchor="middle">226</text>
<text x="1109.3" y="3186.4" font-size="54" fill="#000" text-anchor="middle">224</text>
<text x="665" y="3252.5" font-size="59" fill="#000" text-anchor="middle">Binding energy (eV)</text>
<text x="93" y="2675" font-size="59.5" fill="#000" text-anchor="middle" transform="rotate(-90 93 2675)">Intensity (a.u.)</text>
<text x="185" y="2316" font-size="57" fill="#8B0000" text-anchor="start">Mo <tspan font-style="italic">3d</tspan></text>
<path d="M263.2 2364.5 L263.2 2466.6 M255.2 2364.5 L271.2 2364.5 M255.2 2466.6 L271.2 2466.6" stroke="#FF0F8E" stroke-width="5" fill="none" stroke-linecap="round"/>
<text x="146" y="2429.3" font-size="45" fill="#FF0F8E" text-anchor="start">5000</text>
<text x="840" y="2289.3" font-size="57" fill="#1E8B1E" text-anchor="start">S 2s</text>
<text x="206" y="2873.2" font-size="60" fill="#23A09B" text-anchor="start">2H-MoS<tspan font-size="40" dx="3" dy="15">2</tspan></text>
<text x="475" y="2834" font-size="60" fill="#8B0000" text-anchor="start">1T-MoS<tspan font-size="40" dx="3" dy="15">2</tspan></text>
<line x1="246" y1="2964" x2="279.1" y2="2921.1" stroke="#23A09B" stroke-width="6.5" stroke-linecap="round"/><path d="M295.9 2899.2 L283.4 2932 L267.4 2919.6Z" fill="#23A09B" stroke="#23A09B" stroke-width="4" stroke-linejoin="round"/>
<line x1="603" y1="2985.7" x2="417.8" y2="2914.4" stroke="#23A09B" stroke-width="6.5" stroke-linecap="round"/><path d="M392 2904.5 L427 2907.1 L419.7 2926Z" fill="#23A09B" stroke="#23A09B" stroke-width="4" stroke-linejoin="round"/>
<line x1="367.5" y1="2968.6" x2="519.7" y2="2887.5" stroke="#1E78E6" stroke-width="6.5" stroke-linecap="round"/><path d="M544 2874.6 L519.1 2899.3 L509.6 2881.5Z" fill="#1E78E6" stroke="#1E78E6" stroke-width="4" stroke-linejoin="round"/>
<line x1="716.4" y1="2960" x2="649.9" y2="2892.4" stroke="#1E78E6" stroke-width="6.5" stroke-linecap="round"/><path d="M630.6 2872.7 L661.3 2889.6 L646.9 2903.8Z" fill="#1E78E6" stroke="#1E78E6" stroke-width="4" stroke-linejoin="round"/>
<clipPath id="c5"><path d="M1340.2 2230.4 L1340.2 3025.8 L1340.2 3025.8 L1437 2976 L1530 2922 L1653.6 2852 L1689.3 2832 L1778.6 2784.8 L1900 2718.8 L1995 2666.1 L2048.6 2635.7 L2102 2603.6 L2170 2566.1 L2247.1 2526.1 L2318.6 2486.8 L2390 2447.5 L2431.4 2422.7 L2431.4 2230.4Z"/></clipPath>
<g clip-path="url(#c5)">
<path d="M1340.2 3008.5 L1342.9 3006.9 L1346.4 3004.9 L1350.7 3002.4 L1355.5 2999.5 L1360.6 2996.2 L1365.7 2992.5 L1369.2 2989.8 L1373 2986.8 L1376.9 2983.7 L1380.9 2980.3 L1385 2976.8 L1389.2 2973.3 L1393.3 2969.7 L1397.4 2966.1 L1401.4 2962.5 L1405.3 2959 L1409 2955.5 L1412.8 2952 L1416.5 2948.4 L1420.2 2944.8 L1424 2941.1 L1427.9 2937.3 L1431.9 2933.4 L1436 2929.3 L1439.6 2925.8 L1443.3 2922 L1447.2 2918.1 L1451.2 2914.1 L1455.2 2910 L1459.2 2906 L1463.1 2902 L1467 2898.1 L1470.7 2894.3 L1474.3 2890.8 L1477.6 2887.6 L1482.4 2883 L1486.8 2878.9 L1490.9 2875.2 L1494.8 2871.7 L1498.6 2868.3 L1502.4 2865 L1506.2 2861.5 L1510.2 2857.8 L1514.1 2854.1 L1518.1 2850.3 L1522 2846.7 L1525.7 2843.3 L1529.2 2840.2 L1532.4 2837.6 L1538.4 2833.4 L1543.3 2830.8 L1549 2828.1 L1553.3 2826 L1558 2823.8 L1563 2821.7 L1568 2819.5 L1572.9 2817.4 L1577.8 2815.4 L1582.7 2813.4 L1587.6 2811.5 L1592.3 2809.7 L1596.7 2807.9 L1602.1 2805.7 L1606.8 2803.7 L1614.5 2800 L1618.3 2798.2 L1622.8 2796.3 L1627.7 2794.1 L1633 2791.8 L1638.4 2789.3 L1643.9 2786.6 L1649.2 2783.7 L1654.3 2780.6 L1658.9 2777.3 L1662.8 2774.1 L1666.5 2770.6 L1670.2 2766.8 L1673.8 2762.9 L1677.2 2758.9 L1680.6 2754.8 L1683.8 2750.6 L1687 2746.4 L1690 2742.2 L1692.9 2738 L1696 2733.2 L1699 2728.2 L1701.8 2723 L1704.5 2717.7 L1707.1 2712.5 L1709.5 2707.5 L1711.8 2702.9 L1714 2698.7 L1716 2695.1 L1719.9 2688.9 L1723.1 2684.6 L1725.8 2681.5 L1728.6 2679.1 L1734 2676.4 L1739.3 2676.4 L1745.4 2678.6 L1751.8 2682.5 L1755.9 2685.9 L1760 2689.8 L1764.3 2693.4 L1768.8 2696.5 L1773.5 2699.2 L1778.6 2701.4 L1784.3 2703.1 L1790.3 2704.1 L1796.4 2704.1 L1802.4 2702.6 L1808.5 2700.1 L1814.3 2696.9 L1818.4 2694.3 L1822.2 2691.3 L1826.2 2688 L1830.4 2684.4 L1834 2681.3 L1837.6 2678.2 L1841.5 2674.7 L1845.6 2670.9 L1850 2666.5 L1853.5 2662.9 L1857.2 2658.8 L1861.2 2654.5 L1865.2 2650 L1869.2 2645.6 L1873.2 2641.4 L1877 2637.5 L1881.3 2633.3 L1885.4 2629.3 L1889.6 2625.5 L1893.7 2621.9 L1897.8 2618.7 L1902.1 2615.7 L1907.3 2612.6 L1912.5 2609.9 L1917.8 2607.6 L1923.3 2605.7 L1928.9 2604.1 L1933.8 2603.1 L1938.9 2602.5 L1944.1 2602.2 L1949.3 2602 L1954.4 2601.7 L1959.3 2601.4 L1964.9 2601 L1970.2 2600.6 L1975.5 2600.2 L1980.7 2599.6 L1986 2598.7 L1991.5 2597.3 L1997.2 2595.7 L2002.8 2593.8 L2008.1 2591.8 L2012.9 2589.8 L2018 2587.4 L2022.4 2584.9 L2026.5 2582.2 L2030.7 2579.1 L2035.3 2575.5 L2039.9 2571.6 L2044.4 2567.4 L2048.6 2563 L2052.5 2558.3 L2056.1 2553.4 L2059.5 2548.4 L2062.9 2543.4 L2066.2 2538.5 L2069.3 2533.7 L2072.3 2528.7 L2075.4 2523.7 L2078.6 2518.3 L2081.9 2512.7 L2085 2507.2 L2087.9 2502.3 L2090.8 2497.4 L2093.3 2493.3 L2096.8 2488 L2099.2 2484.5 L2101.9 2480.6 L2104.9 2476.4 L2108.1 2472 L2111.5 2467.7 L2115 2463.5 L2118.8 2459.3 L2123 2455.1 L2127.3 2450.8 L2131.7 2446.6 L2136 2442.7 L2140 2439.1 L2144.5 2435.4 L2148.7 2432.3 L2152.9 2429.4 L2157.1 2426.4 L2161.4 2423 L2165.1 2419.8 L2168.9 2416.5 L2172.7 2413 L2176.5 2409.4 L2180.5 2405.6 L2184.6 2401.5 L2188.3 2397.7 L2192.3 2393.4 L2196.3 2388.9 L2200.3 2384.5 L2204.3 2380.2 L2208 2376.3 L2211.4 2373 L2216.5 2368.6 L2220.9 2365.5 L2225 2362.9 L2229.3 2360.5 L2235.2 2357.3 L2241.2 2354.6 L2247.1 2352.5 L2253.1 2350.9 L2259 2350 L2265 2349.8 L2271 2350.6 L2276.9 2352.1 L2282.9 2354.2 L2287.4 2356.2 L2291.8 2358.6 L2296.2 2361.3 L2300.7 2364.1 L2305.2 2367.2 L2309.6 2370.7 L2314.1 2374.2 L2318.6 2377.5 L2323.1 2380.6 L2327.5 2383.5 L2331.9 2386.4 L2336.4 2389.1 L2340.9 2391.8 L2345.3 2394.3 L2349.8 2396.7 L2354.3 2398.9 L2360.2 2401.3 L2366.2 2403.4 L2372.1 2405.1 L2378.1 2406.6 L2384 2407.9 L2390 2408.7 L2395.8 2409.1 L2401.5 2409.1 L2407.9 2408.7 L2413.9 2408 L2420.8 2406.9 L2427 2405.8 L2431.4 2405.1" fill="none" stroke="#000" stroke-width="4.6" stroke-linejoin="round"/>
<use href="#b10_5" x="1347.9" y="3003.2"/><use href="#b10_5" x="1362.1" y="2965.7"/><use href="#b10_5" x="1372" y="2943.4"/><use href="#b10_5" x="1397.9" y="2960.4"/><use href="#b10_5" x="1407.7" y="2955.9"/><use href="#b10_5" x="1417.5" y="2941.6"/><use href="#b10_5" x="1430.4" y="2907.7"/><use href="#b10_5" x="1466.6" y="2898.8"/><use href="#b10_5" x="1488" y="2864.8"/><use href="#b10_5" x="1498.8" y="2788"/><use href="#b10_5" x="1517.5" y="2844.3"/><use href="#b10_5" x="1555.9" y="2811.3"/><use href="#b10_5" x="1566.6" y="2781.8"/><use href="#b10_5" x="1576.4" y="2810.4"/><use href="#b10_5" x="1606.2" y="2769.6"/><use href="#b10_5" x="1622.3" y="2794.6"/><use href="#b10_5" x="1633" y="2792"/><use href="#b10_5" x="1642.9" y="2775.9"/><use href="#b10_5" x="1651.8" y="2787.5"/><use href="#b10_5" x="1663.4" y="2737.5"/><use href="#b10_5" x="1673.2" y="2763.4"/><use href="#b10_5" x="1681.2" y="2744.6"/><use href="#b10_5" x="1691" y="2752.7"/><use href="#b10_5" x="1700.9" y="2722.3"/><use href="#b10_5" x="1710.7" y="2713.4"/><use href="#b10_5" x="1721.4" y="2683.9"/><use href="#b10_5" x="1733" y="2654.5"/><use href="#b10_5" x="1741" y="2687.5"/><use href="#b10_5" x="1752.7" y="2644.6"/><use href="#b10_5" x="1769.6" y="2701.8"/><use href="#b10_5" x="1779.5" y="2711.6"/><use href="#b10_5" x="1790.2" y="2726.8"/><use href="#b10_5" x="1800.9" y="2688.4"/><use href="#b10_5" x="1810.7" y="2635.7"/><use href="#b10_5" x="1820.5" y="2673.2"/><use href="#b10_5" x="1828.6" y="2700.9"/><use href="#b10_5" x="1839.3" y="2678.6"/><use href="#b10_5" x="1857" y="2656.2"/><use href="#b10_5" x="1866" y="2642"/><use href="#b10_5" x="1877.1" y="2637.5"/><use href="#b10_5" x="1887" y="2621.4"/><use href="#b10_5" x="1896.8" y="2622.3"/><use href="#b10_5" x="1907.5" y="2586.6"/><use href="#b10_5" x="1917.3" y="2603.6"/><use href="#b10_5" x="1927.1" y="2630"/><use href="#b10_5" x="1945" y="2562.5"/><use href="#b10_5" x="1957.5" y="2558.9"/><use href="#b10_5" x="1966.4" y="2630"/><use href="#b10_5" x="1986" y="2626"/><use href="#b10_5" x="1996.8" y="2605.4"/><use href="#b10_5" x="2005.7" y="2535.7"/><use href="#b10_5" x="2015.5" y="2565.2"/><use href="#b10_5" x="2025.4" y="2550.9"/><use href="#b10_5" x="2043" y="2591"/><use href="#b10_5" x="2054.8" y="2553.6"/><use href="#b10_5" x="2060" y="2569"/><use href="#b10_5" x="2091.4" y="2516.1"/><use href="#b10_5" x="2103" y="2481.2"/><use href="#b10_5" x="2111" y="2459.8"/><use href="#b10_5" x="2120" y="2458"/><use href="#b10_5" x="2130.7" y="2463.4"/><use href="#b10_5" x="2144.5" y="2375.2"/><use href="#b10_5" x="2151.6" y="2482.3"/><use href="#b10_5" x="2162.3" y="2468.9"/><use href="#b10_5" x="2168.6" y="2417.1"/><use href="#b10_5" x="2182" y="2418"/><use href="#b10_5" x="2191.8" y="2399.3"/><use href="#b10_5" x="2201.6" y="2336.8"/><use href="#b10_5" x="2211.4" y="2318"/><use href="#b10_5" x="2220.4" y="2381.4"/><use href="#b10_5" x="2230.2" y="2348.4"/><use href="#b10_5" x="2240" y="2369.8"/><use href="#b10_5" x="2250.7" y="2345.7"/><use href="#b10_5" x="2260" y="2319.8"/><use href="#b10_5" x="2279.3" y="2326"/><use href="#b10_5" x="2289.1" y="2360"/><use href="#b10_5" x="2298.9" y="2328.8"/><use href="#b10_5" x="2318.6" y="2370.7"/><use href="#b10_5" x="2333" y="2403"/><use href="#b10_5" x="2336.4" y="2363.6"/><use href="#b10_5" x="2347.1" y="2361.8"/><use href="#b10_5" x="2357" y="2337.7"/><use href="#b10_5" x="2366.8" y="2344.8"/><use href="#b10_5" x="2376.6" y="2373.4"/><use href="#b10_5" x="2386.4" y="2383.2"/><use href="#b10_5" x="2395.4" y="2399.3"/><use href="#b10_5" x="2406" y="2399.3"/>
<path d="M1340.2 3014.8 L1343.5 3013 L1348.1 3010.5 L1353.5 3007.6 L1359.5 3003.9 L1365.7 2999.8 L1369.2 2997.1 L1372.9 2994.2 L1376.7 2991.2 L1380.6 2987.9 L1384.6 2984.5 L1388.8 2980.9 L1392.9 2977.3 L1397.2 2973.5 L1401.4 2969.8 L1404.9 2966.6 L1408.5 2963.3 L1412.2 2959.9 L1416 2956.4 L1419.8 2952.8 L1423.5 2949.2 L1427.3 2945.6 L1431.1 2942 L1434.8 2938.5 L1438.4 2935 L1441.9 2931.6 L1445.7 2927.9 L1449.3 2924.2 L1453 2920.6 L1456.5 2917 L1460 2913.4 L1463.6 2909.8 L1467 2906.3 L1470.5 2902.8 L1474.1 2899.3 L1477.6 2895.8 L1481.6 2892 L1485.8 2888 L1489.9 2884 L1494.1 2880 L1498.2 2876.2 L1502.3 2872.4 L1506.2 2868.9 L1509.9 2865.6 L1513.3 2862.6 L1518.8 2857.9 L1523.7 2854.1 L1528.1 2850.7 L1532.5 2847.7 L1537.1 2844.7 L1541.9 2841.6 L1546.7 2838.8 L1551.4 2836.2 L1556.2 2833.8 L1561 2831.6 L1565.8 2829.6 L1570.5 2827.9 L1575.3 2826.3 L1580 2825 L1584.8 2823.8 L1590.8 2822.4 L1596.9 2821.3 L1602.8 2820.4 L1608.6 2819.7 L1613.9 2819.1 L1619 2818.8 L1624.2 2818.4 L1630 2817.8 L1635.1 2817.3 L1640.5 2816.7 L1646.2 2816 L1652.3 2815 L1659 2813.8 L1663.5 2812.8 L1668.2 2811.7 L1673.1 2810.5 L1678.2 2809.2 L1683.4 2807.8 L1688.8 2806.3 L1694.4 2804.6 L1700 2802.8 L1704.6 2801.1 L1709.4 2799.4 L1714.3 2797.5 L1719.4 2795.5 L1724.4 2793.5 L1729.6 2791.4 L1734.7 2789.3 L1739.9 2787.1 L1745 2784.9 L1750 2782.8 L1754.7 2780.7 L1759.8 2778.4 L1765 2776.1 L1770.3 2773.6 L1775.5 2771.2 L1780.7 2768.8 L1785.5 2766.5 L1790 2764.4 L1794 2762.6 L1797.3 2761 L1800 2759.8 L1800 2771.2 L1797.3 2772.6 L1794 2774.4 L1790 2776.6 L1785.5 2779 L1780.7 2781.7 L1775.5 2784.4 L1770.3 2787.2 L1765 2790 L1759.8 2792.8 L1754.7 2795.4 L1750 2797.9 L1745 2800.6 L1739.9 2803.3 L1734.7 2806 L1729.6 2808.7 L1724.4 2811.4 L1719.4 2814.1 L1714.3 2816.8 L1709.4 2819.4 L1704.6 2821.9 L1700 2824.3 L1694.4 2827.3 L1688.8 2830.3 L1683.4 2833.3 L1678.2 2836.2 L1673.1 2839.1 L1668.2 2841.8 L1663.5 2844.5 L1659 2847 L1652.3 2850.7 L1646.2 2854.2 L1640.5 2857.4 L1635.1 2860.5 L1630 2863.4 L1624.2 2866.7 L1619 2869.6 L1613.9 2872.5 L1608.6 2875.5 L1602.8 2878.8 L1596.9 2882.1 L1590.8 2885.6 L1584.8 2889 L1580 2891.7 L1575.3 2894.4 L1570.5 2897 L1565.8 2899.7 L1561 2902.4 L1556.2 2905.1 L1551.4 2907.9 L1546.7 2910.6 L1541.9 2913.3 L1537.1 2916 L1532.5 2918.6 L1528.1 2921.1 L1523.7 2923.7 L1518.8 2926.5 L1513.3 2929.7 L1509.9 2931.7 L1506.2 2933.8 L1502.3 2936.1 L1498.2 2938.4 L1494.1 2940.8 L1489.9 2943.3 L1485.8 2945.7 L1481.6 2948.1 L1477.6 2950.4 L1474.1 2952.5 L1470.5 2954.5 L1467 2956.6 L1463.6 2958.6 L1460 2960.6 L1456.5 2962.7 L1453 2964.7 L1449.3 2966.8 L1445.7 2969 L1441.9 2971.2 L1438.4 2973.2 L1434.8 2975.2 L1431.1 2977.1 L1427.3 2979 L1423.5 2980.9 L1419.8 2982.9 L1416 2984.8 L1412.2 2986.7 L1408.5 2988.6 L1404.9 2990.5 L1401.4 2992.3 L1397.2 2994.5 L1392.9 2996.7 L1388.8 2998.8 L1384.6 3000.9 L1380.6 3003 L1376.7 3005 L1372.9 3007 L1369.2 3008.9 L1365.7 3010.7 L1359.5 3013.9 L1353.5 3016.9 L1348.1 3019.7 L1343.5 3022.1 L1340.2 3023.8Z" fill="#00C5C8"/><path d="M1340.2 3014.8 L1343.5 3013 L1348.1 3010.5 L1353.5 3007.6 L1359.5 3003.9 L1365.7 2999.8 L1369.2 2997.1 L1372.9 2994.2 L1376.7 2991.2 L1380.6 2987.9 L1384.6 2984.5 L1388.8 2980.9 L1392.9 2977.3 L1397.2 2973.5 L1401.4 2969.8 L1404.9 2966.6 L1408.5 2963.3 L1412.2 2959.9 L1416 2956.4 L1419.8 2952.8 L1423.5 2949.2 L1427.3 2945.6 L1431.1 2942 L1434.8 2938.5 L1438.4 2935 L1441.9 2931.6 L1445.7 2927.9 L1449.3 2924.2 L1453 2920.6 L1456.5 2917 L1460 2913.4 L1463.6 2909.8 L1467 2906.3 L1470.5 2902.8 L1474.1 2899.3 L1477.6 2895.8 L1481.6 2892 L1485.8 2888 L1489.9 2884 L1494.1 2880 L1498.2 2876.2 L1502.3 2872.4 L1506.2 2868.9 L1509.9 2865.6 L1513.3 2862.6 L1518.8 2857.9 L1523.7 2854.1 L1528.1 2850.7 L1532.5 2847.7 L1537.1 2844.7 L1541.9 2841.6 L1546.7 2838.8 L1551.4 2836.2 L1556.2 2833.8 L1561 2831.6 L1565.8 2829.6 L1570.5 2827.9 L1575.3 2826.3 L1580 2825 L1584.8 2823.8 L1590.8 2822.4 L1596.9 2821.3 L1602.8 2820.4 L1608.6 2819.7 L1613.9 2819.1 L1619 2818.8 L1624.2 2818.4 L1630 2817.8 L1635.1 2817.3 L1640.5 2816.7 L1646.2 2816 L1652.3 2815 L1659 2813.8 L1663.5 2812.8 L1668.2 2811.7 L1673.1 2810.5 L1678.2 2809.2 L1683.4 2807.8 L1688.8 2806.3 L1694.4 2804.6 L1700 2802.8 L1704.6 2801.1 L1709.4 2799.4 L1714.3 2797.5 L1719.4 2795.5 L1724.4 2793.5 L1729.6 2791.4 L1734.7 2789.3 L1739.9 2787.1 L1745 2784.9 L1750 2782.8 L1754.7 2780.7 L1759.8 2778.4 L1765 2776.1 L1770.3 2773.6 L1775.5 2771.2 L1780.7 2768.8 L1785.5 2766.5 L1790 2764.4 L1794 2762.6 L1797.3 2761 L1800 2759.8" fill="none" stroke="#00F5F5" stroke-width="5.5" stroke-linejoin="round"/>
<path d="M1780 2762 L1782.5 2759.2 L1786 2755.1 L1790.1 2750.4 L1794.4 2745.4 L1798.5 2740.8 L1801.8 2737 L1806.5 2731.7 L1810.1 2727.7 L1814.3 2723.2 L1817.5 2719.9 L1821 2716.4 L1824.7 2712.8 L1828.4 2709.1 L1832.1 2705.4 L1835.6 2701.7 L1839.2 2697.9 L1842.7 2694 L1846.3 2690.1 L1850 2686 L1853.9 2681.7 L1857.9 2677.2 L1862.1 2672.6 L1866.1 2668.2 L1870 2664 L1873.8 2660 L1877.6 2656.1 L1881.3 2652.4 L1884.7 2649 L1887.9 2646 L1892.4 2642 L1896.3 2638.8 L1900 2636 L1905.5 2632 L1911 2628.6 L1917 2625.6 L1923.6 2623.3 L1928.7 2622.4 L1934.2 2621.8 L1940 2621.5 L1945.8 2621.3 L1951.9 2621.4 L1959.3 2621.5 L1963.8 2621.5 L1969 2621.6 L1974.4 2621.7 L1979.9 2621.8 L1985.2 2621.9 L1990 2622 L1996.2 2622.1 L2001.7 2622.3 L2007.1 2622.5 L2012.9 2622.9 L2018.5 2623.4 L2024.7 2624.1 L2030.9 2624.9 L2036.2 2625.5 L2040 2626 L2040 2638.6 L2036.2 2640.7 L2030.9 2643.7 L2024.7 2647.2 L2018.5 2650.8 L2012.9 2653.9 L2007.1 2657.3 L2001.7 2660.3 L1996.2 2663.4 L1990 2666.9 L1985.2 2669.5 L1979.9 2672.5 L1974.4 2675.5 L1969 2678.5 L1963.8 2681.4 L1959.3 2683.9 L1951.9 2688 L1945.8 2691.4 L1940 2694.6 L1934.2 2697.8 L1928.7 2700.9 L1923.6 2703.7 L1917 2707.3 L1911 2710.7 L1905.5 2713.7 L1900 2716.8 L1896.3 2718.8 L1892.4 2720.9 L1887.9 2723.3 L1884.7 2725.1 L1881.3 2726.9 L1877.6 2728.9 L1873.8 2731 L1870 2733.1 L1866.1 2735.2 L1862.1 2737.4 L1857.9 2739.6 L1853.9 2741.8 L1850 2744 L1846.3 2746 L1842.7 2747.9 L1839.2 2749.9 L1835.6 2751.8 L1832.1 2753.7 L1828.4 2755.7 L1824.7 2757.7 L1821 2759.7 L1817.5 2761.6 L1814.3 2763.4 L1810.1 2765.7 L1806.5 2767.6 L1801.8 2770.2 L1798.5 2772 L1794.4 2774.2 L1790.1 2776.5 L1786 2778.8 L1782.5 2780.7 L1780 2782Z" fill="#A99AF5"/>
<path d="M2140 2535 L2141.5 2531.9 L2143.6 2527.8 L2146.1 2522.8 L2148.8 2517.4 L2151.6 2511.6 L2154.5 2505.9 L2157.2 2500.5 L2159.6 2495.7 L2162.1 2490.7 L2164.4 2485.9 L2166.7 2481.3 L2168.9 2476.7 L2171.1 2472.3 L2173.3 2467.9 L2175.7 2463.6 L2178.6 2458.6 L2181.5 2453.7 L2184.5 2448.9 L2187.6 2444.1 L2190.6 2439.5 L2193.6 2435 L2196.6 2430.6 L2199.5 2426.3 L2202.5 2422.1 L2205.5 2417.9 L2208.4 2413.9 L2211.4 2410 L2215 2405.4 L2218.6 2400.8 L2222.1 2396.5 L2225.7 2392.4 L2229.3 2388.6 L2233.8 2384.3 L2238.2 2380.5 L2242.6 2377.1 L2247.1 2374.3 L2253.1 2371.5 L2259 2369.8 L2265 2368.9 L2271 2369 L2276.9 2370 L2282.9 2371.6 L2288.8 2373.8 L2294.8 2376.7 L2300.7 2379.6 L2305.2 2381.7 L2309.6 2383.9 L2314.1 2386.2 L2318.6 2388.6 L2323.1 2391.2 L2327.5 2394 L2331.9 2396.8 L2336.4 2399.3 L2342.4 2402.3 L2348.3 2404.9 L2354.3 2407.3 L2360.2 2409.4 L2366.2 2411.2 L2372.1 2412.7 L2378.1 2413.9 L2384 2414.8 L2390 2415.4 L2395.8 2415.7 L2401.5 2415.8 L2407.9 2415.4 L2413.9 2414.6 L2420.8 2413.4 L2427 2412.3 L2431.4 2411.5 L2431.4 2420.7 L2427 2423.3 L2420.8 2427.1 L2413.9 2431.2 L2407.9 2434.8 L2401.5 2438.6 L2395.8 2442.1 L2390 2445.5 L2384 2448.8 L2378.1 2452.1 L2372.1 2455.4 L2366.2 2458.6 L2360.2 2461.9 L2354.3 2465.2 L2348.3 2468.4 L2342.4 2471.7 L2336.4 2475 L2331.9 2477.5 L2327.5 2479.9 L2323.1 2482.3 L2318.6 2484.8 L2314.1 2487.3 L2309.6 2489.7 L2305.2 2492.2 L2300.7 2494.6 L2294.8 2497.9 L2288.8 2501.2 L2282.9 2504.4 L2276.9 2507.7 L2271 2511 L2265 2514.3 L2259 2517.5 L2253.1 2520.8 L2247.1 2524.1 L2242.6 2526.4 L2238.2 2528.7 L2233.8 2531 L2229.3 2533.3 L2225.7 2535.2 L2222.1 2537 L2218.6 2538.9 L2215 2540.8 L2211.4 2542.6 L2208.4 2544.2 L2205.5 2545.7 L2202.5 2547.2 L2199.5 2548.8 L2196.6 2550.3 L2193.6 2551.9 L2190.6 2553.4 L2187.6 2555 L2184.5 2556.6 L2181.5 2558.1 L2178.6 2559.6 L2175.7 2561.1 L2173.3 2562.4 L2171.1 2563.5 L2168.9 2564.7 L2166.7 2565.9 L2164.4 2567.2 L2162.1 2568.5 L2159.6 2569.8 L2157.2 2571.2 L2154.5 2572.7 L2151.6 2574.2 L2148.8 2575.8 L2146.1 2577.3 L2143.6 2578.7 L2141.5 2579.8 L2140 2580.6Z" fill="#A99AF5"/>
<path d="M1340.2 3019.2 L1342.7 3018 L1345.7 3016.5 L1349 3014.8 L1352.7 3012.9 L1356.6 3010.9 L1360.9 3008.7 L1365.4 3006.4 L1370.2 3004 L1375.1 3001.5 L1380.2 2998.9 L1385.4 2996.3 L1390.7 2993.6 L1396.1 2990.8 L1401.4 2988.1 L1406.8 2985.3 L1412.1 2982.5 L1417.4 2979.8 L1422.5 2977 L1427.5 2974.4 L1432.4 2971.8 L1437 2969.2 L1441.5 2966.8 L1446.1 2964.2 L1450.7 2961.6 L1455.3 2959 L1459.9 2956.4 L1464.5 2953.7 L1469.1 2951.1 L1473.7 2948.4 L1478.3 2945.7 L1482.9 2943.1 L1487.4 2940.4 L1492 2937.7 L1496.4 2935.1 L1500.8 2932.5 L1505.2 2929.9 L1509.5 2927.3 L1513.8 2924.8 L1518 2922.3 L1522.1 2919.9 L1526.1 2917.6 L1530 2915.2 L1535.1 2912.3 L1540.1 2909.3 L1545.2 2906.4 L1550.1 2903.5 L1555 2900.7 L1559.8 2897.9 L1564.5 2895.1 L1569.1 2892.4 L1573.6 2889.8 L1577.9 2887.3 L1582.1 2884.8 L1586.1 2882.4 L1589.9 2880.1 L1593.5 2877.9 L1596.9 2875.8 L1600 2873.8 L1607.1 2869 L1612.5 2865.1 L1616.7 2861.8 L1620.1 2858.8 L1623.4 2855.8 L1626.8 2852.8 L1630.9 2849 L1634.6 2845.5 L1637.9 2842 L1641.2 2838.5 L1644.6 2834.8 L1648.2 2830.9 L1651.8 2827 L1655.3 2822.9 L1658.9 2818.5 L1662.5 2813.4 L1665.1 2809.4 L1667.6 2805.1 L1670.2 2800.5 L1672.7 2795.7 L1675.3 2790.8 L1677.8 2786 L1680.4 2781.3 L1683 2776.7 L1685.6 2771.8 L1688.3 2767 L1690.9 2762.2 L1693.5 2757.6 L1695.9 2753.2 L1698.2 2749.2 L1701.7 2742.9 L1704.9 2737.4 L1707.8 2732.5 L1710.7 2727.8 L1714.5 2721.6 L1718.2 2716.1 L1721.4 2711.7 L1725.2 2707.7 L1728.6 2705.4 L1732.2 2703.7 L1735.7 2702.8 L1739.2 2702.6 L1742.9 2703.7 L1747.2 2706.2 L1751.8 2709.8 L1756.2 2714.2 L1760.7 2718.8 L1765.1 2723.5 L1769.6 2727.8 L1774.1 2731.2 L1778.6 2734 L1783.1 2736.1 L1787.5 2737.6 L1791.4 2738.6 L1796.4 2739.3 L1801.7 2739.8 L1808 2740.2 L1814.3 2740.2 L1820.2 2739.9 L1826.2 2739.3 L1832.1 2738.4 L1838.1 2737.2 L1844 2735.7 L1850 2734 L1856 2732.2 L1861.9 2730.1 L1867.9 2727.8 L1874 2725 L1880 2721.9 L1885.7 2718.8 L1889.7 2716.6 L1893.4 2714.4 L1900 2709.8 L1903.1 2707.5 L1906.6 2704.9 L1910.6 2701.9 L1914.9 2698.7 L1919.4 2695.3 L1923.9 2691.8 L1928.5 2688.4 L1933.1 2685 L1937.4 2681.7 L1941.4 2678.8 L1946.1 2675.3 L1950.7 2672 L1955.2 2668.7 L1959.6 2665.6 L1964 2662.5 L1968.3 2659.3 L1972.7 2656.1 L1977.1 2652.8 L1981.2 2649.6 L1985.4 2646.3 L1989.7 2642.9 L1994 2639.5 L1998.2 2636.1 L2002.3 2632.8 L2006.2 2629.7 L2009.7 2626.8 L2012.9 2624.2 L2018.6 2619.4 L2022.9 2615.7 L2026.7 2612.2 L2030.7 2608.2 L2034.3 2604.3 L2037.9 2600.1 L2041.4 2595.8 L2045 2591.3 L2048.6 2586.7 L2051.6 2582.7 L2054.5 2578.6 L2057.5 2574.5 L2060.5 2570.2 L2063.4 2566 L2066.4 2561.7 L2069.4 2557.2 L2072.4 2552.7 L2075.4 2548 L2078.3 2543.4 L2081.3 2539 L2084.3 2534.8 L2087.9 2530.1 L2091.4 2525.5 L2095 2521.1 L2098.5 2517.1 L2102.1 2513.4 L2106.6 2509.5 L2111 2506.1 L2115.5 2503.3 L2120 2500.9 L2125.9 2498.5 L2131.8 2497 L2137.9 2496.5 L2144.2 2497.4 L2150.6 2499.3 L2157 2501.2 L2163.3 2503.1 L2169.5 2505 L2175.7 2506.5 L2181.7 2507.4 L2187.7 2507.9 L2193.6 2508.2 L2199.5 2508.5 L2205.5 2508.5 L2211.4 2508.2 L2217.4 2507.7 L2223.3 2506.8 L2229.3 2505.7 L2234.6 2504.3 L2239.8 2502.7 L2247.1 2500.2 L2251.3 2498.9 L2256 2497.3 L2261.2 2495.6 L2266.6 2493.7 L2272.2 2491.8 L2277.6 2489.8 L2282.9 2487.8 L2288 2485.6 L2293.1 2483.4 L2298.2 2481.1 L2303.3 2478.7 L2308.4 2476.3 L2313.5 2474 L2318.6 2471.7 L2323.7 2469.4 L2328.8 2467.1 L2333.9 2464.9 L2339 2462.6 L2344.1 2460.4 L2349.2 2458 L2354.3 2455.7 L2359.4 2453.2 L2364.3 2450.7 L2369.3 2448.2 L2374.3 2445.6 L2379.4 2443 L2384.6 2440.4 L2390 2437.8 L2394.6 2435.5 L2399.6 2433.1 L2404.9 2430.6 L2410.3 2428.1 L2415.5 2425.7 L2420.5 2423.4 L2424.9 2421.3 L2428.6 2419.6 L2431.4 2418.2 L2431.4 2420.7 L2428.6 2422.4 L2424.9 2424.6 L2420.5 2427.3 L2415.5 2430.2 L2410.3 2433.4 L2404.9 2436.6 L2399.6 2439.7 L2394.6 2442.8 L2390 2445.5 L2384.6 2448.5 L2379.4 2451.3 L2374.3 2454.1 L2369.3 2456.9 L2364.3 2459.6 L2359.4 2462.4 L2354.3 2465.2 L2349.2 2468 L2344.1 2470.8 L2339 2473.6 L2333.9 2476.4 L2328.8 2479.2 L2323.7 2482 L2318.6 2484.8 L2313.5 2487.6 L2308.4 2490.4 L2303.3 2493.2 L2298.2 2496 L2293.1 2498.8 L2288 2501.6 L2282.9 2504.4 L2277.6 2507.3 L2272.2 2510.3 L2266.6 2513.4 L2261.2 2516.4 L2256 2519.2 L2251.3 2521.8 L2247.1 2524.1 L2239.8 2527.9 L2234.6 2530.6 L2229.3 2533.3 L2223.3 2536.4 L2217.4 2539.5 L2211.4 2542.6 L2205.5 2545.7 L2199.5 2548.8 L2193.6 2551.9 L2187.7 2554.9 L2181.7 2558 L2175.7 2561.1 L2169.5 2564.4 L2163.3 2567.8 L2157 2571.3 L2150.6 2574.8 L2144.2 2578.3 L2137.9 2581.8 L2131.8 2585.1 L2125.9 2588.4 L2120 2591.7 L2115.5 2594.1 L2111 2596.6 L2106.6 2599.1 L2102.1 2601.5 L2098.5 2603.7 L2095 2605.8 L2091.4 2608 L2087.9 2610.1 L2084.3 2612.2 L2081.3 2614 L2078.3 2615.8 L2075.4 2617.6 L2072.4 2619.4 L2069.4 2621.2 L2066.4 2623 L2063.4 2624.8 L2060.5 2626.6 L2057.5 2628.3 L2054.5 2630.1 L2051.6 2631.9 L2048.6 2633.7 L2045 2635.7 L2041.4 2637.8 L2037.9 2639.8 L2034.3 2641.8 L2030.7 2643.9 L2026.7 2646.1 L2022.9 2648.3 L2018.6 2650.7 L2012.9 2653.9 L2009.7 2655.8 L2006.2 2657.8 L2002.3 2660 L1998.2 2662.3 L1994 2664.7 L1989.7 2667 L1985.4 2669.4 L1981.2 2671.8 L1977.1 2674 L1972.7 2676.5 L1968.3 2678.9 L1964 2681.3 L1959.6 2683.7 L1955.2 2686.2 L1950.7 2688.6 L1946.1 2691.2 L1941.4 2693.8 L1937.4 2696 L1933.1 2698.4 L1928.5 2700.9 L1923.9 2703.5 L1919.4 2706 L1914.9 2708.5 L1910.6 2710.9 L1906.6 2713.1 L1903.1 2715 L1900 2716.8 L1893.4 2720.4 L1889.7 2722.3 L1885.7 2724.5 L1880 2727.6 L1874 2730.9 L1867.9 2734.2 L1861.9 2737.5 L1856 2740.7 L1850 2744 L1844 2747.2 L1838.1 2750.5 L1832.1 2753.7 L1826.2 2756.9 L1820.2 2760.1 L1814.3 2763.4 L1808 2766.8 L1801.7 2770.2 L1796.4 2773.1 L1791.4 2775.8 L1787.5 2778 L1783.1 2780.4 L1778.6 2782.8 L1774.1 2785.2 L1769.6 2787.6 L1765.1 2789.9 L1760.7 2792.3 L1756.2 2794.6 L1751.8 2797 L1747.2 2799.4 L1742.9 2801.7 L1739.2 2803.6 L1735.7 2805.5 L1732.2 2807.4 L1728.6 2809.2 L1725.2 2811 L1721.4 2813 L1718.2 2814.7 L1714.5 2816.7 L1710.7 2818.7 L1707.8 2820.2 L1704.9 2821.8 L1701.7 2823.4 L1698.2 2825.3 L1695.9 2826.5 L1693.5 2827.8 L1690.9 2829.1 L1688.3 2830.6 L1685.6 2832 L1683 2833.5 L1680.4 2835 L1677.8 2836.4 L1675.3 2837.8 L1672.7 2839.3 L1670.2 2840.7 L1667.6 2842.1 L1665.1 2843.6 L1662.5 2845 L1658.9 2847 L1655.3 2849 L1651.8 2851 L1648.2 2853.1 L1644.6 2855.1 L1641.2 2857 L1637.9 2858.9 L1634.6 2860.8 L1630.9 2862.8 L1626.8 2865.2 L1623.4 2867.1 L1620.1 2869 L1616.7 2870.9 L1612.5 2873.3 L1607.1 2876.4 L1600 2880.4 L1596.9 2882.1 L1593.5 2884.1 L1589.9 2886.1 L1586.1 2888.2 L1582.1 2890.5 L1577.9 2892.9 L1573.6 2895.3 L1569.1 2897.8 L1564.5 2900.4 L1559.8 2903.1 L1555 2905.8 L1550.1 2908.6 L1545.2 2911.4 L1540.1 2914.3 L1535.1 2917.1 L1530 2920 L1526.1 2922.3 L1522.1 2924.6 L1518 2927 L1513.8 2929.4 L1509.5 2931.9 L1505.2 2934.4 L1500.8 2936.9 L1496.4 2939.5 L1492 2942.1 L1487.4 2944.7 L1482.9 2947.3 L1478.3 2950 L1473.7 2952.7 L1469.1 2955.3 L1464.5 2958 L1459.9 2960.7 L1455.3 2963.4 L1450.7 2966.1 L1446.1 2968.7 L1441.5 2971.4 L1437 2974 L1432.4 2976.4 L1427.5 2978.9 L1422.5 2981.4 L1417.4 2984.1 L1412.1 2986.8 L1406.8 2989.5 L1401.4 2992.3 L1396.1 2995.1 L1390.7 2997.8 L1385.4 3000.5 L1380.2 3003.2 L1375.1 3005.8 L1370.2 3008.4 L1365.4 3010.8 L1360.9 3013.1 L1356.6 3015.3 L1352.7 3017.4 L1349 3019.3 L1345.7 3021 L1342.7 3022.5 L1340.2 3023.8Z" fill="#1E6FDC"/><path d="M1340.2 3019.2 L1342.7 3018 L1345.7 3016.5 L1349 3014.8 L1352.7 3012.9 L1356.6 3010.9 L1360.9 3008.7 L1365.4 3006.4 L1370.2 3004 L1375.1 3001.5 L1380.2 2998.9 L1385.4 2996.3 L1390.7 2993.6 L1396.1 2990.8 L1401.4 2988.1 L1406.8 2985.3 L1412.1 2982.5 L1417.4 2979.8 L1422.5 2977 L1427.5 2974.4 L1432.4 2971.8 L1437 2969.2 L1441.5 2966.8 L1446.1 2964.2 L1450.7 2961.6 L1455.3 2959 L1459.9 2956.4 L1464.5 2953.7 L1469.1 2951.1 L1473.7 2948.4 L1478.3 2945.7 L1482.9 2943.1 L1487.4 2940.4 L1492 2937.7 L1496.4 2935.1 L1500.8 2932.5 L1505.2 2929.9 L1509.5 2927.3 L1513.8 2924.8 L1518 2922.3 L1522.1 2919.9 L1526.1 2917.6 L1530 2915.2 L1535.1 2912.3 L1540.1 2909.3 L1545.2 2906.4 L1550.1 2903.5 L1555 2900.7 L1559.8 2897.9 L1564.5 2895.1 L1569.1 2892.4 L1573.6 2889.8 L1577.9 2887.3 L1582.1 2884.8 L1586.1 2882.4 L1589.9 2880.1 L1593.5 2877.9 L1596.9 2875.8 L1600 2873.8 L1607.1 2869 L1612.5 2865.1 L1616.7 2861.8 L1620.1 2858.8 L1623.4 2855.8 L1626.8 2852.8 L1630.9 2849 L1634.6 2845.5 L1637.9 2842 L1641.2 2838.5 L1644.6 2834.8 L1648.2 2830.9 L1651.8 2827 L1655.3 2822.9 L1658.9 2818.5 L1662.5 2813.4 L1665.1 2809.4 L1667.6 2805.1 L1670.2 2800.5 L1672.7 2795.7 L1675.3 2790.8 L1677.8 2786 L1680.4 2781.3 L1683 2776.7 L1685.6 2771.8 L1688.3 2767 L1690.9 2762.2 L1693.5 2757.6 L1695.9 2753.2 L1698.2 2749.2 L1701.7 2742.9 L1704.9 2737.4 L1707.8 2732.5 L1710.7 2727.8 L1714.5 2721.6 L1718.2 2716.1 L1721.4 2711.7 L1725.2 2707.7 L1728.6 2705.4 L1732.2 2703.7 L1735.7 2702.8 L1739.2 2702.6 L1742.9 2703.7 L1747.2 2706.2 L1751.8 2709.8 L1756.2 2714.2 L1760.7 2718.8 L1765.1 2723.5 L1769.6 2727.8 L1774.1 2731.2 L1778.6 2734 L1783.1 2736.1 L1787.5 2737.6 L1791.4 2738.6 L1796.4 2739.3 L1801.7 2739.8 L1808 2740.2 L1814.3 2740.2 L1820.2 2739.9 L1826.2 2739.3 L1832.1 2738.4 L1838.1 2737.2 L1844 2735.7 L1850 2734 L1856 2732.2 L1861.9 2730.1 L1867.9 2727.8 L1874 2725 L1880 2721.9 L1885.7 2718.8 L1889.7 2716.6 L1893.4 2714.4 L1900 2709.8 L1903.1 2707.5 L1906.6 2704.9 L1910.6 2701.9 L1914.9 2698.7 L1919.4 2695.3 L1923.9 2691.8 L1928.5 2688.4 L1933.1 2685 L1937.4 2681.7 L1941.4 2678.8 L1946.1 2675.3 L1950.7 2672 L1955.2 2668.7 L1959.6 2665.6 L1964 2662.5 L1968.3 2659.3 L1972.7 2656.1 L1977.1 2652.8 L1981.2 2649.6 L1985.4 2646.3 L1989.7 2642.9 L1994 2639.5 L1998.2 2636.1 L2002.3 2632.8 L2006.2 2629.7 L2009.7 2626.8 L2012.9 2624.2 L2018.6 2619.4 L2022.9 2615.7 L2026.7 2612.2 L2030.7 2608.2 L2034.3 2604.3 L2037.9 2600.1 L2041.4 2595.8 L2045 2591.3 L2048.6 2586.7 L2051.6 2582.7 L2054.5 2578.6 L2057.5 2574.5 L2060.5 2570.2 L2063.4 2566 L2066.4 2561.7 L2069.4 2557.2 L2072.4 2552.7 L2075.4 2548 L2078.3 2543.4 L2081.3 2539 L2084.3 2534.8 L2087.9 2530.1 L2091.4 2525.5 L2095 2521.1 L2098.5 2517.1 L2102.1 2513.4 L2106.6 2509.5 L2111 2506.1 L2115.5 2503.3 L2120 2500.9 L2125.9 2498.5 L2131.8 2497 L2137.9 2496.5 L2144.2 2497.4 L2150.6 2499.3 L2157 2501.2 L2163.3 2503.1 L2169.5 2505 L2175.7 2506.5 L2181.7 2507.4 L2187.7 2507.9 L2193.6 2508.2 L2199.5 2508.5 L2205.5 2508.5 L2211.4 2508.2 L2217.4 2507.7 L2223.3 2506.8 L2229.3 2505.7 L2234.6 2504.3 L2239.8 2502.7 L2247.1 2500.2 L2251.3 2498.9 L2256 2497.3 L2261.2 2495.6 L2266.6 2493.7 L2272.2 2491.8 L2277.6 2489.8 L2282.9 2487.8 L2288 2485.6 L2293.1 2483.4 L2298.2 2481.1 L2303.3 2478.7 L2308.4 2476.3 L2313.5 2474 L2318.6 2471.7 L2323.7 2469.4 L2328.8 2467.1 L2333.9 2464.9 L2339 2462.6 L2344.1 2460.4 L2349.2 2458 L2354.3 2455.7 L2359.4 2453.2 L2364.3 2450.7 L2369.3 2448.2 L2374.3 2445.6 L2379.4 2443 L2384.6 2440.4 L2390 2437.8 L2394.6 2435.5 L2399.6 2433.1 L2404.9 2430.6 L2410.3 2428.1 L2415.5 2425.7 L2420.5 2423.4 L2424.9 2421.3 L2428.6 2419.6 L2431.4 2418.2" fill="none" stroke="#1E9BF5" stroke-width="5.5" stroke-linejoin="round"/><path d="M1340.2 3019.8 L1437 2970 L1530 2916 L1653.6 2846 L1689.3 2826 L1778.6 2778.8 L1880 2723.6" fill="none" stroke="#1E9BF5" stroke-width="5.5" stroke-linejoin="round"/>
</g>
<path d="M1340.2 3025.8 L1437 2976 L1530 2922 L1653.6 2852 L1689.3 2832 L1778.6 2784.8 L1900 2718.8 L1995 2666.1 L2048.6 2635.7 L2102 2603.6 L2170 2566.1 L2247.1 2526.1 L2318.6 2486.8 L2390 2447.5 L2431.4 2422.7" fill="none" stroke="#000" stroke-width="7" stroke-linejoin="round"/>
<path d="M1340.2 3110.8 L1340.2 2230.4 M1340.2 2230.4 L2434.7 2230.4 M2431.4 2230.4 L2431.4 3110.8 M1337 3107.5 L2434.7 3107.5" stroke="#000" stroke-width="6.5" fill="none" stroke-linecap="butt"/>
<path d="M1339.6 3107.5 L1339.6 3124M1534.7 3107.5 L1534.7 3124M1729.7 3107.5 L1729.7 3124M1924.8 3107.5 L1924.8 3124M2119.8 3107.5 L2119.8 3124M2314.9 3107.5 L2314.9 3124" stroke="#000" stroke-width="6.5" fill="none"/>
<path d="M1437.1 3107.5 L1437.1 3116M1632.2 3107.5 L1632.2 3116M1827.2 3107.5 L1827.2 3116M2022.3 3107.5 L2022.3 3116M2217.4 3107.5 L2217.4 3116M2412.4 3107.5 L2412.4 3116" stroke="#000" stroke-width="6.5" fill="none"/>
<text x="1339.6" y="3177.5" font-size="54" fill="#000" text-anchor="middle">40</text>
<text x="1534.7" y="3177.5" font-size="54" fill="#000" text-anchor="middle">38</text>
<text x="1729.7" y="3177.5" font-size="54" fill="#000" text-anchor="middle">36</text>
<text x="1924.8" y="3177.5" font-size="54" fill="#000" text-anchor="middle">34</text>
<text x="2119.8" y="3177.5" font-size="54" fill="#000" text-anchor="middle">32</text>
<text x="2314.9" y="3177.5" font-size="54" fill="#000" text-anchor="middle">30</text>
<text x="1882.5" y="3232" font-size="59" fill="#000" text-anchor="middle">Binding energy (eV)</text>
<text x="1300.6" y="2670" font-size="59.5" fill="#000" text-anchor="middle" transform="rotate(-90 1300.6 2670)">Intensity (a.u.)</text>
<text x="1380" y="2317" font-size="57" fill="#7B68EE" text-anchor="start">W <tspan font-style="italic">4f</tspan></text>
<path d="M1440.7 2369 L1440.7 2477 M1432.7 2369 L1448.7 2369 M1432.7 2477 L1448.7 2477" stroke="#FF0F8E" stroke-width="5" fill="none" stroke-linecap="round"/>
<text x="1352" y="2436.4" font-size="44" fill="#FF0F8E" text-anchor="start">500</text>
<g transform="translate(1692 2498) rotate(-48)"><text x="-92" y="20" font-size="57" fill="#1E78E6">2H-WS<tspan font-size="36" dx="2" dy="14">2</tspan></text></g>
<g transform="translate(1965.4 2344.3) rotate(-48)"><text x="-88" y="20" font-size="57" fill="#7B68EE">1T-WS<tspan font-size="36" dx="2" dy="14">2</tspan></text></g>
<g transform="translate(1424 2861) rotate(-50)"><text x="-27" y="20" font-size="57" fill="#1FA39F">W<tspan font-size="36" dx="7" dy="-28">6+</tspan></text></g>
<line x1="2095" y1="2508" x2="1769.9" y2="2475.2" stroke="#1E78E6" stroke-width="3.2" stroke-linecap="round"/><path d="M1754.4 2473.6 L1773.2 2471.9 L1772.5 2479.1Z" fill="#1E78E6" stroke="#1E78E6" stroke-width="4" stroke-linejoin="round"/>
<line x1="1735.7" y1="2680.4" x2="1722.4" y2="2525.3" stroke="#1E78E6" stroke-width="3.2" stroke-linecap="round"/><path d="M1721.1 2509.8 L1726.3 2528 L1719.1 2528.6Z" fill="#1E78E6" stroke="#1E78E6" stroke-width="4" stroke-linejoin="round"/>
<line x1="2192.7" y1="2376.4" x2="2042.3" y2="2357.8" stroke="#7B68EE" stroke-width="3.2" stroke-linecap="round"/><path d="M2026.9 2355.9 L2045.8 2354.6 L2044.9 2361.8Z" fill="#7B68EE" stroke="#7B68EE" stroke-width="4" stroke-linejoin="round"/>
<line x1="1912" y1="2585.7" x2="1966.6" y2="2425.3" stroke="#7B68EE" stroke-width="3.2" stroke-linecap="round"/><path d="M1971.6 2410.6 L1969 2429.3 L1962.2 2427Z" fill="#7B68EE" stroke="#7B68EE" stroke-width="4" stroke-linejoin="round"/>
</svg>
</body></html>
